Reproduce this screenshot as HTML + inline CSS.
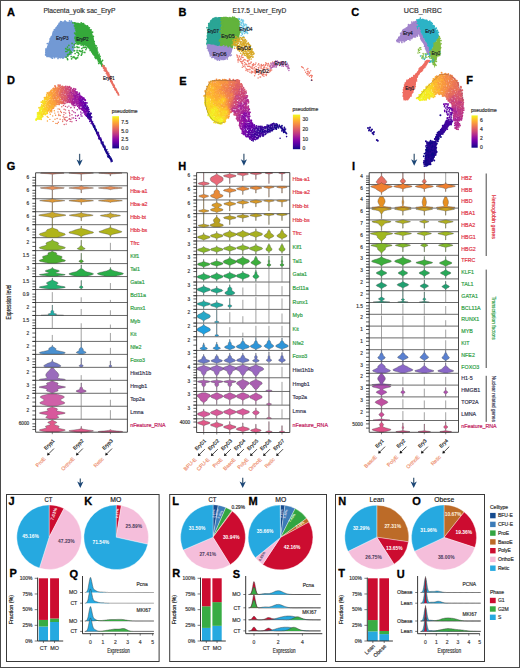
<!DOCTYPE html>
<html><head><meta charset="utf-8"><title>Figure</title>
<style>html,body{margin:0;padding:0;background:#fff;overflow:hidden}svg{display:block}text{font-family:"Liberation Sans",sans-serif}</style>
</head><body>
<svg width="520" height="668" viewBox="0 0 520 668" font-family="Liberation Sans, sans-serif">
<rect width="520" height="668" fill="#fff"/>
<rect x="0.5" y="0.5" width="519" height="667" fill="none" stroke="#4a4a4a" stroke-width="1"/><text x="7" y="16" font-size="11" fill="#000" font-weight="bold" stroke="#000" stroke-width="0.3">A</text><text x="178.6" y="16.2" font-size="11" fill="#000" font-weight="bold" stroke="#000" stroke-width="0.3">B</text><text x="351.3" y="16.4" font-size="11" fill="#000" font-weight="bold" stroke="#000" stroke-width="0.3">C</text><text x="6.9" y="84" font-size="11" fill="#000" font-weight="bold" stroke="#000" stroke-width="0.3">D</text><text x="179.2" y="84.6" font-size="11" fill="#000" font-weight="bold" stroke="#000" stroke-width="0.3">E</text><text x="466.2" y="83.5" font-size="11" fill="#000" font-weight="bold" stroke="#000" stroke-width="0.3">F</text><text x="6.8" y="169.7" font-size="11" fill="#000" font-weight="bold" stroke="#000" stroke-width="0.3">G</text><text x="178.2" y="169.6" font-size="11" fill="#000" font-weight="bold" stroke="#000" stroke-width="0.3">H</text><text x="352" y="169.6" font-size="11" fill="#000" font-weight="bold" stroke="#000" stroke-width="0.3">I</text><text x="8.6" y="504.8" font-size="11" fill="#000" font-weight="bold" stroke="#000" stroke-width="0.3">J</text><text x="84.2" y="504.8" font-size="11" fill="#000" font-weight="bold" stroke="#000" stroke-width="0.3">K</text><text x="172.3" y="504.8" font-size="11" fill="#000" font-weight="bold" stroke="#000" stroke-width="0.3">L</text><text x="248.6" y="504.8" font-size="11" fill="#000" font-weight="bold" stroke="#000" stroke-width="0.3">M</text><text x="338.3" y="504.8" font-size="11" fill="#000" font-weight="bold" stroke="#000" stroke-width="0.3">N</text><text x="412.2" y="505.1" font-size="11" fill="#000" font-weight="bold" stroke="#000" stroke-width="0.3">O</text><text x="9.4" y="577.3" font-size="11" fill="#000" font-weight="bold" stroke="#000" stroke-width="0.3">P</text><text x="69.5" y="577.5" font-size="11" fill="#000" font-weight="bold" stroke="#000" stroke-width="0.3">Q</text><text x="172.2" y="577.3" font-size="11" fill="#000" font-weight="bold" stroke="#000" stroke-width="0.3">R</text><text x="232.8" y="577.5" font-size="11" fill="#000" font-weight="bold" stroke="#000" stroke-width="0.3">S</text><text x="338.2" y="577.3" font-size="11" fill="#000" font-weight="bold" stroke="#000" stroke-width="0.3">T</text><text x="396.8" y="577.5" font-size="11" fill="#000" font-weight="bold" stroke="#000" stroke-width="0.3">U</text><text x="43.4" y="12.6" font-size="6.6" fill="#333" stroke="#333" stroke-width="0.18" textLength="72" lengthAdjust="spacingAndGlyphs">Placenta_yolk sac_EryP</text><text x="232.6" y="12.6" font-size="6.6" fill="#333" stroke="#333" stroke-width="0.18" textLength="53.6" lengthAdjust="spacingAndGlyphs">E17.5_Liver_EryD</text><text x="403.8" y="12.6" font-size="6.6" fill="#333" stroke="#333" stroke-width="0.18" textLength="38" lengthAdjust="spacingAndGlyphs">UCB_nRBC</text><path d="M45.4 55.4 C44.73 54.15 45.57 51.9 46 50 C46.43 48.1 47.25 46 48 44 C48.75 42 49.58 40.08 50.5 38 C51.42 35.92 52.5 33.42 53.5 31.5 C54.5 29.58 55.5 27.92 56.5 26.5 C57.5 25.08 58.25 23.78 59.5 23 C60.75 22.22 62.42 22 64 21.8 C65.58 21.6 67.42 21.68 69 21.8 C70.58 21.92 72.5 21.8 73.5 22.5 C74.5 23.2 74.67 24.42 75 26 C75.33 27.58 75.42 29.67 75.5 32 C75.58 34.33 75.75 37.33 75.5 40 C75.25 42.67 74.75 45.83 74 48 C73.25 50.17 71.92 51.67 71 53 C70.08 54.33 69.33 55.25 68.5 56 C67.67 56.75 67.42 57.17 66 57.5 C64.58 57.83 61.83 58 60 58 C58.17 58 56.67 57.58 55 57.5 C53.33 57.42 51.6 57.85 50 57.5 C48.4 57.15 46.07 56.65 45.4 55.4Z" fill="#7299d4"/><path d="M65 20.8h0M69.5 20.9h0M60.6 21.6h0M61.4 21.8h0M63.1 22.1h0M64.8 21.6h0M65.8 21.6h0M71.3 21.2h0M71.9 22.1h0M59.2 23.3h0M60.2 22.9h0M62.1 23.2h0M63 22.8h0M65.1 23h0M66.4 23.1h0M68.4 23.8h0M68.7 22.9h0M70.7 24h0M72.8 23.1h0M73.5 23.5h0M59.3 25.2h0M60.2 25h0M71.3 24.1h0M72.6 24.2h0M73.4 25.3h0M58 25.8h0M58.5 26.5h0M73.7 26.8h0M56.3 27.6h0M56.9 27.8h0M74.5 28.2h0M54.4 29.5h0M56.2 29.6h0M57 29.3h0M74.2 29.4h0M53.5 31.4h0M54.8 31.3h0M56.1 31.1h0M74.1 30.9h0M75.9 30.4h0M53 32.9h0M54.8 32.9h0M55.4 32.3h0M74.6 32.2h0M53.1 33.7h0M54.6 34h0M74.2 33.7h0M75.7 33.9h0M76.5 34.3h0M52.7 34.9h0M74.2 35.6h0M75.1 34.8h0M76.8 35.3h0M51.3 36.8h0M52.7 36.4h0M73.7 36.3h0M75.3 37.3h0M50.1 38.9h0M51.1 37.7h0M74.6 37.7h0M75.4 38.2h0M50.4 39.5h0M51.3 39.5h0M73.7 39.6h0M75.7 39.8h0M50.6 41.7h0M74.4 40.7h0M75.2 41.8h0M47.3 43.5h0M49.9 42.8h0M74.5 42.3h0M48.7 44.3h0M49.7 44.2h0M73 44.2h0M74.2 44.8h0M48.8 46.3h0M73 45.5h0M74 45.7h0M48.1 46.9h0M73.6 47.5h0M45.8 49h0M46.3 49.1h0M47.9 48.6h0M72.4 48.4h0M73.5 48.7h0M45.9 50.6h0M46.3 50h0M70.8 50.9h0M72.3 50.4h0M73.3 50.3h0M45.8 52.2h0M46.6 52.2h0M69.7 52.4h0M70.3 52.3h0M72.2 52.3h0M47.4 52.8h0M70 53.9h0M70.5 53.4h0M45.6 54.8h0M47.5 54.4h0M47.7 55.4h0M66.7 54.6h0M67.4 54.5h0M69.2 54.5h0M70.9 54.3h0M47.1 56.4h0M48.5 55.7h0M49.6 56.1h0M51.1 56.5h0M53.6 56.1h0M54.9 55.9h0M56.2 56.1h0M57.4 55.7h0M59.3 55.9h0M60.4 56h0M62.3 56.4h0M63.6 56.6h0M64.6 55.7h0M66.8 56.1h0M51.3 57.5h0M52.4 58.2h0M54.5 57.7h0M58 58.4h0M59.1 57.2h0M60.3 57.7h0M62.5 57.9h0M63.4 57.8h0" stroke="#7299d4" stroke-width="1.7" stroke-linecap="round" fill="none"/><path d="M72.1 43.4h0M75.5 43.5h0M77.8 43.4h0M80.3 43.6h0M68.9 45.3h0M74.3 44.7h0M82.8 44.7h0M67.5 47.1h0M72.7 47.1h0M74.9 47.3h0M77 46.5h0M77.3 47.5h0M78.9 47.4h0M83.2 47.4h0M84.5 47.4h0M85.6 47.1h0M65.7 48.7h0M69.3 49h0M81.8 48.5h0M86.5 48.1h0M67.1 49.4h0M68.1 50.2h0M70 50.4h0M74.6 50.5h0M77.1 50.3h0M79.3 50.7h0M82.5 50.6h0M85.9 49.6h0M65.8 51.5h0M66.9 51.5h0M69.9 52.3h0M71.1 51.9h0M74.1 51h0M77 52.2h0M80.3 51.2h0M81.3 51.7h0M82.9 52.3h0M84.8 52.4h0M70.5 53h0M71.5 52.6h0M75.1 53.5h0M78.2 52.8h0M79 54h0M81.9 53.9h0M67.5 54.6h0M68.4 54.4h0M69.4 54.2h0M78.2 55.6h0M81.3 55.2h0M66.1 57.2h0M67.9 56h0M71.2 56.6h0M73.2 56.8h0M74.3 57h0M67.4 58.7h0M71.6 58.8h0M73 57.5h0M75.1 58.1h0M76.5 58.2h0M77.6 57.7h0M67.7 59.6h0M75.9 59h0" stroke="#35a93a" stroke-width="1.7" stroke-linecap="round" fill="none"/><path d="M73.5 22.5 C74 22 76.25 22.75 78 23 C79.75 23.25 82.33 23.42 84 24 C85.67 24.58 86.75 25.17 88 26.5 C89.25 27.83 90.58 30.08 91.5 32 C92.42 33.92 92.92 36 93.5 38 C94.08 40 94.45 42.08 95 44 C95.55 45.92 96.2 47.75 96.8 49.5 C97.4 51.25 97.98 53 98.6 54.5 C99.22 56 99.93 57.17 100.5 58.5 C101.07 59.83 101.45 61.25 102 62.5 C102.55 63.75 103.8 65.33 103.8 66 C103.8 66.67 102.87 67.27 102 66.5 C101.13 65.73 99.68 62.82 98.6 61.4 C97.52 59.98 96.47 59.15 95.5 58 C94.53 56.85 93.72 55.83 92.8 54.5 C91.88 53.17 90.97 51.35 90 50 C89.03 48.65 88.33 47.32 87 46.4 C85.67 45.48 83.67 44.9 82 44.5 C80.33 44.1 78.08 44.75 77 44 C75.92 43.25 75.75 42 75.5 40 C75.25 38 75.58 34.33 75.5 32 C75.42 29.67 75.33 27.58 75 26 C74.67 24.42 73 23 73.5 22.5Z" fill="#35a93a"/><path d="M72.9 22.8h0M74.7 22.9h0M81.2 22.8h0M75.4 24.3h0M76.2 23.9h0M78 23.3h0M78.9 23.9h0M80.5 24.3h0M82.2 23.5h0M83.6 23.6h0M74.4 25.8h0M76.6 25.4h0M79.4 25h0M80.5 24.9h0M83 25.7h0M84.6 25.8h0M84.9 25.7h0M87.4 25.8h0M75.2 26.9h0M76.5 26.5h0M87.4 27.1h0M88 26.9h0M75.3 28.6h0M77 29h0M87.1 28.5h0M88.1 29.1h0M89.4 27.8h0M76.2 30.2h0M88.5 30.5h0M90.4 30.2h0M91.1 29.9h0M76.3 32h0M88.4 31.1h0M90.6 31.3h0M91.5 32h0M92.6 32.1h0M74.6 33.1h0M76.3 33.4h0M77.4 32.5h0M89.8 33.5h0M91.6 33.1h0M75.5 34.2h0M76.5 34.6h0M77.5 34.5h0M91.7 35h0M76.7 36.2h0M90.5 36h0M91.2 35.6h0M93.4 36.3h0M75 37.2h0M76.5 37.1h0M91.2 37.3h0M92.7 37.8h0M75 38.6h0M75.9 39.2h0M77.5 39.2h0M91.5 38.5h0M93 39h0M75.6 40.6h0M76.9 40.3h0M92.5 39.9h0M76.4 41.9h0M77.8 42.6h0M93 41.9h0M94.2 41.6h0M77 43.8h0M78.2 44.1h0M79 43.6h0M81.2 43.4h0M83.1 44.1h0M83.9 43.7h0M85.9 43.8h0M93.7 43.9h0M94.4 44.1h0M81.2 45.1h0M82.7 44.5h0M83.7 45.4h0M85.8 45h0M86.7 45h0M93.4 45.3h0M94.1 45.1h0M95.6 45.5h0M87.4 46.2h0M87.9 47h0M89.6 46.4h0M93.9 46.3h0M96.4 46h0M89 47.8h0M90.5 47.5h0M91.2 48.1h0M96.1 48.4h0M97.1 47.8h0M90.3 49.2h0M91.6 49.3h0M95.1 50.1h0M96.4 49.1h0M97 49h0M90.2 50.5h0M91.9 51.3h0M96 51.5h0M97 50.4h0M92 51.9h0M92.8 52.4h0M96.2 52h0M97.8 52.2h0M92.7 53.6h0M94.7 54.2h0M95.6 54.5h0M96.8 54.6h0M99.1 54.2h0M94.4 55.1h0M95.8 55.2h0M97 55.6h0M99 55.3h0M99.8 56.1h0M95.1 57.4h0M95.8 56.4h0M98 56.7h0M99.3 57.5h0M100.1 56.6h0M95.9 58.4h0M97.7 58h0M99.2 57.9h0M100.1 58.9h0M98.1 60.1h0M99.2 59.4h0M100.2 60.1h0M102.6 60.3h0M98.5 61.7h0M101.1 61.9h0M101.7 61.5h0M98.7 63.5h0M99.9 62.6h0M101.8 64.8h0M102.1 66.3h0M104 65.8h0" stroke="#35a93a" stroke-width="1.7" stroke-linecap="round" fill="none"/><path d="M102.3 65 C102.58 64.8 103.25 64.63 104.2 65.8 C105.15 66.97 106.78 69.8 108 72 C109.22 74.2 110.33 76.58 111.5 79 C112.67 81.42 113.7 83.97 115 86.5 C116.3 89.03 118.75 92.73 119.3 94.2 C119.85 95.67 119.18 96.33 118.3 95.3 C117.42 94.27 115.38 90.47 114 88 C112.62 85.53 111.25 82.92 110 80.5 C108.75 78.08 107.75 75.75 106.5 73.5 C105.25 71.25 103.2 68.42 102.5 67 C101.8 65.58 102.02 65.2 102.3 65Z" fill="#ea6f62"/><path d="M102.7 65.1h0M102.9 66.2h0M103.5 66.3h0M103.7 67.8h0M104.7 67.2h0M105.9 67.8h0M103.4 68.5h0M105.1 68.5h0M106.2 68.7h0M104.4 70h0M106.1 70h0M104.1 70.5h0M105 71.2h0M105.8 71h0M106.7 70.6h0M106.3 71.6h0M106.7 71.7h0M107.8 72.1h0M106.1 73.3h0M107.3 73.5h0M108.3 73h0M108.8 73h0M107 74.4h0M108 74.4h0M108.8 73.9h0M107.2 75.2h0M108.1 74.9h0M109.2 74.7h0M108 76.4h0M109 76.3h0M110.6 76.2h0M107.9 77h0M109.4 77.2h0M110.6 77.4h0M109.4 78.8h0M110.4 78.9h0M111.3 78.4h0M110.4 79.1h0M111.1 80.1h0M110.4 80.9h0M111.3 80.8h0M110.5 81.6h0M111.2 81.7h0M112.1 81.5h0M111.4 82.5h0M112.3 82.6h0M111.9 83.7h0M112.3 84h0M113.5 84.3h0M112.8 85.2h0M113.9 84.6h0M114.5 85.6h0M113.3 86.1h0M113.4 87.3h0M114.5 87.2h0M114.6 88.3h0M116 88.8h0M114.8 89.7h0M115.4 90h0M116.2 90.8h0M116.6 90.2h0M116.5 92h0M117.1 92.7h0M118 92.9h0M118.3 94.1h0M118.2 95h0" stroke="#ea6f62" stroke-width="1.3" stroke-linecap="round" fill="none"/><text x="56" y="39.6" font-size="4.9" fill="#1a1a2a" stroke="#1a1a2a" stroke-width="0.18" textLength="12.5" lengthAdjust="spacingAndGlyphs">EryP3</text><text x="76.2" y="41.2" font-size="4.9" fill="#1a1a2a" stroke="#1a1a2a" stroke-width="0.18" textLength="12.4" lengthAdjust="spacingAndGlyphs">EryP2</text><text x="103" y="80.2" font-size="4.9" fill="#1a1a2a" stroke="#1a1a2a" stroke-width="0.18" textLength="11.6" lengthAdjust="spacingAndGlyphs">EryP1</text><path d="M83.2 109.3h0M84.8 114.3h0" stroke="#7303a7" stroke-width="1.44" stroke-linecap="round" fill="none"/><path d="M81.7 109.3h0M82.5 110.2h0M82 113h0" stroke="#860aa5" stroke-width="1.44" stroke-linecap="round" fill="none"/><path d="M79.3 108.7h0M80.7 112h0M80.9 114.3h0M81.1 115.9h0" stroke="#8f0da4" stroke-width="1.44" stroke-linecap="round" fill="none"/><path d="M73.8 102.9h0M77.6 106.4h0M79.4 106.3h0M82.1 116.1h0M79.3 118.2h0" stroke="#98149f" stroke-width="1.44" stroke-linecap="round" fill="none"/><path d="M77.3 109.8h0M78.4 115.3h0M75.7 118.4h0" stroke="#a01c9a" stroke-width="1.44" stroke-linecap="round" fill="none"/><path d="M75.1 104.9h0M75.6 115.7h0" stroke="#a82395" stroke-width="1.44" stroke-linecap="round" fill="none"/><path d="M71.6 103.5h0M73.3 105.8h0M73.7 111.9h0M75.2 112.7h0M77.5 116h0M73.6 117.9h0M76.3 120.5h0" stroke="#b12a90" stroke-width="1.44" stroke-linecap="round" fill="none"/><path d="M72.1 104.7h0M74.4 107.7h0" stroke="#b8318a" stroke-width="1.44" stroke-linecap="round" fill="none"/><path d="M68.9 106.1h0M71 107.4h0M70.8 107.8h0" stroke="#be3884" stroke-width="1.44" stroke-linecap="round" fill="none"/><path d="M67.4 107.1h0M72.2 110.8h0M72 114.8h0M72.1 118h0" stroke="#c5407e" stroke-width="1.44" stroke-linecap="round" fill="none"/><path d="M65.8 103h0M69.7 113.7h0M69.8 115.7h0M70.8 119.5h0M70.2 121.4h0M71.9 121.8h0" stroke="#cc4778" stroke-width="1.44" stroke-linecap="round" fill="none"/><path d="M65.5 106.4h0M68.9 110.5h0M69.3 112.2h0M69.5 118.7h0M67.2 120.5h0M66.6 121.1h0" stroke="#d14e72" stroke-width="1.44" stroke-linecap="round" fill="none"/><path d="M63.7 103.6h0M63.5 105.5h0M65.5 109.9h0M65.7 113.1h0M65.2 117.5h0M66.9 117.3h0M69.1 119.2h0M66.2 124.1h0" stroke="#d6566d" stroke-width="1.44" stroke-linecap="round" fill="none"/><path d="M64.1 109.3h0M64 112.5h0M64.2 124.5h0" stroke="#dc5d68" stroke-width="1.44" stroke-linecap="round" fill="none"/><path d="M63.9 114.7h0M63.2 116.7h0M64.5 119.3h0M65.3 120h0" stroke="#e16462" stroke-width="1.44" stroke-linecap="round" fill="none"/><path d="M61.8 106.8h0M62.7 119.9h0M62.7 121.6h0" stroke="#e56c5c" stroke-width="1.44" stroke-linecap="round" fill="none"/><path d="M60.6 111.2h0M58 111.9h0M61.4 112.5h0M58.9 115.5h0M64.1 118h0M58.3 122.2h0" stroke="#ea7456" stroke-width="1.44" stroke-linecap="round" fill="none"/><path d="M58.1 108.9h0M59.6 109.2h0M60.2 115.5h0M57.1 118.5h0M60.1 119.3h0" stroke="#ee7c51" stroke-width="1.44" stroke-linecap="round" fill="none"/><path d="M58.8 114.2h0" stroke="#f2844b" stroke-width="1.44" stroke-linecap="round" fill="none"/><path d="M55.9 106h0M55.6 115.3h0M53.1 121.4h0M55.9 123.4h0M57.4 123.6h0" stroke="#f48c46" stroke-width="1.44" stroke-linecap="round" fill="none"/><path d="M52.4 108.7h0M51.7 111.9h0M54.8 113.1h0M52.7 115.9h0M49.9 119.4h0M55 119.3h0" stroke="#f79540" stroke-width="1.44" stroke-linecap="round" fill="none"/><path d="M51.6 109.9h0M54.3 110.8h0" stroke="#fa9e3b" stroke-width="1.44" stroke-linecap="round" fill="none"/><path d="M49.8 112.6h0M50.3 114.2h0M47.4 121h0" stroke="#fca636" stroke-width="1.44" stroke-linecap="round" fill="none"/><path d="M47.2 116.5h0M48.1 117.4h0" stroke="#fcb032" stroke-width="1.44" stroke-linecap="round" fill="none"/><path d="M90.5 113.5h0M89.5 114.5h0M90.1 115.2h0M89.9 117.2h0" stroke="#270692" stroke-width="1.9" stroke-linecap="round" fill="none"/><path d="M90.2 114.4h0M87.9 115.2h0M89.2 116h0M88.1 117h0M91.5 117h0" stroke="#340598" stroke-width="1.9" stroke-linecap="round" fill="none"/><path d="M84.3 105.5h0M86.5 108.3h0M88.3 112h0M89.2 111.6h0M88.8 113.5h0M91 113.5h0M88.7 116.4h0M88.9 117.9h0M90.4 117.8h0" stroke="#41049d" stroke-width="1.9" stroke-linecap="round" fill="none"/><path d="M85.7 104.7h0M85.5 106.1h0M87.2 106.1h0M85.2 106.8h0M88.1 107.7h0M87.5 108.7h0M87.7 113.9h0" stroke="#4b03a0" stroke-width="1.9" stroke-linecap="round" fill="none"/><path d="M85.4 102.8h0M83.6 106.8h0M84.5 107.7h0M86.9 107.6h0M85.7 108.9h0M86.6 109.3h0M87.9 110.1h0M88.7 109.5h0M86.9 111.5h0M87.2 113.3h0M87.5 113.3h0" stroke="#5602a2" stroke-width="1.9" stroke-linecap="round" fill="none"/><path d="M82.4 99.3h0M81.8 100.1h0M80.8 101.5h0M86.9 102.9h0M84.2 104.1h0M85 103.7h0M82.1 104.9h0M84.7 104.7h0M83.1 108h0M86.4 110.9h0M87.6 110.7h0" stroke="#6001a5" stroke-width="1.9" stroke-linecap="round" fill="none"/><path d="M83.2 98.1h0M82.6 99h0M81.9 100.9h0M83.4 101.6h0M81.7 102.6h0M83.2 102.9h0M84.8 102.9h0M83.3 105.9h0M82.4 107h0M82 108.5h0M84.3 108.4h0M85.7 109.5h0M86.2 114.5h0M86.2 115.2h0" stroke="#6a00a8" stroke-width="1.9" stroke-linecap="round" fill="none"/><path d="M80.8 98.7h0M80.9 100.3h0M82.9 99.8h0M84.7 99.8h0M79.7 100.7h0M83.1 103.1h0M82.8 104.3h0M81.9 105.7h0M83.6 110.6h0M84.5 110.3h0M85.4 111.1h0M84 111.9h0M85.7 111.5h0M85.8 113h0" stroke="#7303a7" stroke-width="1.9" stroke-linecap="round" fill="none"/><path d="M80.4 96.3h0M83.9 98.3h0M79.4 99.9h0M85.3 100.3h0M79.6 102.4h0M80.6 102.4h0M81.6 103.9h0M79.3 105h0M80.7 105.8h0M82.6 109.4h0M84.3 110.1h0M84.5 112.9h0M85.7 115.1h0" stroke="#7c06a6" stroke-width="1.9" stroke-linecap="round" fill="none"/><path d="M77.6 94.8h0M75.6 96.1h0M81.4 96.6h0M80.8 97.3h0M82.1 97.3h0M79.7 98.7h0M79.1 103.5h0M80.5 103.6h0M80.4 104.5h0" stroke="#860aa5" stroke-width="1.9" stroke-linecap="round" fill="none"/><path d="M79.3 93.3h0M78.6 94.8h0M79.6 94.9h0M74.8 96h0M79.7 96.8h0M79.3 98h0M75.6 98.3h0M78.8 98.4h0M77.5 99.5h0M78.4 99.7h0M74.9 100.9h0M78.8 101.9h0M79.5 105.7h0M81.6 109.4h0" stroke="#8f0da4" stroke-width="1.9" stroke-linecap="round" fill="none"/><path d="M76.8 92.3h0M77.4 94.1h0M74.7 95.6h0M76.1 95.2h0M77.1 96.2h0M78.2 96.9h0M74.6 97.1h0M75.9 97.7h0M74.9 98.5h0M76.1 99.7h0M76.2 101.2h0M78 101h0M74.6 102.3h0M76.9 102.8h0M77.1 103.7h0M78.2 103.3h0M76.9 104.9h0M79 107.6h0M80.2 108.4h0" stroke="#98149f" stroke-width="1.9" stroke-linecap="round" fill="none"/><path d="M75.2 91.7h0M77 92.1h0M76.4 92.9h0M74 94.2h0M76.2 93.7h0M73.8 95.2h0M73.3 96.1h0M77.1 97.4h0M78 97.1h0M73.1 98.7h0M77.2 99.3h0M74 99.6h0M75.2 99.9h0M77.1 101.6h0M72.3 102h0M73.9 102h0M76.1 102.6h0M73.5 103.4h0M74.6 103.1h0M76.3 103.1h0M78.3 105.3h0M74.9 105.5h0M78.3 105.5h0" stroke="#a01c9a" stroke-width="1.9" stroke-linecap="round" fill="none"/><path d="M75.5 89.2h0M72.5 90.1h0M74.7 90.7h0M70.3 91.9h0M71.1 92.4h0M72.5 93.3h0M75.1 92.5h0M75.1 93.9h0M72.6 96.1h0M72.7 99.1h0M72.7 100.3h0M72.3 101.7h0M73 101.6h0M72 103.5h0M73.2 104.6h0" stroke="#a82395" stroke-width="1.9" stroke-linecap="round" fill="none"/><path d="M70.6 91.4h0M70 92.6h0M73.5 93h0M71.8 94.4h0M71.2 95.4h0M70 97.8h0M71.3 98.9h0M70.2 100.3h0M71.5 101.5h0M71.4 102.8h0" stroke="#b12a90" stroke-width="1.9" stroke-linecap="round" fill="none"/><path d="M71.2 88.1h0M70 89.5h0M72.8 89.6h0M73.9 88.7h0M73.2 90.7h0M72.5 91.2h0M73.5 91.6h0M71 93.7h0M72.1 95.4h0M68.8 96.8h0M68.6 97.2h0M71.8 97.5h0M73.4 97.1h0M69.1 99.2h0M70 98.7h0M68.7 100.3h0M71 100.3h0M69.8 102.2h0" stroke="#b8318a" stroke-width="1.9" stroke-linecap="round" fill="none"/><path d="M70.8 88.9h0M70.7 90.7h0M69 93.2h0M67.5 95.5h0M68.6 95.7h0M69.9 94.9h0M69.9 96.3h0M71.5 96.3h0M71.2 97.8h0M70.1 101.7h0M69.1 102.1h0" stroke="#be3884" stroke-width="1.9" stroke-linecap="round" fill="none"/><path d="M69.5 86.8h0M68.2 87.8h0M69.9 87.5h0M69.5 90.5h0M67.1 91.9h0M67.4 93.5h0M68.9 94h0M69.6 93.8h0M67.1 97.4h0M67.3 99.1h0M68 99.5h0M68.4 101.6h0M67.2 102.3h0" stroke="#c5407e" stroke-width="1.9" stroke-linecap="round" fill="none"/><path d="M65.8 86.5h0M65.5 88.2h0M66.6 88.3h0M67.4 88.2h0M68.8 89.3h0M65.4 89.9h0M69 90.8h0M66 91.6h0M68.2 91.9h0M64.1 92.4h0M64.6 93.6h0M66.8 94.7h0M67.7 96.8h0M64.9 100h0M66.7 100.8h0M68 101.2h0" stroke="#cc4778" stroke-width="1.9" stroke-linecap="round" fill="none"/><path d="M67.7 86.6h0M65.5 89.5h0M66.4 89h0M67.3 89.4h0M66.4 90.7h0M67.1 89.9h0M65.2 92.1h0M66.6 93.2h0M67.6 92.4h0M66.2 94h0M64.8 95.6h0M65.8 96.2h0M64.2 98.7h0M66.5 98.6h0M63.7 100.3h0" stroke="#d14e72" stroke-width="1.9" stroke-linecap="round" fill="none"/><path d="M64.7 87.1h0M63.2 89.5h0M63.6 88.8h0M64.4 90.6h0M62.5 92.6h0M61.9 94.3h0M62 96.3h0M66.5 97.3h0M62.3 99.5h0M65.8 99.7h0M65.6 101.1h0M63.4 102.3h0M64.6 103.5h0" stroke="#d6566d" stroke-width="1.9" stroke-linecap="round" fill="none"/><path d="M62.5 86.5h0M64 87.3h0M60.6 87.7h0M61.9 88.3h0M63 88.3h0M61 90.4h0M62.7 90.5h0M61.1 91.2h0M64.3 91.6h0M61.6 92.3h0M65 92.8h0M62.8 94.3h0M63.7 94.1h0M63 94.9h0M63.7 95.3h0M64 95.9h0M65 96.6h0M61.4 97.4h0M63.5 97.5h0M65.1 97.2h0M61.9 98.3h0M62.4 98.8h0M65.3 98.5h0M63.7 101.5h0" stroke="#dc5d68" stroke-width="1.9" stroke-linecap="round" fill="none"/><path d="M60 85.2h0M60.2 87.1h0M63.8 88.4h0M60.7 90.2h0M59 91.9h0M62.5 91.3h0M59.8 94.2h0M60 95.5h0M61.1 95h0M60 96.4h0M62.5 96.9h0M62.7 97.4h0M61 99.6h0M63.2 101.5h0M61.4 102.7h0M62.8 102.3h0M62.2 103.2h0" stroke="#e16462" stroke-width="1.9" stroke-linecap="round" fill="none"/><path d="M58.2 85.1h0M61.9 86.8h0M61.5 89.7h0M58.3 90.5h0M60.5 91.7h0M59.3 93.3h0M60.6 93h0M59.5 93.8h0M59.2 95h0" stroke="#e56c5c" stroke-width="1.9" stroke-linecap="round" fill="none"/><path d="M59.1 86.4h0M57.8 88.1h0M59.1 88.5h0M60.2 89.5h0M57.9 94.7h0M60.2 97.1h0M60.4 101.7h0M61.1 101.2h0M60.3 102.9h0M61.7 103.2h0" stroke="#ea7456" stroke-width="1.9" stroke-linecap="round" fill="none"/><path d="M55 86h0M55.5 87h0M55.8 88.2h0M58.1 89.2h0M58.8 89.3h0M57 90.4h0M58.8 90.7h0M57.4 91.6h0M56.5 92.7h0M57.1 94h0M57.2 96.7h0M58.8 96.5h0M57.2 98h0M56.5 100.5h0M60.5 99.6h0M59 101.3h0M59.5 102.6h0M59 103.1h0M57 104.3h0M59.2 104.4h0" stroke="#ee7c51" stroke-width="1.9" stroke-linecap="round" fill="none"/><path d="M58.4 86.6h0M54.3 88.9h0M56.3 89.1h0M55.3 92.1h0M56.9 91.3h0M55.8 92.7h0M57.4 92.7h0M57.9 93.9h0M54.1 95.4h0M56.6 95.2h0M58.2 96.1h0M54.8 97.3h0M58.7 97.5h0M55 98.3h0M59.4 98.8h0M59.9 99.2h0M55.7 100.1h0M59 100.4h0M54.2 101.1h0M56.8 101.2h0M56.8 102.2h0M58.3 102.2h0M56 103.6h0" stroke="#f2844b" stroke-width="1.9" stroke-linecap="round" fill="none"/><path d="M57.1 88.1h0M53.2 88.8h0M55 89.2h0M54.2 90.3h0M54.7 93.9h0M53.6 95.4h0M54.1 96.3h0M55 95.9h0M55.7 97.8h0M52.9 98.5h0M54.3 98.4h0M56.3 99h0M58.3 100.5h0M57.4 101.3h0M58.3 104.1h0" stroke="#f48c46" stroke-width="1.9" stroke-linecap="round" fill="none"/><path d="M53.8 88.4h0M55.2 90.5h0M51.4 92.1h0M53.4 91.5h0M54.5 93.1h0M50.9 94.3h0M53.6 94.4h0M55.4 94.1h0M51.6 95h0M55.1 95.7h0M52.7 96.3h0M52.2 98.1h0M52.9 97.8h0M57.6 97.7h0M57.5 98.7h0M53.8 100.1h0M53 101.4h0M55.2 101.3h0M55.7 102.1h0M56.6 103.7h0M54.2 104.7h0M54.7 105.6h0M53.4 108.1h0" stroke="#f79540" stroke-width="1.9" stroke-linecap="round" fill="none"/><path d="M53 90.3h0M50.7 91.3h0M54.3 91.6h0M49.1 92.5h0M51.4 93.3h0M53 92.8h0M52.2 94h0M51.6 96.8h0M51 98.8h0M53.4 99.9h0M50.8 100.8h0M52.2 102.3h0M53.1 102.4h0M54.8 102.2h0M54.7 103.2h0M53.4 104.7h0M55.1 104.6h0M52.8 107.6h0M50.2 111h0M51.4 110.8h0" stroke="#fa9e3b" stroke-width="1.9" stroke-linecap="round" fill="none"/><path d="M51.6 90.3h0M50.3 92.7h0M49.4 94.1h0M51 95.9h0M51.6 98.5h0M49.5 100.5h0M50.4 100.4h0M51.9 99.9h0M49.6 101.2h0M52.3 101.4h0M50.8 102.3h0M49.4 103.1h0M50.4 103.5h0M52 103.6h0M53.5 103.2h0M51.2 104.3h0M52.2 104.7h0M48.3 105.7h0M53.9 106.8h0M51.2 110h0" stroke="#fca636" stroke-width="1.9" stroke-linecap="round" fill="none"/><path d="M47.3 93h0M48.4 94h0M48.5 95.5h0M49.4 95.4h0M51.1 95.3h0M45.8 98h0M50.8 97.7h0M49.4 98.6h0M47.8 99.7h0M48.7 101.6h0M48.1 102.2h0M49.4 102h0M47.2 104.3h0M49.7 105.3h0M49.3 105.7h0M50.3 106h0M51.7 105.8h0M52.9 106h0M49.2 107.3h0M50.7 107h0M52.1 107.2h0M51.5 108h0" stroke="#fcb032" stroke-width="1.9" stroke-linecap="round" fill="none"/><path d="M46.8 94.9h0M49.1 96.4h0M44.5 97.8h0M46.8 97.4h0M48.1 97.3h0M46.4 99.2h0M47.5 99.8h0M47.3 102.7h0M47.1 103.4h0M48.6 103.3h0M48.6 104.7h0M46.1 105.7h0M46.9 107h0M47.8 107.5h0M48.8 108.9h0M49 108.7h0M50.6 107.9h0M47.5 110.1h0M48.5 109.1h0M49.7 109.2h0M48.6 110.7h0" stroke="#fcba2e" stroke-width="1.9" stroke-linecap="round" fill="none"/><path d="M46.6 96.4h0M48.6 96.9h0M49 97.1h0M46.7 98.9h0M48.3 98.9h0M45.8 101.4h0M46.8 101.3h0M43.6 105.3h0M46.4 105.1h0M44 106.2h0M46.8 105.5h0M46.3 107.1h0M47.1 108.1h0M44.7 109.4h0M46.2 109.7h0M47 110.9h0M47.2 112h0" stroke="#fcc429" stroke-width="1.9" stroke-linecap="round" fill="none"/><path d="M44.9 99h0M45.4 99.5h0M42.8 101h0M43.1 102.9h0M45.6 102.9h0M43.3 103.6h0M45.5 103.2h0M44.8 104.3h0M44.5 106.4h0M45 107.7h0M45.2 108.4h0M46 108.8h0M44 109.1h0M43 110.3h0M41.9 112.1h0M43.5 113.2h0M47.3 113.2h0M43.2 114.2h0M45.6 114.1h0" stroke="#fcce25" stroke-width="1.9" stroke-linecap="round" fill="none"/><path d="M44.6 99.7h0M44.3 101.3h0M41.3 102.1h0M42.5 102.4h0M44.8 102.2h0M44.3 103.7h0M41.8 104.9h0M42.5 105.9h0M39.1 107.7h0M41.1 107.3h0M42.6 107.5h0M43 106.7h0M43.3 108.7h0M42.1 109.3h0M39.9 110.7h0M42.8 111.2h0M44.5 111h0M45.8 110.4h0M44.5 112.3h0M45.8 111.6h0M41.9 113.6h0M44.5 113.6h0M41.3 114.1h0M42.3 114.9h0M45.2 114.6h0M41.5 115.5h0M42.6 116.6h0M41.1 119.3h0" stroke="#f9d924" stroke-width="1.9" stroke-linecap="round" fill="none"/><path d="M43.3 101.7h0M41.5 106.5h0M41.1 108h0M40.2 109.9h0M38.9 112.5h0M39.7 112.1h0M43.9 112.2h0M38.4 113h0M39.4 113h0M41.2 113h0M46.2 113.3h0M38.8 114.3h0M40.2 114.1h0M42.4 116.1h0M39.5 116.9h0M41.3 117.3h0M37.5 118.9h0M39.5 118.9h0" stroke="#f6e423" stroke-width="1.9" stroke-linecap="round" fill="none"/><path d="M40.2 108.9h0M42.1 108.5h0M40.8 109.9h0M40.7 110.8h0M41.1 112h0M37.6 113h0M37.6 114.9h0M40.4 115.9h0M37.4 118.2h0M39.8 118.2h0M40.9 117.8h0M36.2 119.2h0M38.9 118.8h0" stroke="#f3ee22" stroke-width="1.9" stroke-linecap="round" fill="none"/><path d="M39 115.2h0M37.6 116.8h0M38.7 116.3h0M38.6 117.9h0M36.1 120.1h0" stroke="#f0f921" stroke-width="1.9" stroke-linecap="round" fill="none"/><path d="M88.5 113 C89.33 113.42 90.42 116.75 91.5 119 C92.58 121.25 93.75 123.92 95 126.5 C96.25 129.08 97.67 131.83 99 134.5 C100.33 137.17 101.67 139.83 103 142.5 C104.33 145.17 105.8 148.17 107 150.5 C108.2 152.83 109.27 154.78 110.2 156.5 C111.13 158.22 112.4 159.92 112.6 160.8 C112.8 161.68 112.07 162.35 111.4 161.8 C110.73 161.25 109.62 159.25 108.6 157.5 C107.58 155.75 106.52 153.67 105.3 151.3 C104.08 148.93 102.63 145.97 101.3 143.3 C99.97 140.63 98.63 137.97 97.3 135.3 C95.97 132.63 94.6 129.85 93.3 127.3 C92 124.75 90.63 121.8 89.5 120 C88.37 118.2 86.67 117.67 86.5 116.5 C86.33 115.33 87.67 112.58 88.5 113Z" fill="#1d078e"/><path d="M94.9 126.4h0M95.1 128h0M95.6 130.5h0M96.4 130.7h0M102.9 144.4h0M102.4 144.7h0M103.7 144.9h0M104.8 149h0M104.8 149.7h0M106.9 149.5h0M105.8 151.9h0M107 152.9h0M107.3 152.9h0M107.3 155.1h0M108.7 155.4h0M108.1 156.6h0M109.3 155.8h0M110.1 156.7h0M108.8 157.5h0M110.3 158.8h0M111.3 158.2h0M110.6 159.1h0M111.8 159.8h0M112.3 161.1h0" stroke="#0d0887" stroke-width="1.4" stroke-linecap="round" fill="none"/><path d="M90 116.8h0M93.4 126.6h0M93.8 127.1h0M94.1 127.4h0M95 129.2h0M95.9 129.2h0M96 129.5h0M98.1 132.2h0M101.3 142.4h0M102.6 142.1h0M103.3 142.1h0M102.3 144.3h0M104.8 145.9h0M104.4 147.3h0M105.4 147h0M105.1 148.7h0M105.6 149.7h0M105.4 150.7h0M106.5 150.6h0M106.3 151.7h0M108 152h0M107.9 154.1h0M107.6 156.8h0M109.6 157.8h0M111.3 160.4h0M111.1 161.8h0" stroke="#1a078c" stroke-width="1.4" stroke-linecap="round" fill="none"/><path d="M89.7 114.7h0M88.9 115.6h0M93.6 123.9h0M93.2 125h0M94.6 125.5h0M96.3 129.6h0M96.6 132h0M96.8 133.4h0M101 140.5h0M102.4 143.5h0M103.2 143.1h0M103 146h0M103.4 147h0M106.5 153.6h0M108.9 153.7h0" stroke="#270692" stroke-width="1.4" stroke-linecap="round" fill="none"/><path d="M88.5 117.6h0M90.3 117.7h0M92.1 123.6h0M97.9 132.7h0M98.6 132.9h0M98.6 138.7h0M100 139h0M99.9 139.3h0M101.3 143.2h0" stroke="#340598" stroke-width="1.4" stroke-linecap="round" fill="none"/><path d="M88 114.3h0M88.4 115.4h0M89.2 116.7h0M90.8 118.3h0M89.4 119.6h0M91.2 120.1h0M90.9 120.9h0M92.7 121.7h0M92.4 124.2h0M97.1 134.1h0M97.4 134.6h0M98.4 133.8h0M97.9 135.3h0M99.2 136.1h0M99.9 137.8h0M101 138.2h0M101.4 139.8h0" stroke="#41049d" stroke-width="1.4" stroke-linecap="round" fill="none"/><path d="M87.8 116.2h0M87.9 118.1h0M89.7 121.5h0M99.3 135.1h0M98.2 135.9h0M98.7 137.7h0" stroke="#4b03a0" stroke-width="1.4" stroke-linecap="round" fill="none"/><path d="M88.6 118.8h0M89.8 118.9h0M91.6 122.4h0M91.1 123.5h0" stroke="#5602a2" stroke-width="1.4" stroke-linecap="round" fill="none"/><path d="M86.5 116.4h0M90.2 120.3h0" stroke="#6001a5" stroke-width="1.4" stroke-linecap="round" fill="none"/><defs><linearGradient id="gD" x1="0" y1="0" x2="0" y2="1"><stop offset="0" stop-color="#f0f921"/><stop offset="0.1" stop-color="#fcce25"/><stop offset="0.2" stop-color="#fca636"/><stop offset="0.3" stop-color="#f2844b"/><stop offset="0.4" stop-color="#e16462"/><stop offset="0.5" stop-color="#cc4778"/><stop offset="0.6" stop-color="#b12a90"/><stop offset="0.7" stop-color="#8f0da4"/><stop offset="0.8" stop-color="#6a00a8"/><stop offset="0.9" stop-color="#41049d"/><stop offset="1" stop-color="#0d0887"/></linearGradient></defs><rect x="112.3" y="116.2" width="6.7" height="32.2" fill="url(#gD)"/><text x="111.8" y="113" font-size="5" fill="#333" stroke="#333" stroke-width="0.18">pseudotime</text><text x="121.3" y="124.2" font-size="5" fill="#333" stroke="#333" stroke-width="0.18">7.5</text><text x="121.3" y="132.8" font-size="5" fill="#333" stroke="#333" stroke-width="0.18">5.0</text><text x="121.3" y="141" font-size="5" fill="#333" stroke="#333" stroke-width="0.18">2.5</text><text x="121.3" y="149.7" font-size="5" fill="#333" stroke="#333" stroke-width="0.18">0.0</text><path d="M207.5 46 C205.28 44.67 207.18 40.67 207.2 38 C207.22 35.33 207.33 32.33 207.6 30 C207.87 27.67 208.23 25.67 208.8 24 C209.37 22.33 210.05 21 211 20 C211.95 19 212.67 18.42 214.5 18 C216.33 17.58 220.83 16.33 222 17.5 C223.17 18.67 221.67 22.42 221.5 25 C221.33 27.58 221.12 30.5 221 33 C220.88 35.5 220.88 37.83 220.8 40 C220.72 42.17 222.72 45 220.5 46 C218.28 47 209.72 47.33 207.5 46Z" fill="#2aa595"/><path d="M214.5 18.1h0M216 17.6h0M220.9 18h0M213.1 18.6h0M214.5 19.5h0M216.9 19.3h0M217.7 18.7h0M219.8 19h0M221 18.4h0M221.8 19.5h0M211.1 20.6h0M213.4 21h0M214.8 20.2h0M220.1 20.4h0M221.7 21h0M212.1 22.4h0M220.5 21.7h0M208.7 23.6h0M210.6 24.1h0M211.5 23.3h0M220.6 23.5h0M222.1 23.4h0M208.7 25.2h0M210.8 24.4h0M219.4 24.7h0M221.3 24.8h0M209.3 26.8h0M210.1 26h0M219.7 26h0M220.9 26.1h0M207 27.7h0M209.3 27.4h0M221.2 27.8h0M207.6 30h0M209.3 30h0M209.5 29.6h0M219.6 29.3h0M220.4 29.3h0M208.9 31.2h0M209.7 30.5h0M219 31h0M220.9 30.6h0M207.7 32.5h0M209.3 33.1h0M219.2 33h0M220.3 33.2h0M207.6 33.8h0M208.2 33.4h0M219.1 34.2h0M221.1 34.3h0M207.3 35.9h0M209 35.8h0M219.2 34.9h0M220.5 35.9h0M207.6 37.4h0M209.3 36.6h0M219.2 37.3h0M220.3 37.3h0M207.7 38.7h0M208.1 38.8h0M219.2 38.1h0M206.8 39.4h0M208.2 40.2h0M219.3 39.5h0M220.3 40.1h0M209.1 41.6h0M219.6 40.9h0M220.4 40.9h0M207 43.5h0M209 43.2h0M218.8 43.5h0M220.5 43.2h0M207.5 44.5h0M208.5 45h0M210.7 44h0M211.9 44.9h0M213.4 45.1h0M215.2 44.2h0M216.9 44.3h0M217.5 45.1h0M218.8 44.4h0M220.9 44.2h0M208.9 45.9h0M210.4 45.7h0M211.2 45.8h0M212.7 45.3h0M214.1 45.9h0M216.6 45.4h0M217.9 45.5h0M219.2 45.7h0M220.6 46.3h0M214.5 47.1h0" stroke="#2aa595" stroke-width="1.7" stroke-linecap="round" fill="none"/><path d="M222 17.5 C223.42 16.23 227.33 17.23 230 17.4 C232.67 17.57 236.42 17.4 238 18.5 C239.58 19.6 239.13 21.92 239.5 24 C239.87 26.08 240.28 28.83 240.2 31 C240.12 33.17 239.62 35.17 239 37 C238.38 38.83 237.5 40.5 236.5 42 C235.5 43.5 233.92 45 233 46 C232.08 47 233.08 47.83 231 48 C228.92 48.17 222.2 48.33 220.5 47 C218.8 45.67 220.72 42.33 220.8 40 C220.88 37.67 220.88 35.5 221 33 C221.12 30.5 221.33 27.58 221.5 25 C221.67 22.42 220.58 18.77 222 17.5Z" fill="#62b33c"/><path d="M221.9 17.9h0M223.5 17.5h0M225.7 17.7h0M226.5 17.7h0M229.9 17.5h0M232.7 17.2h0M234.3 17.3h0M234.9 18h0M221 18.3h0M222 18.7h0M223.8 19.2h0M225 18.6h0M226.1 18.6h0M227.4 19.1h0M229 19.4h0M231.2 18.3h0M232.5 19h0M233.4 18.9h0M234.9 19.3h0M236.3 19.1h0M239.2 19.4h0M221 20.5h0M222.5 20.4h0M223.1 20.1h0M233.6 19.9h0M234.9 20.2h0M236.6 20.4h0M222 22.5h0M236.8 21.4h0M238.4 21.7h0M239.6 21.9h0M221.1 23.4h0M221.5 23h0M223 22.8h0M237.2 23.2h0M238.2 22.7h0M239.4 22.9h0M222.6 24.7h0M223.4 25h0M237.4 24.7h0M239.1 25h0M239.6 24.8h0M222.2 26.1h0M222.8 26.3h0M239 25.8h0M239.5 25.8h0M220.9 27.8h0M221.8 28h0M223 28.4h0M238.2 28.1h0M239.4 28.3h0M222.3 29.2h0M222.9 29.4h0M238.9 28.9h0M239.8 28.9h0M220.9 30.7h0M221.5 30.6h0M223.1 31.2h0M238.4 31.3h0M239.3 31.2h0M219.9 31.9h0M222.1 32h0M238.4 32.1h0M240.4 31.9h0M220.9 34.5h0M221.4 34.2h0M238.5 34.1h0M222.6 35.7h0M237.9 34.8h0M222.5 37.6h0M238.7 37.1h0M220.9 38.3h0M221.6 37.8h0M236.8 37.9h0M239 38.6h0M219.6 40.2h0M222.3 40.5h0M235.7 39.9h0M238 39.9h0M219.4 40.9h0M220.8 41.2h0M221.9 41.3h0M234.2 41.8h0M234.9 41.2h0M237.2 41.4h0M220.8 43.4h0M222 43.1h0M233.6 43.5h0M235.8 42.5h0M220.9 44.1h0M221.3 43.9h0M231.6 44.8h0M232 44.9h0M235.9 44.4h0M220.1 45.8h0M221.8 45.6h0M223.4 45.3h0M224.5 45.4h0M227 45.6h0M228.7 46.4h0M229 46.4h0M231.7 45.8h0M232.5 46.1h0M235.1 45.7h0M227.1 47.1h0M228.3 47.7h0M229 46.9h0M231.1 47.5h0M232.3 47.6h0M231 48.3h0" stroke="#62b33c" stroke-width="1.7" stroke-linecap="round" fill="none"/><path d="M207.5 45 C208.42 44 211.83 45.25 214 45.5 C216.17 45.75 217.67 46.08 220.5 46.5 C223.33 46.92 229.08 47.25 231 48 C232.92 48.75 232.17 49.83 232 51 C231.83 52.17 230.92 53.75 230 55 C229.08 56.25 228 57.7 226.5 58.5 C225 59.3 222.75 59.72 221 59.8 C219.25 59.88 217.67 59.63 216 59 C214.33 58.37 212.25 57.25 211 56 C209.75 54.75 209.08 53.33 208.5 51.5 C207.92 49.67 206.58 46 207.5 45Z" fill="#9c8bd0"/><path d="M207.9 44.7h0M209.5 44.9h0M211 45.4h0M212.5 45.3h0M213.8 45.4h0M207.6 46.6h0M208.7 47h0M209.9 47h0M212.5 46.5h0M213.9 46.7h0M215.1 46.2h0M216.3 46.3h0M217.7 47.1h0M219.3 46.3h0M220.9 46.9h0M222.5 46.6h0M223.7 45.9h0M225.2 47h0M226.5 46.4h0M229.7 47h0M207.4 48.2h0M208.4 48.6h0M213.1 47.4h0M215.1 47.5h0M216.8 48h0M218.3 48.1h0M219.9 48.4h0M221.1 48.1h0M222.3 47.5h0M223.4 48.5h0M225.1 47.9h0M226.8 48.2h0M228.5 48.5h0M229.9 47.8h0M231.8 48.6h0M209 49.1h0M226.9 48.9h0M229 49.4h0M229.8 48.9h0M230.9 49.4h0M208.5 50.4h0M210.5 50.5h0M229.5 51.6h0M209.9 52.9h0M230.2 52.9h0M210.2 54.1h0M212.4 54.3h0M228.9 54.3h0M229.5 54.1h0M210.3 55.8h0M212.5 56.1h0M212.9 56h0M227.2 55.7h0M229.1 55.4h0M230.3 55.6h0M231.3 55h0M211.9 57.5h0M213 57.2h0M214.7 57.6h0M217.1 57.3h0M218.6 57.7h0M219 57.3h0M224.1 57.5h0M224.9 56.8h0M226.8 57.4h0M228 56.4h0M215.1 58.7h0M216.5 58.8h0M218.6 59h0M219.4 58.1h0M221.5 58.7h0M222.1 57.9h0M224.5 58.6h0M225 59.2h0M227.3 58.9h0M217.4 59.9h0M219.5 60.2h0M222 59.5h0M223.6 59.4h0" stroke="#9c8bd0" stroke-width="1.7" stroke-linecap="round" fill="none"/><path d="M238.8 18.4h0M239.2 19.6h0M239.6 19.1h0M241.6 19.6h0M243 19.9h0M241 20.3h0M242.4 20.7h0M243.6 21h0M240 22.3h0M241.6 22.5h0M242.5 21.7h0M241.7 23.4h0M243.3 23.1h0M243.8 23.7h0M240.4 24.3h0M241.1 24.1h0M243.2 25.1h0M244.1 24.7h0M245.6 24.2h0M246.6 25h0M239.7 26.1h0M241.6 25.5h0M242.9 26.2h0M244.6 25.6h0M245 25.8h0M241.9 27.5h0M243.3 27.3h0M243.7 27h0M246.8 26.8h0M248.2 27.1h0M240.5 28.5h0M241.8 28.1h0M243.1 28.8h0M243.7 27.9h0M245.9 28.1h0M246.7 28.3h0M247.6 28.2h0M242.8 30.2h0M243.8 30.1h0M245.5 29.7h0M246.6 29.4h0M247.6 29.6h0M249.9 30.2h0M241.1 31.6h0M242.9 30.7h0M243.9 31.1h0M245.7 31.3h0M246.9 31.3h0M243 32h0M244.3 31.8h0M245.7 32.5h0M246.9 32.6h0M241.4 33.1h0M242.6 33.3h0M244.6 33.6h0M247.3 33.5h0M247.7 33.2h0M241.2 35.5h0M242.4 34.5h0M243.3 36.4h0M243.6 36.7h0" stroke="#6cc8e6" stroke-width="1.5" stroke-linecap="round" fill="none"/><path d="M235.6 36.9h0M236 36.7h0M240.3 37.5h0M243 37.5h0M244.1 37.6h0M237.3 38h0M238.9 38.2h0M240.6 37.8h0M241.7 38.3h0M242.1 38h0M244.1 38h0M234.5 39.5h0M235.4 39.2h0M236.9 39.4h0M237.2 39.2h0M238.4 39.8h0M239.7 39.5h0M241.4 39.1h0M242.7 39.6h0M244.2 40h0M245.4 39.5h0M232.9 40.2h0M234.5 41.1h0M234.9 41.2h0M236.9 40.7h0M238 40.7h0M238.4 40.5h0M239.9 41.1h0M242.6 40.3h0M243.7 40.8h0M245.1 40.5h0M246.6 41h0M233.3 42h0M234.6 42.4h0M235.4 41.9h0M236.6 41.9h0M237.6 41.6h0M238.7 41.6h0M240.6 41.8h0M241.7 41.9h0M243 42h0M244.6 41.7h0M245.9 41.7h0M233.8 43.5h0M235 42.7h0M237 42.8h0M237.6 43.6h0M238.6 43.3h0M240.3 42.6h0M240.9 43.6h0M242.9 43.3h0M243.8 43.1h0M245.3 42.6h0M245.9 42.9h0M247.5 43.6h0M248.2 42.7h0M233.4 44h0M234.1 44.5h0M234.9 44.4h0M236.6 44.6h0M237.5 44.1h0M240 44.6h0M241.8 44.8h0M242.1 44.3h0M243.7 44.4h0M244.6 44.1h0M246 44h0M248.7 43.9h0M249.6 44.7h0M232.1 45h0M234.3 45.4h0M235.8 45.3h0M236.6 45.1h0M237.5 45.6h0M238.4 45.8h0M239.8 45.8h0M242.5 45.2h0M244 45.7h0M244.8 45.6h0M246 45.8h0M246.8 45h0M248.6 45h0M250.1 45.9h0M250.6 45.9h0M236.8 47h0M237.3 46.4h0M238.8 46.7h0M240.4 47.1h0M241.4 46.2h0M242 46.6h0M244.2 46.2h0M245.4 46.2h0M245.6 46.7h0M246.8 46.5h0M249 47.2h0M250 46.9h0M234.6 48.2h0M236.8 48.1h0M238.2 47.7h0M239.4 47.7h0M240.5 48.1h0M241.4 47.8h0M242.1 47.7h0M244.1 47.9h0M244.5 48h0M247.7 48.3h0M248.1 47.9h0M249.7 47.8h0M239.4 49.2h0M239.8 49.5h0M241 49.3h0M242.3 49h0M243.5 49.2h0M245.3 49.5h0M245.6 49.5h0M247.5 49h0M248.9 48.9h0M250.1 49.6h0M251.1 48.9h0M252 48.9h0M238 50.1h0M239.4 50h0M240.1 50.3h0M241.7 50h0M242.3 50.1h0M243.3 50.3h0M245.2 50.6h0M247.3 50.2h0M248.8 50.4h0M249.3 50.2h0M251.1 50.1h0M252.2 50h0M239.4 51.3h0M241.6 51.2h0M242.1 51h0M243.3 51.1h0M244.8 51.5h0M246.1 51.6h0M247.6 51h0M248.7 51.1h0M250 51.9h0M250.5 51.6h0M251.7 51.5h0M253 51.7h0M240.6 53.2h0M243 52.7h0M243.5 52.5h0M246 52.8h0M247.3 53h0M248.9 53.2h0M250 52.8h0M251.2 52.4h0M252.4 52.3h0M253.7 53h0M242.2 54.2h0M243.7 53.5h0M244.8 53.5h0M246.4 53.9h0M247 54.3h0M248.2 53.7h0M249.8 53.6h0M251.4 53.8h0M251.7 53.6h0M253.1 54.4h0M254.1 53.7h0M244.2 55h0M245.2 55.5h0M246.4 55h0M247.3 55.3h0M248.2 54.8h0M249.2 55.5h0M250.7 54.7h0M252.1 54.9h0M246.9 56.6h0M248 56.6h0M249.5 56.7h0M250.7 56.6h0M251.6 56.2h0M247.5 58h0M248.7 57.9h0M249.5 57.1h0M250.4 57.3h0M252.4 57.1h0M253.2 57h0M249.2 58.9h0M251.1 59.1h0" stroke="#d8a826" stroke-width="1.6" stroke-linecap="round" fill="none"/><path d="M236.8 55.1h0M242 55.4h0M237.4 55.8h0M239.2 55.9h0M239.5 56.6h0M241.6 56h0M237.3 57h0M238.4 57.9h0M239.9 57h0M241.9 57.4h0M243.1 57.4h0M238.3 59.2h0M240.5 58.7h0M241 59.2h0M244.7 59.5h0M237.7 60h0M238.7 60.1h0M239.7 59.9h0M243.2 60.9h0M243.6 59.9h0M245.3 60h0M247.2 60.5h0M248.2 61h0M249.2 60h0M238.1 62h0M240.5 61.5h0M241.5 61.9h0M242.3 61.3h0M244.7 62.4h0M247.5 61.6h0M251.1 62.1h0M272.6 61.9h0M241.9 63.2h0M242.6 63.2h0M245.8 63.7h0M248.6 63.3h0M250.1 63.5h0M251.2 62.6h0M253.5 63.7h0M255.9 63.1h0M258.7 63.7h0M265.8 62.7h0M266.5 63.7h0M268.4 63.4h0M270.9 62.9h0M242.7 65.1h0M244.7 65h0M246.1 64.5h0M246.8 64.5h0M248.8 64.1h0M252.4 64.7h0M253.8 64.9h0M255.2 64.6h0M258 65h0M259.9 65.2h0M261.4 64.6h0M263.7 64.8h0M265.7 64.5h0M267.8 64h0M269 65h0M271.8 65h0M273.8 64.9h0M243.7 66.5h0M247.6 66.3h0M248.7 66.3h0M249.7 66.2h0M252.2 66.3h0M253.5 65.5h0M256 66.5h0M261.6 65.6h0M262.7 65.4h0M264.2 66.2h0M265.5 65.5h0M267.5 65.8h0M269.5 66.2h0M270.2 66.3h0M272.7 66.1h0M242.3 67.2h0M245.2 66.9h0M250.4 67.1h0M251.4 67.9h0M252.1 67.2h0M254.3 67.4h0M258.4 67.4h0M260 66.9h0M261.3 67.1h0M263.9 67.4h0M264.7 67.4h0M266.7 68h0M269.4 66.8h0M271.1 67.6h0M272.5 66.8h0M246.1 68.7h0M247.2 69.4h0M248.2 69.4h0M249.8 69.3h0M252.5 68.8h0M254 68.9h0M256 68.8h0M256.5 69.2h0M258.7 69h0M261.1 68.5h0M263 68.9h0M263.2 68.4h0M264.9 69.2h0M267.9 68.4h0M270 69h0M246 70.4h0M247.5 69.8h0M249.9 69.8h0M255.2 70.5h0M258 70.2h0M259 70.6h0M260.8 70.4h0M263 70.6h0M264.9 69.9h0M268.6 70.4h0M269.9 70.2h0M270.4 69.9h0M271.7 70h0M247.9 71.3h0M249.9 72.2h0M251.6 71.3h0M252.6 71.8h0M254.3 71.1h0M255.9 71.7h0M256.7 71.4h0M258.3 71.5h0M259 71.5h0M263.9 72.2h0M265.2 72.1h0M267.7 72.2h0M269.5 72h0M270.5 71.1h0M251.4 72.9h0M252.2 72.4h0M254.2 72.6h0M255.7 73h0M258.3 72.4h0M260.5 72.6h0M261.9 73.5h0M263.7 73.1h0M266.8 72.6h0M268.2 72.4h0M255.3 73.8h0M258.5 74.5h0M259.9 73.8h0M261.5 73.9h0M262.7 74.5h0M263.4 74.5h0M265.1 74.5h0M266.6 74.2h0M254.6 75.8h0M262.5 75.4h0M263.9 76.2h0M266.3 75.6h0M260 77.1h0M260.6 76.9h0M258.1 78.1h0" stroke="#f07d6e" stroke-width="1.5" stroke-linecap="round" fill="none"/><path d="M275.7 61h0M277.3 61h0M274 62.4h0M274.9 61.9h0M276.5 62h0M278.4 62h0M280.1 62.2h0M281.1 62.1h0M282.3 62.1h0M283.5 61.7h0M285.2 62.2h0M271.1 63.5h0M272.7 63.1h0M273.3 63.8h0M274.3 63h0M277.7 62.8h0M279 62.9h0M281.9 62.9h0M282.4 63h0M283.7 62.8h0M285.1 62.9h0M287.3 63.2h0M271.1 64.8h0M272.7 64.1h0M273.8 65h0M274.8 64.3h0M276.3 64h0M277.7 64.8h0M280 64.8h0M281.2 64h0M282 64.2h0M283.4 64.1h0M285.3 65h0M286.1 64.6h0M287.8 64.7h0M270.5 65.7h0M272.8 65.7h0M273.7 66.4h0M274.7 65.6h0M276 65.4h0M276.9 65.4h0M279.6 65.5h0M281.8 66.1h0M282.9 65.5h0M283.4 66.3h0M285.6 65.8h0M286.4 66.3h0M287.9 66.3h0M288.5 66h0M270.7 66.9h0M271.9 67.4h0M272.9 67.2h0M275 67h0M276.4 67.1h0M287 66.7h0M288.1 67.4h0M288.8 67.7h0M271 68.6h0M287.8 68.8h0M289.2 68.6h0M288.9 70.5h0" stroke="#b466b2" stroke-width="1.5" stroke-linecap="round" fill="none"/><path d="M301.6 66.7h0M302.4 67.3h0M303.4 68h0M307.9 68.5h0M304.6 70.1h0M306.9 69.5h0M307.4 71.5h0M308.2 71.1h0M310.7 70.8h0M305.6 72.2h0M308.2 72h0M309.7 72.2h0M306.7 73.7h0M307.9 73.3h0M309.4 73.2h0M307.5 74.9h0M308.5 74.9h0M310.4 75.4h0M311.3 75.2h0M312.3 75.8h0M309.5 76.2h0M311.7 76.4h0M311.5 77.5h0M311.7 79.6h0M312.1 80.2h0" stroke="#f07d6e" stroke-width="1.4" stroke-linecap="round" fill="none"/><circle cx="311.5" cy="80.3" r="0.8" fill="#4a3a6a"/><text x="207.6" y="33.1" font-size="4.9" fill="#1a1a2a" stroke="#1a1a2a" stroke-width="0.18" textLength="11" lengthAdjust="spacingAndGlyphs">EryD7</text><text x="221.3" y="37.6" font-size="4.9" fill="#1a1a2a" stroke="#1a1a2a" stroke-width="0.18" textLength="13.3" lengthAdjust="spacingAndGlyphs">EryD5</text><text x="239.3" y="30.7" font-size="4.9" fill="#1a1a2a" stroke="#1a1a2a" stroke-width="0.18" textLength="13.2" lengthAdjust="spacingAndGlyphs">EryD4</text><text x="236.9" y="49.8" font-size="4.9" fill="#1a1a2a" stroke="#1a1a2a" stroke-width="0.18" textLength="13.8" lengthAdjust="spacingAndGlyphs">EryD3</text><text x="212.7" y="55.6" font-size="4.9" fill="#1a1a2a" stroke="#1a1a2a" stroke-width="0.18" textLength="13.8" lengthAdjust="spacingAndGlyphs">EryD6</text><text x="255.5" y="73.2" font-size="4.9" fill="#1a1a2a" stroke="#1a1a2a" stroke-width="0.18" textLength="13" lengthAdjust="spacingAndGlyphs">EryD2</text><text x="274.5" y="65.2" font-size="4.9" fill="#1a1a2a" stroke="#1a1a2a" stroke-width="0.18" textLength="12.5" lengthAdjust="spacingAndGlyphs">EryD1</text><path d="M233.2 108h0" stroke="#be3884" stroke-width="1.9" stroke-linecap="round" fill="none"/><path d="M236.3 95.7h0M235.6 99.7h0" stroke="#c5407e" stroke-width="1.9" stroke-linecap="round" fill="none"/><path d="M236.4 95.2h0M237.8 94.5h0M235.1 101.7h0M232.7 107h0M232 109.7h0M232 111.3h0" stroke="#cc4778" stroke-width="1.9" stroke-linecap="round" fill="none"/><path d="M237.7 91.6h0M238.5 91.6h0M236.6 92.8h0M237 93h0M235.7 93.9h0M235.1 96.2h0M235.2 97h0M232 107h0" stroke="#d14e72" stroke-width="1.9" stroke-linecap="round" fill="none"/><path d="M241 84.1h0M239.2 84.6h0M237.3 87.5h0M238.7 87.8h0M239.6 87.2h0M233.1 88.9h0M233.8 88.1h0M236.1 88.4h0M234.4 89.2h0M235.2 89.4h0M236 89.3h0M237.1 89.3h0M238.4 89.4h0M234.6 90.9h0M234.9 91.3h0M235 92.7h0M236.5 93.5h0M234.3 98.7h0M234.8 98.1h0M233.9 99.7h0M234.2 101.8h0M232.3 102.7h0M234 103.1h0M233 104.2h0M231.4 106.3h0M231.3 108.6h0" stroke="#d6566d" stroke-width="1.9" stroke-linecap="round" fill="none"/><path d="M239.2 82.6h0M237.7 83.8h0M239.7 84.1h0M235.5 85.3h0M237.1 85.3h0M236.1 86.3h0M237.8 86.1h0M238.5 85.8h0M235.4 87.5h0M238.3 88.4h0M233.1 89.3h0M232.4 91.6h0M233.6 91.4h0M236.8 91.9h0M233.2 93.1h0M234.2 94.3h0M235.7 94.7h0M232.9 100.1h0M231.7 101.4h0M233.3 102.5h0M231.5 103.8h0M230.8 105.1h0M232.1 105.2h0M230.8 112.3h0" stroke="#dc5d68" stroke-width="1.9" stroke-linecap="round" fill="none"/><path d="M237 81.1h0M236.5 81.7h0M237.3 81.9h0M236.6 82.7h0M237 83.2h0M238.8 83.4h0M235 83.9h0M236.5 83.8h0M238.9 83.9h0M233.8 84.7h0M236.3 85.5h0M238.5 84.7h0M231.3 86.5h0M232.6 86.3h0M235.7 86.1h0M231.8 86.9h0M234.4 87.4h0M236 87.2h0M234.9 88.2h0M237.8 88.3h0M231.9 89.1h0M233.2 91h0M234.8 90.9h0M236 90.4h0M237.7 90.6h0M233.9 92.7h0M233.8 94.5h0M233.7 96.4h0M232.9 97.3h0M233.7 97h0M233.3 99.3h0M230.8 101.8h0M232.8 102h0M231.1 103.1h0M230.6 106.3h0M229.9 106.7h0M230.9 106.9h0M230 107.8h0M230.6 109.6h0" stroke="#e16462" stroke-width="1.9" stroke-linecap="round" fill="none"/><path d="M233.3 79.8h0M233 80.7h0M234.4 81.1h0M236 80.7h0M230.6 81.5h0M235.7 81.8h0M239 81.3h0M230 82.8h0M231.2 82.4h0M232.6 83h0M234.5 83.5h0M230 85h0M232 85.8h0M233.5 87h0M229.7 87.9h0M230.6 88.4h0M232.4 88.8h0M230 89.8h0M230.7 90.9h0M231.5 90.8h0M230.1 91.3h0M230.4 91.9h0M232.8 91.6h0M229.6 93.2h0M231 92.8h0M233.4 93.6h0M232.6 95.2h0M232.4 97.4h0M233 98.3h0M230.7 104.1h0M229.6 104.6h0" stroke="#e56c5c" stroke-width="1.9" stroke-linecap="round" fill="none"/><path d="M229.6 79.2h0M230.2 80.5h0M234.8 80.7h0M231.9 81.7h0M232.7 81.9h0M234.3 82.2h0M233.7 82.5h0M234.8 82.8h0M232.3 84.3h0M233.1 84.2h0M231 85.2h0M232.2 85.1h0M233.2 85.2h0M234.2 85.7h0M227.6 87.7h0M229.5 87.6h0M231.2 87.7h0M226.5 88.1h0M228.4 88.6h0M226.6 89.6h0M228.2 90.9h0M232 93h0M230.7 93.7h0M227.6 95.4h0M229 95h0M230.6 95.8h0M233.5 96.2h0M229.9 96.9h0M229.7 98.7h0M230.9 98.7h0M229.9 99.4h0M232.1 99h0M228.8 100.3h0M231 101h0M231.7 100.1h0M229.6 101.3h0M230.2 103h0M229.3 104h0" stroke="#ea7456" stroke-width="1.9" stroke-linecap="round" fill="none"/><path d="M225.8 79.9h0M228.6 81.1h0M230.4 80.8h0M231.6 81.2h0M229.9 81.8h0M232 82.6h0M229.9 83.8h0M230.4 84.3h0M227.3 84.6h0M228.7 85.2h0M224.9 86.1h0M228.4 86.2h0M229.3 85.9h0M225.3 87.7h0M224.1 88.6h0M225 88.7h0M224.4 89.2h0M227.4 89.3h0M228.2 89.9h0M230.4 89h0M224.4 90.2h0M225.5 90.6h0M226.8 90.5h0M227.7 90.2h0M230 90.3h0M225.4 91.5h0M226.2 91.4h0M227.3 91.3h0M229.1 91.9h0M227.6 92.6h0M225.5 93.6h0M227.8 94.2h0M228.5 93.6h0M229.6 93.5h0M231.5 94.7h0M226.1 95.8h0M229.5 96.2h0M231.5 95.8h0M231.1 97.6h0M227.1 98h0M229.1 98.2h0M231.6 98.4h0M230.7 99.1h0M229.2 100.5h0M228.3 101.3h0M227.9 105h0M229.3 105.7h0M228.4 107.1h0" stroke="#ee7c51" stroke-width="1.9" stroke-linecap="round" fill="none"/><path d="M225.4 81h0M227.8 80.8h0M221.9 82h0M223.5 81.5h0M227.7 81.9h0M228.2 82.2h0M228.4 83.1h0M224.1 83.8h0M225.7 84.2h0M226.1 83.8h0M227.1 84.1h0M228.5 83.8h0M222.3 84.9h0M223.3 85.4h0M226.3 84.8h0M224.6 86.6h0M227.5 86h0M223.5 87.3h0M224.6 87.4h0M226.3 87.8h0M228.2 87.3h0M227.2 88.3h0M223.3 89.2h0M222 90.3h0M222.9 90.4h0M223.8 92.9h0M225 92.5h0M226.7 92.8h0M228.2 92.6h0M231.8 94.3h0M225.6 94.7h0M226.8 95.4h0M229.8 94.6h0M231.2 95.4h0M227.4 96.2h0M228.2 95.6h0M226.8 97.5h0M227.3 96.7h0M228.8 96.8h0M227.6 101.1h0M228.3 102.7h0M227.8 103.7h0M228.7 104.2h0M228.7 105.3h0M228.7 106.3h0M228.7 108.5h0M229.6 109.8h0M229.5 110.6h0M229.8 111.8h0" stroke="#f2844b" stroke-width="1.9" stroke-linecap="round" fill="none"/><path d="M216.5 79.4h0M220.9 81h0M226.2 80.7h0M221.3 81.7h0M225.4 82.2h0M224.6 82.5h0M225.1 82.5h0M222.4 83.5h0M223.5 84.2h0M224.1 85.1h0M225.5 85.2h0M221.6 86.4h0M222.6 86.1h0M226.8 85.9h0M222.3 87.3h0M221 88.3h0M222.5 88.9h0M219.1 89h0M219.7 89.7h0M220.9 89.7h0M222.4 89.1h0M224.9 89.8h0M221.1 90.8h0M223.4 92h0M223.8 91.6h0M222 93.9h0M223.2 93.9h0M224.3 93.4h0M226 94.3h0M225.7 95.9h0M227.2 99.9h0M228.5 99.8h0M226.3 105.2h0M226.7 105.8h0M227.5 107.5h0M229.6 112.8h0" stroke="#f48c46" stroke-width="1.9" stroke-linecap="round" fill="none"/><path d="M219.8 80h0M222.8 79.8h0M224.7 79.8h0M214.6 80.6h0M217.5 80.9h0M221.6 80.9h0M223.2 81h0M224.6 80.8h0M214 81.3h0M218.5 81.6h0M220.2 81.9h0M224 81.3h0M226.5 81.5h0M212.2 82.7h0M214.5 83h0M215 83.3h0M216.4 82.9h0M219.1 82.9h0M220 83.2h0M221.3 82.6h0M221.8 83.3h0M223.2 82.8h0M226.6 82.9h0M227.3 82.8h0M214.2 83.9h0M221 83.7h0M217.3 85.5h0M220.6 84.6h0M215.8 86.6h0M218.4 86.1h0M216.6 87.6h0M217.2 87h0M216.4 88.3h0M223.3 88.6h0M217.7 89.9h0M218.9 90.7h0M219.3 91.2h0M220.4 91.3h0M217.9 93.1h0M220.2 92.8h0M220.6 92.6h0M221.6 93.3h0M223 92.8h0M220.2 93.9h0M221.2 94h0M225.4 96.8h0M226.6 98.4h0M226.5 100.6h0M227 100.6h0M225.9 101.8h0M226.9 102.5h0M227.1 103h0M226.3 104.2h0M225.3 104.7h0M228.8 110.8h0M228.9 116.2h0M228.4 117.8h0" stroke="#f79540" stroke-width="1.9" stroke-linecap="round" fill="none"/><path d="M216.5 80.7h0M218.7 80.3h0M219.6 81h0M209.1 82.1h0M213.1 81.8h0M215 81.4h0M217.8 82.2h0M211.9 84.3h0M217.9 83.8h0M218.7 84.2h0M214.8 85.1h0M214.7 86h0M217.4 85.8h0M219.9 86.5h0M220.5 86.4h0M218.5 87.3h0M219.6 87.3h0M220.7 86.9h0M218.8 88.3h0M220.3 87.9h0M215.7 89.4h0M218.1 90.6h0M220 90.8h0M215.8 92h0M216.7 91.8h0M217.3 91.7h0M218.6 92.1h0M221.8 91.8h0M214.5 92.5h0M215.7 92.5h0M218.5 92.7h0M210.9 93.9h0M217.4 94.1h0M219.2 94.1h0M215.7 95.2h0M216.9 95.4h0M219.7 95.4h0M221.6 95.2h0M223.5 94.7h0M223.9 94.7h0M217.6 96.4h0M219.1 96.2h0M219.8 95.9h0M223.4 95.7h0M224.6 95.6h0M215.5 96.8h0M218.3 96.9h0M225.1 98.4h0M226.7 99.2h0M225.5 100.3h0M224.4 102.7h0M225.4 103h0M225.4 103.6h0M223.1 104.5h0M224.6 106.3h0M227 106.5h0M227.7 109.6h0M228.6 111.3h0M228.9 112.8h0M228.9 114.6h0" stroke="#fa9e3b" stroke-width="1.9" stroke-linecap="round" fill="none"/><path d="M212.8 81h0M212.4 81.4h0M217 82.2h0M210.6 83.1h0M212.7 83.3h0M217.7 82.8h0M213.4 84.1h0M215.3 83.6h0M216.4 84.4h0M219.5 83.9h0M209 85.4h0M211.7 84.8h0M212.8 85.2h0M215.2 84.8h0M217 85.1h0M218.6 85.6h0M219.8 84.9h0M206.9 86.6h0M208.8 85.8h0M213.3 86h0M216.5 85.8h0M209.6 87h0M208.1 88.2h0M210.8 88.9h0M215.8 88.8h0M217.4 88.2h0M206.6 89.1h0M209.1 89.4h0M214.3 89.4h0M216.3 89.3h0M205.2 90.9h0M209.2 90.8h0M214.7 90.7h0M215.3 91h0M216.2 91h0M205.4 91.7h0M208.1 91.9h0M209.5 92.7h0M212.8 92.9h0M216.6 93.2h0M206.2 93.8h0M209.7 94.3h0M214.3 93.5h0M216.9 94.3h0M207 94.7h0M208.1 95.2h0M209 95h0M209.9 94.5h0M212.5 95.3h0M214.4 95h0M219.1 94.7h0M220.7 94.8h0M214 95.9h0M222.3 96.5h0M214.3 97.2h0M216.9 96.8h0M220.1 96.7h0M221.2 97.2h0M223.4 96.9h0M224.3 96.9h0M215.6 98h0M216.9 98.8h0M218.9 98.5h0M219.4 98.2h0M217.5 99.8h0M220.5 104.3h0M224.3 104.1h0M220.8 105.4h0M222 105.3h0M220.2 106h0M222.1 106h0M222.7 105.9h0M225.8 105.6h0M221.6 106.8h0M223.6 106.7h0M223.9 107.4h0M225.6 106.8h0M224.4 107.7h0M227.2 108.1h0M228.2 109.4h0M229 113.9h0M227.1 115.9h0" stroke="#fca636" stroke-width="1.9" stroke-linecap="round" fill="none"/><path d="M210.8 81.4h0M210.1 83.4h0M209.2 84.2h0M209.8 84.1h0M210.6 83.8h0M211.2 84.8h0M211.5 85.9h0M212.3 86.5h0M208.2 87.4h0M208.7 87.3h0M211.5 87.2h0M213.5 86.8h0M214.2 87.3h0M215.1 87.6h0M209.8 88.4h0M213.7 88.9h0M214.6 88.3h0M207.2 89.7h0M210.3 89h0M211.8 89.3h0M213 89.9h0M210.8 90.3h0M211.7 90.2h0M213.3 90.9h0M209 91.6h0M209.7 91.9h0M211.7 91.3h0M213.9 91.7h0M207.8 92.5h0M208.5 92.8h0M211.1 93.2h0M212.6 92.9h0M207.5 94h0M208.6 94.4h0M213.4 93.6h0M215.1 93.9h0M205.3 95.2h0M212.8 94.8h0M217.9 95.3h0M204.1 95.9h0M209.8 96.4h0M213.3 96.6h0M215.4 96.4h0M216.7 95.8h0M221 96h0M211.4 96.9h0M212.2 97.5h0M218 97.7h0M217.1 98.2h0M221.1 98.8h0M223.4 98h0M224.1 97.9h0M214 99.7h0M215.8 99.5h0M216.8 99.8h0M225.5 99.1h0M213.9 100.9h0M215.5 100.7h0M216.4 100.6h0M218.1 100.3h0M220.1 100.1h0M217 101.2h0M220.8 101.3h0M224.3 101.8h0M225.3 101.5h0M214.5 102.5h0M215 102.7h0M218.8 103h0M219.9 102.9h0M223.2 102.8h0M218.1 103.9h0M219 103.9h0M222.5 103.6h0M223.6 103.5h0M217.5 104.8h0M224.1 105h0M226.4 107.5h0M219.8 107.9h0M223.6 108.2h0M226.2 109.6h0M227.5 110.8h0M226.9 115h0M227.1 115.2h0M226.8 116.9h0M227.4 117.2h0" stroke="#fcb032" stroke-width="1.9" stroke-linecap="round" fill="none"/><path d="M209.5 85.4h0M208.1 86.6h0M209.9 86.2h0M209.1 88.8h0M211.8 88.6h0M211.4 89.2h0M207.2 90.6h0M209.4 90.8h0M206.1 92.1h0M211.3 91.3h0M213.4 91.7h0M206.7 92.9h0M212.3 94.1h0M210.6 95.2h0M206.4 95.9h0M210.9 96.6h0M211.9 96.3h0M207 96.9h0M209.8 96.8h0M213.7 97.4h0M222.3 97.3h0M210.7 97.9h0M211.9 98.5h0M213.3 98.7h0M214 97.9h0M222.2 98.3h0M219 99.4h0M220 99.1h0M221.3 99.7h0M212.5 100.7h0M218.5 100.7h0M221.3 100.7h0M213.3 101.6h0M217.4 101.4h0M213 102.6h0M216.9 102.4h0M212.9 104.1h0M214.5 104.2h0M214.9 103.4h0M216.5 103.5h0M220.1 103.8h0M216.9 105.3h0M218.3 105.3h0M219.9 104.8h0M215.1 106h0M216 105.5h0M220.5 106.5h0M216.4 107.2h0M218.7 106.7h0M219.5 107.3h0M225.8 108h0M226 108.3h0M225.4 109.6h0M225.2 110.6h0M220.4 111.6h0M221.1 112.4h0M226.8 113.1h0M227.6 112.1h0M223.3 115.6h0M224.6 115.9h0M225.6 116.1h0M226.3 116h0M225 118h0M226.8 117.8h0M224.9 119.7h0" stroke="#fcba2e" stroke-width="1.9" stroke-linecap="round" fill="none"/><path d="M212.1 87.7h0M207.8 95.9h0M209.1 96.6h0M205.1 97h0M207.7 97.2h0M209.2 97.4h0M209.7 98.2h0M206.7 99.4h0M208.5 99.2h0M211.4 99.9h0M211.8 99.8h0M213.7 99.5h0M224 99h0M205.3 100.4h0M208.7 100.3h0M211.3 100.7h0M213.5 100.5h0M222 100.3h0M222.7 100.2h0M224.6 100.3h0M211 101.2h0M214.3 102.1h0M215.4 101.7h0M218.9 101.5h0M219.8 101.8h0M222.1 101.3h0M222.6 101.4h0M217.5 103h0M221.1 102.8h0M222.4 102.8h0M211.3 103.3h0M211 104.8h0M213 104.7h0M214.1 104.6h0M210 106.3h0M211.7 106h0M218 106h0M219 106.3h0M206.9 106.9h0M207.7 107h0M208.7 106.7h0M211.7 106.9h0M220.8 107.6h0M212.6 107.9h0M217.8 108.6h0M218.3 108.6h0M221 108.2h0M222.4 108.3h0M218 108.9h0M221.1 109.3h0M222.3 109.1h0M223.3 109.4h0M224.6 109.2h0M220.1 110.8h0M222.8 110.7h0M224.6 110.9h0M226.6 110.7h0M219.2 111.6h0M219.5 111.6h0M222.3 111.1h0M227.7 111.4h0M224 112.6h0M221.3 113.4h0M227.4 113.9h0M225.1 114.9h0M222.9 117.2h0M223.6 117.9h0M223.8 119h0M225.9 118.8h0" stroke="#fcc429" stroke-width="1.9" stroke-linecap="round" fill="none"/><path d="M205.7 96.2h0M208.1 98.3h0M222.3 99.3h0M222.7 99.7h0M205.8 101.6h0M206.2 102.1h0M207.9 101.9h0M208.4 101.7h0M212.2 101.6h0M211.3 102.9h0M212.2 102.5h0M208.4 103.9h0M209.7 103.6h0M206.1 104.4h0M207.6 104.5h0M208.7 105.3h0M215 104.9h0M205.7 105.5h0M210.8 106.2h0M212.8 106.3h0M214.1 106h0M210.9 107.4h0M213.2 107.2h0M217.2 107.1h0M206.9 108.5h0M209.8 108.4h0M211 108.3h0M207.8 109h0M208.7 109.8h0M220.1 109.6h0M207.9 110.3h0M218.5 110.2h0M220.8 110.2h0M221.9 110.7h0M208.6 111.4h0M209.8 111.9h0M217.9 111.5h0M224.1 111h0M225.2 111.5h0M208.9 112.6h0M220.1 112.9h0M221.8 112.8h0M223.1 112.9h0M225.1 112.6h0M220.1 113.9h0M222 113.9h0M224.1 113.8h0M225 113.7h0M226.4 113.6h0M220 114.9h0M220.6 114.7h0M221.8 115.1h0M222.6 115h0M220.5 116h0M221.6 116.1h0M225.3 117.2h0M224 120.1h0M225 120.1h0M223.7 121.7h0M225.3 121.2h0M224.5 122.3h0" stroke="#fcce25" stroke-width="1.9" stroke-linecap="round" fill="none"/><path d="M205.2 98.7h0M206.4 98.4h0M208.7 98.8h0M205.4 99.2h0M207.6 99.7h0M209.5 98.9h0M206.7 100.6h0M209.5 100.4h0M209.7 102h0M205.1 103h0M206.6 102.7h0M208 102.4h0M208.8 102.3h0M209.5 102.6h0M207.7 104.2h0M212.1 104.1h0M209.7 104.5h0M212.1 105.4h0M206.4 106.2h0M207.7 105.8h0M209 106.3h0M209.4 107h0M213.8 107.2h0M215.2 106.7h0M208.1 108.1h0M208.3 108.1h0M212.9 108.2h0M215.4 107.9h0M207.1 109.2h0M209.8 109.6h0M213.5 109.3h0M218.4 109.1h0M208.9 110.9h0M209.8 109.9h0M210.8 110.2h0M215.5 110.6h0M217.6 110.7h0M210.5 111.5h0M215.8 111.4h0M216.2 111.2h0M223.3 111.6h0M226 111.9h0M210.3 112.1h0M211.9 112.9h0M212.7 112.8h0M216.7 112.2h0M217.7 112.4h0M217.4 113.4h0M218.6 114.1h0M222.9 114.2h0M212.3 115.2h0M213.6 115h0M215 115.1h0M216.5 114.9h0M217.2 114.6h0M218.9 114.9h0M223.9 115.1h0M212.4 115.7h0M214.7 115.5h0M216.1 115.6h0M217.9 115.5h0M218.3 116.2h0M220.1 116.4h0M215.7 116.7h0M216.4 116.7h0M218.7 116.5h0M220.7 116.6h0M222.1 117.1h0M223.7 117.2h0M220.7 118h0M224.3 118.5h0M217.1 119.2h0M217.8 120.3h0M216.4 121.1h0M218.9 121.4h0M219.5 121.7h0M223.4 121h0M214.1 122.4h0M218.6 122.6h0" stroke="#f9d924" stroke-width="1.9" stroke-linecap="round" fill="none"/><path d="M208 100.3h0M204.9 102.3h0M205.3 104.2h0M206.8 103.8h0M213.8 107.8h0M216.1 108h0M211.5 109h0M211.9 109.4h0M214.6 109.4h0M215.7 109.5h0M216.7 109.1h0M207.8 111.5h0M212 111.5h0M208 112.4h0M210.7 112.2h0M214.5 112.9h0M215.3 113h0M218.7 112.5h0M208.6 114.2h0M209.7 113.3h0M211 113.7h0M214.4 113.5h0M215.9 113.9h0M216.1 113.3h0M211.2 114.7h0M214.1 114.6h0M208.4 115.4h0M215.9 115.8h0M214.7 117.4h0M217.8 117h0M219.7 117h0M211 118h0M211.7 118.5h0M215.6 118.2h0M216.4 118.4h0M218.5 118.5h0M220 118.1h0M221.9 117.8h0M214.2 119.6h0M215.4 119.3h0M216.3 118.7h0M218.3 119.5h0M222 118.9h0M223.1 119h0M214.6 120.5h0M216.4 120.5h0M220.1 120.2h0M222.9 120.6h0M217.5 121.2h0M215.9 122.8h0M217.9 123h0M220.5 123.7h0M221.7 123.5h0" stroke="#f6e423" stroke-width="1.9" stroke-linecap="round" fill="none"/><path d="M212 110h0M213.5 110.6h0M213.9 110.2h0M216.7 110.6h0M212.8 111.9h0M214.1 111.2h0M212 113.9h0M213.3 113.4h0M209.9 114.3h0M210.1 116.4h0M211.2 115.6h0M213.2 116h0M210.6 117.3h0M212.1 117.3h0M213.1 117.3h0M214.2 118.4h0M217.7 117.7h0M212.3 119.4h0M212.8 119.3h0M220 119.4h0M212.9 119.9h0M215.4 119.9h0M214.9 121.1h0M222.2 121.3h0M220.7 122.8h0M221.9 122.5h0M219.2 123.4h0" stroke="#f3ee22" stroke-width="1.9" stroke-linecap="round" fill="none"/><path d="M208.4 115h0M212.8 118.1h0M220.5 118.9h0M218.6 120.1h0M221.1 120.1h0M221.8 120.7h0M220.5 121.7h0M219.8 122.3h0" stroke="#f0f921" stroke-width="1.9" stroke-linecap="round" fill="none"/><path d="M277.1 124.4h0M274.7 125.7h0M275.8 125.5h0M277.7 125.9h0M282 125.7h0M276.8 127.1h0M280.8 126.7h0M275.7 128.4h0M276.5 128h0M278.5 127.8h0M282.5 128.4h0M281.8 128.7h0M283.2 130.5h0M284.7 130.5h0M268.6 131.6h0M283.7 132.3h0M285.6 132.3h0" stroke="#0d0887" stroke-width="1.76" stroke-linecap="round" fill="none"/><path d="M268.8 125.5h0M276.9 125.5h0M268.4 126.7h0M274.4 126.9h0M279.6 126.3h0M263.9 127.6h0M265.7 127.8h0M267.1 128h0M269.9 127.7h0M270.8 128.3h0M271.7 128.3h0M274.7 127.5h0M280.6 127.6h0M284.4 127.5h0M267.3 129h0M268.6 129.4h0M271.1 129.1h0M272.5 129.1h0M273.8 129.2h0M282.7 129.6h0M284.2 129.2h0M262.4 130.2h0M267.3 130.1h0M260.5 131.2h0M262.4 131.3h0M267.4 131.4h0M283.5 131.2h0M284.7 131.9h0M286.1 133.1h0M286.5 133.6h0" stroke="#1a078c" stroke-width="1.76" stroke-linecap="round" fill="none"/><path d="M273.7 123.4h0M274.9 124.2h0M267.2 125.1h0M272.9 125.4h0M279.3 125.2h0M271 127.3h0M272.7 127h0M275.4 127.2h0M278 126.7h0M281.6 127.1h0M258.9 127.8h0M261.4 128.1h0M281.7 128.4h0M263.5 129.1h0M269.9 128.9h0M276.3 129.2h0M285.5 129.1h0M258.6 130.1h0M260.3 130.7h0M264.2 130.6h0M269.1 130.2h0M269.6 130.7h0M271.1 130.5h0M272.4 130.5h0M281.8 130.8h0M260.9 131.8h0M263.6 131.5h0M264.9 131.5h0M269.9 131.9h0M261.3 132.8h0M266 133.2h0M259.8 135.1h0M263.9 134.8h0" stroke="#270692" stroke-width="1.76" stroke-linecap="round" fill="none"/><path d="M271.2 124.4h0M272.6 124h0M273.2 123.9h0M276.2 124h0M270.1 125.4h0M271.1 125.8h0M271.8 125.2h0M260.3 126.5h0M262.4 127.3h0M265.7 126.9h0M267.2 126.5h0M270.1 126.6h0M256.3 128.4h0M260.5 127.7h0M264.8 128h0M268.1 127.9h0M273 128h0M257 128.8h0M257.5 129.3h0M260.5 129h0M261.7 129.4h0M262.5 129.4h0M265.1 128.7h0M254.1 130.4h0M257 130.6h0M261.8 129.9h0M265.1 130.7h0M265.8 130.8h0M256.9 131.3h0M257.5 132h0M259.5 131.1h0M266.7 131.7h0M256.8 132.7h0M259.8 132.6h0M262.3 132.6h0M263.8 132.8h0M264.9 132.4h0M267.8 132.5h0M254.2 134.1h0M259.3 133.9h0M263.4 134.3h0M265.5 134.3h0M253.7 134.8h0M255.3 134.7h0M260.3 136.5h0M262.6 135.9h0M263.3 135.9h0" stroke="#340598" stroke-width="1.76" stroke-linecap="round" fill="none"/><path d="M256.3 127.3h0M261.9 126.5h0M264.5 127h0M257.4 128.1h0M262.3 127.8h0M252.6 129.6h0M254.4 128.8h0M254.9 129.2h0M258.9 128.9h0M255 129.9h0M257.6 129.9h0M255.2 131.7h0M254.6 133.2h0M258.2 133h0M258.6 132.4h0M255.3 133.6h0M256.9 134.1h0M257.9 133.8h0M260.3 133.7h0M261.9 133.6h0M262.4 134h0M251.8 135.2h0M253.3 134.7h0M256.6 135h0M257.5 135.2h0M261 135.1h0M262.8 134.7h0M252.6 136.5h0M254.4 136h0M255.4 136.7h0M258.9 136.3h0M251.5 137.2h0M253.3 137.1h0M256.4 137.3h0M257.5 137.5h0M258.5 137.6h0M256.5 138.8h0M257.7 138.5h0" stroke="#41049d" stroke-width="1.76" stroke-linecap="round" fill="none"/><path d="M256.4 125.9h0M258.2 126.3h0M259.5 126.6h0M253.3 132h0M250.4 132.7h0M252 132.6h0M255.9 132.8h0M249.7 134.4h0M251.8 134.1h0M253 134.4h0M248.2 135h0M250.8 135h0M259.5 135.7h0M249.1 136.7h0M251.3 136.1h0M258.3 136h0M250.8 137.5h0" stroke="#4b03a0" stroke-width="1.76" stroke-linecap="round" fill="none"/><path d="M249.9 124.9h0M252.8 124.7h0M247.2 125.3h0M250.4 126.9h0M254.1 127h0M254.9 126.9h0M253.8 128.5h0M255.8 128.3h0M248.6 128.8h0M249.1 129.1h0M248.7 130.8h0M249.5 130.8h0M252.7 130.3h0M248.5 131.2h0M250.1 132.1h0M251.8 131.6h0M254.7 131.3h0M248.3 132.6h0M248.9 133h0M252.6 132.5h0M248.6 133.9h0M250.7 136.9h0M253.9 137.5h0M255 137.5h0M251.9 138.5h0M253.2 138.3h0M254.1 139.2h0M251.7 140.2h0M253 139.5h0M255.4 139.6h0" stroke="#5602a2" stroke-width="1.76" stroke-linecap="round" fill="none"/><path d="M249.2 123.3h0M248.4 123.9h0M251 124.8h0M254.3 124.9h0M245.3 125.3h0M252.1 125.4h0M252.8 125.6h0M244.7 126.7h0M246.1 126.6h0M248.2 126.4h0M249.5 126.7h0M251.6 126.4h0M249.8 128.3h0M252.9 127.9h0M250.3 130.2h0M251.9 130.5h0M247 131.8h0M248.9 131.7h0M245.4 134h0M250.4 134.1h0M247.5 134.8h0M249.1 134.7h0M247.3 136.5h0M249.5 137.2h0M249.7 138.6h0M250.2 139h0" stroke="#6001a5" stroke-width="1.76" stroke-linecap="round" fill="none"/><path d="M248 123.7h0M252.5 123.4h0M244.7 124.9h0M248.5 125.8h0M249.7 125.4h0M251.1 126.1h0M254.5 126h0M243.9 127h0M252.8 126.8h0M245.9 127.5h0M247.2 128.1h0M248.5 127.8h0M250.6 128.4h0M251.8 127.7h0M243.2 129.1h0M244.9 128.7h0M245.4 129.6h0M247.4 129h0M250.3 129.6h0M244.7 130.8h0M243.4 131.6h0M245.6 131.1h0M244.3 133h0M247.3 132.3h0M247.1 134.3h0M245.7 135.7h0M246.3 136.5h0M248.5 136.4h0" stroke="#6a00a8" stroke-width="1.76" stroke-linecap="round" fill="none"/><path d="M249.1 121.2h0M251.4 120.4h0M247.9 121.5h0M249.9 121.8h0M251.1 121.9h0M245.7 123.3h0M250.6 123.1h0M251.6 123.3h0M245.4 124.8h0M246.6 124.5h0M252 124.8h0M244.4 125.9h0M242.5 127h0M247 126.7h0M242.9 127.7h0M246.3 130.8h0M245.9 132.4h0M244.1 134.5h0" stroke="#7303a7" stroke-width="1.76" stroke-linecap="round" fill="none"/><path d="M244.8 113.9h0M243.3 116.5h0M245.7 116.8h0M248.4 116.9h0M246.6 120.5h0M245.4 121.5h0M251.6 122.3h0M244.5 123.2h0M247.2 123.6h0M243.5 125.5h0M244.4 127.9h0M241.3 128.8h0M243 130.8h0M245.1 131.6h0M243.2 132.4h0M243.3 134h0" stroke="#7c06a6" stroke-width="1.76" stroke-linecap="round" fill="none"/><path d="M243.7 113.6h0M245.6 113.2h0M246.8 113.4h0M243.7 114.3h0M245.1 114.9h0M248.6 114.8h0M244.6 115.8h0M245.8 115.6h0M246.6 115.7h0M242.7 117h0M243 117.5h0M244.2 117.5h0M249.3 116.8h0M243 118.8h0M245.5 118.8h0M244.1 119.7h0M248.9 119.7h0M243.4 120.6h0M244.6 120.3h0M245.3 121h0M248.6 120.7h0M250.6 120.4h0M244.4 122.5h0M246.5 121.9h0M241.9 123.5h0M243.9 123.3h0M242.2 128.1h0M242.6 130h0M242.4 131.3h0M242.1 133.2h0" stroke="#860aa5" stroke-width="1.76" stroke-linecap="round" fill="none"/><path d="M244.3 112.7h0M246.1 112.9h0M249.4 112.5h0M248.6 113.9h0M246.9 115h0M242.6 115.5h0M249.7 116.2h0M247.3 116.9h0M244.8 118.5h0M249.2 118.8h0M241.4 119.9h0M245.8 120h0M246.9 120.1h0M248.7 119.1h0M241.1 124h0M242.6 123.9h0M243.4 124.3h0M240.8 125.9h0M242.4 125.8h0M242 129.7h0" stroke="#8f0da4" stroke-width="1.76" stroke-linecap="round" fill="none"/><path d="M243.4 111.4h0M245.3 111.2h0M248 112.4h0M249.1 113.2h0M249.2 114.3h0M241.1 116.2h0M247.9 116.5h0M241.2 117.7h0M241.3 118.6h0M242.6 118.7h0M248.2 118.6h0M241.7 119.8h0M242.5 120.9h0M240.9 121.6h0M243.8 122h0M240.8 123h0M240.7 126.6h0M240.6 128.3h0" stroke="#98149f" stroke-width="1.76" stroke-linecap="round" fill="none"/><path d="M240.5 105.2h0M242.3 105.4h0M240.1 106h0M240.2 107.1h0M243.8 107.6h0M242 108.5h0M247.2 111.5h0M243.4 112.5h0M247 112h0M250.1 112.3h0M242.3 113.2h0M239.8 117.2h0M239.4 118.7h0M239.8 119.9h0M240 120.3h0M240.9 120.6h0M241.8 121.8h0M239.8 123.3h0M240 126.8h0" stroke="#a01c9a" stroke-width="1.76" stroke-linecap="round" fill="none"/><path d="M247.5 99.6h0M246.2 100.7h0M241.7 103.2h0M244.6 102.6h0M245.6 103.3h0M241.2 104h0M244.3 104h0M245.8 104.1h0M246.6 103.8h0M238.8 105.3h0M239.7 105.1h0M239 106.3h0M242.5 106.1h0M241.5 107.9h0M242 107.2h0M240.2 108.6h0M240.8 109.1h0M244.9 108.3h0M248.1 108.9h0M249.3 109.2h0M243.8 110.3h0M245 110.4h0M245.6 109.6h0M246.5 110.4h0M248.5 110.3h0M241 111.1h0M242.6 111.2h0M245 111h0M248.4 110.9h0M241 112.4h0M242.4 112.3h0M241.5 113.2h0M238.7 115h0M239.8 114.4h0M240.9 115.2h0M239.1 120.9h0M239.8 122.3h0M239.7 124.2h0" stroke="#a82395" stroke-width="1.76" stroke-linecap="round" fill="none"/><path d="M247 96.9h0M244.9 98h0M245.6 98.1h0M246.7 97.6h0M247.4 100.3h0M248.2 100.1h0M245.8 102h0M246.6 102.9h0M239 103.6h0M243.3 104.4h0M243.5 104.7h0M237.4 106h0M241.3 106.5h0M243.8 106.2h0M244.4 106.8h0M248.4 106.1h0M238.5 107.1h0M244.5 107.2h0M245.8 107.4h0M246.7 107.9h0M234.1 108.6h0M235.4 108.7h0M236.5 108.6h0M238.1 109.1h0M243.8 109h0M245.5 108.3h0M247.1 108.6h0M237.8 110h0M238.7 110.1h0M241.3 109.7h0M242.4 110.1h0M236 111.1h0M237.1 111.4h0M234.5 112.1h0M237.6 111.9h0M240.3 113.4h0M239.1 116.4h0M239.3 115.7h0M237.2 117.1h0M238.3 117.1h0M238.9 119.3h0M237.7 120.7h0M239.4 125.3h0" stroke="#b12a90" stroke-width="1.76" stroke-linecap="round" fill="none"/><path d="M245.4 97.2h0M246 98.9h0M245 100.4h0M238.1 101.9h0M242 101.5h0M245.1 101.8h0M246.9 101.5h0M248.5 101.5h0M238.8 102.3h0M240.5 102.7h0M237.9 104.3h0M240.2 103.6h0M245.4 105.2h0M246.5 104.9h0M245.6 106.5h0M247.1 106.8h0M235.1 107.9h0M248.3 107.7h0M233.8 110.5h0M240.1 109.7h0M232.6 110.8h0M234.1 111.7h0M234.7 111.1h0M238.5 111.5h0M239.5 110.7h0M234.3 112h0M235.9 112h0M239.7 112h0M235.5 113.2h0M237.3 115.9h0M237.1 118.2h0M238.8 118.3h0M237.2 119.2h0" stroke="#b8318a" stroke-width="1.76" stroke-linecap="round" fill="none"/><path d="M246.3 95.6h0M247.4 95.9h0M238.1 96.9h0M241 97.8h0M243.7 98h0M237.3 99h0M238.4 98.7h0M240.1 98.9h0M243.5 99.5h0M244.3 98.7h0M242.6 100.2h0M243.2 100.1h0M243.7 102h0M237.5 102.7h0M248.5 102.8h0M235 105.5h0M236.2 106.6h0M237.1 107.5h0M232.2 108.8h0M237 108.8h0M236.7 110.3h0M238.8 112.7h0M237.7 113.5h0M238.7 113.7h0M235.9 115h0M237 114.9h0M236.6 115.6h0M236.5 118.4h0" stroke="#be3884" stroke-width="1.76" stroke-linecap="round" fill="none"/><path d="M241.8 91.2h0M243.1 90.6h0M242.7 93.5h0M243.5 93.1h0M244.8 93h0M246.2 92.9h0M245 94.9h0M237.1 95.2h0M238.8 95.1h0M240.5 95.6h0M242.5 96h0M243.5 95.9h0M236 97h0M237.9 96.8h0M239.6 97.1h0M241.8 97h0M243.6 97.3h0M244.9 96.5h0M238.9 98.4h0M242.1 98.1h0M241.2 99.7h0M241.8 99.5h0M236 100.3h0M239.3 100.1h0M241.5 100.2h0M240.2 101.4h0M241 101.5h0M236.6 102.3h0M235.9 104.8h0M237.4 105h0M234.1 105.9h0M234.7 106.8h0M233 107.6h0M233.7 107.3h0M236.4 107.2h0M234.3 113.8h0M236.4 113.9h0" stroke="#c5407e" stroke-width="1.76" stroke-linecap="round" fill="none"/><path d="M241.7 88.5h0M239.5 89.4h0M241.4 90h0M244.1 90.8h0M242.2 92.4h0M241.1 92.8h0M238.9 94.8h0M240.8 94.5h0M242 94h0M244.4 95.6h0M241 96.7h0M236.7 98.2h0M237.4 98.3h0M239.4 98h0M235 98.8h0M235.5 100h0M239 100.5h0M236.7 101.5h0M237.3 101.8h0M234.2 102.3h0M235.5 102.5h0M236.3 104.2h0M231.4 109.5h0M234.5 114.4h0" stroke="#cc4778" stroke-width="1.76" stroke-linecap="round" fill="none"/><path d="M242.3 86.1h0M243.5 87.6h0M241.1 88.7h0M243.2 88.3h0M242.4 89.1h0M243.1 89.1h0M239 90.8h0M241.2 91.2h0M246 91.1h0M239.1 92.2h0M239.8 91.8h0M243.7 92.2h0M244.8 91.6h0M238.3 93.4h0M239.3 93.7h0M239.8 94.1h0M243.5 94.6h0M239.7 95.1h0M235.4 97.9h0M235.9 99.5h0M235.5 101.8h0M235.4 103.5h0M232.4 105.6h0M233.5 105.4h0M234.3 114.8h0" stroke="#d14e72" stroke-width="1.76" stroke-linecap="round" fill="none"/><path d="M238.3 86.2h0M240.8 86.1h0M239.6 86.9h0M241 86.7h0M238.4 88.6h0M239.5 88h0M244.6 89.3h0M239.5 91.3h0M237.2 94.1h0M234.1 99.4h0M232.3 105.9h0" stroke="#d6566d" stroke-width="1.76" stroke-linecap="round" fill="none"/><path d="M238.7 80.4h0M239.4 80.8h0M239.3 82.8h0M236.9 84.6h0M241.9 85h0M237.8 86.4h0M239.6 86.3h0M241.7 87h0M238.2 90.1h0M236.9 92.3h0M237.2 93h0M231.4 111.7h0" stroke="#dc5d68" stroke-width="1.76" stroke-linecap="round" fill="none"/><path d="M236.4 80.1h0M235.7 81h0M237.6 80.7h0M238.5 82.6h0M236.9 83.5h0M241.3 83.8h0M238.3 85.1h0M239.8 85.1h0M238.8 87.6h0M237.9 88.2h0" stroke="#e16462" stroke-width="1.76" stroke-linecap="round" fill="none"/><path d="M237.5 79.8h0M238.3 80.7h0M239.3 83.3h0" stroke="#e56c5c" stroke-width="1.76" stroke-linecap="round" fill="none"/><path d="M236.5 82.6h0" stroke="#ea7456" stroke-width="1.76" stroke-linecap="round" fill="none"/><path d="M280.1 138.2h0M286.6 136.6h0M253.2 140.9h0" stroke="#270692" stroke-width="1.6" stroke-linecap="round" fill="none"/><path d="M224.2 122.1 C223.43 122.3 221.13 123.4 219.6 123.3 C218.07 123.2 216.35 122.27 215 121.5 C213.65 120.73 212.67 120.12 211.5 118.7 C210.33 117.28 208.92 115.03 208 113 C207.08 110.97 206.47 108.67 206 106.5 C205.53 104.33 205.28 102.2 205.2 100 C205.12 97.8 205.2 95.38 205.5 93.3 C205.8 91.22 206.18 89.42 207 87.5 C207.82 85.58 209.23 82.95 210.4 81.8 C211.57 80.65 212.4 80.83 214 80.6 C215.6 80.37 217.67 80.43 220 80.4 C222.33 80.37 225.33 80.37 228 80.4 C230.67 80.43 234.67 80.57 236 80.6" fill="none" stroke="#3a3a2a" stroke-width="0.4" stroke-opacity="0.8"/><defs><linearGradient id="gE" x1="0" y1="0" x2="0" y2="1"><stop offset="0" stop-color="#f0f921"/><stop offset="0.1" stop-color="#fcce25"/><stop offset="0.2" stop-color="#fca636"/><stop offset="0.3" stop-color="#f2844b"/><stop offset="0.4" stop-color="#e16462"/><stop offset="0.5" stop-color="#cc4778"/><stop offset="0.6" stop-color="#b12a90"/><stop offset="0.7" stop-color="#8f0da4"/><stop offset="0.8" stop-color="#6a00a8"/><stop offset="0.9" stop-color="#41049d"/><stop offset="1" stop-color="#0d0887"/></linearGradient></defs><rect x="292.9" y="114.6" width="7.3" height="34.6" fill="url(#gE)"/><text x="292.4" y="111.4" font-size="5" fill="#333" stroke="#333" stroke-width="0.18">pseudotime</text><text x="302.5" y="121" font-size="5" fill="#333" stroke="#333" stroke-width="0.18">30</text><text x="302.5" y="131.2" font-size="5" fill="#333" stroke="#333" stroke-width="0.18">20</text><text x="302.5" y="141.2" font-size="5" fill="#333" stroke="#333" stroke-width="0.18">10</text><text x="302.5" y="150.4" font-size="5" fill="#333" stroke="#333" stroke-width="0.18">0</text><path d="M396.2 40.5 C396.33 39.75 397.97 38.47 399 37 C400.03 35.53 401.32 33.15 402.4 31.7 C403.48 30.25 404.47 29.35 405.5 28.3 C406.53 27.25 407.63 26.23 408.6 25.4 C409.57 24.57 410.43 23.9 411.3 23.3 C412.17 22.7 412.87 22.32 413.8 21.8 C414.73 21.28 416.2 19.83 416.9 20.2 C417.6 20.57 417.65 22.43 418 24 C418.35 25.57 419 27.8 419 29.6 C419 31.4 419.03 33.42 418 34.8 C416.97 36.18 414.53 37.03 412.8 37.9 C411.07 38.77 409.33 39.45 407.6 40 C405.87 40.55 403.97 40.95 402.4 41.2 C400.83 41.45 399.23 41.62 398.2 41.5 C397.17 41.38 396.07 41.25 396.2 40.5Z" fill="#a284cc"/><path d="M411.8 22.1h0M413.6 22.1h0M415.3 22.1h0M417 21.5h0M418.3 22.2h0M412.9 23.5h0M414 23.6h0M415.1 23h0M417 23.7h0M418.3 22.7h0M408.5 24.7h0M410 25.2h0M410.9 25.1h0M413 24.7h0M417.7 24.4h0M418.1 25.2h0M408.4 26.1h0M409.1 26.7h0M416.1 25.5h0M417.8 26.3h0M418.6 26.1h0M406.2 28.1h0M407.6 28.1h0M416.6 27.8h0M403.5 29.6h0M404.7 29.1h0M406.7 29.7h0M417.7 29.2h0M419 29.4h0M402.7 30.4h0M403.6 31.2h0M404.9 31.2h0M417.1 30.6h0M419.1 30.3h0M402.3 31.6h0M403.6 32.6h0M416.8 32.5h0M400.6 33.3h0M401.5 33.1h0M414.7 34.3h0M417.1 33.9h0M401.1 34.9h0M413.5 35h0M416.4 34.9h0M417.5 35.5h0M398.8 37.4h0M400.8 37.3h0M409.7 37h0M411.4 36.6h0M412 36.8h0M414.5 36.8h0M415.6 36.8h0M417.4 36.1h0M399.2 38.3h0M400.2 37.7h0M406.6 38h0M408.8 38.5h0M410.1 38.4h0M411.8 38.6h0M412.1 37.6h0M398 39.7h0M398.8 40.2h0M400.8 40.2h0M402 40.3h0M403.8 39.5h0M404.7 40.1h0M406.3 40.1h0M408.6 39.2h0M410 40h0M396.8 40.5h0M397.3 41.6h0M398.8 41.1h0M401.8 41.8h0M404.1 41.7h0M405 40.8h0M399.1 42.3h0M401.9 42.4h0" stroke="#a284cc" stroke-width="1.7" stroke-linecap="round" fill="none"/><path d="M416.9 19.7 C417.32 18.9 419.28 19.28 420.5 19.2 C421.72 19.12 423.03 18.98 424.2 19.2 C425.37 19.42 426.47 19.98 427.5 20.5 C428.53 21.02 429.48 21.55 430.4 22.3 C431.32 23.05 432.13 23.97 433 25 C433.87 26.03 434.85 27.42 435.6 28.5 C436.35 29.58 436.98 30.45 437.5 31.5 C438.02 32.55 438.42 33.92 438.7 34.8 C438.98 35.68 439.48 35.85 439.2 36.8 C438.92 37.75 437.78 39.22 437 40.5 C436.22 41.78 435.25 43.25 434.5 44.5 C433.75 45.75 433 46.85 432.5 48 C432 49.15 432.02 50.48 431.5 51.4 C430.98 52.32 430.1 54.37 429.4 53.5 C428.7 52.63 427.95 48.12 427.3 46.2 C426.65 44.28 426.18 43.38 425.5 42 C424.82 40.62 423.95 39.4 423.2 37.9 C422.45 36.4 421.7 34.38 421 33 C420.3 31.62 419.5 31.1 419 29.6 C418.5 28.1 418.35 25.65 418 24 C417.65 22.35 416.48 20.5 416.9 19.7Z" fill="#2cb3c6"/><path d="M420.4 18.1h0M416.9 19.8h0M418.9 19.7h0M419.7 19.5h0M422.8 19.4h0M417.9 20.9h0M419.5 20.6h0M420.7 20.5h0M422.7 20.4h0M423.9 20.8h0M426.2 20.3h0M426.8 20.4h0M429.8 21h0M418.5 21.6h0M419.4 22.7h0M426.2 22.2h0M427.1 22.2h0M428.8 21.9h0M430.2 22.1h0M431.4 22.6h0M417.3 23.3h0M419 23.8h0M420.2 24.2h0M430.1 23.2h0M432.2 23.6h0M419.5 25.4h0M431.3 25.7h0M433.6 25.6h0M417.3 26.7h0M418.8 26.2h0M419.3 26.8h0M431.4 26.1h0M432.7 26.7h0M434.3 26.2h0M417.8 28.4h0M419.8 27.9h0M432.9 28h0M435.5 28.7h0M436.3 28.1h0M420.3 29.5h0M421.3 30.3h0M434.2 30.4h0M437.4 30.4h0M420 31.5h0M421.8 31h0M435.6 31.3h0M436.8 31.8h0M419.9 32.4h0M421.5 32.5h0M422.7 32.9h0M435.8 32.7h0M438.4 32.3h0M421.6 34.7h0M422.7 34.8h0M436.7 34.2h0M437.3 34h0M422.4 36.2h0M436.5 35h0M438 35.9h0M423.3 36.9h0M424.6 37.2h0M436.8 36.8h0M437.3 37.7h0M423.8 38.6h0M425.5 39.1h0M435.9 39.1h0M437.3 38h0M423.3 39.6h0M426.5 40.7h0M435.5 39.9h0M435.9 39.8h0M437.7 40.2h0M426.5 41.5h0M427.5 41.3h0M434.7 41.2h0M438.1 41.5h0M426.6 43.2h0M427.5 43h0M428.2 43.3h0M432.8 43.7h0M435.8 43.3h0M426.5 44.4h0M427.8 44.5h0M428.4 44.4h0M432.6 45.2h0M433.5 44.6h0M434.3 44.8h0M427.9 45.8h0M428.6 46.7h0M431.3 45.8h0M433.3 46.2h0M434.6 45.6h0M429.2 48.1h0M430.1 48h0M431.8 47h0M429.2 49.6h0M429.8 49.4h0M432.3 49.4h0M433.1 49h0M428.7 50.1h0M430.6 50.1h0M429.8 52.5h0M432.2 52h0M428.9 53.8h0" stroke="#2cb3c6" stroke-width="1.7" stroke-linecap="round" fill="none"/><path d="M418.5 27 C419 27.33 420.22 31.18 421 33 C421.78 34.82 422.45 36.4 423.2 37.9 C423.95 39.4 424.82 40.62 425.5 42 C426.18 43.38 426.65 44.28 427.3 46.2 C427.95 48.12 429.28 52.12 429.4 53.5 C429.52 54.88 428.65 55.33 428 54.5 C427.35 53.67 426.42 50.58 425.5 48.5 C424.58 46.42 423.5 44.08 422.5 42 C421.5 39.92 420.25 37.83 419.5 36 C418.75 34.17 418.17 32.5 418 31 C417.83 29.5 418 26.67 418.5 27Z" fill="#a284cc"/><path d="M419.2 27.8h0M418.9 29.5h0M417.9 30.2h0M419.5 30.7h0M420.1 30.5h0M419.2 32h0M418.6 33.4h0M420.1 33.6h0M419 34.3h0M420.3 34.4h0M420 35.9h0M422 35.3h0M420.7 37.1h0M421.9 37.1h0M422.4 36.6h0M420.6 38.7h0M421.8 37.8h0M423.2 38.7h0M423.8 38.7h0M421.3 39.7h0M422.7 39.7h0M423.8 39.8h0M421.6 40.7h0M422.2 40.7h0M424 41h0M422.8 41.9h0M424.3 41.6h0M425.7 42.5h0M424.4 43.5h0M425.5 43.2h0M426.2 43.2h0M424.6 44.7h0M425.7 44.9h0M426.8 44.5h0M424.4 46.5h0M424.9 45.5h0M426.7 46.7h0M425.9 47.3h0M427 46.9h0M428.2 47.5h0M425.4 48.7h0M427 48.4h0M428.4 49.1h0M426.2 49.7h0M428.2 49.8h0M426.3 50.7h0M427.7 51.9h0M429.4 51.5h0M427 52.3h0M427.9 52.5h0M429.7 53.2h0M427.9 54h0" stroke="#a284cc" stroke-width="1.5" stroke-linecap="round" fill="none"/><path d="M439.2 36.8 C439.67 36.53 439.53 37.5 439.8 38.9 C440.07 40.3 440.68 43.52 440.8 45.2 C440.92 46.88 440.67 47.97 440.5 49 C440.33 50.03 440.27 50.13 439.8 51.4 C439.33 52.67 438.4 55.05 437.7 56.6 C437 58.15 436.12 58.8 435.6 60.7 C435.08 62.6 434.93 67.45 434.6 68 C434.27 68.55 433.95 65.22 433.6 64 C433.25 62.78 433.03 62.03 432.5 60.7 C431.97 59.37 430.92 57.2 430.4 56 C429.88 54.8 429.22 54.27 429.4 53.5 C429.58 52.73 430.98 52.32 431.5 51.4 C432.02 50.48 432 49.15 432.5 48 C433 46.85 433.75 45.75 434.5 44.5 C435.25 43.25 436.22 41.78 437 40.5 C437.78 39.22 438.73 37.07 439.2 36.8Z" fill="#80ba3e"/><path d="M439.3 36.7h0M438.4 38.8h0M440 38.4h0M437.2 39.9h0M438.1 39.7h0M439.4 40.4h0M437.2 40.6h0M438.1 41.3h0M439.5 40.8h0M441 40.6h0M434.1 43.2h0M435.8 42.3h0M436.3 42.9h0M438.9 43.4h0M439.4 42.7h0M434.2 44.8h0M435.2 44.2h0M437.3 44h0M439.9 44.5h0M441 43.7h0M434.4 45.6h0M435.4 45.1h0M438.6 46.1h0M439.7 46h0M434 47.7h0M438.9 47.3h0M439.3 46.6h0M440.7 47.6h0M433 49.5h0M433.9 48.3h0M440.3 48.8h0M432.2 49.7h0M433.7 50.5h0M438.8 50.6h0M440.1 50.9h0M430 52h0M430.6 51.2h0M433 51.9h0M437.4 51.8h0M439 51.9h0M439.4 52.4h0M429.9 53.1h0M430.3 53.2h0M438.6 53.2h0M440.3 53.4h0M430.8 54.7h0M431.8 54.5h0M436.7 55.2h0M438.6 54.4h0M439.7 55.2h0M429.7 56.9h0M431.4 55.9h0M432.3 55.8h0M435.4 56.9h0M436.4 55.7h0M438.7 55.7h0M432 57.6h0M436 57.2h0M436.3 57.7h0M432.6 59.2h0M434 59.7h0M436.1 59.2h0M432.2 61h0M433.5 60.3h0M435.7 61h0M436.4 61.3h0M432.7 62.7h0M433.5 62.5h0M433.3 64.3h0M435.4 64.3h0M436 65.3h0" stroke="#80ba3e" stroke-width="1.7" stroke-linecap="round" fill="none"/><path d="M429.6 53.4h0M425.6 54.8h0M426.1 55.1h0M427.5 54h0M429.9 54.3h0M420.5 56.1h0M425.9 55.5h0M429.6 55.6h0M423 57.4h0M425.4 57.9h0M429.9 57.9h0M432.2 57.9h0M422.9 58.7h0M424.4 59.4h0M433 59.3h0M427.6 61h0M429.9 61.1h0M430.9 60.9h0M432.3 60.7h0M433.5 60.5h0M429.6 62.2h0M430.9 62.1h0M432.7 61.8h0" stroke="#2cb3c6" stroke-width="1.5" stroke-linecap="round" fill="none"/><path d="M426.7 54.1h0M423.1 56.4h0M425.6 56.8h0M428.6 56.6h0M431.1 56.4h0M421.7 58.1h0M422.3 57.1h0M424.1 58.3h0M426.8 57.3h0M431 58.6h0M432.3 57.9h0M432.5 60.8h0" stroke="#80ba3e" stroke-width="1.5" stroke-linecap="round" fill="none"/><path d="M419.6 47.9h0M420.7 47.7h0M418.4 49.3h0M420.9 49.5h0M418.4 50.9h0M419.3 50.2h0M418 53h0M419.6 52.4h0M423.1 53.5h0M425.2 53.7h0M422 55.8h0M423.5 55.1h0" stroke="#80ba3e" stroke-width="1.5" stroke-linecap="round" fill="none"/><path d="M427 59.8 C427.92 59.47 429.67 60.05 429.5 61 C429.33 61.95 427.17 64 426 65.5 C424.83 67 423.58 68.58 422.5 70 C421.42 71.42 420.33 72.83 419.5 74 C418.67 75.17 418 76 417.5 77 C417 78 416.78 78.83 416.5 80 C416.22 81.17 416.08 82.67 415.8 84 C415.52 85.33 415.23 86.67 414.8 88 C414.37 89.33 413.83 90.67 413.2 92 C412.57 93.33 411.87 94.75 411 96 C410.13 97.25 409 98.75 408 99.5 C407 100.25 405.8 100.83 405 100.5 C404.2 100.17 403.53 98.83 403.2 97.5 C402.87 96.17 402.93 94.17 403 92.5 C403.07 90.83 403.27 89.08 403.6 87.5 C403.93 85.92 404.35 84.25 405 83 C405.65 81.75 406.5 80.87 407.5 80 C408.5 79.13 409.87 78.6 411 77.8 C412.13 77 413.23 76.25 414.3 75.2 C415.37 74.15 416.37 72.78 417.4 71.5 C418.43 70.22 419.4 68.92 420.5 67.5 C421.6 66.08 422.92 64.28 424 63 C425.08 61.72 426.08 60.13 427 59.8Z" fill="#ef6c61"/><path d="M426.3 60.9h0M427.4 60.8h0M429.2 60.5h0M425.3 61.5h0M426.9 61.7h0M427.5 61.6h0M429.3 61.2h0M425.2 63.3h0M426 63.3h0M427.3 62.6h0M424.4 64.4h0M424.8 64.5h0M426.7 64.3h0M423.3 65.4h0M423.6 65.6h0M424.9 65.5h0M426 65.2h0M421.2 66.7h0M422.6 66.2h0M424.4 66.1h0M425.7 65.9h0M420.1 67.7h0M421.9 68.1h0M423 67.3h0M423.7 68h0M424.9 67.4h0M419.2 68.6h0M420.7 68.4h0M421.1 68.4h0M422.9 69h0M418.9 69.9h0M420.9 70.1h0M422 70h0M422.5 70.3h0M418.4 71.7h0M419.4 70.7h0M420.4 71.7h0M421.7 71.5h0M417.9 72.1h0M419.2 72.4h0M420.1 72.1h0M415.9 74.1h0M416.5 73.8h0M417.6 74h0M419.1 73.1h0M415.2 75.2h0M417.2 75.1h0M418.4 74.3h0M418.8 74.3h0M413.7 75.6h0M414.7 76.2h0M415.8 76.1h0M416.3 75.9h0M417.6 76h0M411.7 77.4h0M413.6 77.3h0M414.1 77.4h0M415.7 76.8h0M417.2 77.2h0M409.7 78.6h0M410.3 78.4h0M411.7 78.6h0M413.3 78.4h0M415.9 78.4h0M408.2 80.1h0M409.4 79.9h0M411.2 79.8h0M412.5 79.3h0M415.8 80h0M416.5 79.4h0M406.8 80.3h0M408.8 80.7h0M409.9 80.8h0M410.5 80.3h0M414.9 80.8h0M415.3 81.1h0M416.7 80.9h0M406.8 81.7h0M414.7 82h0M405.1 83h0M405.7 83.7h0M407.1 83.6h0M414.9 82.8h0M415.1 82.9h0M404.4 84.9h0M405.5 84.8h0M413.9 84.4h0M415.3 84.8h0M405 85.1h0M406.1 85.2h0M414.7 85.2h0M404.4 87.3h0M414.4 87h0M415.4 86.8h0M403.8 87.8h0M404.8 87.7h0M412.9 87.9h0M403.4 89.4h0M405 89.6h0M413.5 88.7h0M414.7 88.8h0M403.4 90.2h0M404.6 90.7h0M411.6 90h0M412.8 90.5h0M404.1 91.8h0M404.9 91.5h0M411.7 92.1h0M402.9 92.6h0M403.6 93.2h0M404.8 92.3h0M411.3 93.3h0M411.6 93.2h0M412.9 92.3h0M403.5 93.7h0M405.1 94h0M410.7 93.6h0M403.2 95.2h0M404.7 95.6h0M409.1 95.5h0M410.8 95.3h0M403.2 96.5h0M404.4 96.5h0M408.8 96.8h0M409.7 96.4h0M411.2 95.9h0M404.8 97.4h0M405.8 97.7h0M407.3 97.8h0M407.9 97.6h0M409.2 97.7h0M403.9 98.8h0M404.3 99.3h0M405.6 98.7h0M406.9 98.4h0M408.1 98.6h0M404 99.7h0M405.5 99.5h0M407.5 99.8h0M408 99.6h0" stroke="#ef6c61" stroke-width="1.5" stroke-linecap="round" fill="none"/><text x="402.9" y="34.5" font-size="4.9" fill="#1a1a2a" stroke="#1a1a2a" stroke-width="0.18" textLength="9.9" lengthAdjust="spacingAndGlyphs">Ery4</text><text x="425.2" y="33" font-size="4.9" fill="#1a1a2a" stroke="#1a1a2a" stroke-width="0.18" textLength="9.4" lengthAdjust="spacingAndGlyphs">Ery3</text><text x="431.5" y="54.8" font-size="4.9" fill="#1a1a2a" stroke="#1a1a2a" stroke-width="0.18" textLength="8.8" lengthAdjust="spacingAndGlyphs">Ery2</text><text x="405.3" y="90.2" font-size="4.9" fill="#1a1a2a" stroke="#1a1a2a" stroke-width="0.18" textLength="9" lengthAdjust="spacingAndGlyphs">Ery1</text><path d="M455.1 118.8h0M457.5 119h0M456.1 119.4h0M457.6 120.8h0M456.8 124.7h0M454.8 125.4h0" stroke="#a01c9a" stroke-width="1.9" stroke-linecap="round" fill="none"/><path d="M454.2 108.3h0M453.3 109.4h0M452.9 110.5h0M455.3 110.1h0M455.9 110.6h0M454.1 111.2h0M455.2 112h0M455.9 111.8h0M457 111.9h0M456.9 112.5h0M457.5 117.2h0M458.1 117.4h0M459.6 117.8h0M453.7 119h0M455.6 119.1h0M461.7 118.2h0M455.3 120.2h0M457 119.9h0M454 120.4h0M454.9 120.6h0M458.7 120.4h0M459.5 120.5h0M457.5 123.6h0M455.9 124.5h0M458.9 123.9h0M457.5 125.4h0M456.3 127h0" stroke="#a82395" stroke-width="1.9" stroke-linecap="round" fill="none"/><path d="M453 108.6h0M455.9 108.1h0M455.1 109.5h0M455.6 109.7h0M458.4 109.8h0M454.2 110.7h0M455.2 113.2h0M456.1 112.8h0M459.6 113h0M462.8 112.7h0M454 113.6h0M457.1 114.2h0M458.4 113.7h0M454.6 114.6h0M460.6 114.9h0M456.2 116.3h0M456.9 116h0M454.8 117.1h0M458.3 118.9h0M459.9 118.6h0M460.4 119.1h0M458.4 119.5h0M459.2 119.8h0M461.2 119.6h0M456.2 120.5h0M455.6 122.5h0M457.6 121.7h0M457.9 122.5h0M454.9 123.2h0M456.3 122.9h0M458.2 122.8h0M459.4 123.9h0M456 125.1h0M458.5 125.2h0M456.9 126.7h0M458.8 126.9h0M455.2 127.9h0M457 127.3h0" stroke="#b12a90" stroke-width="1.9" stroke-linecap="round" fill="none"/><path d="M455.6 107.3h0M459.2 107.5h0M451.8 108.2h0M454.7 108.5h0M457.5 108.3h0M457.9 108.3h0M452.4 109h0M461.1 109.1h0M457.7 110.8h0M459.8 110h0M452.4 112.1h0M454.2 113h0M460.7 113h0M454.7 114.1h0M456 114.3h0M461.9 113.8h0M453.6 115.5h0M455.6 115.1h0M458.9 115.3h0M454 116.5h0M455.1 116h0M458.9 116h0M459.4 116.5h0M461.1 116.2h0M462.1 116.2h0M453.6 117.2h0M456.1 117.1h0M461.4 119.7h0M460 125.5h0M455.6 128.1h0M456.6 129h0M458.1 129.3h0" stroke="#b8318a" stroke-width="1.9" stroke-linecap="round" fill="none"/><path d="M453.7 99.6h0M454 102h0M459.3 102.7h0M460.2 102h0M461.7 102.4h0M456.4 103.6h0M457.7 103.7h0M459.9 103.9h0M460.6 104.6h0M452.3 106h0M453.4 105.6h0M455.9 105.8h0M461.6 106.3h0M462.9 105.9h0M452.4 107.1h0M453.4 107.1h0M455.1 107h0M457.6 106.9h0M462.7 107.5h0M457.2 109.4h0M459.6 109.6h0M462.2 109.4h0M458.8 110.2h0M460.2 110.7h0M461.5 110.9h0M463.1 110.3h0M463.8 110.1h0M458.4 111.5h0M459.8 111.6h0M460.2 111.3h0M452.2 113h0M458.7 113.2h0M461.8 113.3h0M459.6 114.1h0M461.1 113.8h0M457.6 115.2h0M459.7 114.6h0M462.3 115.5h0M461.2 117.2h0M461.5 117.5h0" stroke="#be3884" stroke-width="1.9" stroke-linecap="round" fill="none"/><path d="M453.5 97.2h0M455 98.2h0M459.1 100h0M451.7 101h0M452.5 101.2h0M453.4 101h0M456.3 101.5h0M458.4 101.2h0M459.6 101.2h0M460.4 101.4h0M462.1 100.9h0M450.1 102.4h0M451.6 102.6h0M458.1 102.6h0M458.9 103.6h0M462.1 104.1h0M463 103.9h0M453.9 104.9h0M455.1 105h0M456.1 105h0M458.2 104.5h0M460.1 104.8h0M462.9 104.5h0M454.4 105.9h0M457.4 106.2h0M458.3 106.2h0M457.9 107h0M462.1 106.7h0M459.2 107.9h0M460.5 108.3h0M462.1 108.7h0M463.7 108.1h0M462.2 111.5h0" stroke="#c5407e" stroke-width="1.9" stroke-linecap="round" fill="none"/><path d="M452.3 97.5h0M453.5 97.4h0M450.1 98.6h0M451 99.1h0M455.1 99.3h0M458.7 99.2h0M450.8 99.8h0M451.4 100.1h0M453 100.3h0M455.2 99.7h0M460.5 100.3h0M455.5 101h0M456.8 101.1h0M454.6 102.6h0M455.7 102.6h0M457.2 102.3h0M463.3 102.5h0M451.7 103.8h0M452.3 103.8h0M454.5 103.3h0M460.5 103.6h0M452.7 105h0M457.7 104.4h0M462.2 104.3h0M459.5 106h0M460.6 105.4h0M460.4 107.6h0" stroke="#cc4778" stroke-width="1.9" stroke-linecap="round" fill="none"/><path d="M456.8 95.9h0M453 96.7h0M456.6 96.3h0M458.2 96.2h0M461 96.4h0M457.5 98h0M459.5 98.1h0M461 98.4h0M462.4 97.9h0M453.1 99.1h0M453.3 98.6h0M457 99.1h0M459.2 98.7h0M462.1 99.2h0M456.6 100.2h0M456.9 100.3h0M458.8 100.1h0M461.6 100.6h0M448.3 100.8h0M449.2 101h0M450.1 100.9h0M462.7 101h0M453.1 102.9h0M454 103.8h0" stroke="#d14e72" stroke-width="1.9" stroke-linecap="round" fill="none"/><path d="M458.6 91.4h0M459.4 90.8h0M460.2 91.3h0M461.8 90.5h0M458.7 92.3h0M459.2 92h0M462.1 93.2h0M455.5 94.4h0M456 94.5h0M457.7 94.1h0M459.4 94.1h0M461 94.8h0M461.8 94.5h0M452.3 96h0M453.6 95.5h0M455.1 95.3h0M458.3 95.1h0M460.7 95.3h0M451.5 96.7h0M455.1 96.4h0M457 97.1h0M456.4 98.2h0M458.8 97.6h0M448.8 99.2h0M456.4 99.3h0M461.1 99.5h0M449.5 99.7h0M463.2 99.9h0" stroke="#d6566d" stroke-width="1.9" stroke-linecap="round" fill="none"/><path d="M459.8 89.9h0M460.5 90.1h0M462.3 90.3h0M456.8 90.7h0M456.6 92.2h0M457.5 93.4h0M458.3 93.5h0M459.5 93.2h0M460.5 93.5h0M458.7 94.5h0M456.1 95.8h0M459.2 95.2h0M461.9 95.8h0M449 96.5h0M459.7 97.1h0M461.5 96.4h0M447.9 98.2h0M450.4 97.5h0M451.1 97.5h0" stroke="#dc5d68" stroke-width="1.9" stroke-linecap="round" fill="none"/><path d="M458.2 83h0M458.3 85h0M455.4 86.7h0M460.9 86.6h0M458.5 87.6h0M453.9 88.3h0M459.4 89.1h0M453.4 89.9h0M456.6 89.6h0M458.8 90h0M451.5 91.4h0M453.1 91.1h0M454 91.3h0M455.4 90.5h0M452.6 92.1h0M454.2 92.1h0M455 92.6h0M457 91.8h0M460.6 91.9h0M449.7 93.7h0M451.8 93.6h0M452.5 93.7h0M454.6 92.9h0M455.8 93.5h0M453.4 94.1h0M448.7 95.6h0M450.2 95.4h0M451.1 95.4h0M450.6 96.7h0M447.3 98.2h0M449.2 97.5h0M446.9 99.1h0" stroke="#e16462" stroke-width="1.9" stroke-linecap="round" fill="none"/><path d="M454.6 78.6h0M456.5 80.6h0M451.9 81.6h0M452.3 82.4h0M454.8 82.7h0M455.7 83.3h0M455 84.4h0M455 85.5h0M457.3 84.8h0M454 86.5h0M456.2 86.6h0M456.9 86h0M458.1 86.1h0M451 87.4h0M457.1 87.9h0M461 87.8h0M450.5 88.3h0M455.3 88.3h0M456.1 88.6h0M457.2 88.8h0M451.2 89.5h0M453 89.9h0M457.6 89.5h0M448.7 90.5h0M456.4 90.7h0M447.9 93.4h0M450.8 93.4h0M453.8 93h0M446.1 94h0M446.8 94.1h0M448.5 94.3h0M448.9 94.8h0M450.1 94.8h0M451.9 94.7h0M452.4 94.3h0M447.9 95.9h0M446.3 96.9h0M448.5 96.2h0M447.9 98.8h0" stroke="#e56c5c" stroke-width="1.9" stroke-linecap="round" fill="none"/><path d="M451.8 77.5h0M453.3 77.7h0M450.4 78.8h0M453.2 77.9h0M450.7 79.1h0M452.2 79.6h0M454.9 79.9h0M453.2 80.9h0M453.9 80.9h0M453.5 82.1h0M455.8 81.9h0M456.9 82.3h0M450.2 83.1h0M454.2 83.2h0M457.2 82.5h0M451.9 84.3h0M452.7 84h0M454.2 83.8h0M455.6 84.3h0M457.2 83.8h0M453.9 85.2h0M456.4 85.7h0M452.4 85.9h0M450 87.8h0M453.3 87.1h0M454.5 88h0M456.3 87.7h0M449.2 88.8h0M451.6 88.6h0M452.7 89h0M458 89h0M448.5 89.5h0M449.3 90h0M449.9 89.4h0M455 90.1h0M450.4 90.5h0M447.7 91.6h0M449 91.6h0M450.2 92.3h0M451.5 91.7h0M447.4 93.6h0M446.9 95.8h0M447.2 97h0" stroke="#ea7456" stroke-width="1.9" stroke-linecap="round" fill="none"/><path d="M450.3 75.1h0M451.9 75.7h0M450.2 77.5h0M452.3 77h0M451.2 78.1h0M449.4 81h0M451.1 81.1h0M455.3 80.4h0M456.8 80.6h0M447.3 82h0M449.6 82.2h0M450.2 81.3h0M452.6 82h0M454.8 81.6h0M447 84.1h0M450.5 83.7h0M448.8 85.3h0M451.4 85.6h0M452.9 85.2h0M447.4 86.8h0M449.5 86.5h0M450.6 85.9h0M447.9 87.8h0M453 87.7h0M445.3 89.8h0M447 89.8h0M446.2 91.4h0M447.9 90.6h0M447.4 91.7h0M446 93.3h0M444.2 95.3h0M445.2 96h0" stroke="#ee7c51" stroke-width="1.9" stroke-linecap="round" fill="none"/><path d="M446.9 74.6h0M445.6 76.4h0M449.6 76.4h0M445 76.8h0M445.7 77h0M447.7 76.7h0M449.4 77.4h0M444.4 78.5h0M447.7 78.5h0M444.4 79.4h0M446.7 79.1h0M449.1 79.5h0M451.9 79.2h0M454.2 79.9h0M447.1 80.8h0M450 80.7h0M445.6 81.7h0M447.7 81.6h0M444.5 83.2h0M445.9 83h0M447.7 83.1h0M448.7 82.9h0M451.7 82.7h0M443.8 84.4h0M448.2 84.5h0M448.7 83.9h0M447.1 84.8h0M450.7 85.1h0M451.2 86.5h0M446.8 87.4h0M449.4 87.6h0M443.1 88.3h0M446.9 88.4h0M448.1 88.9h0M442 89.7h0M447.1 91.3h0M442 92.6h0M443.9 92.6h0M445.4 91.8h0M445.1 93.2h0M442.6 94.8h0M444.8 94.9h0M442.6 95.9h0" stroke="#f2844b" stroke-width="1.9" stroke-linecap="round" fill="none"/><path d="M445.6 73.7h0M448.3 74h0M443 74.4h0M446 75.4h0M447.8 75.3h0M447.2 75.5h0M448.1 75.7h0M450.7 76.2h0M442.8 76.7h0M446.4 76.8h0M446 78.1h0M446.9 78.6h0M449 78.2h0M445.8 79.1h0M444.3 80.5h0M445.5 80.6h0M447.5 80.3h0M442.2 81.8h0M447.4 83.2h0M447.7 85.4h0M443.3 86.6h0M445.1 86.2h0M445.4 86.9h0M448.2 86.1h0M444.8 87.7h0M445.5 88h0M445 89h0M443.4 89.9h0M443.6 93.7h0M443.2 95.9h0" stroke="#f48c46" stroke-width="1.9" stroke-linecap="round" fill="none"/><path d="M441.6 72.8h0M445 73.9h0M442.7 75.3h0M436.7 76.2h0M443.1 76.3h0M444.6 76.1h0M438.9 76.7h0M439.8 77.6h0M443.7 77.4h0M440.7 78.3h0M442 78.3h0M443.9 78.3h0M443.4 79h0M447.7 79.1h0M441.2 81.4h0M443.7 82h0M442.3 82.9h0M443.7 83.1h0M442.2 84.4h0M444.8 83.9h0M445.9 84.2h0M443.1 84.7h0M444.5 84.8h0M445.5 85.4h0M439.7 86.6h0M439 87.9h0M443.3 87.2h0M441.4 88.2h0M442.2 89h0M446.3 88.7h0M441.3 89.3h0M444.4 90h0M441 90.5h0M442.8 90.5h0M443.5 91h0M444.3 90.9h0M444.1 92.1h0M441.2 93.6h0M442.6 92.8h0M443.2 94.7h0" stroke="#f79540" stroke-width="1.9" stroke-linecap="round" fill="none"/><path d="M439.8 74.9h0M441.3 74.7h0M444.6 74.6h0M440.5 76h0M441.1 76.5h0M441 77h0M438.9 78.4h0M436.5 79.2h0M439.9 79.9h0M439.7 80.7h0M443.1 80.2h0M437.4 81.6h0M440 81.3h0M444.6 82.2h0M438.4 82.8h0M440.2 83.3h0M438.7 84.3h0M440.8 84h0M438.2 84.9h0M439.8 84.8h0M441.5 85.3h0M442.4 85.3h0M441.3 86.4h0M442.2 86.7h0M438 87.7h0M441.3 87.7h0M442 87.6h0M440 88.9h0M440.3 90.3h0M440.1 92.3h0M441.1 92.2h0M440.4 93.3h0M439.3 94.2h0M441.2 93.9h0" stroke="#fa9e3b" stroke-width="1.9" stroke-linecap="round" fill="none"/><path d="M438.6 76.5h0M441.8 76.1h0M435.6 76.9h0M437.6 76.8h0M436.6 78.1h0M437.2 78.3h0M439.7 78.1h0M434.2 79.1h0M435.1 79.5h0M438 79.9h0M438.6 79.5h0M440.9 79h0M442.7 79.7h0M436.2 80.5h0M441.4 80.4h0M442.5 80.3h0M436.3 82.8h0M437.2 82.5h0M441.5 82.6h0M437.5 84.1h0M440.1 84.4h0M438.8 85h0M436.9 86.1h0M439.8 87.4h0M437.9 88.9h0M438.1 89.6h0M437 90.5h0M439.6 90.7h0M435.5 92.5h0M436.8 92.1h0M437.9 92.5h0M438.2 93.6h0M439.2 92.9h0" stroke="#fca636" stroke-width="1.9" stroke-linecap="round" fill="none"/><path d="M435.6 77.8h0M433.4 79h0M434.1 80.4h0M437.6 80.9h0M438.8 80.5h0M435.6 81.6h0M439.3 81.5h0M433.4 82.7h0M434.2 83.3h0M435.2 82.7h0M433.2 83.8h0M434.8 84.2h0M434.4 86.1h0M435.7 85.9h0M437.6 86.9h0M438.4 86h0M435 87.3h0M436.1 87h0M436.4 88.5h0M439.2 89.1h0M434.2 89.3h0M436.4 89.6h0M434.1 90.8h0M438.5 91h0M433.7 91.9h0M438.9 91.6h0M434.3 92.8h0M436.6 92.8h0M435.8 94.3h0" stroke="#fcb032" stroke-width="1.9" stroke-linecap="round" fill="none"/><path d="M432.7 81h0M435.3 80.9h0M433.5 82.1h0M434.1 81.6h0M436.7 81.4h0M436.5 84.3h0M431.6 85h0M433.8 84.9h0M435.6 84.9h0M436.8 85.1h0M433.1 87.8h0M433.8 88.8h0M435.8 88.2h0M435.6 89.4h0M439.1 89.6h0M435.2 91.3h0M438.1 91h0M433.5 91.8h0M435.8 92.7h0M434.7 96.4h0" stroke="#fcba2e" stroke-width="1.9" stroke-linecap="round" fill="none"/><path d="M432.3 83.1h0M435.7 83.6h0M430.4 86.8h0M431.9 85.9h0M428.9 87.6h0M434.1 87.7h0M429.4 89.1h0M430.7 88.3h0M432.4 89.8h0M433 89.6h0M433.2 91.2h0M434.2 94.6h0" stroke="#fcc429" stroke-width="1.9" stroke-linecap="round" fill="none"/><path d="M429.3 84.5h0M431.1 83.6h0M431.6 83.8h0M429.2 85.2h0M431 85.6h0M432.9 84.8h0M432.6 86.3h0M426.1 87.1h0M431 87.2h0M431.6 87h0M426.4 88.2h0M431.7 88.2h0M432.6 88.3h0M428.8 89.6h0M430.5 89.6h0M432.4 91.2h0M432.8 94.1h0M433.3 97.2h0" stroke="#fcce25" stroke-width="1.9" stroke-linecap="round" fill="none"/><path d="M427.1 86.4h0M428.8 86h0M429.9 86.7h0M427.4 87.7h0M429.7 87.8h0M427 89.7h0M426.2 90.5h0M429.8 90.5h0M430.6 90.8h0M422.1 91.7h0M426.5 91.8h0M430.9 92.5h0M426.7 93.2h0M431.8 93.6h0M433.5 93.4h0M425.7 94.8h0M426.7 95.4h0M432.1 95.1h0M434.1 95.4h0M431.8 96.5h0M427 97.8h0M426 99h0M429.4 98.8h0M424.2 99.8h0" stroke="#f9d924" stroke-width="1.9" stroke-linecap="round" fill="none"/><path d="M427.4 88.9h0M429 88.8h0M426.6 90.1h0M429.9 90h0M425.4 91h0M428.2 91h0M423 92h0M423.8 91.7h0M424.7 92.6h0M429.6 91.9h0M431.5 92.4h0M428.6 93.4h0M420.4 94.8h0M424.2 94.5h0M426.9 94.5h0M428.4 94.1h0M429.4 94.7h0M431.3 94.7h0M421.6 95.4h0M424.1 95.1h0M424.6 95.6h0M429.4 95.8h0M430.9 95.4h0M432.8 95.9h0M419.4 96.6h0M421.1 96.2h0M425.7 97.2h0M429 96.9h0M430 96.4h0M430.8 96.6h0M420.1 97.5h0M423.1 98.1h0M425.3 97.4h0M428.4 97.9h0M429.4 98h0M424.2 99.3h0M419.7 100h0M426.1 99.8h0" stroke="#f6e423" stroke-width="1.9" stroke-linecap="round" fill="none"/><path d="M423.9 89.9h0M425.5 90h0M423.6 91.3h0M427.1 91.3h0M427.6 92.2h0M428.5 91.9h0M421.9 93.7h0M424.3 93.5h0M424.7 93.2h0M427.1 93.2h0M430 93.5h0M430.9 93.4h0M421.7 94.1h0M424.6 94.1h0M432 94.8h0M420.5 95.3h0M427.9 95.6h0M428.6 96h0M420 96.7h0M423 96.7h0M424.3 96.7h0M425.1 97h0M426.9 96.5h0M416.7 98.3h0M417.9 97.6h0M419.4 97.4h0M423.7 97.5h0M426.2 97.9h0M418.6 98.9h0M422 99.3h0M423.1 99.3h0M425.5 99.4h0" stroke="#f3ee22" stroke-width="1.9" stroke-linecap="round" fill="none"/><path d="M423 93.5h0M419.2 94.9h0M422.8 94.1h0M422.5 95.5h0M422 97.6h0M419.2 99h0M420.1 99h0M420.1 100.3h0M422 100h0M422.3 99.8h0" stroke="#f0f921" stroke-width="1.9" stroke-linecap="round" fill="none"/><path d="M451.2 117.1h0M451.9 120.1h0M450.4 121.6h0M451.2 121.7h0" stroke="#4b03a0" stroke-width="1.7" stroke-linecap="round" fill="none"/><path d="M448 107.7h0M450.6 108.3h0M451.9 109.2h0M446.8 111.2h0M446.7 112.3h0M451.9 112.7h0M447.2 114h0M451.6 114.2h0M451.4 115h0M447.3 118.2h0M451.2 119h0" stroke="#5602a2" stroke-width="1.7" stroke-linecap="round" fill="none"/><path d="M444.6 105.6h0M444.5 106.6h0M447.1 106.7h0M449.8 107.5h0M445.8 108h0M444.7 110.4h0M449.1 111.1h0M452 110.5h0M444.8 111.5h0M448.9 111.5h0M448.2 114h0M450.2 114.2h0M447.8 115.1h0M447.5 117.8h0M449.2 117.3h0M449.6 117.3h0M448.7 119.3h0M450.3 119.1h0" stroke="#6001a5" stroke-width="1.7" stroke-linecap="round" fill="none"/><path d="M443.8 104.2h0M446.2 103.9h0M447.1 109.3h0M448.7 108h0M449.6 109.7h0M450.2 112.7h0M449.9 115.9h0" stroke="#6a00a8" stroke-width="1.7" stroke-linecap="round" fill="none"/><path d="M448 103.9h0M447.6 105h0M448.1 104.9h0" stroke="#7303a7" stroke-width="1.7" stroke-linecap="round" fill="none"/><path d="M445.1 103.9h0" stroke="#7c06a6" stroke-width="1.7" stroke-linecap="round" fill="none"/><path d="M447.2 121 C448.37 120.58 451.2 121.25 451.5 122 C451.8 122.75 449.9 124.38 449 125.5 C448.1 126.62 447.02 127.65 446.1 128.7 C445.18 129.75 444.37 130.77 443.5 131.8 C442.63 132.83 441.68 133.95 440.9 134.9 C440.12 135.85 439.48 136.63 438.8 137.5 C438.12 138.37 437.48 139.83 436.8 140.1 C436.12 140.37 434.8 139.7 434.7 139.1 C434.6 138.5 435.68 137.37 436.2 136.5 C436.72 135.63 437.17 134.85 437.8 133.9 C438.43 132.95 439.3 131.83 440 130.8 C440.7 129.77 441.25 128.75 442 127.7 C442.75 126.65 443.63 125.62 444.5 124.5 C445.37 123.38 446.03 121.42 447.2 121Z" fill="#2c0694"/><path d="M438.9 132.4h0M438.1 134.6h0M437.9 135.2h0M436.9 136.3h0M440.9 137h0M437.1 138.3h0M438.7 137.8h0M436.4 138.9h0M438.8 138.7h0M438.2 139.6h0" stroke="#0d0887" stroke-width="1.9" stroke-linecap="round" fill="none"/><path d="M439.3 131.5h0M437.6 132.7h0M438.7 132h0M441.7 133.3h0M440 135.7h0M435.9 137h0M435.7 138.2h0M437 139.7h0M437.9 141.3h0" stroke="#1a078c" stroke-width="1.9" stroke-linecap="round" fill="none"/><path d="M443.3 125.9h0M443.7 126.5h0M442.7 129.4h0M441.7 129.7h0M442.3 130.1h0M440.5 131.4h0M443 132.3h0M438.2 133.5h0M439.6 133h0M442.9 133.7h0M436.6 134.7h0M439.3 134.2h0M440.5 134.1h0M437.5 135.3h0M439.7 135.4h0M438.7 136.5h0M434.8 139h0M436.8 138.4h0M437.4 141.1h0" stroke="#270692" stroke-width="1.9" stroke-linecap="round" fill="none"/><path d="M448 120.3h0M446.2 121.1h0M450.5 121.3h0M447.7 122h0M446.4 123.1h0M444.5 124.6h0M445 125.7h0M444.7 126.6h0M444 127.8h0M446.9 127.6h0M440.8 129.7h0M445.3 130.2h0M441.4 131.2h0M442.9 130.8h0M444.3 131.6h0M441 132.3h0M441.7 131.9h0M443.8 132.2h0M440.1 133h0M441.9 134.1h0M435.2 139.5h0" stroke="#340598" stroke-width="1.9" stroke-linecap="round" fill="none"/><path d="M446.8 120.5h0M452.2 121.4h0M445.6 122.2h0M447.4 122.7h0M449.1 122.1h0M450.4 122.8h0M445.3 123.5h0M446.9 123.1h0M447.8 123.9h0M451.3 123.1h0M445.6 124.9h0M447.1 124.9h0M448.1 124.5h0M449.3 124.7h0M450.1 124.2h0M451.1 124.6h0M442.7 125.7h0M447.3 125.4h0M448.1 125.8h0M443.1 126.8h0M446.3 126.7h0M447.4 126.5h0M447.8 126.5h0M443 127.6h0M444.9 127.4h0M446.2 127.9h0M441.9 128.5h0M444.2 129h0M444.4 129.3h0M446 129.1h0M444 130h0" stroke="#41049d" stroke-width="1.9" stroke-linecap="round" fill="none"/><path d="M447.2 121.3h0M448.5 121.5h0M449.3 121.2h0M451.4 121.5h0M451.4 122.6h0M449.2 123.2h0M446.4 125.7h0M447.3 129.1h0" stroke="#4b03a0" stroke-width="1.9" stroke-linecap="round" fill="none"/><path d="M428.5 142.2 C429.27 141.53 430.8 141.47 432 141.3 C433.2 141.13 434.97 140.58 435.7 141.2 C436.43 141.82 436.32 143.62 436.4 145 C436.48 146.38 436.33 148.17 436.2 149.5 C436.07 150.83 435.85 151.8 435.6 153 C435.35 154.2 435.08 155.62 434.7 156.7 C434.32 157.78 433.82 158.63 433.3 159.5 C432.78 160.37 432.23 161.12 431.6 161.9 C430.97 162.68 430.2 163.5 429.5 164.2 C428.8 164.9 428.18 165.97 427.4 166.1 C426.62 166.23 425.27 165.85 424.8 165 C424.33 164.15 424.6 162.2 424.6 161 C424.6 159.8 424.68 158.97 424.8 157.8 C424.92 156.63 425.12 155.22 425.3 154 C425.48 152.78 425.68 151.5 425.9 150.5 C426.12 149.5 426.35 148.87 426.6 148 C426.85 147.13 427.08 146.27 427.4 145.3 C427.72 144.33 427.73 142.87 428.5 142.2Z" fill="#1d078e"/><path d="M430.6 140.7h0M429.1 142.5h0M432.3 141.5h0M429.8 143h0M431 143.1h0M431.8 143.7h0M436.9 143.5h0M427.9 145.1h0M430.6 144.4h0M432.2 146.1h0M432.9 146.5h0M426.5 147.7h0M428.1 147.7h0M431.8 147h0M434.1 147h0M427.4 149h0M429.2 149h0M425.9 149.9h0M426.3 150h0M430.9 149.4h0M432.6 150.1h0M432.8 150.1h0M427.7 150.7h0M430.3 151.3h0M434.1 151.1h0M436.3 151.6h0M425.9 152.9h0M428.3 152.2h0M430.7 152.9h0M432.1 152.9h0M424.5 153.6h0M431.6 153.9h0M433.3 153.5h0M434.7 154h0M425.9 155.6h0M428.2 154.8h0M432.2 155.5h0M433.8 154.9h0M423.8 156.2h0M428.2 156.4h0M432.9 156.9h0M425.6 158.3h0M429 157.2h0M432.9 158.1h0M430.6 158.9h0M431.5 158.9h0M426.1 160.3h0M427.1 160.4h0M430.7 159.8h0M432.8 160h0M424.7 161.1h0M425.2 161.9h0M427 161h0M432 161.1h0M426.1 164.5h0M427.3 164h0M427.9 164.2h0M429.6 164.3h0M426 165.9h0" stroke="#0d0887" stroke-width="1.9" stroke-linecap="round" fill="none"/><path d="M436 141h0M435 142.1h0M435.7 141.9h0M427.7 143.9h0M435 142.9h0M436.1 143.7h0M429.5 144.7h0M434.4 144.3h0M435.4 145.5h0M430.6 147.4h0M434.2 148.6h0M435.7 149h0M427.9 149.4h0M434.1 149.7h0M426.4 151.6h0M429.1 151.4h0M429.4 152h0M433.7 152.6h0M434.8 152.9h0M436.3 152.3h0M436.7 152h0M428.2 153.4h0M427.3 155.5h0M429.2 154.9h0M430.6 154.9h0M435.6 154.9h0M426.1 157h0M429.3 156.5h0M430.4 156.9h0M432.5 156.4h0M434 156.9h0M427.3 157.9h0M431.7 157.8h0M426.8 158.9h0M428.1 159h0M427.9 160.8h0M432.1 160.1h0M434.3 160.5h0M427.5 162.1h0M429.7 162h0M423.8 162.8h0M425.3 162.9h0M427.1 162.3h0M428.2 163.1h0M430.1 163.4h0M430.6 164.3h0M424.4 166.1h0M427.2 165.4h0" stroke="#1a078c" stroke-width="1.9" stroke-linecap="round" fill="none"/><path d="M427 142.2h0M427.8 142.4h0M430.4 141.6h0M433.4 141.7h0M426.9 143.1h0M433.9 144h0M426.8 145.2h0M431.7 144.6h0M433.7 144.6h0M436.3 144.5h0M426 146h0M428.6 145.5h0M428.9 146.5h0M431 146h0M434.1 145.8h0M429.3 147.7h0M433.6 147.7h0M436.3 147.8h0M427.9 148.4h0M430.5 148.2h0M432.5 149h0M433.4 148.5h0M429.8 149.9h0M436 150.4h0M431.8 151.7h0M433.5 151.4h0M427.1 152.9h0M426.7 153.4h0M429.5 153.4h0M430.4 153.3h0M435.7 153.7h0M435.1 154.7h0M427 156.6h0M427.5 158.2h0M430.4 157.5h0M425.6 159.1h0M429.2 159.1h0M432.8 159.1h0M424 160.9h0M429.7 160.1h0M430.3 161.7h0M429.7 162.4h0M424.3 164.3h0" stroke="#270692" stroke-width="1.9" stroke-linecap="round" fill="none"/><path d="M368 128h0M369.5 129.5h0M371 131h0M372.5 133h0M374 132h0M370 127.5h0M376.8 140h0M377.8 140.8h0M425.9 141.2h0M369 130.5h0M372 129.5h0M373.5 134.2h0M440.4 115.2h0" stroke="#1d078e" stroke-width="2" stroke-linecap="round" fill="none"/><path d="M417.7 98 C418.08 97.58 419.22 96.37 420 95.5 C420.78 94.63 421.57 93.77 422.4 92.8 C423.23 91.83 424.13 90.73 425 89.7 C425.87 88.67 426.73 87.55 427.6 86.6 C428.47 85.65 429.33 84.87 430.2 84 C431.07 83.13 432.03 82.18 432.8 81.4 C433.57 80.62 434.12 79.98 434.8 79.3 C435.48 78.62 436.03 78.07 436.9 77.3 C437.77 76.53 438.78 75.18 440 74.7 C441.22 74.22 442.82 74.4 444.2 74.4 C445.58 74.4 446.92 74.22 448.3 74.7 C449.68 75.18 451.1 76.18 452.5 77.3 C453.9 78.42 455.48 79.67 456.7 81.4 C457.92 83.13 458.85 85.45 459.8 87.7 C460.75 89.95 461.88 92.65 462.4 94.9 C462.92 97.15 462.82 100.15 462.9 101.2" fill="none" stroke="#4a2a3a" stroke-width="0.35" stroke-opacity="0.7"/><defs><linearGradient id="gF" x1="0" y1="0" x2="0" y2="1"><stop offset="0" stop-color="#f0f921"/><stop offset="0.1" stop-color="#fcce25"/><stop offset="0.2" stop-color="#fca636"/><stop offset="0.3" stop-color="#f2844b"/><stop offset="0.4" stop-color="#e16462"/><stop offset="0.5" stop-color="#cc4778"/><stop offset="0.6" stop-color="#b12a90"/><stop offset="0.7" stop-color="#8f0da4"/><stop offset="0.8" stop-color="#6a00a8"/><stop offset="0.9" stop-color="#41049d"/><stop offset="1" stop-color="#0d0887"/></linearGradient></defs><rect x="471.5" y="115.4" width="6.2" height="32.3" fill="url(#gF)"/><text x="471" y="112.2" font-size="5" fill="#333" stroke="#333" stroke-width="0.18">pseudotime</text><text x="480" y="121.8" font-size="5" fill="#333" stroke="#333" stroke-width="0.18">6</text><text x="480" y="131" font-size="5" fill="#333" stroke="#333" stroke-width="0.18">4</text><text x="480" y="140.3" font-size="5" fill="#333" stroke="#333" stroke-width="0.18">2</text><text x="480" y="148.8" font-size="5" fill="#333" stroke="#333" stroke-width="0.18">0</text><line x1="79.6" y1="153.8" x2="79.6" y2="161.4" stroke="#46627c" stroke-width="1.3"/><path d="M76.5 159.4 L79.6 161.3 L82.7 159.4 L79.6 166Z" fill="#1b4676"/><line x1="243.9" y1="153.8" x2="243.9" y2="161.2" stroke="#46627c" stroke-width="1.3"/><path d="M240.8 159.2 L243.9 161.1 L247 159.2 L243.9 165.8Z" fill="#1b4676"/><line x1="414.2" y1="153.8" x2="414.2" y2="161.2" stroke="#46627c" stroke-width="1.3"/><path d="M411.1 159.2 L414.2 161.1 L417.3 159.2 L414.2 165.8Z" fill="#1b4676"/><line x1="80.3" y1="478.5" x2="80.3" y2="483.4" stroke="#46627c" stroke-width="1.3"/><path d="M77.2 481.4 L80.3 483.3 L83.4 481.4 L80.3 488Z" fill="#1b4676"/><line x1="242.7" y1="477.8" x2="242.7" y2="483.4" stroke="#46627c" stroke-width="1.3"/><path d="M239.6 481.4 L242.7 483.3 L245.8 481.4 L242.7 488Z" fill="#1b4676"/><line x1="413.7" y1="477.8" x2="413.7" y2="483.4" stroke="#46627c" stroke-width="1.3"/><path d="M410.6 481.4 L413.7 483.3 L416.8 481.4 L413.7 488Z" fill="#1b4676"/><path d="M32.4 185.77H127.4M32.4 198.74H127.4M32.4 211.71H127.4M32.4 224.68H127.4M32.4 237.65H127.4M32.4 250.62H127.4M32.4 263.59H127.4M32.4 276.56H127.4M32.4 289.53H127.4M32.4 302.5H127.4M32.4 315.47H127.4M32.4 328.44H127.4M32.4 341.41H127.4M32.4 354.38H127.4M32.4 367.35H127.4M32.4 380.32H127.4M32.4 393.29H127.4M32.4 406.26H127.4M32.4 419.23H127.4" stroke="#505050" stroke-width="0.85" fill="none"/><path d="M110.4 242.84V249.97M110.4 258.4V263.2M110.4 283.05V289.14M52.3 292.12V302.5M81.2 297.31V302.5M110.4 299.91V302.5M81.2 308.99V315.47M110.4 310.28V315.47M52.3 316.12V328.44M81.2 323.25V328.44M110.4 324.55V328.44M52.3 334.93V341.41M81.2 328.44V341.41M110.4 332.98V341.41M110.4 347.89V354.38M81.2 375.13V380.32M110.4 377.73V380.32M110.4 388.1V393.29M81.2 393.29V406.26M110.4 399.77V406.26M81.2 406.26V419.23M110.4 410.15V419.23" stroke="#7a7a7a" stroke-width="0.7" fill="none"/><path d="M63.3 172.8 64.1 173.3 56.8 173.7 52.9 174.2 52.5 174.6 52.5 175.1 52.5 175.6 52.5 176 52.5 176.5 52.5 176.9 52.5 177.4 52.5 177.8 52.5 178.3 52.5 178.8 52.5 179.2 52.5 179.7 52.5 180.1 52.5 180.6 52.5 181.1 52.5 181.5 52.5 182 52.5 182.4 52.5 182.9 52.5 183.4 52.5 183.8 52.5 184.3 52.5 184.7 52.1 184.7 52.1 184.3 52.1 183.8 52.1 183.4 52.1 182.9 52.1 182.4 52.1 182 52.1 181.5 52.1 181.1 52.1 180.6 52.1 180.1 52.1 179.7 52.1 179.2 52.1 178.8 52.1 178.3 52.1 177.8 52.1 177.4 52.1 176.9 52.1 176.5 52.1 176 52.1 175.6 52.1 175.1 52.1 174.6 51.7 174.2 47.8 173.7 40.5 173.3 41.3 172.8ZM91.7 172.8 93.5 173.1 90.5 173.4 85.8 173.7 82.7 174 81.5 174.3 81.4 174.6 81.4 174.9 81.4 175.2 81.4 175.5 81.4 175.8 81.4 176.1 81.4 176.4 81.4 176.7 81.4 177 81.4 177.3 81.4 177.6 81.4 177.9 81.4 178.2 81.4 178.5 81.4 178.8 81.4 179.1 81.4 179.4 81.4 179.7 81.4 180 81.4 180.3 81.4 180.6 81 180.6 81 180.3 81 180 81 179.7 81 179.4 81 179.1 81 178.8 81 178.5 81 178.2 81 177.9 81 177.6 81 177.3 81 177 81 176.7 81 176.4 81 176.1 81 175.8 81 175.5 81 175.2 81 174.9 81 174.6 80.9 174.3 79.7 174 76.6 173.7 71.9 173.4 68.9 173.1 70.7 172.8ZM120.3 172.8 121.6 172.9 122.1 173 121.7 173.2 120.6 173.3 118.9 173.4 117 173.5 115.1 173.7 113.5 173.8 112.3 173.9 111.5 174 111 174.2 110.7 174.3 110.6 174.4 110.6 174.5 110.6 174.7 110.6 174.8 110.6 174.9 110.6 175 110.6 175.2 110.6 175.3 110.6 175.4 110.6 175.5 110.6 175.7 110.6 175.8 110.6 175.9 110.6 176 110.2 176 110.2 175.9 110.2 175.8 110.2 175.7 110.2 175.5 110.2 175.4 110.2 175.3 110.2 175.2 110.2 175 110.2 174.9 110.2 174.8 110.2 174.7 110.2 174.5 110.2 174.4 110.1 174.3 109.8 174.2 109.3 174 108.5 173.9 107.3 173.8 105.7 173.7 103.8 173.5 101.9 173.4 100.2 173.3 99.1 173.2 98.7 173 99.2 172.9 100.5 172.8Z" fill="#e8806a" stroke="#444" stroke-width="0.38" stroke-linejoin="round"/><path d="M52.5 185.8 52.7 186.3 54.5 186.8 59.2 187.3 64.3 187.8 63.7 188.3 58.3 188.8 54.1 189.3 52.6 189.8 52.5 190.3 52.5 190.8 52.5 191.3 52.5 191.8 52.5 192.3 52.5 192.8 52.5 193.3 52.5 193.8 52.5 194.3 52.5 194.7 52.5 195.2 52.5 195.7 52.5 196.2 52.5 196.7 52.5 197.2 52.5 197.7 52.5 198.2 52.5 198.7 52.1 198.7 52.1 198.2 52.1 197.7 52.1 197.2 52.1 196.7 52.1 196.2 52.1 195.7 52.1 195.2 52.1 194.7 52.1 194.3 52.1 193.8 52.1 193.3 52.1 192.8 52.1 192.3 52.1 191.8 52.1 191.3 52.1 190.8 52.1 190.3 52 189.8 50.5 189.3 46.3 188.8 40.9 188.3 40.3 187.8 45.4 187.3 50.1 186.8 51.9 186.3 52.1 185.8ZM81.4 185.8 81.4 186 81.7 186.3 82.5 186.6 84.1 186.9 86.6 187.1 89.7 187.4 92.4 187.7 93.5 188 92.6 188.2 89.9 188.5 86.8 188.8 84.2 189.1 82.6 189.3 81.7 189.6 81.4 189.9 81.4 190.2 81.4 190.4 81.4 190.7 81.4 191 81.4 191.3 81.4 191.5 81.4 191.8 81.4 192.1 81.4 192.4 81.4 192.6 81.4 192.9 81 192.9 81 192.6 81 192.4 81 192.1 81 191.8 81 191.5 81 191.3 81 191 81 190.7 81 190.4 81 190.2 81 189.9 80.7 189.6 79.8 189.3 78.2 189.1 75.6 188.8 72.5 188.5 69.8 188.2 68.9 188 70 187.7 72.7 187.4 75.8 187.1 78.3 186.9 79.9 186.6 80.7 186.3 81 186 81 185.8ZM111.1 186.4 111.4 186.5 112 186.7 112.7 186.8 113.6 186.9 114.7 187 115.9 187.2 117.3 187.3 118.7 187.4 120 187.5 121.1 187.7 121.9 187.8 122.3 187.9 122.3 188 121.9 188.2 121 188.3 119.9 188.4 118.6 188.5 117.2 188.7 115.8 188.8 114.6 188.9 113.5 189 112.6 189.2 111.9 189.3 111.4 189.4 111.1 189.5 110.8 189.7 110 189.7 109.7 189.5 109.4 189.4 108.9 189.3 108.2 189.2 107.3 189 106.2 188.9 105 188.8 103.6 188.7 102.2 188.5 100.9 188.4 99.8 188.3 98.9 188.2 98.5 188 98.5 187.9 98.9 187.8 99.7 187.7 100.8 187.5 102.1 187.4 103.5 187.3 104.9 187.2 106.1 187 107.2 186.9 108.1 186.8 108.8 186.7 109.4 186.5 109.7 186.4Z" fill="#e8905a" stroke="#444" stroke-width="0.38" stroke-linejoin="round"/><path d="M52.5 198.7 53.3 199.2 56.6 199.7 62.2 200.2 64.9 200.7 61.1 201.2 55.7 201.7 53 202.2 52.5 202.7 52.5 203.2 52.5 203.7 52.5 204.2 52.5 204.7 52.5 205.2 52.5 205.7 52.5 206.2 52.5 206.7 52.5 207.2 52.5 207.7 52.5 208.2 52.5 208.7 52.5 209.2 52.5 209.7 52.5 210.2 52.5 210.7 52.5 211.2 52.5 211.7 52.1 211.7 52.1 211.2 52.1 210.7 52.1 210.2 52.1 209.7 52.1 209.2 52.1 208.7 52.1 208.2 52.1 207.7 52.1 207.2 52.1 206.7 52.1 206.2 52.1 205.7 52.1 205.2 52.1 204.7 52.1 204.2 52.1 203.7 52.1 203.2 52.1 202.7 51.6 202.2 48.9 201.7 43.5 201.2 39.7 200.7 42.4 200.2 48 199.7 51.3 199.2 52.1 198.7ZM81.4 198.7 81.6 199 82.1 199.2 83 199.4 84.5 199.6 86.7 199.9 89.3 200.1 91.7 200.3 93.2 200.5 93.5 200.8 92.3 201 90.1 201.2 87.5 201.4 85.2 201.7 83.4 201.9 82.3 202.1 81.7 202.3 81.4 202.6 81.4 202.8 81.4 203 81.4 203.2 81.4 203.5 81.4 203.7 81.4 203.9 81.4 204.1 81.4 204.4 81.4 204.6 81 204.6 81 204.4 81 204.1 81 203.9 81 203.7 81 203.5 81 203.2 81 203 81 202.8 81 202.6 80.7 202.3 80.1 202.1 79 201.9 77.2 201.7 74.9 201.4 72.3 201.2 70.1 201 68.9 200.8 69.2 200.5 70.7 200.3 73.1 200.1 75.7 199.9 77.9 199.6 79.4 199.4 80.3 199.2 80.8 199 81 198.7ZM112 199.4 112.7 199.5 113.5 199.6 114.5 199.7 115.6 199.8 116.8 200 118.1 200.1 119.3 200.2 120.5 200.3 121.4 200.4 122 200.5 122.3 200.7 122.3 200.8 121.8 200.9 121.1 201 120.1 201.1 118.9 201.2 117.6 201.3 116.3 201.5 115.1 201.6 114.1 201.7 113.1 201.8 112.4 201.9 111.8 202 111.4 202.1 111 202.3 110.8 202.4 110 202.4 109.8 202.3 109.4 202.1 109 202 108.4 201.9 107.7 201.8 106.7 201.7 105.7 201.6 104.5 201.5 103.2 201.3 101.9 201.2 100.7 201.1 99.7 201 99 200.9 98.5 200.8 98.5 200.7 98.8 200.5 99.4 200.4 100.3 200.3 101.5 200.2 102.7 200.1 104 200 105.2 199.8 106.3 199.7 107.3 199.6 108.1 199.5 108.8 199.4Z" fill="#e09a38" stroke="#444" stroke-width="0.38" stroke-linejoin="round"/><path d="M52.8 211.7 53.2 212.2 54 212.7 55.5 213.2 58.1 213.7 61.6 214.2 64.8 214.7 65.9 215.2 64.3 215.7 60.8 216.2 57 216.7 54.4 217.2 53.1 217.7 52.5 218.2 52.5 218.7 52.5 219.2 52.5 219.7 52.5 220.2 52.5 220.7 52.5 221.2 52.5 221.7 52.5 222.2 52.5 222.7 52.5 223.2 52.5 223.7 52.5 224.2 52.5 224.7 52.1 224.7 52.1 224.2 52.1 223.7 52.1 223.2 52.1 222.7 52.1 222.2 52.1 221.7 52.1 221.2 52.1 220.7 52.1 220.2 52.1 219.7 52.1 219.2 52.1 218.7 52.1 218.2 51.5 217.7 50.2 217.2 47.6 216.7 43.8 216.2 40.3 215.7 38.7 215.2 39.8 214.7 43 214.2 46.5 213.7 49.1 213.2 50.6 212.7 51.4 212.2 51.8 211.7ZM81.4 211.7 81.4 212.1 81.4 212.4 81.5 212.8 82 213.1 83 213.5 84.8 213.8 87.3 214.2 90 214.5 92.3 214.9 93.2 215.2 92.4 215.6 90.2 215.9 87.4 216.2 84.9 216.6 83.1 216.9 82.1 217.3 81.5 217.6 81.4 218 81.4 218.3 81.4 218.7 81.4 219 81.4 219.4 81.4 219.7 81.4 220.1 81.4 220.4 81.4 220.8 81 220.8 81 220.4 81 220.1 81 219.7 81 219.4 81 219 81 218.7 81 218.3 81 218 80.9 217.6 80.3 217.3 79.3 216.9 77.5 216.6 75 216.2 72.2 215.9 70 215.6 69.2 215.2 70.1 214.9 72.4 214.5 75.1 214.2 77.6 213.8 79.4 213.5 80.4 213.1 80.9 212.8 81 212.4 81 212.1 81 211.7ZM110.6 212.4 110.6 212.6 110.6 212.9 110.6 213.1 110.9 213.4 111.3 213.6 112 213.9 113 214.1 114.3 214.4 115.9 214.6 117.6 214.9 119.1 215.1 120.2 215.4 120.5 215.6 120.2 215.9 119.1 216.1 117.6 216.3 115.9 216.6 114.3 216.8 113 217.1 112 217.3 111.3 217.6 110.9 217.8 110.6 218.1 110.6 218.3 110.6 218.6 110.6 218.8 110.2 218.8 110.2 218.6 110.2 218.3 110.2 218.1 109.9 217.8 109.5 217.6 108.8 217.3 107.8 217.1 106.5 216.8 104.9 216.6 103.2 216.3 101.7 216.1 100.6 215.9 100.3 215.6 100.6 215.4 101.7 215.1 103.2 214.9 104.9 214.6 106.5 214.4 107.8 214.1 108.8 213.9 109.5 213.6 109.9 213.4 110.2 213.1 110.2 212.9 110.2 212.6 110.2 212.4Z" fill="#c8a82a" stroke="#444" stroke-width="0.38" stroke-linejoin="round"/><path d="M52.5 224.9 52.5 225.4 52.5 225.9 52.5 226.4 52.5 226.9 52.5 227.4 52.8 227.8 53.5 228.3 54.8 228.8 56.4 229.3 57.6 229.8 58.1 230.3 58 230.7 58.2 231.2 59 231.7 60.3 232.2 61.9 232.7 63.4 233.2 64.6 233.6 65.2 234.1 65.2 234.6 64.7 235.1 63.6 235.6 62.1 236.1 60.4 236.6 58.7 237 57.1 237.5 47.5 237.5 45.9 237 44.2 236.6 42.5 236.1 41 235.6 39.9 235.1 39.4 234.6 39.4 234.1 40 233.6 41.2 233.2 42.7 232.7 44.3 232.2 45.6 231.7 46.4 231.2 46.6 230.7 46.5 230.3 47 229.8 48.2 229.3 49.8 228.8 51.1 228.3 51.8 227.8 52.1 227.4 52.1 226.9 52.1 226.4 52.1 225.9 52.1 225.4 52.1 224.9ZM81.4 226 81.4 226.4 81.4 226.9 81.4 227.3 81.4 227.8 81.8 228.2 82.6 228.7 84.1 229.1 85.8 229.6 87.4 230 88.6 230.5 89.8 230.9 91.2 231.4 92.6 231.8 93.5 232.3 93.4 232.7 92.4 233.2 90.6 233.6 88.5 234.1 86.4 234.5 84.6 235 83.3 235.4 82.3 235.9 81.8 236.3 81.5 236.8 81.4 237.2 81.4 237.7 81 237.7 81 237.2 80.9 236.8 80.6 236.3 80.1 235.9 79.1 235.4 77.8 235 76 234.5 73.9 234.1 71.8 233.6 70 233.2 69 232.7 68.9 232.3 69.8 231.8 71.2 231.4 72.6 230.9 73.8 230.5 75 230 76.6 229.6 78.3 229.1 79.8 228.7 80.6 228.2 81 227.8 81 227.3 81 226.9 81 226.4 81 226ZM110.6 225.3 110.6 225.8 110.6 226.2 110.6 226.7 110.6 227.1 110.9 227.6 111.7 228 113.2 228.5 114.9 228.9 116.2 229.4 117.1 229.8 118.1 230.3 119.4 230.7 120.9 231.2 121.8 231.6 121.7 232.1 120.5 232.5 118.7 233 116.5 233.4 114.5 233.9 112.9 234.3 111.8 234.8 111.1 235.2 110.7 235.7 110.6 236.1 110.6 236.6 110.6 237 110.2 237 110.2 236.6 110.2 236.1 110.1 235.7 109.7 235.2 109 234.8 107.9 234.3 106.3 233.9 104.3 233.4 102.1 233 100.3 232.5 99.1 232.1 99 231.6 99.9 231.2 101.4 230.7 102.7 230.3 103.7 229.8 104.6 229.4 105.9 228.9 107.6 228.5 109.1 228 109.9 227.6 110.2 227.1 110.2 226.7 110.2 226.2 110.2 225.8 110.2 225.3Z" fill="#b0b41a" stroke="#444" stroke-width="0.38" stroke-linejoin="round"/><path d="M52.5 239.2 52.5 239.6 52.7 240 53 240.5 53.7 240.9 54.6 241.3 55.7 241.7 56.9 242.1 57.9 242.6 58.5 243 58.7 243.4 58.5 243.8 58.2 244.2 58.1 244.7 58.5 245.1 59.3 245.5 60.6 245.9 62.1 246.3 63.5 246.7 64.7 247.2 65.3 247.6 65.2 248 64.5 248.4 63.2 248.8 61.6 249.3 59.8 249.7 58 250.1 46.6 250.1 44.8 249.7 43 249.3 41.4 248.8 40.1 248.4 39.4 248 39.3 247.6 39.9 247.2 41.1 246.7 42.5 246.3 44 245.9 45.3 245.5 46.1 245.1 46.5 244.7 46.4 244.2 46.1 243.8 45.9 243.4 46.1 243 46.7 242.6 47.7 242.1 48.9 241.7 50 241.3 50.9 240.9 51.6 240.5 51.9 240 52.1 239.6 52.1 239.2ZM81.4 240.2 81.4 240.6 81.4 241 81.4 241.4 81.4 241.8 81.4 242.2 81.4 242.5 81.4 242.9 81.4 243.3 81.4 243.7 81.4 244.1 81.4 244.5 81.4 244.9 81.4 245.2 81.7 245.6 82.1 246 82.4 246.4 82.7 246.8 82.9 247.2 83.3 247.5 84.1 247.9 84.9 248.3 85.2 248.7 84.6 249.1 83.5 249.5 82.5 249.8 81.7 250.2 80.7 250.2 79.9 249.8 78.9 249.5 77.8 249.1 77.2 248.7 77.5 248.3 78.3 247.9 79.1 247.5 79.5 247.2 79.7 246.8 80 246.4 80.3 246 80.7 245.6 81 245.2 81 244.9 81 244.5 81 244.1 81 243.7 81 243.3 81 242.9 81 242.5 81 242.2 81 241.8 81 241.4 81 241 81 240.6 81 240.2Z" fill="#8ab828" stroke="#444" stroke-width="0.38" stroke-linejoin="round"/><path d="M52.7 251.3 53.3 251.7 54.4 252.2 55.7 252.6 56.6 253.1 56.7 253.6 56.5 254 56.5 254.5 57.3 254.9 58.7 255.4 60.3 255.9 61.5 256.3 62.2 256.8 62.1 257.2 61.6 257.7 61.2 258.2 61.3 258.6 62 259.1 63.3 259.5 64.6 260 65.4 260.4 65.3 260.9 64.3 261.4 62.5 261.8 60.2 262.3 58 262.7 56 263.2 48.6 263.2 46.6 262.7 44.4 262.3 42.1 261.8 40.3 261.4 39.3 260.9 39.2 260.4 40 260 41.3 259.5 42.6 259.1 43.3 258.6 43.4 258.2 43 257.7 42.5 257.2 42.4 256.8 43.1 256.3 44.3 255.9 45.9 255.4 47.3 254.9 48.1 254.5 48.1 254 47.9 253.6 48 253.1 48.9 252.6 50.2 252.2 51.3 251.7 51.9 251.3ZM81.4 253.2 81.4 253.6 81.4 254 81.4 254.4 81.4 254.8 81.4 255.1 81.4 255.5 81.4 255.9 81.4 256.3 81.4 256.7 81.4 257.1 81.4 257.4 81.4 257.8 81.4 258.2 81.4 258.6 81.4 259 81.4 259.4 81.6 259.7 82 260.1 82.7 260.5 83.3 260.9 83.5 261.3 83.2 261.7 82.6 262 81.9 262.4 81.5 262.8 81.4 263.2 81 263.2 80.9 262.8 80.5 262.4 79.8 262 79.2 261.7 78.9 261.3 79.1 260.9 79.7 260.5 80.4 260.1 80.8 259.7 81 259.4 81 259 81 258.6 81 258.2 81 257.8 81 257.4 81 257.1 81 256.7 81 256.3 81 255.9 81 255.5 81 255.1 81 254.8 81 254.4 81 254 81 253.6 81 253.2Z" fill="#4aae2e" stroke="#444" stroke-width="0.38" stroke-linejoin="round"/><path d="M52.5 267.5 52.5 267.8 52.7 268.2 53 268.5 53.6 268.8 54.5 269.2 55.5 269.5 56.8 269.9 58 270.2 58.9 270.5 59.4 270.9 59.3 271.2 58.7 271.6 57.7 271.9 56.6 272.2 55.9 272.6 55.8 272.9 56.7 273.2 58.7 273.6 61.3 273.9 63.7 274.3 65.2 274.6 65 274.9 63.2 275.3 60.4 275.6 57.6 276 55.3 276.3 49.3 276.3 47 276 44.2 275.6 41.4 275.3 39.6 274.9 39.4 274.6 40.9 274.3 43.3 273.9 45.9 273.6 47.9 273.2 48.8 272.9 48.7 272.6 48 272.2 46.9 271.9 45.9 271.6 45.3 271.2 45.2 270.9 45.7 270.5 46.6 270.2 47.8 269.9 49.1 269.5 50.1 269.2 51 268.8 51.6 268.5 51.9 268.2 52.1 267.8 52.1 267.5ZM81.4 264.9 81.4 265.3 81.4 265.8 81.4 266.2 81.4 266.6 81.4 267.1 81.4 267.5 81.4 268 81.6 268.4 82.1 268.8 82.8 269.3 83.5 269.7 84.1 270.2 84.5 270.6 85 271 85.9 271.5 87.3 271.9 89.1 272.3 90.9 272.8 92.4 273.2 93.4 273.7 93.5 274.1 92.8 274.5 91.5 275 89.7 275.4 87.8 275.9 85.9 276.3 76.5 276.3 74.6 275.9 72.7 275.4 70.9 275 69.6 274.5 68.9 274.1 69 273.7 70 273.2 71.5 272.8 73.3 272.3 75.1 271.9 76.5 271.5 77.4 271 77.9 270.6 78.3 270.2 78.9 269.7 79.6 269.3 80.3 268.8 80.8 268.4 81 268 81 267.5 81 267.1 81 266.6 81 266.2 81 265.8 81 265.3 81 264.9ZM110.6 267.5 110.6 267.8 110.6 268.2 110.6 268.5 110.8 268.8 111 269.2 111.3 269.5 111.8 269.9 112.4 270.2 113.2 270.5 114.2 270.9 115.5 271.2 116.8 271.6 118.3 271.9 119.7 272.2 121.1 272.6 122.2 272.9 123 273.2 123.4 273.6 123.3 273.9 122.8 274.3 121.9 274.6 120.7 274.9 119.3 275.3 117.9 275.6 116.4 276 115.1 276.3 105.7 276.3 104.4 276 102.9 275.6 101.5 275.3 100.1 274.9 98.9 274.6 98 274.3 97.5 273.9 97.4 273.6 97.8 273.2 98.6 272.9 99.7 272.6 101.1 272.2 102.5 271.9 104 271.6 105.3 271.2 106.6 270.9 107.6 270.5 108.4 270.2 109 269.9 109.5 269.5 109.8 269.2 110 268.8 110.2 268.5 110.2 268.2 110.2 267.8 110.2 267.5Z" fill="#29ae48" stroke="#444" stroke-width="0.38" stroke-linejoin="round"/><path d="M52.5 278.1 52.5 278.5 52.5 279 52.5 279.4 52.7 279.8 53.1 280.2 53.7 280.7 54.6 281.1 55.6 281.5 56.6 281.9 57.5 282.4 58.1 282.8 58.2 283.2 57.8 283.6 57.2 284.1 56.7 284.5 56.7 284.9 57.5 285.3 59.3 285.7 61.7 286.2 64 286.6 65.3 287 65.1 287.4 63.3 287.9 60.7 288.3 57.9 288.7 55.5 289.1 49.1 289.1 46.7 288.7 43.9 288.3 41.3 287.9 39.5 287.4 39.3 287 40.6 286.6 42.9 286.2 45.3 285.7 47.1 285.3 47.9 284.9 47.9 284.5 47.4 284.1 46.8 283.6 46.4 283.2 46.5 282.8 47.1 282.4 48 281.9 49 281.5 50 281.1 50.9 280.7 51.5 280.2 51.9 279.8 52.1 279.4 52.1 279 52.1 278.5 52.1 278.1ZM81.4 280.5 81.4 280.8 81.4 281.1 81.4 281.5 81.4 281.8 81.4 282.1 81.4 282.5 81.4 282.8 81.4 283.1 81.4 283.5 81.4 283.8 81.4 284.1 81.4 284.5 81.4 284.8 81.4 285.1 81.4 285.5 81.6 285.8 82 286.1 82.5 286.5 82.9 286.8 83.1 287.1 83 287.5 82.6 287.8 82.1 288.1 81.7 288.5 81.4 288.8 81.4 289.1 81 289.1 81 288.8 80.7 288.5 80.3 288.1 79.8 287.8 79.4 287.5 79.3 287.1 79.5 286.8 79.9 286.5 80.4 286.1 80.8 285.8 81 285.5 81 285.1 81 284.8 81 284.5 81 284.1 81 283.8 81 283.5 81 283.1 81 282.8 81 282.5 81 282.1 81 281.8 81 281.5 81 281.1 81 280.8 81 280.5Z" fill="#22b070" stroke="#444" stroke-width="0.38" stroke-linejoin="round"/><path d="M52.5 305.1 52.5 305.5 52.5 305.9 52.5 306.3 52.5 306.7 52.5 307.1 52.5 307.5 52.5 307.9 52.5 308.2 52.5 308.6 52.5 309 52.5 309.4 52.5 309.8 52.8 310.2 53.1 310.6 53.4 311 53.7 311.4 53.9 311.8 53.8 312.2 53.6 312.6 53.7 313 54.5 313.4 55.9 313.8 56.7 314.2 55.8 314.6 55.4 314.9 63.6 315.3 41 315.3 49.2 314.9 48.8 314.6 47.9 314.2 48.7 313.8 50.1 313.4 50.9 313 51 312.6 50.8 312.2 50.7 311.8 50.9 311.4 51.2 311 51.5 310.6 51.8 310.2 52.1 309.8 52.1 309.4 52.1 309 52.1 308.6 52.1 308.2 52.1 307.9 52.1 307.5 52.1 307.1 52.1 306.7 52.1 306.3 52.1 305.9 52.1 305.5 52.1 305.1Z" fill="#20aea8" stroke="#444" stroke-width="0.38" stroke-linejoin="round"/><path d="M52.5 345.3 52.5 345.6 52.5 346 52.6 346.3 52.9 346.7 53.4 347 54 347.3 54.6 347.7 55.3 348 55.7 348.4 55.9 348.7 55.9 349 55.8 349.4 55.8 349.7 56.1 350.1 56.8 350.4 57.9 350.7 59.3 351.1 61 351.4 62.6 351.7 63.9 352.1 64.9 352.4 65.3 352.8 65.1 353.1 64.3 353.4 63.1 353.8 61.5 354.1 43.1 354.1 41.5 353.8 40.3 353.4 39.5 353.1 39.3 352.8 39.7 352.4 40.7 352.1 42 351.7 43.6 351.4 45.3 351.1 46.7 350.7 47.8 350.4 48.5 350.1 48.8 349.7 48.8 349.4 48.7 349 48.7 348.7 48.9 348.4 49.3 348 50 347.7 50.6 347.3 51.2 347 51.7 346.7 52 346.3 52.1 346 52.1 345.6 52.1 345.3ZM81.4 341.4 81.4 341.9 81.4 342.4 81.4 342.9 81.4 343.4 81.4 343.9 81.4 344.3 81.4 344.8 81.4 345.3 81.4 345.8 81.4 346.3 81.4 346.8 81.6 347.3 82 347.8 82.5 348.3 83 348.7 83.3 349.2 83.2 349.7 83.2 350.2 83.5 350.7 84.3 351.2 85.3 351.7 86 352.2 86.1 352.7 85.3 353.1 84.1 353.6 82.9 354.1 79.5 354.1 78.3 353.6 77.1 353.1 76.3 352.7 76.4 352.2 77.1 351.7 78.1 351.2 78.9 350.7 79.2 350.2 79.2 349.7 79.1 349.2 79.4 348.7 79.9 348.3 80.4 347.8 80.8 347.3 81 346.8 81 346.3 81 345.8 81 345.3 81 344.8 81 344.3 81 343.9 81 343.4 81 342.9 81 342.4 81 341.9 81 341.4Z" fill="#4a90d0" stroke="#444" stroke-width="0.38" stroke-linejoin="round"/><path d="M52.5 359.6 52.5 359.9 52.5 360.1 52.5 360.4 52.5 360.7 52.5 361 52.7 361.3 53 361.6 53.4 361.9 53.9 362.2 54.5 362.5 55.2 362.8 56 363 56.7 363.3 57.4 363.6 57.9 363.9 58.5 364.2 59 364.5 59.5 364.8 60 365.1 60.4 365.4 60.7 365.6 60.9 365.9 60.8 366.2 60.4 366.5 59.8 366.8 59.1 367.1 45.5 367.1 44.8 366.8 44.2 366.5 43.8 366.2 43.7 365.9 43.9 365.6 44.2 365.4 44.6 365.1 45.1 364.8 45.6 364.5 46.1 364.2 46.7 363.9 47.2 363.6 47.9 363.3 48.6 363 49.4 362.8 50.1 362.5 50.7 362.2 51.2 361.9 51.6 361.6 51.9 361.3 52.1 361 52.1 360.7 52.1 360.4 52.1 360.1 52.1 359.9 52.1 359.6ZM81.4 358.3 81.4 358.6 81.4 358.9 81.4 359.3 81.4 359.6 81.4 360 81.4 360.3 81.4 360.6 81.4 361 81.4 361.3 81.4 361.7 81.4 362 81.4 362.3 81.4 362.7 81.4 363 81.4 363.4 81.4 363.7 81.4 364 81.6 364.4 82 364.7 82.5 365.1 83 365.4 83.3 365.7 83.2 366.1 82.7 366.4 82.2 366.8 81.7 367.1 80.7 367.1 80.2 366.8 79.7 366.4 79.2 366.1 79.1 365.7 79.4 365.4 79.9 365.1 80.4 364.7 80.8 364.4 81 364 81 363.7 81 363.4 81 363 81 362.7 81 362.3 81 362 81 361.7 81 361.3 81 361 81 360.6 81 360.3 81 360 81 359.6 81 359.3 81 358.9 81 358.6 81 358.3ZM110.6 360.9 110.6 361.1 110.6 361.3 110.6 361.6 110.6 361.8 110.6 362.1 110.6 362.3 110.6 362.5 110.6 362.8 110.6 363 110.6 363.3 110.6 363.5 110.6 363.7 110.6 364 110.6 364.2 110.6 364.5 110.6 364.7 110.8 364.9 111 365.2 111.4 365.4 111.7 365.7 111.9 365.9 111.9 366.1 111.8 366.4 111.5 366.6 111.1 366.9 110.8 367.1 110 367.1 109.7 366.9 109.3 366.6 109 366.4 108.9 366.1 108.9 365.9 109.1 365.7 109.4 365.4 109.8 365.2 110 364.9 110.2 364.7 110.2 364.5 110.2 364.2 110.2 364 110.2 363.7 110.2 363.5 110.2 363.3 110.2 363 110.2 362.8 110.2 362.5 110.2 362.3 110.2 362.1 110.2 361.8 110.2 361.6 110.2 361.3 110.2 361.1 110.2 360.9Z" fill="#7278c4" stroke="#444" stroke-width="0.38" stroke-linejoin="round"/><path d="M53.4 367.9 53.7 368.3 54 368.8 54.4 369.3 54.8 369.7 55.2 370.2 55.7 370.7 56.2 371.2 56.6 371.6 57.1 372.1 57.5 372.6 57.9 373 58.2 373.5 58.5 374 58.7 374.4 58.8 374.9 58.8 375.4 58.7 375.8 58.5 376.3 58.2 376.8 57.9 377.2 57.7 377.7 58.2 378.2 60.4 378.7 64.1 379.1 65.4 379.6 62.3 380.1 42.3 380.1 39.2 379.6 40.5 379.1 44.2 378.7 46.4 378.2 46.9 377.7 46.7 377.2 46.4 376.8 46.1 376.3 45.9 375.8 45.8 375.4 45.8 374.9 45.9 374.4 46.1 374 46.4 373.5 46.7 373 47.1 372.6 47.5 372.1 48 371.6 48.4 371.2 48.9 370.7 49.4 370.2 49.8 369.7 50.2 369.3 50.6 368.8 50.9 368.3 51.2 367.9Z" fill="#9a6cbc" stroke="#444" stroke-width="0.38" stroke-linejoin="round"/><path d="M53.1 381 53.8 381.4 54.9 381.9 56.1 382.4 57.3 382.8 58 383.3 58.2 383.8 57.8 384.2 57.3 384.7 57.4 385.1 58.8 385.6 61.4 386.1 64.2 386.5 65.6 387 64.9 387.5 62.4 387.9 59.7 388.4 58 388.9 57.6 389.3 57.9 389.8 58.2 390.2 58 390.7 57.3 391.2 56.1 391.6 54.9 392.1 53.8 392.6 53.1 393 51.5 393 50.8 392.6 49.7 392.1 48.5 391.6 47.3 391.2 46.6 390.7 46.4 390.2 46.7 389.8 47 389.3 46.6 388.9 44.9 388.4 42.2 387.9 39.7 387.5 39 387 40.4 386.5 43.2 386.1 45.8 385.6 47.2 385.1 47.3 384.7 46.8 384.2 46.4 383.8 46.6 383.3 47.3 382.8 48.5 382.4 49.7 381.9 50.8 381.4 51.5 381ZM81.4 382.9 81.4 383.3 81.4 383.7 81.4 384.1 81.4 384.5 81.4 384.9 81.4 385.2 81.4 385.6 81.4 386 81.4 386.4 81.5 386.8 81.9 387.2 82.3 387.6 82.5 388 82.6 388.4 82.5 388.8 82.6 389.1 83.1 389.5 84 389.9 85.1 390.3 86.1 390.7 86.4 391.1 86 391.5 85.1 391.9 84 392.3 82.9 392.6 82.1 393 80.3 393 79.5 392.6 78.4 392.3 77.3 391.9 76.4 391.5 76 391.1 76.3 390.7 77.3 390.3 78.4 389.9 79.3 389.5 79.8 389.1 79.9 388.8 79.8 388.4 79.9 388 80.1 387.6 80.5 387.2 80.9 386.8 81 386.4 81 386 81 385.6 81 385.2 81 384.9 81 384.5 81 384.1 81 383.7 81 383.3 81 382.9Z" fill="#ad5fb0" stroke="#444" stroke-width="0.38" stroke-linejoin="round"/><path d="M56.6 393.9 58 394.4 59.6 394.9 61.2 395.3 62.6 395.8 63.7 396.3 64.3 396.7 64.4 397.2 64 397.6 63.2 398.1 62.3 398.6 61.4 399 60.8 399.5 60.6 400 60.8 400.4 61.5 400.9 62.5 401.4 63.5 401.8 64.3 402.3 64.8 402.8 64.7 403.2 64.1 403.7 63 404.1 61.5 404.6 59.9 405.1 58.2 405.5 56.7 406 47.9 406 46.4 405.5 44.7 405.1 43.1 404.6 41.6 404.1 40.5 403.7 39.9 403.2 39.8 402.8 40.3 402.3 41.1 401.8 42.1 401.4 43.1 400.9 43.8 400.4 44 400 43.8 399.5 43.2 399 42.3 398.6 41.4 398.1 40.6 397.6 40.2 397.2 40.3 396.7 40.9 396.3 42 395.8 43.4 395.3 45 394.9 46.6 394.4 48 393.9Z" fill="#d060a8" stroke="#444" stroke-width="0.38" stroke-linejoin="round"/><path d="M52.8 406.9 53.6 407.4 54.7 407.8 56.1 408.3 57.3 408.8 57.7 409.2 57.2 409.7 56.6 410.2 56.5 410.6 57.5 411.1 59.6 411.5 62.1 412 64.3 412.5 65.3 412.9 64.8 413.4 62.9 413.9 60.5 414.3 58.3 414.8 57.1 415.3 56.9 415.7 57.5 416.2 58.3 416.7 58.8 417.1 58.7 417.6 57.8 418 56.5 418.5 55.1 419 49.5 419 48.1 418.5 46.8 418 45.9 417.6 45.8 417.1 46.3 416.7 47.1 416.2 47.7 415.7 47.5 415.3 46.3 414.8 44.1 414.3 41.7 413.9 39.8 413.4 39.3 412.9 40.3 412.5 42.5 412 45 411.5 47.1 411.1 48.1 410.6 48 410.2 47.4 409.7 46.9 409.2 47.3 408.8 48.5 408.3 49.9 407.8 51 407.4 51.8 406.9Z" fill="#d8589c" stroke="#444" stroke-width="0.38" stroke-linejoin="round"/><path d="M52.5 419.9 52.9 420.3 53.6 420.8 54.6 421.3 55.8 421.7 56.7 422.2 56.8 422.7 56.1 423.1 55 423.6 54.3 424.1 54.3 424.5 55.2 425 56.8 425.4 58.4 425.9 59.2 426.4 59.1 426.8 58.5 427.3 58.2 427.8 59 428.2 60.7 428.7 62.8 429.2 64.6 429.6 65.3 430.1 64.7 430.5 63 431 60.6 431.5 58.1 431.9 46.5 431.9 44 431.5 41.6 431 39.9 430.5 39.3 430.1 40 429.6 41.8 429.2 43.9 428.7 45.6 428.2 46.4 427.8 46.1 427.3 45.5 426.8 45.4 426.4 46.2 425.9 47.8 425.4 49.4 425 50.3 424.5 50.3 424.1 49.6 423.6 48.5 423.1 47.8 422.7 47.9 422.2 48.8 421.7 50 421.3 51 420.8 51.7 420.3 52.1 419.9ZM81.4 426.4 81.4 426.6 81.4 426.8 81.4 427 81.4 427.3 81.4 427.5 81.4 427.7 81.4 427.9 81.4 428.2 81.5 428.4 81.7 428.6 82.1 428.8 82.8 429.1 83.7 429.3 85 429.5 86.6 429.7 88.4 430 90.2 430.2 91.8 430.4 93 430.6 93.5 430.9 93.3 431.1 92.4 431.3 91 431.5 89.2 431.8 87.3 432 85.7 432.2 76.7 432.2 75.1 432 73.2 431.8 71.4 431.5 70 431.3 69.1 431.1 68.9 430.9 69.4 430.6 70.6 430.4 72.2 430.2 74 430 75.8 429.7 77.4 429.5 78.7 429.3 79.6 429.1 80.3 428.8 80.7 428.6 80.9 428.4 81 428.2 81 427.9 81 427.7 81 427.5 81 427.3 81 427 81 426.8 81 426.6 81 426.4ZM110.6 429.6 110.6 429.7 110.6 429.8 110.7 429.9 110.8 430 111 430.1 111.3 430.2 111.7 430.3 112.2 430.4 112.8 430.5 113.5 430.6 114.4 430.7 115.3 430.8 116.4 430.9 117.5 431 118.7 431.1 119.8 431.2 120.8 431.3 121.7 431.4 122.3 431.5 122.7 431.6 122.7 431.7 122.5 431.8 122.1 431.9 121.3 432 120.4 432.1 119.4 432.2 101.4 432.2 100.4 432.1 99.5 432 98.7 431.9 98.3 431.8 98.1 431.7 98.1 431.6 98.5 431.5 99.1 431.4 100 431.3 101 431.2 102.1 431.1 103.3 431 104.4 430.9 105.5 430.8 106.4 430.7 107.3 430.6 108 430.5 108.6 430.4 109.1 430.3 109.5 430.2 109.8 430.1 110 430 110.1 429.9 110.2 429.8 110.2 429.7 110.2 429.6Z" fill="#e0588a" stroke="#444" stroke-width="0.38" stroke-linejoin="round"/><path d="M35.6 172.8H127.4V432.2H35.6Z" fill="none" stroke="#333" stroke-width="0.9"/><text x="29.2" y="179" font-size="4.7" fill="#3a3a3a" text-anchor="end" stroke="#3a3a3a" stroke-width="0.18">6</text><text x="29.2" y="191.97" font-size="4.7" fill="#3a3a3a" text-anchor="end" stroke="#3a3a3a" stroke-width="0.18">6</text><text x="29.2" y="204.94" font-size="4.7" fill="#3a3a3a" text-anchor="end" stroke="#3a3a3a" stroke-width="0.18">6</text><text x="29.2" y="217.91" font-size="4.7" fill="#3a3a3a" text-anchor="end" stroke="#3a3a3a" stroke-width="0.18">6</text><text x="29.2" y="230.88" font-size="4.7" fill="#3a3a3a" text-anchor="end" stroke="#3a3a3a" stroke-width="0.18">6</text><text x="29.2" y="243.85" font-size="4.7" fill="#3a3a3a" text-anchor="end" stroke="#3a3a3a" stroke-width="0.18">2</text><text x="29.2" y="256.82" font-size="4.7" fill="#3a3a3a" text-anchor="end" stroke="#3a3a3a" stroke-width="0.18">1.5</text><text x="29.2" y="269.79" font-size="4.7" fill="#3a3a3a" text-anchor="end" stroke="#3a3a3a" stroke-width="0.18">3</text><text x="29.2" y="282.76" font-size="4.7" fill="#3a3a3a" text-anchor="end" stroke="#3a3a3a" stroke-width="0.18">1.5</text><text x="29.2" y="295.73" font-size="4.7" fill="#3a3a3a" text-anchor="end" stroke="#3a3a3a" stroke-width="0.18">0.9</text><text x="29.2" y="308.7" font-size="4.7" fill="#3a3a3a" text-anchor="end" stroke="#3a3a3a" stroke-width="0.18">2</text><text x="29.2" y="321.67" font-size="4.7" fill="#3a3a3a" text-anchor="end" stroke="#3a3a3a" stroke-width="0.18">1.5</text><text x="29.2" y="334.64" font-size="4.7" fill="#3a3a3a" text-anchor="end" stroke="#3a3a3a" stroke-width="0.18">2</text><text x="29.2" y="347.61" font-size="4.7" fill="#3a3a3a" text-anchor="end" stroke="#3a3a3a" stroke-width="0.18">2</text><text x="29.2" y="360.58" font-size="4.7" fill="#3a3a3a" text-anchor="end" stroke="#3a3a3a" stroke-width="0.18">3</text><text x="29.2" y="373.55" font-size="4.7" fill="#3a3a3a" text-anchor="end" stroke="#3a3a3a" stroke-width="0.18">2</text><text x="29.2" y="386.52" font-size="4.7" fill="#3a3a3a" text-anchor="end" stroke="#3a3a3a" stroke-width="0.18">3</text><text x="29.2" y="399.49" font-size="4.7" fill="#3a3a3a" text-anchor="end" stroke="#3a3a3a" stroke-width="0.18">2</text><text x="29.2" y="412.46" font-size="4.7" fill="#3a3a3a" text-anchor="end" stroke="#3a3a3a" stroke-width="0.18">2</text><text x="29.2" y="425.43" font-size="4.7" fill="#3a3a3a" text-anchor="end" stroke="#3a3a3a" stroke-width="0.18">6000</text><path d="M32.4 185.77H35.6M32.4 182.98H35.6M32.4 180.19H35.6M32.4 177.4H35.6M32.4 198.74H35.6M32.4 195.95H35.6M32.4 193.16H35.6M32.4 190.37H35.6M32.4 211.71H35.6M32.4 208.92H35.6M32.4 206.13H35.6M32.4 203.34H35.6M32.4 224.68H35.6M32.4 221.89H35.6M32.4 219.1H35.6M32.4 216.31H35.6M32.4 237.65H35.6M32.4 234.86H35.6M32.4 232.07H35.6M32.4 229.28H35.6M32.4 250.62H35.6M32.4 246.44H35.6M32.4 242.25H35.6M32.4 263.59H35.6M32.4 260.8H35.6M32.4 258.01H35.6M32.4 255.22H35.6M32.4 276.56H35.6M32.4 273.77H35.6M32.4 270.98H35.6M32.4 268.19H35.6M32.4 289.53H35.6M32.4 286.74H35.6M32.4 283.95H35.6M32.4 281.16H35.6M32.4 302.5H35.6M32.4 299.71H35.6M32.4 296.92H35.6M32.4 294.13H35.6M32.4 315.47H35.6M32.4 311.29H35.6M32.4 307.1H35.6M32.4 328.44H35.6M32.4 325.65H35.6M32.4 322.86H35.6M32.4 320.07H35.6M32.4 341.41H35.6M32.4 337.23H35.6M32.4 333.04H35.6M32.4 354.38H35.6M32.4 350.19H35.6M32.4 346.01H35.6M32.4 367.35H35.6M32.4 364.56H35.6M32.4 361.77H35.6M32.4 358.98H35.6M32.4 380.32H35.6M32.4 376.14H35.6M32.4 371.95H35.6M32.4 393.29H35.6M32.4 390.5H35.6M32.4 387.71H35.6M32.4 384.92H35.6M32.4 406.26H35.6M32.4 402.07H35.6M32.4 397.89H35.6M32.4 419.23H35.6M32.4 415.05H35.6M32.4 410.86H35.6M32.4 429.41H35.6M32.4 426.62H35.6M32.4 423.83H35.6" stroke="#222" stroke-width="0.75" fill="none"/><path d="M52.3 432.2V434.2M81.2 432.2V434.2M110.4 432.2V434.2" stroke="#333" stroke-width="0.6" fill="none"/><text x="130.2" y="180.39" font-size="5.3" fill="#e0303e" stroke="#e0303e" stroke-width="0.18">Hbb-y</text><text x="130.2" y="193.35" font-size="5.3" fill="#e0303e" stroke="#e0303e" stroke-width="0.18">Hba-a1</text><text x="130.2" y="206.33" font-size="5.3" fill="#e0303e" stroke="#e0303e" stroke-width="0.18">Hba-a2</text><text x="130.2" y="219.29" font-size="5.3" fill="#e0303e" stroke="#e0303e" stroke-width="0.18">Hbb-bt</text><text x="130.2" y="232.27" font-size="5.3" fill="#e0303e" stroke="#e0303e" stroke-width="0.18">Hbb-bs</text><text x="130.2" y="245.23" font-size="5.3" fill="#e0303e" stroke="#e0303e" stroke-width="0.18">Tfrc</text><text x="130.2" y="258.21" font-size="5.3" fill="#2e9e44" stroke="#2e9e44" stroke-width="0.18">Klf1</text><text x="130.2" y="271.18" font-size="5.3" fill="#2e9e44" stroke="#2e9e44" stroke-width="0.18">Tal1</text><text x="130.2" y="284.15" font-size="5.3" fill="#2e9e44" stroke="#2e9e44" stroke-width="0.18">Gata1</text><text x="130.2" y="297.12" font-size="5.3" fill="#2e9e44" stroke="#2e9e44" stroke-width="0.18">Bcl11a</text><text x="130.2" y="310.09" font-size="5.3" fill="#2e9e44" stroke="#2e9e44" stroke-width="0.18">Runx1</text><text x="130.2" y="323.06" font-size="5.3" fill="#2e9e44" stroke="#2e9e44" stroke-width="0.18">Myb</text><text x="130.2" y="336.03" font-size="5.3" fill="#2e9e44" stroke="#2e9e44" stroke-width="0.18">Kit</text><text x="130.2" y="349" font-size="5.3" fill="#2e9e44" stroke="#2e9e44" stroke-width="0.18">Nfe2</text><text x="130.2" y="361.97" font-size="5.3" fill="#2e9e44" stroke="#2e9e44" stroke-width="0.18">Foxo3</text><text x="130.2" y="374.94" font-size="5.3" fill="#34344e" stroke="#34344e" stroke-width="0.18">Hist1h1b</text><text x="130.2" y="387.91" font-size="5.3" fill="#34344e" stroke="#34344e" stroke-width="0.18">Hmgb1</text><text x="130.2" y="400.88" font-size="5.3" fill="#34344e" stroke="#34344e" stroke-width="0.18">Top2a</text><text x="130.2" y="413.85" font-size="5.3" fill="#34344e" stroke="#34344e" stroke-width="0.18">Lmna</text><text x="130.2" y="426.82" font-size="5.3" fill="#c2185b" stroke="#c2185b" stroke-width="0.18">nFeature_RNA</text><path d="M193.4 186.28H289.8M193.4 199.96H289.8M193.4 213.64H289.8M193.4 227.32H289.8M193.4 240.99H289.8M193.4 254.67H289.8M193.4 268.35H289.8M193.4 282.03H289.8M193.4 295.71H289.8M193.4 309.39H289.8M193.4 323.07H289.8M193.4 336.75H289.8M193.4 350.43H289.8M193.4 364.11H289.8M193.4 377.78H289.8M193.4 391.46H289.8M193.4 405.14H289.8M193.4 418.82H289.8" stroke="#505050" stroke-width="0.85" fill="none"/><path d="M268.95 268.35V282.03M282 268.35V282.03M242.85 287.5V295.71M255.9 283.4V295.71M268.95 282.03V295.71M282 286.14V295.71M242.85 299.81V309.39M255.9 297.08V309.39M268.95 295.71V309.39M282 298.45V309.39M229.8 312.13V323.07M242.85 316.23V323.07M255.9 309.39V323.07M268.95 309.39V323.07M282 313.49V323.07M229.8 327.17V336.75M242.85 332.64V336.75M255.9 325.8V336.75M268.95 325.8V336.75M282 325.8V336.75M268.95 364.11V377.78M282 366.84V377.78M282 381.89V391.46M282 391.46V405.14M282 409.25V418.82" stroke="#7a7a7a" stroke-width="0.7" fill="none"/><path d="M203.9 172.6 203.9 173.1 203.9 173.7 203.9 174.2 203.9 174.7 203.9 175.2 203.9 175.8 203.9 176.3 203.9 176.8 203.9 177.3 203.9 177.9 203.9 178.4 203.9 178.9 203.9 179.4 203.9 180 203.9 180.5 203.9 181 203.9 181.5 205 182.1 207.1 182.6 209 183.1 209.3 183.6 208.4 184.2 206.2 184.7 204.4 185.2 203.9 185.8 203.9 186.3 203.5 186.3 203.5 185.8 203 185.2 201.2 184.7 199 184.2 198.1 183.6 198.4 183.1 200.3 182.6 202.4 182.1 203.5 181.5 203.5 181 203.5 180.5 203.5 180 203.5 179.4 203.5 178.9 203.5 178.4 203.5 177.9 203.5 177.3 203.5 176.8 203.5 176.3 203.5 175.8 203.5 175.2 203.5 174.7 203.5 174.2 203.5 173.7 203.5 173.1 203.5 172.6ZM216.9 172.6 216.9 173.1 216.9 173.7 217.2 174.2 217.8 174.7 218.6 175.2 219.6 175.8 220.6 176.3 221.6 176.8 222.4 177.3 222.9 177.9 223.1 178.4 223.1 178.9 223.1 179.4 223 180 222.9 180.5 222.5 181 222 181.5 221.2 182.1 220.3 182.6 219.4 183.1 218.6 183.6 217.9 184.2 217.4 184.7 217.1 185.2 216.9 185.8 216.9 186.3 216.6 186.3 216.6 185.8 216.4 185.2 216.1 184.7 215.6 184.2 214.9 183.6 214.1 183.1 213.2 182.6 212.3 182.1 211.5 181.5 211 181 210.6 180.5 210.5 180 210.4 179.4 210.4 178.9 210.4 178.4 210.6 177.9 211.1 177.3 211.9 176.8 212.9 176.3 213.9 175.8 214.9 175.2 215.7 174.7 216.3 174.2 216.6 173.7 216.6 173.1 216.6 172.6ZM230 172.6 230 173 230 173.4 230.4 173.9 231.5 174.3 233.2 174.7 234.9 175.1 235.9 175.5 236.1 176 235.6 176.4 234.3 176.8 232.5 177.2 231 177.7 230.2 178.1 230 178.5 230 178.9 230 179.3 230 179.8 230 180.2 230 180.6 230 181 230 181.4 230 181.9 230 182.3 230 182.7 230 183.1 230 183.5 229.6 183.5 229.6 183.1 229.6 182.7 229.6 182.3 229.6 181.9 229.6 181.4 229.6 181 229.6 180.6 229.6 180.2 229.6 179.8 229.6 179.3 229.6 178.9 229.6 178.5 229.4 178.1 228.6 177.7 227.1 177.2 225.3 176.8 224 176.4 223.5 176 223.7 175.5 224.7 175.1 226.4 174.7 228.1 174.3 229.2 173.9 229.6 173.4 229.6 173 229.6 172.6ZM244.5 172.6 245.8 172.9 247.2 173.2 248.1 173.5 248.4 173.9 248.4 174.2 247.9 174.5 246.8 174.8 245.4 175.1 244.1 175.4 243.4 175.8 243 176.1 243 176.4 243 176.7 243 177 243 177.3 243 177.7 243 178 243 178.3 243 178.6 243 178.9 243 179.2 243 179.5 243 179.9 243 180.2 243 180.5 243 180.8 242.7 180.8 242.7 180.5 242.7 180.2 242.7 179.9 242.7 179.5 242.7 179.2 242.7 178.9 242.7 178.6 242.7 178.3 242.7 178 242.7 177.7 242.7 177.3 242.7 177 242.7 176.7 242.7 176.4 242.7 176.1 242.3 175.8 241.6 175.4 240.3 175.1 238.9 174.8 237.8 174.5 237.3 174.2 237.3 173.9 237.6 173.5 238.5 173.2 239.9 172.9 241.2 172.6ZM258.4 172.6 260.1 172.9 261.2 173.1 261.5 173.4 261.3 173.7 260.4 173.9 258.8 174.2 257.3 174.4 256.4 174.7 256.1 175 256.1 175.2 256.1 175.5 256.1 175.8 256.1 176 256.1 176.3 256.1 176.5 256.1 176.8 256.1 177.1 256.1 177.3 256.1 177.6 256.1 177.9 256.1 178.1 256.1 178.4 256.1 178.7 256.1 178.9 256.1 179.2 256.1 179.4 255.7 179.4 255.7 179.2 255.7 178.9 255.7 178.7 255.7 178.4 255.7 178.1 255.7 177.9 255.7 177.6 255.7 177.3 255.7 177.1 255.7 176.8 255.7 176.5 255.7 176.3 255.7 176 255.7 175.8 255.7 175.5 255.7 175.2 255.7 175 255.4 174.7 254.5 174.4 253 174.2 251.4 173.9 250.5 173.7 250.3 173.4 250.6 173.1 251.7 172.9 253.4 172.6ZM272.1 172.6 272.9 173 272 173.4 269.8 173.9 269.1 174.3 269.1 174.7 269.1 175.1 269.1 175.5 269.1 176 269.1 176.4 269.1 176.8 269.1 177.2 269.1 177.7 269.1 178.1 269.1 178.5 269.1 178.9 269.1 179.3 269.1 179.8 269.1 180.2 269.1 180.6 269.1 181 269.1 181.4 269.1 181.9 269.1 182.3 269.1 182.7 269.1 183.1 269.1 183.5 268.8 183.5 268.8 183.1 268.8 182.7 268.8 182.3 268.8 181.9 268.8 181.4 268.8 181 268.8 180.6 268.8 180.2 268.8 179.8 268.8 179.3 268.8 178.9 268.8 178.5 268.8 178.1 268.8 177.7 268.8 177.2 268.8 176.8 268.8 176.4 268.8 176 268.8 175.5 268.8 175.1 268.8 174.7 268.8 174.3 268.1 173.9 265.9 173.4 265 173 265.8 172.6ZM284.6 172.6 285.3 172.9 285.1 173.2 284 173.5 282.7 173.9 282.2 174.2 282.2 174.5 282.2 174.8 282.2 175.1 282.2 175.4 282.2 175.8 282.2 176.1 282.2 176.4 282.2 176.7 282.2 177 282.2 177.3 282.2 177.7 282.2 178 282.2 178.3 282.2 178.6 282.2 178.9 282.2 179.2 282.2 179.5 282.2 179.9 282.2 180.2 282.2 180.5 282.2 180.8 281.8 180.8 281.8 180.5 281.8 180.2 281.8 179.9 281.8 179.5 281.8 179.2 281.8 178.9 281.8 178.6 281.8 178.3 281.8 178 281.8 177.7 281.8 177.3 281.8 177 281.8 176.7 281.8 176.4 281.8 176.1 281.8 175.8 281.8 175.4 281.8 175.1 281.8 174.8 281.8 174.5 281.8 174.2 281.3 173.9 280 173.5 278.9 173.2 278.7 172.9 279.4 172.6Z" fill="#e86878" stroke="#444" stroke-width="0.38" stroke-linejoin="round"/><path d="M203.9 186.3 203.9 186.8 203.9 187.3 203.9 187.9 203.9 188.4 203.9 188.9 203.9 189.4 203.9 190 203.9 190.5 203.9 191 203.9 191.5 203.9 192.1 203.9 192.6 203.9 193.1 203.9 193.6 203.9 194.2 205 194.7 206.9 195.2 208.4 195.7 208.6 196.3 207.7 196.8 205.8 197.3 204.3 197.9 203.9 198.4 203.9 198.9 203.9 199.4 203.9 200 203.5 200 203.5 199.4 203.5 198.9 203.5 198.4 203.1 197.9 201.6 197.3 199.7 196.8 198.8 196.3 199 195.7 200.5 195.2 202.4 194.7 203.5 194.2 203.5 193.6 203.5 193.1 203.5 192.6 203.5 192.1 203.5 191.5 203.5 191 203.5 190.5 203.5 190 203.5 189.4 203.5 188.9 203.5 188.4 203.5 187.9 203.5 187.3 203.5 186.8 203.5 186.3ZM216.9 187.6 216.9 188.1 216.9 188.5 216.9 189 217.2 189.4 217.6 189.9 218.3 190.3 218.9 190.8 219.3 191.2 219.4 191.7 219.5 192.1 219.4 192.6 219.4 193 219.6 193.5 220.2 193.9 221.2 194.4 222.1 194.8 222.8 195.2 223 195.7 223 196.1 222.6 196.6 221.8 197 220.6 197.5 219.3 197.9 218.2 198.4 217.4 198.8 217 199.3 216.5 199.3 216.1 198.8 215.3 198.4 214.2 197.9 212.9 197.5 211.7 197 210.9 196.6 210.5 196.1 210.5 195.7 210.7 195.2 211.4 194.8 212.3 194.4 213.3 193.9 213.9 193.5 214.1 193 214.1 192.6 214 192.1 214.1 191.7 214.2 191.2 214.6 190.8 215.2 190.3 215.9 189.9 216.3 189.4 216.6 189 216.6 188.5 216.6 188.1 216.6 187.6ZM230 186.3 230 186.7 230 187.1 230 187.5 230 188 230.5 188.4 231.6 188.8 233.3 189.2 235 189.6 235.9 190.1 236.1 190.5 235.6 190.9 234.2 191.3 232.4 191.8 230.9 192.2 230.1 192.6 230 193 230 193.4 230 193.9 230 194.3 230 194.7 230 195.1 230 195.5 230 196 230 196.4 230 196.8 230 197.2 229.6 197.2 229.6 196.8 229.6 196.4 229.6 196 229.6 195.5 229.6 195.1 229.6 194.7 229.6 194.3 229.6 193.9 229.6 193.4 229.6 193 229.5 192.6 228.7 192.2 227.2 191.8 225.4 191.3 224 190.9 223.5 190.5 223.7 190.1 224.6 189.6 226.3 189.2 228 188.8 229.1 188.4 229.6 188 229.6 187.5 229.6 187.1 229.6 186.7 229.6 186.3ZM243 186.3 243.3 186.6 243.9 186.9 244.9 187.2 246.2 187.5 247.5 187.9 248.5 188.2 249 188.5 249.1 188.8 248.9 189.1 248.2 189.4 247 189.8 245.6 190.1 244.4 190.4 243.6 190.7 243.1 191 243 191.3 243 191.6 243 192 243 192.3 243 192.6 243 192.9 243 193.2 243 193.5 243 193.9 243 194.2 243 194.5 242.7 194.5 242.7 194.2 242.7 193.9 242.7 193.5 242.7 193.2 242.7 192.9 242.7 192.6 242.7 192.3 242.7 192 242.7 191.6 242.7 191.3 242.6 191 242.1 190.7 241.3 190.4 240.1 190.1 238.7 189.8 237.5 189.4 236.8 189.1 236.6 188.8 236.7 188.5 237.2 188.2 238.2 187.9 239.5 187.5 240.8 187.2 241.8 186.9 242.4 186.6 242.7 186.3ZM256.8 186.3 257.6 186.5 258.8 186.8 260 187.1 261 187.3 261.6 187.6 261.8 187.9 261.8 188.1 261.4 188.4 260.5 188.6 259.4 188.9 258.1 189.2 257.1 189.4 256.5 189.7 256.1 190 256.1 190.2 256.1 190.5 256.1 190.8 256.1 191 256.1 191.3 256.1 191.5 256.1 191.8 256.1 192.1 256.1 192.3 256.1 192.6 256.1 192.9 256.1 193.1 255.7 193.1 255.7 192.9 255.7 192.6 255.7 192.3 255.7 192.1 255.7 191.8 255.7 191.5 255.7 191.3 255.7 191 255.7 190.8 255.7 190.5 255.7 190.2 255.7 190 255.3 189.7 254.7 189.4 253.7 189.2 252.4 188.9 251.3 188.6 250.4 188.4 250 188.1 250 187.9 250.2 187.6 250.8 187.3 251.8 187.1 253 186.8 254.2 186.5 255 186.3ZM271.3 186.3 273.6 186.7 274.2 187.1 273.4 187.5 271.1 188 269.4 188.4 269.1 188.8 269.1 189.2 269.1 189.6 269.1 190.1 269.1 190.5 269.1 190.9 269.1 191.3 269.1 191.8 269.1 192.2 269.1 192.6 269.1 193 269.1 193.4 269.1 193.9 269.1 194.3 269.1 194.7 269.1 195.1 269.1 195.5 269.1 196 269.1 196.4 269.1 196.8 269.1 197.2 268.8 197.2 268.8 196.8 268.8 196.4 268.8 196 268.8 195.5 268.8 195.1 268.8 194.7 268.8 194.3 268.8 193.9 268.8 193.4 268.8 193 268.8 192.6 268.8 192.2 268.8 191.8 268.8 191.3 268.8 190.9 268.8 190.5 268.8 190.1 268.8 189.6 268.8 189.2 268.8 188.8 268.5 188.4 266.8 188 264.5 187.5 263.7 187.1 264.3 186.7 266.6 186.3ZM284.4 186.3 285.9 186.5 287 186.8 287.3 187.1 287.1 187.3 286.2 187.6 284.8 187.9 283.4 188.1 282.5 188.4 282.2 188.6 282.2 188.9 282.2 189.2 282.2 189.4 282.2 189.7 282.2 190 282.2 190.2 282.2 190.5 282.2 190.8 282.2 191 282.2 191.3 282.2 191.5 282.2 191.8 282.2 192.1 282.2 192.3 282.2 192.6 282.2 192.9 282.2 193.1 281.8 193.1 281.8 192.9 281.8 192.6 281.8 192.3 281.8 192.1 281.8 191.8 281.8 191.5 281.8 191.3 281.8 191 281.8 190.8 281.8 190.5 281.8 190.2 281.8 190 281.8 189.7 281.8 189.4 281.8 189.2 281.8 188.9 281.8 188.6 281.5 188.4 280.6 188.1 279.2 187.9 277.8 187.6 276.9 187.3 276.7 187.1 277 186.8 278.1 186.5 279.6 186.3Z" fill="#e88a38" stroke="#444" stroke-width="0.38" stroke-linejoin="round"/><path d="M203.9 200 203.9 200.5 203.9 201 203.9 201.5 203.9 202.1 203.9 202.6 203.9 203.1 203.9 203.6 203.9 204.2 203.9 204.7 203.9 205.2 203.9 205.7 203.9 206.3 203.9 206.8 203.9 207.3 203.9 207.8 203.9 208.4 203.9 208.9 204.3 209.4 206.3 210 208.5 210.5 209 211 207.8 211.5 205.3 212.1 204 212.6 203.9 213.1 203.9 213.6 203.5 213.6 203.5 213.1 203.4 212.6 202.1 212.1 199.6 211.5 198.4 211 198.9 210.5 201.1 210 203.1 209.4 203.5 208.9 203.5 208.4 203.5 207.8 203.5 207.3 203.5 206.8 203.5 206.3 203.5 205.7 203.5 205.2 203.5 204.7 203.5 204.2 203.5 203.6 203.5 203.1 203.5 202.6 203.5 202.1 203.5 201.5 203.5 201 203.5 200.5 203.5 200ZM216.9 200.6 216.9 201.1 216.9 201.6 216.9 202 217.1 202.5 217.7 202.9 218.7 203.4 219.9 203.8 221 204.3 221.6 204.8 221.7 205.2 221.5 205.7 220.8 206.1 219.7 206.6 218.7 207 218.5 207.5 219.2 208 220.6 208.4 222 208.9 222.8 209.3 223 209.8 222.8 210.3 222 210.7 220.6 211.2 219 211.6 217.8 212.1 217.1 212.5 216.4 212.5 215.7 212.1 214.5 211.6 212.9 211.2 211.5 210.7 210.7 210.3 210.5 209.8 210.7 209.3 211.5 208.9 212.9 208.4 214.3 208 215 207.5 214.8 207 213.8 206.6 212.7 206.1 212 205.7 211.8 205.2 211.9 204.8 212.5 204.3 213.6 203.8 214.8 203.4 215.8 202.9 216.4 202.5 216.6 202 216.6 201.6 216.6 201.1 216.6 200.6ZM230 200 230 200.4 230 200.8 230 201.2 230.2 201.6 231 202.1 232.5 202.5 234.2 202.9 235.4 203.3 235.7 203.7 235.5 204.2 234.5 204.6 232.9 205 231.3 205.4 230.3 205.9 230 206.3 230 206.7 230 207.1 230 207.5 230 208 230 208.4 230 208.8 230 209.2 230 209.6 230 210.1 230 210.5 230 210.9 229.6 210.9 229.6 210.5 229.6 210.1 229.6 209.6 229.6 209.2 229.6 208.8 229.6 208.4 229.6 208 229.6 207.5 229.6 207.1 229.6 206.7 229.6 206.3 229.3 205.9 228.3 205.4 226.7 205 225.1 204.6 224.1 204.2 223.9 203.7 224.2 203.3 225.4 202.9 227.1 202.5 228.6 202.1 229.4 201.6 229.6 201.2 229.6 200.8 229.6 200.4 229.6 200ZM243 200 243 200.3 243.3 200.6 244.1 200.9 245.3 201.2 246.8 201.5 248 201.9 248.7 202.2 248.8 202.5 248.5 202.8 247.6 203.1 246.2 203.4 244.8 203.7 243.7 204.1 243.1 204.4 243 204.7 243 205 243 205.3 243 205.6 243 206 243 206.3 243 206.6 243 206.9 243 207.2 243 207.5 243 207.8 243 208.2 242.7 208.2 242.7 207.8 242.7 207.5 242.7 207.2 242.7 206.9 242.7 206.6 242.7 206.3 242.7 206 242.7 205.6 242.7 205.3 242.7 205 242.7 204.7 242.6 204.4 242 204.1 240.9 203.7 239.5 203.4 238.1 203.1 237.2 202.8 236.9 202.5 237 202.2 237.7 201.9 238.9 201.5 240.4 201.2 241.6 200.9 242.4 200.6 242.7 200.3 242.7 200ZM256.8 200 257.6 200.2 258.8 200.5 260 200.7 261 201 261.6 201.3 261.8 201.5 261.8 201.8 261.4 202.1 260.5 202.3 259.4 202.6 258.1 202.9 257.1 203.1 256.5 203.4 256.1 203.6 256.1 203.9 256.1 204.2 256.1 204.4 256.1 204.7 256.1 205 256.1 205.2 256.1 205.5 256.1 205.7 256.1 206 256.1 206.3 256.1 206.5 256.1 206.8 255.7 206.8 255.7 206.5 255.7 206.3 255.7 206 255.7 205.7 255.7 205.5 255.7 205.2 255.7 205 255.7 204.7 255.7 204.4 255.7 204.2 255.7 203.9 255.7 203.6 255.3 203.4 254.7 203.1 253.7 202.9 252.4 202.6 251.3 202.3 250.4 202.1 250 201.8 250 201.5 250.2 201.3 250.8 201 251.8 200.7 253 200.5 254.2 200.2 255 200ZM271.3 200 273.6 200.4 274.2 200.8 273.4 201.2 271.1 201.6 269.4 202.1 269.1 202.5 269.1 202.9 269.1 203.3 269.1 203.7 269.1 204.2 269.1 204.6 269.1 205 269.1 205.4 269.1 205.9 269.1 206.3 269.1 206.7 269.1 207.1 269.1 207.5 269.1 208 269.1 208.4 269.1 208.8 269.1 209.2 269.1 209.6 269.1 210.1 269.1 210.5 269.1 210.9 268.8 210.9 268.8 210.5 268.8 210.1 268.8 209.6 268.8 209.2 268.8 208.8 268.8 208.4 268.8 208 268.8 207.5 268.8 207.1 268.8 206.7 268.8 206.3 268.8 205.9 268.8 205.4 268.8 205 268.8 204.6 268.8 204.2 268.8 203.7 268.8 203.3 268.8 202.9 268.8 202.5 268.5 202.1 266.8 201.6 264.5 201.2 263.7 200.8 264.3 200.4 266.6 200ZM284.4 200 285.9 200.2 287 200.5 287.3 200.7 287.1 201 286.2 201.3 284.8 201.5 283.4 201.8 282.5 202.1 282.2 202.3 282.2 202.6 282.2 202.9 282.2 203.1 282.2 203.4 282.2 203.6 282.2 203.9 282.2 204.2 282.2 204.4 282.2 204.7 282.2 205 282.2 205.2 282.2 205.5 282.2 205.7 282.2 206 282.2 206.3 282.2 206.5 282.2 206.8 281.8 206.8 281.8 206.5 281.8 206.3 281.8 206 281.8 205.7 281.8 205.5 281.8 205.2 281.8 205 281.8 204.7 281.8 204.4 281.8 204.2 281.8 203.9 281.8 203.6 281.8 203.4 281.8 203.1 281.8 202.9 281.8 202.6 281.8 202.3 281.5 202.1 280.6 201.8 279.2 201.5 277.8 201.3 276.9 201 276.7 200.7 277 200.5 278.1 200.2 279.6 200Z" fill="#d99a28" stroke="#444" stroke-width="0.38" stroke-linejoin="round"/><path d="M203.9 213.6 203.9 214.2 203.9 214.7 203.9 215.2 203.9 215.7 203.9 216.3 203.9 216.8 203.9 217.3 203.9 217.8 203.9 218.4 203.9 218.9 203.9 219.4 203.9 220 203.9 220.5 203.9 221 203.9 221.5 203.9 222.1 203.9 222.6 203.9 223.1 203.9 223.6 204.3 224.2 206.2 224.7 208.7 225.2 209.3 225.7 208.2 226.3 205.6 226.8 204 227.3 203.4 227.3 201.8 226.8 199.2 226.3 198.1 225.7 198.7 225.2 201.2 224.7 203.1 224.2 203.5 223.6 203.5 223.1 203.5 222.6 203.5 222.1 203.5 221.5 203.5 221 203.5 220.5 203.5 220 203.5 219.4 203.5 218.9 203.5 218.4 203.5 217.8 203.5 217.3 203.5 216.8 203.5 216.3 203.5 215.7 203.5 215.2 203.5 214.7 203.5 214.2 203.5 213.6ZM216.9 215 216.9 215.5 216.9 215.9 216.9 216.4 217.2 216.8 217.5 217.3 217.9 217.8 218.5 218.2 219 218.7 219.5 219.1 219.8 219.6 220 220 220.1 220.5 220 221 219.8 221.4 219.5 221.9 219.2 222.3 219.2 222.8 219.7 223.2 220.7 223.7 222.1 224.2 223 224.6 223.4 225.1 223.3 225.5 222.7 226 221.4 226.4 219.7 226.9 213.8 226.9 212.1 226.4 210.8 226 210.2 225.5 210.1 225.1 210.5 224.6 211.4 224.2 212.8 223.7 213.8 223.2 214.3 222.8 214.3 222.3 214 221.9 213.7 221.4 213.5 221 213.4 220.5 213.5 220 213.7 219.6 214 219.1 214.5 218.7 215 218.2 215.6 217.8 216 217.3 216.3 216.8 216.6 216.4 216.6 215.9 216.6 215.5 216.6 215ZM230 213.6 230 214.1 230 214.5 230 214.9 230 215.3 230.5 215.7 231.6 216.2 233.3 216.6 235 217 235.9 217.4 236.1 217.8 235.6 218.3 234.2 218.7 232.4 219.1 230.9 219.5 230.1 220 230 220.4 230 220.8 230 221.2 230 221.6 230 222.1 230 222.5 230 222.9 230 223.3 230 223.7 230 224.2 230 224.6 229.6 224.6 229.6 224.2 229.6 223.7 229.6 223.3 229.6 222.9 229.6 222.5 229.6 222.1 229.6 221.6 229.6 221.2 229.6 220.8 229.6 220.4 229.5 220 228.7 219.5 227.2 219.1 225.4 218.7 224 218.3 223.5 217.8 223.7 217.4 224.6 217 226.3 216.6 228 216.2 229.1 215.7 229.6 215.3 229.6 214.9 229.6 214.5 229.6 214.1 229.6 213.6ZM243 213.6 243 214 243 214.3 243.4 214.6 244.2 214.9 245.5 215.2 247 215.5 248.2 215.8 248.7 216.2 248.8 216.5 248.4 216.8 247.4 217.1 246 217.4 244.6 217.7 243.6 218.1 243.1 218.4 243 218.7 243 219 243 219.3 243 219.6 243 220 243 220.3 243 220.6 243 220.9 243 221.2 243 221.5 243 221.8 242.7 221.8 242.7 221.5 242.7 221.2 242.7 220.9 242.7 220.6 242.7 220.3 242.7 220 242.7 219.6 242.7 219.3 242.7 219 242.7 218.7 242.6 218.4 242.1 218.1 241.1 217.7 239.7 217.4 238.3 217.1 237.3 216.8 236.9 216.5 237 216.2 237.5 215.8 238.7 215.5 240.2 215.2 241.5 214.9 242.3 214.6 242.7 214.3 242.7 214 242.7 213.6ZM256.8 213.6 257.6 213.9 258.8 214.2 260 214.4 261 214.7 261.6 215 261.8 215.2 261.8 215.5 261.4 215.7 260.5 216 259.4 216.3 258.1 216.5 257.1 216.8 256.5 217.1 256.1 217.3 256.1 217.6 256.1 217.8 256.1 218.1 256.1 218.4 256.1 218.6 256.1 218.9 256.1 219.2 256.1 219.4 256.1 219.7 256.1 220 256.1 220.2 256.1 220.5 255.7 220.5 255.7 220.2 255.7 220 255.7 219.7 255.7 219.4 255.7 219.2 255.7 218.9 255.7 218.6 255.7 218.4 255.7 218.1 255.7 217.8 255.7 217.6 255.7 217.3 255.3 217.1 254.7 216.8 253.7 216.5 252.4 216.3 251.3 216 250.4 215.7 250 215.5 250 215.2 250.2 215 250.8 214.7 251.8 214.4 253 214.2 254.2 213.9 255 213.6ZM271.3 213.6 273.6 214.1 274.2 214.5 273.4 214.9 271.1 215.3 269.4 215.7 269.1 216.2 269.1 216.6 269.1 217 269.1 217.4 269.1 217.8 269.1 218.3 269.1 218.7 269.1 219.1 269.1 219.5 269.1 220 269.1 220.4 269.1 220.8 269.1 221.2 269.1 221.6 269.1 222.1 269.1 222.5 269.1 222.9 269.1 223.3 269.1 223.7 269.1 224.2 269.1 224.6 268.8 224.6 268.8 224.2 268.8 223.7 268.8 223.3 268.8 222.9 268.8 222.5 268.8 222.1 268.8 221.6 268.8 221.2 268.8 220.8 268.8 220.4 268.8 220 268.8 219.5 268.8 219.1 268.8 218.7 268.8 218.3 268.8 217.8 268.8 217.4 268.8 217 268.8 216.6 268.8 216.2 268.5 215.7 266.8 215.3 264.5 214.9 263.7 214.5 264.3 214.1 266.6 213.6ZM284.4 213.6 285.9 213.9 287 214.2 287.3 214.4 287.1 214.7 286.2 215 284.8 215.2 283.4 215.5 282.5 215.7 282.2 216 282.2 216.3 282.2 216.5 282.2 216.8 282.2 217.1 282.2 217.3 282.2 217.6 282.2 217.8 282.2 218.1 282.2 218.4 282.2 218.6 282.2 218.9 282.2 219.2 282.2 219.4 282.2 219.7 282.2 220 282.2 220.2 282.2 220.5 281.8 220.5 281.8 220.2 281.8 220 281.8 219.7 281.8 219.4 281.8 219.2 281.8 218.9 281.8 218.6 281.8 218.4 281.8 218.1 281.8 217.8 281.8 217.6 281.8 217.3 281.8 217.1 281.8 216.8 281.8 216.5 281.8 216.3 281.8 216 281.5 215.7 280.6 215.5 279.2 215.2 277.8 215 276.9 214.7 276.7 214.4 277 214.2 278.1 213.9 279.6 213.6Z" fill="#b8a020" stroke="#444" stroke-width="0.38" stroke-linejoin="round"/><path d="M203.9 232.8 203.9 233.1 203.9 233.4 203.9 233.7 203.9 233.9 203.9 234.2 204.2 234.5 204.6 234.8 205.3 235.1 206.1 235.4 207.1 235.7 208.1 236 208.9 236.3 209.6 236.5 209.9 236.8 210 237.1 209.9 237.4 209.7 237.7 209.1 238 208.3 238.3 207.4 238.6 206.4 238.9 205.5 239.2 204.7 239.4 204.3 239.7 204 240 203.9 240.3 203.5 240.3 203.4 240 203.1 239.7 202.7 239.4 201.9 239.2 201 238.9 200 238.6 199.1 238.3 198.3 238 197.7 237.7 197.5 237.4 197.4 237.1 197.5 236.8 197.8 236.5 198.5 236.3 199.3 236 200.3 235.7 201.3 235.4 202.1 235.1 202.8 234.8 203.2 234.5 203.5 234.2 203.5 233.9 203.5 233.7 203.5 233.4 203.5 233.1 203.5 232.8ZM216.9 231.4 216.9 231.8 216.9 232.1 216.9 232.4 216.9 232.8 217.2 233.1 217.7 233.5 218.5 233.8 219.6 234.2 220.8 234.5 221.9 234.8 222.6 235.2 223 235.5 223 235.9 222.9 236.2 222.4 236.5 221.5 236.9 220.3 237.2 219.1 237.6 218.2 237.9 217.5 238.3 217.1 238.6 216.9 238.9 216.9 239.3 216.9 239.6 216.9 240 216.9 240.3 216.6 240.3 216.6 240 216.6 239.6 216.6 239.3 216.6 238.9 216.4 238.6 216 238.3 215.3 237.9 214.4 237.6 213.2 237.2 212 236.9 211.1 236.5 210.6 236.2 210.5 235.9 210.5 235.5 210.9 235.2 211.6 234.8 212.7 234.5 213.9 234.2 215 233.8 215.8 233.5 216.3 233.1 216.6 232.8 216.6 232.4 216.6 232.1 216.6 231.8 216.6 231.4ZM230 230.1 230 230.4 230 230.8 230.3 231.2 230.8 231.6 231.6 232 232.7 232.4 233.9 232.8 235 233.2 235.8 233.6 236.3 234 236.4 234.4 236.3 234.8 235.9 235.2 235.2 235.6 234.1 236 232.9 236.4 231.8 236.8 230.9 237.2 230.3 237.5 230 237.9 230 238.3 230 238.7 230 239.1 230 239.5 230 239.9 230 240.3 229.6 240.3 229.6 239.9 229.6 239.5 229.6 239.1 229.6 238.7 229.6 238.3 229.6 237.9 229.3 237.5 228.7 237.2 227.8 236.8 226.7 236.4 225.5 236 224.4 235.6 223.7 235.2 223.3 234.8 223.2 234.4 223.3 234 223.8 233.6 224.6 233.2 225.7 232.8 226.9 232.4 228 232 228.8 231.6 229.3 231.2 229.6 230.8 229.6 230.4 229.6 230.1ZM243 230.1 243 230.4 243.2 230.8 243.7 231.2 244.4 231.6 245.4 232 246.6 232.4 247.7 232.8 248.7 233.2 249.2 233.6 249.4 234 249.4 234.4 249.2 234.8 248.5 235.2 247.5 235.6 246.3 236 245.2 236.4 244.2 236.8 243.5 237.2 243.2 237.5 243 237.9 243 238.3 243 238.7 243 239.1 243 239.5 243 239.9 243 240.3 242.7 240.3 242.7 239.9 242.7 239.5 242.7 239.1 242.7 238.7 242.7 238.3 242.7 237.9 242.5 237.5 242.2 237.2 241.5 236.8 240.5 236.4 239.4 236 238.2 235.6 237.2 235.2 236.5 234.8 236.3 234.4 236.3 234 236.5 233.6 237 233.2 238 232.8 239.1 232.4 240.3 232 241.3 231.6 242 231.2 242.5 230.8 242.7 230.4 242.7 230.1ZM256.1 228.7 256.1 229.1 256.1 229.6 256.1 230 256.1 230.5 256.3 230.9 256.9 231.4 257.9 231.8 259.1 232.3 260.5 232.7 261.6 233.2 262.3 233.6 262.5 234.1 262.4 234.5 262 234.9 261.1 235.4 259.8 235.8 258.4 236.3 257.3 236.7 256.6 237.2 256.2 237.6 256.1 238.1 256.1 238.5 256.1 239 256.1 239.4 256.1 239.9 256.1 240.3 255.7 240.3 255.7 239.9 255.7 239.4 255.7 239 255.7 238.5 255.7 238.1 255.6 237.6 255.2 237.2 254.5 236.7 253.4 236.3 252 235.8 250.7 235.4 249.8 234.9 249.4 234.5 249.3 234.1 249.5 233.6 250.2 233.2 251.3 232.7 252.7 232.3 253.9 231.8 254.9 231.4 255.5 230.9 255.7 230.5 255.7 230 255.7 229.6 255.7 229.1 255.7 228.7ZM269.1 229.4 269.1 229.8 269.3 230.2 269.6 230.6 269.9 230.9 270.1 231.3 270.3 231.7 270.4 232.1 270.5 232.5 270.7 232.9 271 233.3 271.5 233.7 272.1 234.1 272.7 234.5 273.3 234.9 273.6 235.3 273.7 235.7 273.7 236.1 273.5 236.5 273 236.9 272.2 237.3 271.4 237.7 270.5 238 269.9 238.4 269.4 238.8 269.1 239.2 269.1 239.6 268.8 239.6 268.8 239.2 268.5 238.8 268 238.4 267.4 238 266.5 237.7 265.7 237.3 264.9 236.9 264.4 236.5 264.2 236.1 264.2 235.7 264.3 235.3 264.6 234.9 265.2 234.5 265.8 234.1 266.4 233.7 266.9 233.3 267.2 232.9 267.4 232.5 267.5 232.1 267.6 231.7 267.8 231.3 268 230.9 268.3 230.6 268.6 230.2 268.8 229.8 268.8 229.4ZM282.2 229.4 282.2 229.8 282.4 230.2 282.7 230.6 283 230.9 283.2 231.3 283.3 231.7 283.4 232.1 283.6 232.5 283.8 232.9 284.1 233.3 284.6 233.7 285.2 234.1 285.9 234.5 286.5 234.9 286.8 235.3 287 235.7 286.9 236.1 286.7 236.5 286.2 236.9 285.4 237.3 284.5 237.7 283.6 238 283 238.4 282.5 238.8 282.2 239.2 282.2 239.6 281.8 239.6 281.8 239.2 281.5 238.8 281 238.4 280.4 238 279.5 237.7 278.6 237.3 277.8 236.9 277.3 236.5 277.1 236.1 277 235.7 277.2 235.3 277.5 234.9 278.1 234.5 278.8 234.1 279.4 233.7 279.9 233.3 280.2 232.9 280.4 232.5 280.6 232.1 280.7 231.7 280.8 231.3 281 230.9 281.3 230.6 281.6 230.2 281.8 229.8 281.8 229.4Z" fill="#a8b020" stroke="#444" stroke-width="0.38" stroke-linejoin="round"/><path d="M203.9 246.5 203.9 246.8 204 247 204.3 247.3 204.8 247.6 205.5 247.9 206.4 248.2 207.4 248.5 208.4 248.8 209.2 249.1 209.7 249.4 209.9 249.6 210 249.9 209.9 250.2 209.5 250.5 208.9 250.8 208 251.1 207 251.4 206.1 251.7 205.2 252 204.6 252.3 204.2 252.5 203.9 252.8 203.9 253.1 203.9 253.4 203.9 253.7 203.9 254 203.5 254 203.5 253.7 203.5 253.4 203.5 253.1 203.5 252.8 203.2 252.5 202.8 252.3 202.2 252 201.3 251.7 200.4 251.4 199.4 251.1 198.5 250.8 197.9 250.5 197.5 250.2 197.4 249.9 197.5 249.6 197.7 249.4 198.2 249.1 199 248.8 200 248.5 201 248.2 201.9 247.9 202.6 247.6 203.1 247.3 203.4 247 203.5 246.8 203.5 246.5ZM216.9 245.8 216.9 246.1 216.9 246.4 217.1 246.7 217.5 247 218.2 247.4 219.1 247.7 220.1 248 221.2 248.3 222.1 248.6 222.7 248.9 223 249.3 223 249.6 222.9 249.9 222.4 250.2 221.6 250.5 220.6 250.8 219.5 251.1 218.5 251.5 217.7 251.8 217.2 252.1 217 252.4 216.9 252.7 216.9 253 216.9 253.4 216.9 253.7 216.9 254 216.6 254 216.6 253.7 216.6 253.4 216.6 253 216.6 252.7 216.5 252.4 216.3 252.1 215.8 251.8 215 251.5 214 251.1 212.9 250.8 211.9 250.5 211.1 250.2 210.6 249.9 210.5 249.6 210.5 249.3 210.8 248.9 211.4 248.6 212.3 248.3 213.4 248 214.4 247.7 215.3 247.4 216 247 216.4 246.7 216.6 246.4 216.6 246.1 216.6 245.8ZM230 244.4 230 244.8 230 245.2 230 245.5 230.3 245.9 230.9 246.3 231.8 246.6 233.1 247 234.3 247.4 235.3 247.7 235.9 248.1 236.1 248.5 236 248.8 235.5 249.2 234.6 249.6 233.4 249.9 232.2 250.3 231.1 250.7 230.4 251 230 251.4 230 251.8 230 252.1 230 252.5 230 252.9 230 253.3 230 253.6 230 254 229.6 254 229.6 253.6 229.6 253.3 229.6 252.9 229.6 252.5 229.6 252.1 229.6 251.8 229.6 251.4 229.2 251 228.5 250.7 227.4 250.3 226.2 249.9 225 249.6 224.1 249.2 223.6 248.8 223.5 248.5 223.7 248.1 224.3 247.7 225.3 247.4 226.5 247 227.8 246.6 228.7 246.3 229.3 245.9 229.6 245.5 229.6 245.2 229.6 244.8 229.6 244.4ZM243 243.7 243 244.1 243 244.5 243.1 244.9 243.5 245.3 244.2 245.7 245.4 246.1 246.7 246.5 248 246.9 248.8 247.3 249.1 247.7 249.1 248.1 248.7 248.5 247.8 248.9 246.5 249.3 245.1 249.6 244 250 243.4 250.4 243 250.8 243 251.2 243 251.6 243 252 243 252.4 243 252.8 243 253.2 243 253.6 243 254 242.7 254 242.7 253.6 242.7 253.2 242.7 252.8 242.7 252.4 242.7 252 242.7 251.6 242.7 251.2 242.7 250.8 242.3 250.4 241.7 250 240.6 249.6 239.2 249.3 237.9 248.9 237 248.5 236.6 248.1 236.6 247.7 236.9 247.3 237.7 246.9 239 246.5 240.3 246.1 241.5 245.7 242.2 245.3 242.6 244.9 242.7 244.5 242.7 244.1 242.7 243.7ZM256.1 243.7 256.1 244.1 256.1 244.5 256.1 244.9 256.4 245.3 256.9 245.7 257.7 246.1 258.7 246.5 259.9 246.9 261.1 247.3 261.9 247.7 262.4 248.1 262.5 248.5 262.4 248.9 262.1 249.3 261.3 249.6 260.3 250 259 250.4 257.9 250.8 257 251.2 256.5 251.6 256.1 252 256.1 252.4 256.1 252.8 256.1 253.2 256.1 253.6 256.1 254 255.7 254 255.7 253.6 255.7 253.2 255.7 252.8 255.7 252.4 255.7 252 255.3 251.6 254.8 251.2 253.9 250.8 252.8 250.4 251.5 250 250.5 249.6 249.7 249.3 249.4 248.9 249.3 248.5 249.4 248.1 249.9 247.7 250.7 247.3 251.9 246.9 253.1 246.5 254.1 246.1 254.9 245.7 255.4 245.3 255.7 244.9 255.7 244.5 255.7 244.1 255.7 243.7ZM269.1 243.7 269.1 244.1 269.3 244.5 269.6 244.8 269.8 245.2 270.1 245.6 270.2 245.9 270.3 246.3 270.4 246.7 270.6 247 270.8 247.4 271.1 247.8 271.4 248.1 271.7 248.5 271.9 248.9 272 249.3 271.9 249.6 271.8 250 271.5 250.4 270.9 250.7 270.3 251.1 269.8 251.5 269.4 251.8 269.1 252.2 269.1 252.6 269.1 252.9 269.1 253.3 268.8 253.3 268.8 252.9 268.8 252.6 268.8 252.2 268.5 251.8 268.1 251.5 267.6 251.1 267 250.7 266.4 250.4 266.1 250 266 249.6 265.9 249.3 266 248.9 266.2 248.5 266.5 248.1 266.8 247.8 267.1 247.4 267.3 247 267.5 246.7 267.6 246.3 267.7 245.9 267.8 245.6 268.1 245.2 268.3 244.8 268.6 244.5 268.8 244.1 268.8 243.7ZM282.2 243.7 282.2 244.1 282.4 244.5 282.6 244.8 282.9 245.2 283.1 245.6 283.3 245.9 283.4 246.3 283.5 246.7 283.6 247 283.8 247.4 284.1 247.8 284.4 248.1 284.8 248.5 285 248.9 285 249.3 285 249.6 284.8 250 284.5 250.4 284 250.7 283.4 251.1 282.8 251.5 282.4 251.8 282.2 252.2 282.2 252.6 282.2 252.9 282.2 253.3 281.8 253.3 281.8 252.9 281.8 252.6 281.8 252.2 281.6 251.8 281.2 251.5 280.6 251.1 280 250.7 279.5 250.4 279.2 250 279 249.6 279 249.3 279 248.9 279.2 248.5 279.6 248.1 279.9 247.8 280.2 247.4 280.4 247 280.5 246.7 280.6 246.3 280.7 245.9 280.9 245.6 281.1 245.2 281.4 244.8 281.6 244.5 281.8 244.1 281.8 243.7Z" fill="#88b828" stroke="#444" stroke-width="0.38" stroke-linejoin="round"/><path d="M203.9 259.5 203.9 259.8 203.9 260.1 203.9 260.5 203.9 260.8 203.9 261.1 204 261.5 204.4 261.8 205.1 262.1 206 262.4 207.1 262.8 208.3 263.1 209.2 263.4 209.7 263.8 210 264.1 209.9 264.4 209.7 264.8 209.1 265.1 208.1 265.4 207 265.8 205.9 266.1 205 266.4 204.3 266.8 204 267.1 203.9 267.4 203.9 267.7 203.9 268.1 203.5 268.1 203.5 267.7 203.5 267.4 203.4 267.1 203.1 266.8 202.4 266.4 201.5 266.1 200.4 265.8 199.3 265.4 198.3 265.1 197.7 264.8 197.5 264.4 197.4 264.1 197.7 263.8 198.2 263.4 199.1 263.1 200.3 262.8 201.4 262.4 202.3 262.1 203 261.8 203.4 261.5 203.5 261.1 203.5 260.8 203.5 260.5 203.5 260.1 203.5 259.8 203.5 259.5ZM216.9 258.8 216.9 259.1 216.9 259.5 216.9 259.9 216.9 260.2 216.9 260.6 217.2 260.9 217.8 261.3 218.7 261.6 219.9 262 221.1 262.4 222.1 262.7 222.8 263.1 223 263.4 223 263.8 222.7 264.1 221.9 264.5 220.8 264.9 219.6 265.2 218.4 265.6 217.6 265.9 217.1 266.3 216.9 266.6 216.9 267 216.9 267.4 216.9 267.7 216.9 268.1 216.6 268.1 216.6 267.7 216.6 267.4 216.6 267 216.6 266.6 216.4 266.3 215.9 265.9 215.1 265.6 213.9 265.2 212.7 264.9 211.6 264.5 210.8 264.1 210.5 263.8 210.5 263.4 210.7 263.1 211.4 262.7 212.4 262.4 213.6 262 214.8 261.6 215.7 261.3 216.3 260.9 216.6 260.6 216.6 260.2 216.6 259.9 216.6 259.5 216.6 259.1 216.6 258.8ZM230 256.7 230 257.1 230 257.6 230.2 258 230.6 258.4 231.3 258.8 232.2 259.3 233.3 259.7 234.4 260.1 235.3 260.5 236 260.9 236.3 261.4 236.4 261.8 236.3 262.2 236 262.6 235.4 263 234.4 263.5 233.3 263.9 232.3 264.3 231.3 264.7 230.7 265.1 230.2 265.6 230 266 230 266.4 230 266.8 230 267.2 230 267.7 229.6 267.7 229.6 267.2 229.6 266.8 229.6 266.4 229.6 266 229.4 265.6 228.9 265.1 228.3 264.7 227.3 264.3 226.3 263.9 225.2 263.5 224.2 263 223.6 262.6 223.3 262.2 223.2 261.8 223.3 261.4 223.6 260.9 224.3 260.5 225.2 260.1 226.3 259.7 227.4 259.3 228.3 258.8 229 258.4 229.4 258 229.6 257.6 229.6 257.1 229.6 256.7ZM243 256 243 256.5 243.1 256.9 243.4 257.4 244 257.8 244.7 258.3 245.7 258.7 246.8 259.2 247.9 259.6 248.7 260.1 249.2 260.5 249.4 261 249.4 261.4 249.3 261.9 248.8 262.3 248.1 262.7 247.1 263.2 246 263.6 245 264.1 244.1 264.5 243.5 265 243.2 265.4 243 265.9 243 266.3 243 266.8 243 267.2 243 267.7 242.7 267.7 242.7 267.2 242.7 266.8 242.7 266.3 242.7 265.9 242.5 265.4 242.2 265 241.6 264.5 240.7 264.1 239.7 263.6 238.6 263.2 237.6 262.7 236.9 262.3 236.4 261.9 236.3 261.4 236.3 261 236.5 260.5 237 260.1 237.8 259.6 238.9 259.2 240 258.7 241 258.3 241.7 257.8 242.3 257.4 242.6 256.9 242.7 256.5 242.7 256ZM256.1 256 256.1 256.5 256.4 256.9 256.7 257.4 257 257.8 257.2 258.3 257.3 258.7 257.4 259.2 257.6 259.6 257.9 260.1 258.4 260.5 259.2 261 259.9 261.4 260.5 261.9 260.8 262.3 260.8 262.7 260.7 263.2 260.1 263.6 259.3 264.1 258.2 264.5 257.3 265 256.6 265.4 256.2 265.9 256.1 266.3 256.1 266.8 256.1 267.2 256.1 267.7 255.7 267.7 255.7 267.2 255.7 266.8 255.7 266.3 255.6 265.9 255.2 265.4 254.5 265 253.6 264.5 252.5 264.1 251.7 263.6 251.1 263.2 251 262.7 251 262.3 251.3 261.9 251.9 261.4 252.6 261 253.4 260.5 253.9 260.1 254.2 259.6 254.4 259.2 254.5 258.7 254.6 258.3 254.8 257.8 255.1 257.4 255.4 256.9 255.7 256.5 255.7 256ZM269.1 256 269.1 256.5 269.1 256.9 269.1 257.4 269.1 257.8 269.1 258.3 269.1 258.7 269.1 259.2 269.2 259.6 269.4 260.1 269.6 260.5 269.7 261 269.7 261.4 269.7 261.9 269.6 262.3 269.5 262.7 269.4 263.2 269.5 263.6 270.2 264.1 270.8 264.5 270.9 265 270.7 265.4 269.9 265.9 269.3 266.3 269.1 266.8 269.1 267.2 269.1 267.7 268.8 267.7 268.8 267.2 268.8 266.8 268.6 266.3 268 265.9 267.2 265.4 267 265 267.1 264.5 267.7 264.1 268.4 263.6 268.5 263.2 268.4 262.7 268.3 262.3 268.2 261.9 268.2 261.4 268.2 261 268.3 260.5 268.5 260.1 268.7 259.6 268.8 259.2 268.8 258.7 268.8 258.3 268.8 257.8 268.8 257.4 268.8 256.9 268.8 256.5 268.8 256ZM282.2 256 282.2 256.5 282.2 256.9 282.2 257.4 282.2 257.8 282.2 258.3 282.2 258.7 282.2 259.2 282.3 259.6 282.4 260.1 282.6 260.5 282.8 261 282.8 261.4 282.8 261.9 282.7 262.3 282.5 262.7 282.4 263.2 282.6 263.6 283.2 264.1 283.8 264.5 284 265 283.7 265.4 283 265.9 282.3 266.3 282.2 266.8 282.2 267.2 282.2 267.7 281.8 267.7 281.8 267.2 281.8 266.8 281.7 266.3 281 265.9 280.3 265.4 280 265 280.2 264.5 280.8 264.1 281.4 263.6 281.6 263.2 281.5 262.7 281.3 262.3 281.2 261.9 281.2 261.4 281.2 261 281.4 260.5 281.6 260.1 281.7 259.6 281.8 259.2 281.8 258.7 281.8 258.3 281.8 257.8 281.8 257.4 281.8 256.9 281.8 256.5 281.8 256Z" fill="#3cae3c" stroke="#444" stroke-width="0.38" stroke-linejoin="round"/><path d="M203.9 272.5 203.9 272.8 203.9 273.1 204 273.5 204.4 273.8 204.9 274.2 205.7 274.5 206.7 274.9 207.7 275.2 208.7 275.5 209.5 275.9 210 276.2 210.3 276.6 210.3 276.9 210.2 277.2 209.8 277.6 209.2 277.9 208.3 278.3 207.3 278.6 206.3 279 205.4 279.3 204.7 279.6 204.2 280 203.9 280.3 203.9 280.7 203.9 281 203.9 281.3 203.5 281.3 203.5 281 203.5 280.7 203.5 280.3 203.2 280 202.7 279.6 202 279.3 201.1 279 200.1 278.6 199.1 278.3 198.2 277.9 197.6 277.6 197.2 277.2 197.1 276.9 197.1 276.6 197.4 276.2 197.9 275.9 198.7 275.5 199.7 275.2 200.7 274.9 201.7 274.5 202.5 274.2 203 273.8 203.4 273.5 203.5 273.1 203.5 272.8 203.5 272.5ZM216.9 272.5 216.9 272.8 217 273.1 217.3 273.5 217.8 273.8 218.5 274.2 219.4 274.5 220.4 274.9 221.3 275.2 222.1 275.5 222.7 275.9 223 276.2 223 276.6 223 276.9 222.7 277.2 222.1 277.6 221.3 277.9 220.4 278.3 219.4 278.6 218.5 279 217.8 279.3 217.3 279.6 217 280 216.9 280.3 216.9 280.7 216.9 281 216.9 281.3 216.6 281.3 216.6 281 216.6 280.7 216.6 280.3 216.5 280 216.2 279.6 215.7 279.3 215 279 214.1 278.6 213.1 278.3 212.2 277.9 211.4 277.6 210.8 277.2 210.5 276.9 210.5 276.6 210.5 276.2 210.8 275.9 211.4 275.5 212.2 275.2 213.1 274.9 214.1 274.5 215 274.2 215.7 273.8 216.2 273.5 216.5 273.1 216.6 272.8 216.6 272.5ZM230 271.8 230 272.1 230.1 272.5 230.5 272.9 231 273.2 231.9 273.6 232.9 274 233.9 274.4 234.9 274.7 235.6 275.1 236 275.5 236.1 275.8 236 276.2 235.7 276.6 235.1 276.9 234.2 277.3 233.2 277.7 232.1 278 231.2 278.4 230.6 278.8 230.2 279.1 230 279.5 230 279.9 230 280.2 230 280.6 230 281 230 281.3 229.6 281.3 229.6 281 229.6 280.6 229.6 280.2 229.6 279.9 229.6 279.5 229.4 279.1 229 278.8 228.4 278.4 227.5 278 226.4 277.7 225.4 277.3 224.5 276.9 223.9 276.6 223.6 276.2 223.5 275.8 223.6 275.5 224 275.1 224.7 274.7 225.7 274.4 226.7 274 227.7 273.6 228.6 273.2 229.1 272.9 229.5 272.5 229.6 272.1 229.6 271.8ZM243 271.1 243 271.5 243 271.9 243.2 272.3 243.6 272.7 244.2 273.1 245.1 273.5 246.2 273.9 247.3 274.2 248.2 274.6 249 275 249.3 275.4 249.4 275.8 249.4 276.2 249.1 276.6 248.5 277 247.5 277.4 246.5 277.8 245.4 278.2 244.4 278.6 243.7 279 243.3 279.4 243 279.8 243 280.2 243 280.6 243 281 243 281.3 242.7 281.3 242.7 281 242.7 280.6 242.7 280.2 242.7 279.8 242.4 279.4 242 279 241.3 278.6 240.3 278.2 239.2 277.8 238.2 277.4 237.2 277 236.6 276.6 236.3 276.2 236.3 275.8 236.4 275.4 236.7 275 237.5 274.6 238.4 274.2 239.5 273.9 240.6 273.5 241.5 273.1 242.1 272.7 242.5 272.3 242.7 271.9 242.7 271.5 242.7 271.1ZM256.1 269.7 256.1 270.2 256.1 270.6 256.1 271.1 256.4 271.5 256.6 272 256.8 272.4 256.9 272.9 256.9 273.3 257 273.7 257.1 274.2 257.4 274.6 257.8 275.1 258.4 275.5 258.7 276 258.9 276.4 258.8 276.9 258.5 277.3 258 277.8 257.2 278.2 256.6 278.7 256.2 279.1 256.1 279.6 256.1 280 256.1 280.5 256.1 280.9 256.1 281.3 255.7 281.3 255.7 280.9 255.7 280.5 255.7 280 255.7 279.6 255.6 279.1 255.2 278.7 254.6 278.2 253.8 277.8 253.3 277.3 253 276.9 252.9 276.4 253.1 276 253.4 275.5 254 275.1 254.4 274.6 254.7 274.2 254.8 273.7 254.9 273.3 254.9 272.9 255 272.4 255.2 272 255.4 271.5 255.7 271.1 255.7 270.6 255.7 270.2 255.7 269.7Z" fill="#28ae5a" stroke="#444" stroke-width="0.38" stroke-linejoin="round"/><path d="M203.9 284.8 203.9 285.2 203.9 285.6 203.9 286 204.2 286.3 204.7 286.7 205.5 287.1 206.5 287.5 207.7 287.9 208.9 288.3 209.7 288.7 210.2 289.1 210.3 289.5 210.2 289.9 209.9 290.3 209.1 290.7 208.1 291.1 206.8 291.5 205.7 291.9 204.8 292.3 204.3 292.7 203.9 293.1 203.9 293.4 203.9 293.8 203.9 294.2 203.9 294.6 203.9 295 203.5 295 203.5 294.6 203.5 294.2 203.5 293.8 203.5 293.4 203.5 293.1 203.1 292.7 202.6 292.3 201.7 291.9 200.6 291.5 199.3 291.1 198.3 290.7 197.5 290.3 197.2 289.9 197.1 289.5 197.2 289.1 197.7 288.7 198.5 288.3 199.7 287.9 200.9 287.5 201.9 287.1 202.7 286.7 203.2 286.3 203.5 286 203.5 285.6 203.5 285.2 203.5 284.8ZM216.9 286.1 216.9 286.5 216.9 286.8 216.9 287.2 216.9 287.5 217.2 287.8 217.7 288.2 218.4 288.5 219.4 288.9 220.6 289.2 221.6 289.6 222.3 289.9 222.6 290.2 222.7 290.6 222.5 290.9 222.1 291.3 221.2 291.6 220.1 291.9 219 292.3 218.1 292.6 217.4 293 217 293.3 216.9 293.7 216.9 294 216.9 294.3 216.9 294.7 216.9 295 216.6 295 216.6 294.7 216.6 294.3 216.6 294 216.6 293.7 216.5 293.3 216.1 293 215.4 292.6 214.5 292.3 213.4 291.9 212.3 291.6 211.4 291.3 211 290.9 210.8 290.6 210.9 290.2 211.2 289.9 211.9 289.6 212.9 289.2 214.1 288.9 215.1 288.5 215.8 288.2 216.3 287.8 216.6 287.5 216.6 287.2 216.6 286.8 216.6 286.5 216.6 286.1ZM230 284.8 230 285.2 230 285.6 230 286 230 286.3 230.2 286.7 230.6 287.1 231 287.5 231.4 287.9 231.7 288.3 231.8 288.7 231.8 289.1 231.8 289.5 231.8 289.9 231.8 290.3 232.1 290.7 232.6 291.1 233.3 291.5 234 291.9 234.5 292.3 234.7 292.7 234.7 293.1 234.6 293.4 234.3 293.8 233.6 294.2 232.8 294.6 231.9 295 227.7 295 226.8 294.6 226 294.2 225.3 293.8 225 293.4 224.9 293.1 224.9 292.7 225.1 292.3 225.6 291.9 226.3 291.5 227 291.1 227.5 290.7 227.8 290.3 227.8 289.9 227.8 289.5 227.8 289.1 227.8 288.7 227.9 288.3 228.2 287.9 228.6 287.5 229 287.1 229.4 286.7 229.6 286.3 229.6 286 229.6 285.6 229.6 285.2 229.6 284.8Z" fill="#20a888" stroke="#444" stroke-width="0.38" stroke-linejoin="round"/><path d="M203.9 299.8 203.9 300.2 203.9 300.5 203.9 300.8 204.1 301.2 204.6 301.5 205.4 301.9 206.5 302.2 207.7 302.6 208.9 302.9 209.7 303.2 210.2 303.6 210.3 303.9 210.2 304.3 209.7 304.6 208.9 304.9 207.7 305.3 206.5 305.6 205.4 306 204.6 306.3 204.1 306.7 203.9 307 203.9 307.3 203.9 307.7 203.9 308 203.9 308.4 203.9 308.7 203.5 308.7 203.5 308.4 203.5 308 203.5 307.7 203.5 307.3 203.5 307 203.3 306.7 202.8 306.3 202 306 200.9 305.6 199.7 305.3 198.5 304.9 197.7 304.6 197.2 304.3 197.1 303.9 197.2 303.6 197.7 303.2 198.5 302.9 199.7 302.6 200.9 302.2 202 301.9 202.8 301.5 203.3 301.2 203.5 300.8 203.5 300.5 203.5 300.2 203.5 299.8ZM216.9 300.5 216.9 300.8 216.9 301.1 216.9 301.4 216.9 301.8 217 302.1 217.2 302.4 217.7 302.7 218.5 303 219.5 303.3 220.6 303.7 221.6 304 222.4 304.3 222.9 304.6 223 304.9 223 305.2 222.7 305.5 222.1 305.9 221.2 306.2 220.1 306.5 219.1 306.8 218.2 307.1 217.5 307.4 217.1 307.8 216.9 308.1 216.9 308.4 216.9 308.7 216.6 308.7 216.6 308.4 216.6 308.1 216.4 307.8 216 307.4 215.3 307.1 214.4 306.8 213.4 306.5 212.3 306.2 211.4 305.9 210.8 305.5 210.5 305.2 210.5 304.9 210.6 304.6 211.1 304.3 211.9 304 212.9 303.7 214 303.3 215 303 215.8 302.7 216.3 302.4 216.5 302.1 216.6 301.8 216.6 301.4 216.6 301.1 216.6 300.8 216.6 300.5ZM230 298.4 230 298.8 230 299.2 230 299.6 230 300 230 300.4 230 300.8 230 301.2 230 301.6 230 302 230 302.4 230 302.8 230 303.2 230 303.6 230 304 230 304.4 230.3 304.8 231 305.2 231.6 305.5 231.8 305.9 231.7 306.3 231.1 306.7 230.4 307.1 230 307.5 230 307.9 230 308.3 230 308.7 229.6 308.7 229.6 308.3 229.6 307.9 229.6 307.5 229.2 307.1 228.5 306.7 227.9 306.3 227.8 305.9 228 305.5 228.6 305.2 229.3 304.8 229.6 304.4 229.6 304 229.6 303.6 229.6 303.2 229.6 302.8 229.6 302.4 229.6 302 229.6 301.6 229.6 301.2 229.6 300.8 229.6 300.4 229.6 300 229.6 299.6 229.6 299.2 229.6 298.8 229.6 298.4Z" fill="#20a8a0" stroke="#444" stroke-width="0.38" stroke-linejoin="round"/><path d="M203.9 310.8 203.9 311.2 204.1 311.7 204.5 312.1 205.1 312.5 205.8 313 206.7 313.4 207.7 313.9 208.6 314.3 209.4 314.8 209.9 315.2 210.2 315.7 210.3 316.1 210.3 316.6 210.1 317 209.7 317.5 209 317.9 208.1 318.4 207.2 318.8 206.2 319.3 205.4 319.7 204.7 320.1 204.3 320.6 204 321 203.9 321.5 203.9 321.9 203.9 322.4 203.5 322.4 203.5 321.9 203.5 321.5 203.4 321 203.1 320.6 202.7 320.1 202 319.7 201.2 319.3 200.2 318.8 199.3 318.4 198.4 317.9 197.7 317.5 197.3 317 197.1 316.6 197.1 316.1 197.2 315.7 197.5 315.2 198 314.8 198.8 314.3 199.7 313.9 200.7 313.4 201.6 313 202.3 312.5 202.9 312.1 203.3 311.7 203.5 311.2 203.5 310.8ZM216.9 310.1 216.9 310.6 216.9 311 216.9 311.5 216.9 312 216.9 312.5 216.9 313 216.9 313.5 216.9 313.9 216.9 314.4 216.9 314.9 216.9 315.4 216.9 315.9 216.9 316.4 216.9 316.8 216.9 317.3 216.9 317.8 216.9 318.3 216.9 318.8 216.9 319.3 216.9 319.8 216.9 320.2 216.9 320.7 217.5 321.2 218.8 321.7 219 322.2 217.7 322.7 215.8 322.7 214.5 322.2 214.7 321.7 216 321.2 216.6 320.7 216.6 320.2 216.6 319.8 216.6 319.3 216.6 318.8 216.6 318.3 216.6 317.8 216.6 317.3 216.6 316.8 216.6 316.4 216.6 315.9 216.6 315.4 216.6 314.9 216.6 314.4 216.6 313.9 216.6 313.5 216.6 313 216.6 312.5 216.6 312 216.6 311.5 216.6 311 216.6 310.6 216.6 310.1Z" fill="#28a8c8" stroke="#444" stroke-width="0.38" stroke-linejoin="round"/><path d="M203.9 323.8 203.9 324.2 203.9 324.7 204.2 325.2 204.7 325.6 205.3 326.1 206.2 326.6 207.2 327.1 208.2 327.5 209.1 328 209.8 328.5 210.2 329 210.3 329.4 210.3 329.9 210.1 330.4 209.7 330.9 209 331.3 208 331.8 207 332.3 206 332.7 205.2 333.2 204.6 333.7 204.2 334.2 203.9 334.6 203.9 335.1 203.9 335.6 203.9 336.1 203.5 336.1 203.5 335.6 203.5 335.1 203.5 334.6 203.2 334.2 202.8 333.7 202.2 333.2 201.4 332.7 200.4 332.3 199.4 331.8 198.4 331.3 197.7 330.9 197.3 330.4 197.1 329.9 197.1 329.4 197.2 329 197.6 328.5 198.3 328 199.2 327.5 200.2 327.1 201.2 326.6 202.1 326.1 202.7 325.6 203.2 325.2 203.5 324.7 203.5 324.2 203.5 323.8ZM216.9 323.8 216.9 324.2 216.9 324.7 216.9 325.2 216.9 325.7 216.9 326.2 216.9 326.7 216.9 327.1 216.9 327.6 216.9 328.1 216.9 328.6 216.9 329.1 216.9 329.6 216.9 330 216.9 330.5 216.9 331 216.9 331.5 216.9 332 216.9 332.5 216.9 332.9 216.9 333.4 216.9 333.9 217 334.4 218.1 334.9 218.7 335.4 218.1 335.9 217 336.3 216.5 336.3 215.4 335.9 214.8 335.4 215.4 334.9 216.5 334.4 216.6 333.9 216.6 333.4 216.6 332.9 216.6 332.5 216.6 332 216.6 331.5 216.6 331 216.6 330.5 216.6 330 216.6 329.6 216.6 329.1 216.6 328.6 216.6 328.1 216.6 327.6 216.6 327.1 216.6 326.7 216.6 326.2 216.6 325.7 216.6 325.2 216.6 324.7 216.6 324.2 216.6 323.8Z" fill="#20a0e0" stroke="#444" stroke-width="0.38" stroke-linejoin="round"/><path d="M203.9 342.9 203.9 343.2 203.9 343.5 203.9 343.7 203.9 344 204 344.3 204.2 344.5 204.4 344.8 204.5 345.1 204.6 345.4 204.7 345.6 204.7 345.9 204.7 346.2 204.7 346.5 204.7 346.7 205 347 205.4 347.3 206.1 347.6 206.7 347.8 207.2 348.1 207.3 348.4 207.3 348.6 207.1 348.9 206.6 349.2 205.9 349.5 205.1 349.7 204.5 350 202.9 350 202.3 349.7 201.5 349.5 200.8 349.2 200.3 348.9 200.1 348.6 200.1 348.4 200.2 348.1 200.7 347.8 201.3 347.6 202 347.3 202.4 347 202.7 346.7 202.7 346.5 202.7 346.2 202.7 345.9 202.7 345.6 202.8 345.4 202.9 345.1 203 344.8 203.2 344.5 203.4 344.3 203.5 344 203.5 343.7 203.5 343.5 203.5 343.2 203.5 342.9ZM216.9 342.2 216.9 342.5 216.9 342.8 216.9 343.1 216.9 343.4 217 343.7 217.2 344 217.4 344.3 217.6 344.6 217.8 344.9 217.9 345.2 217.9 345.5 217.9 345.8 217.9 346.1 217.9 346.4 218.1 346.7 218.6 347 219.3 347.3 219.9 347.6 220.3 347.9 220.4 348.2 220.3 348.5 219.9 348.8 219.2 349.1 218.3 349.4 217.6 349.7 217.1 350 216.4 350 215.9 349.7 215.2 349.4 214.3 349.1 213.6 348.8 213.2 348.5 213.1 348.2 213.2 347.9 213.6 347.6 214.2 347.3 214.9 347 215.4 346.7 215.6 346.4 215.6 346.1 215.6 345.8 215.6 345.5 215.6 345.2 215.7 344.9 215.9 344.6 216.1 344.3 216.3 344 216.5 343.7 216.6 343.4 216.6 343.1 216.6 342.8 216.6 342.5 216.6 342.2ZM230 339.5 230 339.9 230 340.3 230 340.7 230 341.1 230.2 341.5 230.4 341.9 230.8 342.3 231 342.7 231.2 343.1 231.3 343.5 231.3 343.9 231.4 344.3 231.5 344.7 232 345.2 232.8 345.6 233.7 346 234.6 346.4 235 346.8 235.1 347.2 234.9 347.6 234.3 348 233.3 348.4 232.2 348.8 231.1 349.2 230.4 349.6 230 350 229.6 350 229.2 349.6 228.5 349.2 227.4 348.8 226.3 348.4 225.3 348 224.7 347.6 224.5 347.2 224.6 346.8 225 346.4 225.9 346 226.8 345.6 227.6 345.2 228.1 344.7 228.2 344.3 228.3 343.9 228.3 343.5 228.4 343.1 228.6 342.7 228.8 342.3 229.2 341.9 229.4 341.5 229.6 341.1 229.6 340.7 229.6 340.3 229.6 339.9 229.6 339.5ZM243 338.1 243 338.6 243 339 243 339.5 243 339.9 243 340.4 243.3 340.9 243.7 341.3 244.1 341.8 244.4 342.2 244.6 342.7 244.8 343.2 245.1 343.6 245.5 344.1 246.3 344.5 247.3 345 248.4 345.4 249.1 345.9 249.4 346.4 249.4 346.8 249.1 347.3 248.3 347.7 247 348.2 245.6 348.6 244.4 349.1 243.6 349.6 243.1 350 242.6 350 242.1 349.6 241.3 349.1 240.1 348.6 238.7 348.2 237.4 347.7 236.6 347.3 236.3 346.8 236.3 346.4 236.6 345.9 237.3 345.4 238.4 345 239.4 344.5 240.2 344.1 240.6 343.6 240.9 343.2 241.1 342.7 241.3 342.2 241.6 341.8 242 341.3 242.4 340.9 242.7 340.4 242.7 339.9 242.7 339.5 242.7 339 242.7 338.6 242.7 338.1ZM256.1 337.4 256.1 337.9 256.1 338.4 256.1 338.9 256.1 339.4 256.1 339.9 256.2 340.3 256.5 340.8 256.9 341.3 257.2 341.8 257.4 342.3 257.5 342.8 257.7 343.2 258 343.7 258.7 344.2 259.6 344.7 260.6 345.2 261.3 345.7 261.5 346.1 261.5 346.6 261.1 347.1 260.2 347.6 259 348.1 257.8 348.6 256.8 349 256.3 349.5 256.1 350 255.7 350 255.5 349.5 255 349 254 348.6 252.8 348.1 251.6 347.6 250.7 347.1 250.3 346.6 250.3 346.1 250.5 345.7 251.2 345.2 252.2 344.7 253.1 344.2 253.8 343.7 254.1 343.2 254.3 342.8 254.4 342.3 254.6 341.8 254.9 341.3 255.3 340.8 255.6 340.3 255.7 339.9 255.7 339.4 255.7 338.9 255.7 338.4 255.7 337.9 255.7 337.4ZM269.1 337.4 269.1 337.9 269.1 338.4 269.1 338.9 269.1 339.4 269.2 339.9 269.5 340.3 269.9 340.8 270.3 341.3 270.6 341.8 270.7 342.3 270.8 342.8 270.9 343.2 271.3 343.7 271.9 344.2 272.6 344.7 273.3 345.2 273.6 345.7 273.7 346.1 273.5 346.6 273 347.1 272 347.6 271 348.1 270.1 348.6 269.4 349 269.1 349.5 269.1 350 268.8 350 268.8 349.5 268.5 349 267.8 348.6 266.9 348.1 265.9 347.6 264.9 347.1 264.4 346.6 264.2 346.1 264.3 345.7 264.6 345.2 265.3 344.7 266 344.2 266.6 343.7 267 343.2 267.1 342.8 267.2 342.3 267.3 341.8 267.6 341.3 268 340.8 268.4 340.3 268.7 339.9 268.8 339.4 268.8 338.9 268.8 338.4 268.8 337.9 268.8 337.4ZM282.2 338.1 282.2 338.6 282.2 339 282.2 339.5 282.2 339.9 282.4 340.4 282.8 340.9 283.2 341.3 283.5 341.8 283.7 342.2 284 342.7 284.3 343.2 284.8 343.6 285.6 344.1 286.6 344.5 287.5 345 288.1 345.4 288.3 345.9 288.2 346.4 287.8 346.8 286.9 347.3 285.7 347.7 284.4 348.2 283.3 348.6 282.6 349.1 282.2 349.6 282.2 350 281.8 350 281.8 349.6 281.4 349.1 280.7 348.6 279.6 348.2 278.3 347.7 277.1 347.3 276.2 346.8 275.8 346.4 275.7 345.9 275.9 345.4 276.5 345 277.4 344.5 278.4 344.1 279.2 343.6 279.7 343.2 280 342.7 280.3 342.2 280.5 341.8 280.8 341.3 281.2 340.9 281.6 340.4 281.8 339.9 281.8 339.5 281.8 339 281.8 338.6 281.8 338.1Z" fill="#2e95d8" stroke="#444" stroke-width="0.38" stroke-linejoin="round"/><path d="M203.9 354.5 203.9 354.9 203.9 355.2 203.9 355.6 204.1 355.9 204.4 356.2 204.7 356.6 205 356.9 205.2 357.3 205.3 357.6 205.4 357.9 205.4 358.3 205.6 358.6 205.8 359 206.4 359.3 207.2 359.7 208.2 360 209.1 360.3 209.6 360.7 209.7 361 209.6 361.4 209.1 361.7 208.2 362.1 207.1 362.4 205.8 362.7 204.8 363.1 204.2 363.4 203.2 363.4 202.6 363.1 201.6 362.7 200.3 362.4 199.2 362.1 198.3 361.7 197.8 361.4 197.7 361 197.8 360.7 198.3 360.3 199.2 360 200.2 359.7 201 359.3 201.6 359 201.8 358.6 202 358.3 202 357.9 202.1 357.6 202.2 357.3 202.4 356.9 202.7 356.6 203 356.2 203.3 355.9 203.5 355.6 203.5 355.2 203.5 354.9 203.5 354.5ZM216.9 354.5 216.9 354.9 217 355.2 217.2 355.6 217.5 355.9 217.8 356.2 218.1 356.6 218.3 356.9 218.4 357.3 218.4 357.6 218.4 357.9 218.5 358.3 218.7 358.6 219.1 359 219.8 359.3 220.8 359.7 221.6 360 222.2 360.3 222.4 360.7 222.3 361 222 361.4 221.2 361.7 220.2 362.1 219 362.4 218 362.7 217.3 363.1 217 363.4 216.5 363.4 216.2 363.1 215.5 362.7 214.5 362.4 213.3 362.1 212.3 361.7 211.5 361.4 211.2 361 211.1 360.7 211.3 360.3 211.9 360 212.7 359.7 213.7 359.3 214.4 359 214.8 358.6 215 358.3 215.1 357.9 215.1 357.6 215.1 357.3 215.2 356.9 215.4 356.6 215.7 356.2 216 355.9 216.3 355.6 216.5 355.2 216.6 354.9 216.6 354.5ZM230 353.2 230 353.6 230 354 230 354.3 230 354.7 230.2 355.1 230.5 355.5 230.8 355.9 231.2 356.3 231.4 356.7 231.5 357.1 231.6 357.5 231.7 357.9 232.1 358.3 232.7 358.7 233.5 359.1 234.4 359.5 235.1 359.9 235.4 360.3 235.4 360.7 235.2 361.1 234.5 361.4 233.4 361.8 232.2 362.2 231.1 362.6 230.4 363 230 363.4 229.6 363.4 229.2 363 228.5 362.6 227.4 362.2 226.2 361.8 225.1 361.4 224.4 361.1 224.2 360.7 224.2 360.3 224.5 359.9 225.2 359.5 226.1 359.1 226.9 358.7 227.5 358.3 227.9 357.9 228 357.5 228.1 357.1 228.2 356.7 228.4 356.3 228.8 355.9 229.1 355.5 229.4 355.1 229.6 354.7 229.6 354.3 229.6 354 229.6 353.6 229.6 353.2ZM243 353.2 243 353.6 243 354 243 354.3 243.1 354.7 243.4 355.1 243.8 355.5 244.1 355.9 244.4 356.3 244.5 356.7 244.6 357.1 244.8 357.5 245.1 357.9 245.7 358.3 246.6 358.7 247.6 359.1 248.5 359.5 249 359.9 249.1 360.3 249 360.7 248.4 361.1 247.3 361.4 246 361.8 244.7 362.2 243.7 362.6 243.2 363 243 363.4 242.7 363.4 242.5 363 242 362.6 241 362.2 239.7 361.8 238.4 361.4 237.3 361.1 236.7 360.7 236.6 360.3 236.7 359.9 237.2 359.5 238.1 359.1 239.1 358.7 240 358.3 240.6 357.9 240.9 357.5 241.1 357.1 241.2 356.7 241.3 356.3 241.6 355.9 241.9 355.5 242.3 355.1 242.6 354.7 242.7 354.3 242.7 354 242.7 353.6 242.7 353.2ZM256.1 353.2 256.1 353.6 256.1 354 256.1 354.3 256.1 354.7 256.2 355.1 256.4 355.5 256.7 355.9 257 356.3 257.2 356.7 257.2 357.1 257.2 357.5 257.1 357.9 257 358.3 256.8 358.7 256.9 359.1 257.5 359.5 258.4 359.9 259 360.3 259.2 360.7 259.1 361.1 258.4 361.4 257.4 361.8 256.5 362.2 256.1 362.6 256.1 363 256.1 363.4 255.7 363.4 255.7 363 255.7 362.6 255.3 362.2 254.4 361.8 253.4 361.4 252.7 361.1 252.6 360.7 252.8 360.3 253.4 359.9 254.3 359.5 254.9 359.1 255 358.7 254.8 358.3 254.7 357.9 254.6 357.5 254.6 357.1 254.6 356.7 254.8 356.3 255.1 355.9 255.4 355.5 255.6 355.1 255.7 354.7 255.7 354.3 255.7 354 255.7 353.6 255.7 353.2ZM269.1 351.8 269.1 352.2 269.1 352.7 269.1 353.1 269.1 353.6 269.1 354 269.1 354.5 269.1 354.9 269.3 355.4 269.5 355.8 269.7 356.3 269.9 356.7 269.9 357.2 269.9 357.6 269.9 358.1 269.9 358.5 270.2 358.9 270.9 359.4 271.5 359.8 271.6 360.3 271.4 360.7 270.7 361.2 269.7 361.6 269.2 362.1 269.1 362.5 269.1 363 269.1 363.4 268.8 363.4 268.8 363 268.8 362.5 268.7 362.1 268.2 361.6 267.2 361.2 266.5 360.7 266.3 360.3 266.4 359.8 267 359.4 267.7 358.9 268 358.5 268 358.1 268 357.6 268 357.2 268 356.7 268.2 356.3 268.4 355.8 268.6 355.4 268.8 354.9 268.8 354.5 268.8 354 268.8 353.6 268.8 353.1 268.8 352.7 268.8 352.2 268.8 351.8ZM282.2 352.5 282.2 352.9 282.2 353.3 282.2 353.7 282.2 354.2 282.2 354.6 282.2 355 282.5 355.4 282.8 355.8 283.1 356.3 283.2 356.7 283.3 357.1 283.3 357.5 283.3 357.9 283.4 358.4 283.8 358.8 284.5 359.2 285.1 359.6 285.3 360.1 285.3 360.5 284.9 360.9 284.1 361.3 283.2 361.7 282.5 362.2 282.2 362.6 282.2 363 282.2 363.4 281.8 363.4 281.8 363 281.8 362.6 281.5 362.2 280.8 361.7 279.9 361.3 279.1 360.9 278.7 360.5 278.7 360.1 278.9 359.6 279.5 359.2 280.2 358.8 280.6 358.4 280.7 357.9 280.7 357.5 280.7 357.1 280.8 356.7 280.9 356.3 281.2 355.8 281.5 355.4 281.8 355 281.8 354.6 281.8 354.2 281.8 353.7 281.8 353.3 281.8 352.9 281.8 352.5Z" fill="#6a78c8" stroke="#444" stroke-width="0.38" stroke-linejoin="round"/><path d="M203.9 364.8 204.2 365.3 204.8 365.8 206 366.3 207.4 366.7 208.9 367.2 209.9 367.7 210.4 368.2 210.6 368.7 210.5 369.2 209.9 369.7 208.9 370.2 207.8 370.7 207 371.1 206.4 371.6 206.2 372.1 206 372.6 205.9 373.1 205.7 373.6 205.3 374.1 204.9 374.6 204.5 375.1 204.2 375.6 203.9 376 203.9 376.5 203.9 377 203.9 377.5 203.5 377.5 203.5 377 203.5 376.5 203.5 376 203.2 375.6 202.9 375.1 202.5 374.6 202.1 374.1 201.7 373.6 201.5 373.1 201.4 372.6 201.2 372.1 201 371.6 200.4 371.1 199.6 370.7 198.5 370.2 197.5 369.7 196.9 369.2 196.8 368.7 197 368.2 197.5 367.7 198.5 367.2 200 366.7 201.4 366.3 202.6 365.8 203.2 365.3 203.5 364.8ZM216.9 364.8 217.2 365.3 217.9 365.8 219 366.3 220.5 366.7 221.9 367.2 222.9 367.7 223.5 368.2 223.6 368.7 223.5 369.2 222.9 369.7 221.9 370.2 220.9 370.7 220 371.1 219.5 371.6 219.2 372.1 219.1 372.6 219 373.1 218.7 373.6 218.4 374.1 218 374.6 217.6 375.1 217.2 375.6 217 376 216.9 376.5 216.9 377 216.9 377.5 216.6 377.5 216.6 377 216.6 376.5 216.5 376 216.3 375.6 215.9 375.1 215.5 374.6 215.1 374.1 214.8 373.6 214.5 373.1 214.4 372.6 214.3 372.1 214 371.6 213.5 371.1 212.6 370.7 211.6 370.2 210.6 369.7 210 369.2 209.9 368.7 210 368.2 210.6 367.7 211.6 367.2 213 366.7 214.5 366.3 215.6 365.8 216.3 365.3 216.6 364.8ZM230.1 364.8 230.6 365.3 231.5 365.8 232.9 366.3 234.3 366.7 235.6 367.2 236.3 367.7 236.6 368.2 236.7 368.7 236.3 369.2 235.4 369.7 234.4 370.2 233.4 370.7 232.7 371.1 232.4 371.6 232.2 372.1 232.1 372.6 231.9 373.1 231.6 373.6 231.2 374.1 230.8 374.6 230.4 375.1 230.1 375.6 230 376 230 376.5 230 377 230 377.5 229.6 377.5 229.6 377 229.6 376.5 229.6 376 229.5 375.6 229.2 375.1 228.8 374.6 228.4 374.1 228 373.6 227.7 373.1 227.5 372.6 227.4 372.1 227.2 371.6 226.9 371.1 226.2 370.7 225.2 370.2 224.2 369.7 223.3 369.2 222.9 368.7 223 368.2 223.3 367.7 224 367.2 225.3 366.7 226.7 366.3 228.1 365.8 229 365.3 229.5 364.8ZM243.2 364.5 243.6 365 244.5 365.5 245.8 366 247.3 366.5 248.7 367 249.6 367.5 250 368 250.2 368.5 250.2 369 249.6 369.5 248.7 370 247.7 370.5 246.8 371 246.1 371.5 245.7 372 245.5 372.5 245.3 373 245 373.5 244.6 374 244.2 374.5 243.8 375 243.4 375.5 243.1 376 243 376.5 243 377 243 377.5 242.7 377.5 242.7 377 242.7 376.5 242.6 376 242.3 375.5 241.9 375 241.5 374.5 241.1 374 240.7 373.5 240.4 373 240.2 372.5 240 372 239.6 371.5 238.9 371 238 370.5 237 370 236.1 369.5 235.5 369 235.5 368.5 235.7 368 236.1 367.5 237 367 238.4 366.5 239.9 366 241.2 365.5 242.1 365 242.5 364.5ZM256.2 364.5 256.7 365 257.5 365.5 258.6 366 260 366.5 261.4 367 262.4 367.5 263.1 368 263.5 368.5 263.7 369 263.6 369.5 263.1 370 262.1 370.5 261.1 371 260.2 371.5 259.6 372 259.1 372.5 258.9 373 258.7 373.5 258.3 374 257.9 374.5 257.5 375 257 375.5 256.6 376 256.3 376.5 256.1 377 256.1 377.5 255.7 377.5 255.7 377 255.5 376.5 255.2 376 254.8 375.5 254.3 375 253.9 374.5 253.5 374 253.1 373.5 252.9 373 252.7 372.5 252.2 372 251.6 371.5 250.7 371 249.7 370.5 248.7 370 248.2 369.5 248.1 369 248.3 368.5 248.7 368 249.4 367.5 250.4 367 251.8 366.5 253.2 366 254.3 365.5 255.1 365 255.6 364.5Z" fill="#9a68c0" stroke="#444" stroke-width="0.38" stroke-linejoin="round"/><path d="M203.9 378.5 203.9 378.9 203.9 379.4 204 379.9 205.2 380.4 207.7 380.8 209.7 381.3 210 381.8 208.8 382.3 206.5 382.7 205.3 383.2 205.4 383.7 205.6 384.2 205.7 384.6 205.6 385.1 205.3 385.6 204.8 386 204.3 386.5 204 387 203.9 387.5 203.9 387.9 203.9 388.4 203.9 388.9 203.9 389.4 203.9 389.8 203.9 390.3 203.9 390.8 203.5 390.8 203.5 390.3 203.5 389.8 203.5 389.4 203.5 388.9 203.5 388.4 203.5 387.9 203.5 387.5 203.4 387 203.1 386.5 202.6 386 202.1 385.6 201.8 385.1 201.7 384.6 201.8 384.2 202 383.7 202.1 383.2 200.9 382.7 198.6 382.3 197.4 381.8 197.7 381.3 199.7 380.8 202.2 380.4 203.4 379.9 203.5 379.4 203.5 378.9 203.5 378.5ZM216.9 378.5 216.9 378.9 216.9 379.4 217 379.9 218.2 380.4 220.8 380.8 222.8 381.3 223 381.8 221.8 382.3 219.5 382.7 218.4 383.2 218.4 383.7 218.7 384.2 218.7 384.6 218.7 385.1 218.4 385.6 217.9 386 217.4 386.5 217 387 216.9 387.5 216.9 387.9 216.9 388.4 216.9 388.9 216.9 389.4 216.9 389.8 216.9 390.3 216.9 390.8 216.6 390.8 216.6 390.3 216.6 389.8 216.6 389.4 216.6 388.9 216.6 388.4 216.6 387.9 216.6 387.5 216.5 387 216.1 386.5 215.6 386 215.1 385.6 214.8 385.1 214.8 384.6 214.8 384.2 215.1 383.7 215.1 383.2 214 382.7 211.7 382.3 210.5 381.8 210.7 381.3 212.7 380.8 215.3 380.4 216.5 379.9 216.6 379.4 216.6 378.9 216.6 378.5ZM230 378.5 230 378.9 230 379.4 230.1 379.9 231.3 380.4 233.8 380.8 235.8 381.3 236.1 381.8 234.9 382.3 232.6 382.7 231.4 383.2 231.5 383.7 231.7 384.2 231.8 384.6 231.7 385.1 231.4 385.6 230.9 386 230.4 386.5 230.1 387 230 387.5 230 387.9 230 388.4 230 388.9 230 389.4 230 389.8 230 390.3 230 390.8 229.6 390.8 229.6 390.3 229.6 389.8 229.6 389.4 229.6 388.9 229.6 388.4 229.6 387.9 229.6 387.5 229.5 387 229.2 386.5 228.7 386 228.2 385.6 227.9 385.1 227.8 384.6 227.9 384.2 228.1 383.7 228.2 383.2 227 382.7 224.7 382.3 223.5 381.8 223.8 381.3 225.8 380.8 228.3 380.4 229.5 379.9 229.6 379.4 229.6 378.9 229.6 378.5ZM243 378.5 243.1 378.9 243.4 379.4 244 379.9 244.8 380.4 245.8 380.8 246.9 381.3 247.9 381.8 248.6 382.3 249 382.7 249.1 383.2 249.1 383.7 248.8 384.2 248.2 384.6 247.5 385.1 246.9 385.6 246.5 386 246.1 386.5 245.8 387 245.5 387.5 245.2 387.9 244.7 388.4 244.1 388.9 243.5 389.4 243.1 389.8 243 390.3 243 390.8 242.7 390.8 242.7 390.3 242.6 389.8 242.2 389.4 241.6 388.9 241 388.4 240.5 387.9 240.2 387.5 239.9 387 239.6 386.5 239.2 386 238.8 385.6 238.2 385.1 237.5 384.6 236.9 384.2 236.6 383.7 236.6 383.2 236.7 382.7 237.1 382.3 237.8 381.8 238.8 381.3 239.9 380.8 240.9 380.4 241.7 379.9 242.3 379.4 242.6 378.9 242.7 378.5ZM256.1 378.5 256.2 378.9 256.5 379.4 257 379.9 257.8 380.4 258.8 380.8 259.9 381.3 260.9 381.8 261.7 382.3 262.1 382.7 262.2 383.2 262.1 383.7 261.8 384.2 261.3 384.6 260.6 385.1 260 385.6 259.5 386 259.2 386.5 258.8 387 258.5 387.5 258.2 387.9 257.7 388.4 257.1 388.9 256.5 389.4 256.2 389.8 256.1 390.3 256.1 390.8 255.7 390.8 255.7 390.3 255.6 389.8 255.3 389.4 254.7 388.9 254.1 388.4 253.6 387.9 253.3 387.5 253 387 252.6 386.5 252.3 386 251.8 385.6 251.2 385.1 250.5 384.6 250 384.2 249.7 383.7 249.6 383.2 249.7 382.7 250.1 382.3 250.9 381.8 251.9 381.3 253 380.8 254 380.4 254.8 379.9 255.3 379.4 255.6 378.9 255.7 378.5ZM269.1 377.8 269.1 378.3 269.1 378.8 269.1 379.4 269.1 379.9 269.1 380.4 269.1 380.9 269.1 381.5 269.1 382 269.1 382.5 269.1 383 269.1 383.6 269.1 384.1 269.1 384.6 269.1 385.1 269.1 385.7 269.1 386.2 269.1 386.7 269.1 387.3 269.1 387.8 269.1 388.3 269.1 388.8 269.1 389.4 269.5 389.9 271.7 390.4 272.2 390.9 270.3 391.5 267.6 391.5 265.7 390.9 266.2 390.4 268.4 389.9 268.8 389.4 268.8 388.8 268.8 388.3 268.8 387.8 268.8 387.3 268.8 386.7 268.8 386.2 268.8 385.7 268.8 385.1 268.8 384.6 268.8 384.1 268.8 383.6 268.8 383 268.8 382.5 268.8 382 268.8 381.5 268.8 380.9 268.8 380.4 268.8 379.9 268.8 379.4 268.8 378.8 268.8 378.3 268.8 377.8Z" fill="#a860b0" stroke="#444" stroke-width="0.38" stroke-linejoin="round"/><path d="M205.6 392.8 206.7 393.3 207.9 393.7 209 394.2 209.8 394.6 210.2 395.1 210.3 395.5 210.3 396 210.1 396.4 209.7 396.9 209.1 397.3 208.6 397.8 208.1 398.2 207.8 398.6 207.5 399.1 207.3 399.5 207.1 400 206.8 400.4 206.3 400.9 205.7 401.3 205 401.8 204.4 402.2 204 402.7 203.9 403.1 203.9 403.6 203.9 404 203.9 404.5 203.5 404.5 203.5 404 203.5 403.6 203.5 403.1 203.4 402.7 203 402.2 202.4 401.8 201.7 401.3 201.1 400.9 200.6 400.4 200.3 400 200.1 399.5 199.9 399.1 199.6 398.6 199.3 398.2 198.8 397.8 198.3 397.3 197.7 396.9 197.3 396.4 197.1 396 197.1 395.5 197.2 395.1 197.6 394.6 198.4 394.2 199.5 393.7 200.7 393.3 201.8 392.8ZM217.5 392.8 218.1 393.3 219.1 393.7 220.1 394.2 221.2 394.6 222.1 395.1 222.7 395.5 223 396 223 396.4 222.8 396.9 222.4 397.3 221.5 397.8 220.5 398.2 219.4 398.6 218.4 399.1 217.7 399.5 217.2 400 216.9 400.4 216.9 400.9 216.9 401.3 216.9 401.8 216.9 402.2 216.9 402.7 216.9 403.1 216.9 403.6 216.9 404 216.9 404.5 216.6 404.5 216.6 404 216.6 403.6 216.6 403.1 216.6 402.7 216.6 402.2 216.6 401.8 216.6 401.3 216.6 400.9 216.6 400.4 216.3 400 215.8 399.5 215.1 399.1 214.1 398.6 213 398.2 212 397.8 211.1 397.3 210.7 396.9 210.5 396.4 210.5 396 210.8 395.5 211.4 395.1 212.3 394.6 213.4 394.2 214.4 393.7 215.4 393.3 216 392.8ZM230.5 392.8 231.2 393.3 232.1 393.7 233.2 394.2 234.3 394.6 235.2 395.1 235.8 395.5 236 396 236.1 396.4 235.9 396.9 235.4 397.3 234.6 397.8 233.5 398.2 232.4 398.6 231.4 399.1 230.7 399.5 230.2 400 230 400.4 230 400.9 230 401.3 230 401.8 230 402.2 230 402.7 230 403.1 230 403.6 230 404 230 404.5 229.6 404.5 229.6 404 229.6 403.6 229.6 403.1 229.6 402.7 229.6 402.2 229.6 401.8 229.6 401.3 229.6 400.9 229.6 400.4 229.4 400 228.9 399.5 228.2 399.1 227.2 398.6 226.1 398.2 225 397.8 224.2 397.3 223.7 396.9 223.5 396.4 223.6 396 223.8 395.5 224.4 395.1 225.3 394.6 226.4 394.2 227.5 393.7 228.4 393.3 229.1 392.8ZM243.9 392.8 244.7 393.3 245.7 393.7 246.8 394.2 247.8 394.6 248.7 395.1 249.2 395.5 249.4 396 249.4 396.4 249.3 396.9 248.9 397.3 248.1 397.8 247.1 398.2 246 398.6 245 399.1 244.1 399.5 243.6 400 243.2 400.4 243 400.9 243 401.3 243 401.8 243 402.2 243 402.7 243 403.1 243 403.6 243 404 243 404.5 242.7 404.5 242.7 404 242.7 403.6 242.7 403.1 242.7 402.7 242.7 402.2 242.7 401.8 242.7 401.3 242.7 400.9 242.5 400.4 242.1 400 241.6 399.5 240.7 399.1 239.7 398.6 238.6 398.2 237.6 397.8 236.8 397.3 236.4 396.9 236.3 396.4 236.3 396 236.5 395.5 237 395.1 237.9 394.6 238.9 394.2 240 393.7 241 393.3 241.8 392.8ZM256.3 392.8 256.7 393.3 257.3 393.7 258.1 394.2 259.1 394.6 260.1 395.1 261 395.5 261.7 396 262.1 396.4 262.2 396.9 262.1 397.3 261.9 397.8 261.3 398.2 260.5 398.6 259.5 399.1 258.4 399.5 257.5 400 256.8 400.4 256.4 400.9 256.1 401.3 256.1 401.8 256.1 402.2 256.1 402.7 256.1 403.1 256.1 403.6 256.1 404 256.1 404.5 255.7 404.5 255.7 404 255.7 403.6 255.7 403.1 255.7 402.7 255.7 402.2 255.7 401.8 255.7 401.3 255.4 400.9 255 400.4 254.3 400 253.4 399.5 252.3 399.1 251.3 398.6 250.5 398.2 249.9 397.8 249.7 397.3 249.6 396.9 249.7 396.4 250.1 396 250.8 395.5 251.7 395.1 252.7 394.6 253.7 394.2 254.5 393.7 255.1 393.3 255.5 392.8ZM269.1 391.5 269.1 392 269.1 392.5 269.1 393 269.1 393.6 269.1 394.1 269.1 394.6 269.1 395.1 269.1 395.7 269.1 396.2 269.1 396.7 269.1 397.3 269.1 397.8 269.1 398.3 269.1 398.8 269.1 399.4 269.1 399.9 269.1 400.4 269.1 400.9 269.1 401.5 269.1 402 269.1 402.5 269.1 403 270.3 403.6 271.6 404.1 271 404.6 269.3 405.1 268.6 405.1 266.9 404.6 266.3 404.1 267.6 403.6 268.8 403 268.8 402.5 268.8 402 268.8 401.5 268.8 400.9 268.8 400.4 268.8 399.9 268.8 399.4 268.8 398.8 268.8 398.3 268.8 397.8 268.8 397.3 268.8 396.7 268.8 396.2 268.8 395.7 268.8 395.1 268.8 394.6 268.8 394.1 268.8 393.6 268.8 393 268.8 392.5 268.8 392 268.8 391.5Z" fill="#c058a8" stroke="#444" stroke-width="0.38" stroke-linejoin="round"/><path d="M203.9 409.2 203.9 409.6 203.9 410 203.9 410.3 204 410.7 204.3 411 204.9 411.4 205.6 411.7 206.6 412.1 207.6 412.4 208.5 412.8 209.3 413.1 209.8 413.5 210 413.8 210 414.2 209.8 414.5 209.4 414.9 208.7 415.2 207.7 415.6 206.7 415.9 205.8 416.3 205 416.6 204.4 417 204 417.4 203.9 417.7 203.9 418.1 203.9 418.4 203.5 418.4 203.5 418.1 203.5 417.7 203.4 417.4 203 417 202.4 416.6 201.6 416.3 200.7 415.9 199.7 415.6 198.7 415.2 198 414.9 197.6 414.5 197.4 414.2 197.4 413.8 197.6 413.5 198.1 413.1 198.9 412.8 199.8 412.4 200.8 412.1 201.8 411.7 202.5 411.4 203.1 411 203.4 410.7 203.5 410.3 203.5 410 203.5 409.6 203.5 409.2ZM217 409.2 217.3 409.6 217.8 410 218.6 410.3 219.5 410.7 220.5 411 221.5 411.4 222.3 411.7 222.8 412.1 223 412.4 223 412.8 222.9 413.1 222.5 413.5 221.8 413.8 220.9 414.2 219.9 414.5 218.9 414.9 218.1 415.2 217.5 415.6 217.1 415.9 216.9 416.3 216.9 416.6 216.9 417 216.9 417.4 216.9 417.7 216.9 418.1 216.9 418.4 216.6 418.4 216.6 418.1 216.6 417.7 216.6 417.4 216.6 417 216.6 416.6 216.6 416.3 216.4 415.9 216 415.6 215.4 415.2 214.6 414.9 213.6 414.5 212.6 414.2 211.7 413.8 211 413.5 210.6 413.1 210.5 412.8 210.5 412.4 210.7 412.1 211.2 411.7 212 411.4 213 411 214 410.7 214.9 410.3 215.7 410 216.2 409.6 216.5 409.2ZM230.1 408.6 230.4 408.9 231 409.3 231.8 409.7 232.8 410.1 233.9 410.5 234.9 410.8 235.6 411.2 236 411.6 236.1 412 236 412.3 235.6 412.7 235 413.1 234 413.5 232.9 413.9 231.9 414.2 231 414.6 230.4 415 230.1 415.4 230 415.8 230 416.1 230 416.5 230 416.9 230 417.3 230 417.7 230 418 230 418.4 229.6 418.4 229.6 418 229.6 417.7 229.6 417.3 229.6 416.9 229.6 416.5 229.6 416.1 229.6 415.8 229.5 415.4 229.2 415 228.6 414.6 227.7 414.2 226.7 413.9 225.6 413.5 224.6 413.1 224 412.7 223.6 412.3 223.5 412 223.6 411.6 224 411.2 224.7 410.8 225.7 410.5 226.8 410.1 227.8 409.7 228.6 409.3 229.2 408.9 229.5 408.6ZM243.1 408.6 243.5 408.9 244.1 409.3 245 409.7 246 410.1 247.2 410.5 248.2 410.8 249 411.2 249.4 411.6 249.4 412 249.4 412.3 249 412.7 248.3 413.1 247.3 413.5 246.1 413.9 245 414.2 244.1 414.6 243.5 415 243.2 415.4 243 415.8 243 416.1 243 416.5 243 416.9 243 417.3 243 417.7 243 418 243 418.4 242.7 418.4 242.7 418 242.7 417.7 242.7 417.3 242.7 416.9 242.7 416.5 242.7 416.1 242.7 415.8 242.5 415.4 242.2 415 241.6 414.6 240.7 414.2 239.6 413.9 238.4 413.5 237.4 413.1 236.7 412.7 236.3 412.3 236.3 412 236.3 411.6 236.7 411.2 237.5 410.8 238.5 410.5 239.7 410.1 240.7 409.7 241.6 409.3 242.2 408.9 242.6 408.6ZM256.1 407.9 256.1 408.3 256.1 408.7 256.1 409.1 256.1 409.5 256.1 409.9 256.4 410.3 256.9 410.7 257.6 411.1 258.3 411.5 258.9 411.9 259.2 412.3 259.2 412.7 259.1 413.1 258.7 413.5 258 414 257.3 414.4 256.7 414.8 256.2 415.2 256.1 415.6 256.1 416 256.1 416.4 256.1 416.8 256.1 417.2 256.1 417.6 256.1 418 256.1 418.4 255.7 418.4 255.7 418 255.7 417.6 255.7 417.2 255.7 416.8 255.7 416.4 255.7 416 255.7 415.6 255.6 415.2 255.1 414.8 254.5 414.4 253.8 414 253.1 413.5 252.7 413.1 252.6 412.7 252.6 412.3 252.9 411.9 253.5 411.5 254.2 411.1 254.9 410.7 255.4 410.3 255.7 409.9 255.7 409.5 255.7 409.1 255.7 408.7 255.7 408.3 255.7 407.9ZM269.1 405.1 269.1 405.7 269.1 406.2 269.1 406.7 269.1 407.2 269.1 407.8 269.1 408.3 269.1 408.8 269.1 409.4 269.1 409.9 269.1 410.4 269.1 410.9 269.1 411.5 269.1 412 269.1 412.5 269.1 413 269.1 413.6 269.1 414.1 269.1 414.6 269.1 415.1 269.1 415.7 269.1 416.2 269.1 416.7 269.1 417.2 270.8 417.8 271.5 418.3 269.4 418.8 268.5 418.8 266.4 418.3 267.1 417.8 268.8 417.2 268.8 416.7 268.8 416.2 268.8 415.7 268.8 415.1 268.8 414.6 268.8 414.1 268.8 413.6 268.8 413 268.8 412.5 268.8 412 268.8 411.5 268.8 410.9 268.8 410.4 268.8 409.9 268.8 409.4 268.8 408.8 268.8 408.3 268.8 407.8 268.8 407.2 268.8 406.7 268.8 406.2 268.8 405.7 268.8 405.1Z" fill="#d85898" stroke="#444" stroke-width="0.38" stroke-linejoin="round"/><path d="M203.9 419.5 203.9 420 204.4 420.5 205.4 420.9 207 421.4 208.5 421.9 209.6 422.3 210 422.8 209.9 423.3 209.1 423.8 207.7 424.2 206.1 424.7 204.8 425.2 204.1 425.7 203.9 426.1 203.9 426.6 203.9 427.1 203.9 427.6 203.9 428 203.9 428.5 203.9 429 203.9 429.4 203.9 429.9 203.9 430.4 203.9 430.9 203.9 431.3 203.9 431.8 203.5 431.8 203.5 431.3 203.5 430.9 203.5 430.4 203.5 429.9 203.5 429.4 203.5 429 203.5 428.5 203.5 428 203.5 427.6 203.5 427.1 203.5 426.6 203.5 426.1 203.3 425.7 202.6 425.2 201.3 424.7 199.7 424.2 198.3 423.8 197.5 423.3 197.4 422.8 197.8 422.3 198.9 421.9 200.4 421.4 202 420.9 203 420.5 203.5 420 203.5 419.5ZM216.9 420.2 216.9 420.6 216.9 421.1 216.9 421.6 217 422 217.4 422.5 218.4 422.9 219.8 423.4 221.4 423.9 222.5 424.3 223 424.8 223 425.2 222.4 425.7 221.2 426.1 219.7 426.6 218.3 427.1 217.4 427.5 216.9 428 216.9 428.4 216.9 428.9 216.9 429.3 216.9 429.8 216.9 430.3 216.9 430.7 216.9 431.2 216.9 431.6 216.9 432.1 216.6 432.1 216.6 431.6 216.6 431.2 216.6 430.7 216.6 430.3 216.6 429.8 216.6 429.3 216.6 428.9 216.6 428.4 216.6 428 216.1 427.5 215.2 427.1 213.8 426.6 212.3 426.1 211.1 425.7 210.5 425.2 210.5 424.8 211 424.3 212.1 423.9 213.7 423.4 215.1 422.9 216.1 422.5 216.5 422 216.6 421.6 216.6 421.1 216.6 420.6 216.6 420.2ZM230 421.6 230 422 230 422.4 230 422.8 230 423.2 230 423.6 230 424 230.3 424.4 231 424.8 232.2 425.3 233.6 425.7 234.9 426.1 235.8 426.5 236.1 426.9 236 427.3 235.5 427.7 234.5 428.1 233.1 428.5 231.8 428.9 230.8 429.4 230.2 429.8 230 430.2 230 430.6 230 431 230 431.4 230 431.8 230 432.2 229.6 432.2 229.6 431.8 229.6 431.4 229.6 431 229.6 430.6 229.6 430.2 229.4 429.8 228.8 429.4 227.8 428.9 226.5 428.5 225.1 428.1 224.1 427.7 223.6 427.3 223.5 426.9 223.8 426.5 224.7 426.1 226 425.7 227.4 425.3 228.6 424.8 229.3 424.4 229.6 424 229.6 423.6 229.6 423.2 229.6 422.8 229.6 422.4 229.6 422 229.6 421.6ZM243 422.9 243 423.3 243 423.7 243 424 243 424.4 243 424.7 243 425.1 243 425.5 243 425.8 243.1 426.2 243.5 426.6 244.2 426.9 245.3 427.3 246.6 427.6 247.9 428 248.8 428.4 249.3 428.7 249.4 429.1 249.3 429.5 248.8 429.8 247.8 430.2 246.5 430.5 245.2 430.9 244.1 431.3 243.5 431.6 243.1 432 243 432.4 242.7 432.4 242.6 432 242.2 431.6 241.6 431.3 240.5 430.9 239.2 430.5 237.9 430.2 236.9 429.8 236.4 429.5 236.3 429.1 236.4 428.7 236.9 428.4 237.8 428 239.1 427.6 240.4 427.3 241.5 426.9 242.2 426.6 242.6 426.2 242.7 425.8 242.7 425.5 242.7 425.1 242.7 424.7 242.7 424.4 242.7 424 242.7 423.7 242.7 423.3 242.7 422.9ZM256.1 424.3 256.1 424.6 256.1 424.9 256.1 425.2 256.1 425.5 256.1 425.8 256.1 426.2 256.1 426.5 256.1 426.8 256.1 427.1 256.1 427.4 256.1 427.7 256.1 428 256.3 428.3 256.8 428.6 257.7 428.9 258.8 429.3 259.9 429.6 260.7 429.9 261.1 430.2 261.2 430.5 261 430.8 260.5 431.1 259.5 431.4 258.4 431.7 257.3 432.1 256.6 432.4 255.2 432.4 254.5 432.1 253.4 431.7 252.3 431.4 251.3 431.1 250.8 430.8 250.6 430.5 250.7 430.2 251.1 429.9 251.9 429.6 253 429.3 254.1 428.9 255 428.6 255.5 428.3 255.7 428 255.7 427.7 255.7 427.4 255.7 427.1 255.7 426.8 255.7 426.5 255.7 426.2 255.7 425.8 255.7 425.5 255.7 425.2 255.7 424.9 255.7 424.6 255.7 424.3ZM269.1 421.6 269.1 422 269.1 422.4 269.1 422.8 269.1 423.2 269.1 423.7 269.1 424.1 269.1 424.5 269.1 424.9 269.1 425.3 269.1 425.8 269.1 426.2 269.1 426.6 269.1 427 269.1 427.4 269.1 427.9 269.1 428.3 269.1 428.7 269.1 429.1 269.1 429.6 269.1 430 269.1 430.4 269.3 430.8 270.8 431.2 272.2 431.7 272 432.1 270.3 432.5 267.6 432.5 265.9 432.1 265.7 431.7 267.1 431.2 268.6 430.8 268.8 430.4 268.8 430 268.8 429.6 268.8 429.1 268.8 428.7 268.8 428.3 268.8 427.9 268.8 427.4 268.8 427 268.8 426.6 268.8 426.2 268.8 425.8 268.8 425.3 268.8 424.9 268.8 424.5 268.8 424.1 268.8 423.7 268.8 423.2 268.8 422.8 268.8 422.4 268.8 422 268.8 421.6ZM282.2 425.7 282.2 425.9 282.2 426.2 282.2 426.4 282.2 426.7 282.2 427 282.2 427.2 282.2 427.5 282.2 427.8 282.2 428 282.2 428.3 282.2 428.6 282.2 428.8 282.2 429.1 282.2 429.3 282.2 429.6 282.2 429.9 282.2 430.1 282.2 430.4 282.2 430.7 282.5 430.9 283.3 431.2 284.2 431.4 284.6 431.7 284.6 432 284 432.2 283.1 432.5 280.9 432.5 280 432.2 279.4 432 279.4 431.7 279.8 431.4 280.7 431.2 281.5 430.9 281.8 430.7 281.8 430.4 281.8 430.1 281.8 429.9 281.8 429.6 281.8 429.3 281.8 429.1 281.8 428.8 281.8 428.6 281.8 428.3 281.8 428 281.8 427.8 281.8 427.5 281.8 427.2 281.8 427 281.8 426.7 281.8 426.4 281.8 426.2 281.8 425.9 281.8 425.7Z" fill="#e05888" stroke="#444" stroke-width="0.38" stroke-linejoin="round"/><path d="M196.6 172.6H289.8V432.5H196.6Z" fill="none" stroke="#333" stroke-width="0.9"/><text x="190.2" y="177.4" font-size="4.7" fill="#3a3a3a" text-anchor="end" stroke="#3a3a3a" stroke-width="0.18">6</text><text x="190.2" y="191.08" font-size="4.7" fill="#3a3a3a" text-anchor="end" stroke="#3a3a3a" stroke-width="0.18">6</text><text x="190.2" y="204.76" font-size="4.7" fill="#3a3a3a" text-anchor="end" stroke="#3a3a3a" stroke-width="0.18">6</text><text x="190.2" y="218.44" font-size="4.7" fill="#3a3a3a" text-anchor="end" stroke="#3a3a3a" stroke-width="0.18">6</text><text x="190.2" y="232.12" font-size="4.7" fill="#3a3a3a" text-anchor="end" stroke="#3a3a3a" stroke-width="0.18">3</text><text x="190.2" y="245.79" font-size="4.7" fill="#3a3a3a" text-anchor="end" stroke="#3a3a3a" stroke-width="0.18">3</text><text x="190.2" y="259.47" font-size="4.7" fill="#3a3a3a" text-anchor="end" stroke="#3a3a3a" stroke-width="0.18">3</text><text x="190.2" y="273.15" font-size="4.7" fill="#3a3a3a" text-anchor="end" stroke="#3a3a3a" stroke-width="0.18">2</text><text x="190.2" y="286.83" font-size="4.7" fill="#3a3a3a" text-anchor="end" stroke="#3a3a3a" stroke-width="0.18">3</text><text x="190.2" y="300.51" font-size="4.7" fill="#3a3a3a" text-anchor="end" stroke="#3a3a3a" stroke-width="0.18">3</text><text x="190.2" y="314.19" font-size="4.7" fill="#3a3a3a" text-anchor="end" stroke="#3a3a3a" stroke-width="0.18">2</text><text x="190.2" y="327.87" font-size="4.7" fill="#3a3a3a" text-anchor="end" stroke="#3a3a3a" stroke-width="0.18">2</text><text x="190.2" y="341.55" font-size="4.7" fill="#3a3a3a" text-anchor="end" stroke="#3a3a3a" stroke-width="0.18">2</text><text x="190.2" y="355.23" font-size="4.7" fill="#3a3a3a" text-anchor="end" stroke="#3a3a3a" stroke-width="0.18">3</text><text x="190.2" y="368.91" font-size="4.7" fill="#3a3a3a" text-anchor="end" stroke="#3a3a3a" stroke-width="0.18">4</text><text x="190.2" y="382.58" font-size="4.7" fill="#3a3a3a" text-anchor="end" stroke="#3a3a3a" stroke-width="0.18">3</text><text x="190.2" y="396.26" font-size="4.7" fill="#3a3a3a" text-anchor="end" stroke="#3a3a3a" stroke-width="0.18">3</text><text x="190.2" y="409.94" font-size="4.7" fill="#3a3a3a" text-anchor="end" stroke="#3a3a3a" stroke-width="0.18">3</text><text x="190.2" y="423.62" font-size="4.7" fill="#3a3a3a" text-anchor="end" stroke="#3a3a3a" stroke-width="0.18">4000</text><path d="M193.4 186.28H196.6M193.4 182.79H196.6M193.4 179.29H196.6M193.4 175.8H196.6M193.4 199.96H196.6M193.4 196.46H196.6M193.4 192.97H196.6M193.4 189.48H196.6M193.4 213.64H196.6M193.4 210.14H196.6M193.4 206.65H196.6M193.4 203.16H196.6M193.4 227.32H196.6M193.4 223.82H196.6M193.4 220.33H196.6M193.4 216.84H196.6M193.4 240.99H196.6M193.4 237.5H196.6M193.4 234.01H196.6M193.4 230.52H196.6M193.4 254.67H196.6M193.4 251.18H196.6M193.4 247.69H196.6M193.4 244.19H196.6M193.4 268.35H196.6M193.4 264.86H196.6M193.4 261.37H196.6M193.4 257.87H196.6M193.4 282.03H196.6M193.4 276.79H196.6M193.4 271.55H196.6M193.4 295.71H196.6M193.4 292.22H196.6M193.4 288.72H196.6M193.4 285.23H196.6M193.4 309.39H196.6M193.4 305.9H196.6M193.4 302.4H196.6M193.4 298.91H196.6M193.4 323.07H196.6M193.4 317.83H196.6M193.4 312.59H196.6M193.4 336.75H196.6M193.4 331.51H196.6M193.4 326.27H196.6M193.4 350.43H196.6M193.4 345.19H196.6M193.4 339.95H196.6M193.4 364.11H196.6M193.4 360.61H196.6M193.4 357.12H196.6M193.4 353.63H196.6M193.4 377.78H196.6M193.4 375.16H196.6M193.4 372.54H196.6M193.4 369.92H196.6M193.4 367.31H196.6M193.4 391.46H196.6M193.4 387.97H196.6M193.4 384.48H196.6M193.4 380.98H196.6M193.4 405.14H196.6M193.4 401.65H196.6M193.4 398.16H196.6M193.4 394.66H196.6M193.4 418.82H196.6M193.4 415.33H196.6M193.4 411.84H196.6M193.4 408.34H196.6M193.4 427.26H196.6M193.4 422.02H196.6" stroke="#222" stroke-width="0.75" fill="none"/><path d="M203.7 432.5V434.5M216.75 432.5V434.5M229.8 432.5V434.5M242.85 432.5V434.5M255.9 432.5V434.5M268.95 432.5V434.5M282 432.5V434.5" stroke="#333" stroke-width="0.6" fill="none"/><text x="292.6" y="180.54" font-size="5.3" fill="#e0303e" stroke="#e0303e" stroke-width="0.18">Hba-a1</text><text x="292.6" y="194.22" font-size="5.3" fill="#e0303e" stroke="#e0303e" stroke-width="0.18">Hba-a2</text><text x="292.6" y="207.9" font-size="5.3" fill="#e0303e" stroke="#e0303e" stroke-width="0.18">Hbb-bt</text><text x="292.6" y="221.58" font-size="5.3" fill="#e0303e" stroke="#e0303e" stroke-width="0.18">Hbb-bs</text><text x="292.6" y="235.26" font-size="5.3" fill="#e0303e" stroke="#e0303e" stroke-width="0.18">Tfrc</text><text x="292.6" y="248.93" font-size="5.3" fill="#2e9e44" stroke="#2e9e44" stroke-width="0.18">Klf1</text><text x="292.6" y="262.61" font-size="5.3" fill="#2e9e44" stroke="#2e9e44" stroke-width="0.18">Tal1</text><text x="292.6" y="276.29" font-size="5.3" fill="#2e9e44" stroke="#2e9e44" stroke-width="0.18">Gata1</text><text x="292.6" y="289.97" font-size="5.3" fill="#2e9e44" stroke="#2e9e44" stroke-width="0.18">Bcl11a</text><text x="292.6" y="303.65" font-size="5.3" fill="#2e9e44" stroke="#2e9e44" stroke-width="0.18">Runx1</text><text x="292.6" y="317.33" font-size="5.3" fill="#2e9e44" stroke="#2e9e44" stroke-width="0.18">Myb</text><text x="292.6" y="331.01" font-size="5.3" fill="#2e9e44" stroke="#2e9e44" stroke-width="0.18">Kit</text><text x="292.6" y="344.69" font-size="5.3" fill="#2e9e44" stroke="#2e9e44" stroke-width="0.18">Nfe2</text><text x="292.6" y="358.37" font-size="5.3" fill="#2e9e44" stroke="#2e9e44" stroke-width="0.18">Foxo3</text><text x="292.6" y="372.04" font-size="5.3" fill="#34344e" stroke="#34344e" stroke-width="0.18">Hist1h1b</text><text x="292.6" y="385.72" font-size="5.3" fill="#34344e" stroke="#34344e" stroke-width="0.18">Hmgb1</text><text x="292.6" y="399.4" font-size="5.3" fill="#34344e" stroke="#34344e" stroke-width="0.18">Top2a</text><text x="292.6" y="413.08" font-size="5.3" fill="#34344e" stroke="#34344e" stroke-width="0.18">Lmna</text><text x="292.6" y="426.76" font-size="5.3" fill="#c2185b" stroke="#c2185b" stroke-width="0.18">nFeature_RNA</text><path d="M366 184.5H458.5M366 196.3H458.5M366 208.1H458.5M366 219.9H458.5M366 231.7H458.5M366 243.5H458.5M366 255.3H458.5M366 267.1H458.5M366 278.9H458.5M366 290.7H458.5M366 302.5H458.5M366 314.3H458.5M366 326.1H458.5M366 337.9H458.5M366 349.7H458.5M366 361.5H458.5M366 373.3H458.5M366 385.1H458.5M366 396.9H458.5M366 408.7H458.5M366 420.5H458.5" stroke="#505050" stroke-width="0.85" fill="none"/><path d="M445.7 172.7V184.5M445.7 290.7V302.5M381.5 303.68V314.3M402.9 303.68V314.3M424.3 303.68V314.3M445.7 306.04V314.3M381.5 315.48V326.1M402.9 315.48V326.1M424.3 315.48V326.1M445.7 320.2V326.1M381.5 326.1V337.9M402.9 326.1V337.9M424.3 326.1V337.9M445.7 329.64V337.9M381.5 337.9V349.7M402.9 337.9V349.7M424.3 337.9V349.7M445.7 340.26V349.7M402.9 376.84V385.1M424.3 376.84V385.1M445.7 376.84V385.1M424.3 388.64V396.9M402.9 399.26V408.7M424.3 400.44V408.7M445.7 400.44V408.7M402.9 411.06V420.5M424.3 412.24V420.5M445.7 412.24V420.5" stroke="#7a7a7a" stroke-width="0.7" fill="none"/><path d="M381.7 172.7 381.7 173.2 381.7 173.6 381.7 174.1 381.7 174.5 381.7 175 381.7 175.4 381.9 175.9 382.2 176.3 382.6 176.8 383.1 177.2 383.6 177.7 384 178.1 384.4 178.6 384.7 179.1 385.1 179.5 385.5 180 385.9 180.4 386.3 180.9 386.6 181.3 386.7 181.8 386.7 182.2 386.5 182.7 386.1 183.1 385.6 183.6 385 184 384.4 184.5 378.6 184.5 378 184 377.4 183.6 376.9 183.1 376.5 182.7 376.3 182.2 376.3 181.8 376.4 181.3 376.7 180.9 377.1 180.4 377.5 180 377.9 179.5 378.3 179.1 378.6 178.6 379 178.1 379.4 177.7 379.9 177.2 380.4 176.8 380.8 176.3 381.1 175.9 381.3 175.4 381.3 175 381.3 174.5 381.3 174.1 381.3 173.6 381.3 173.2 381.3 172.7ZM403.1 172.7 403.1 173.2 403.1 173.6 403.1 174.1 403.1 174.5 403.1 175 403.1 175.4 403.1 175.9 403.1 176.3 403.1 176.8 403.1 177.2 403.1 177.7 403.3 178.1 403.5 178.6 403.9 179.1 404.3 179.5 404.8 180 405.2 180.4 405.5 180.9 405.5 181.3 405.3 181.8 405 182.2 404.5 182.7 404.1 183.1 403.7 183.6 403.4 184 403.2 184.5 402.6 184.5 402.4 184 402.1 183.6 401.7 183.1 401.3 182.7 400.8 182.2 400.5 181.8 400.3 181.3 400.3 180.9 400.6 180.4 401 180 401.5 179.5 401.9 179.1 402.3 178.6 402.5 178.1 402.7 177.7 402.7 177.2 402.7 176.8 402.7 176.3 402.7 175.9 402.7 175.4 402.7 175 402.7 174.5 402.7 174.1 402.7 173.6 402.7 173.2 402.7 172.7ZM424.5 172.7 424.5 173.2 424.5 173.6 424.5 174.1 424.5 174.5 424.5 175 424.5 175.4 424.5 175.9 424.5 176.3 424.5 176.8 424.5 177.2 424.5 177.7 424.5 178.1 424.5 178.6 424.7 179.1 425 179.5 425.4 180 425.8 180.4 426.2 180.9 426.4 181.3 426.3 181.8 426 182.2 425.6 182.7 425.2 183.1 424.8 183.6 424.6 184 424.5 184.5 424.1 184.5 424 184 423.8 183.6 423.4 183.1 423 182.7 422.6 182.2 422.3 181.8 422.2 181.3 422.4 180.9 422.8 180.4 423.2 180 423.6 179.5 423.9 179.1 424.1 178.6 424.1 178.1 424.1 177.7 424.1 177.2 424.1 176.8 424.1 176.3 424.1 175.9 424.1 175.4 424.1 175 424.1 174.5 424.1 174.1 424.1 173.6 424.1 173.2 424.1 172.7Z" fill="#e87060" stroke="#444" stroke-width="0.38" stroke-linejoin="round"/><path d="M381.7 182.7 382 183.2 382.6 183.6 383.7 184.1 385.3 184.5 387.5 185 389.7 185.5 391.5 185.9 392.4 186.4 392.2 186.8 391.2 187.3 389.8 187.7 388.5 188.2 387.6 188.6 387 189.1 386.5 189.5 385.8 190 385 190.4 384.1 190.9 383.3 191.4 382.6 191.8 382.1 192.3 381.8 192.7 381.7 193.2 381.7 193.6 381.7 194.1 381.7 194.5 381.3 194.5 381.3 194.1 381.3 193.6 381.3 193.2 381.2 192.7 380.9 192.3 380.4 191.8 379.7 191.4 378.9 190.9 378 190.4 377.2 190 376.5 189.5 376 189.1 375.4 188.6 374.5 188.2 373.2 187.7 371.8 187.3 370.8 186.8 370.6 186.4 371.5 185.9 373.3 185.5 375.5 185 377.7 184.5 379.3 184.1 380.4 183.6 381 183.2 381.3 182.7ZM403.1 182.7 403.1 183.1 403.1 183.4 403.3 183.8 403.8 184.1 404.6 184.4 405.8 184.8 407.4 185.1 409.2 185.5 410.8 185.8 411.9 186.1 412.1 186.5 411.4 186.8 410 187.2 408.3 187.5 406.5 187.8 405.1 188.2 404.1 188.5 403.5 188.9 403.2 189.2 403.1 189.5 403.1 189.9 403.1 190.2 403.1 190.6 403.1 190.9 403.1 191.2 403.1 191.6 402.7 191.6 402.7 191.2 402.7 190.9 402.7 190.6 402.7 190.2 402.7 189.9 402.7 189.5 402.6 189.2 402.3 188.9 401.7 188.5 400.7 188.2 399.3 187.8 397.5 187.5 395.8 187.2 394.4 186.8 393.7 186.5 393.9 186.1 395 185.8 396.6 185.5 398.4 185.1 400 184.8 401.2 184.4 402 184.1 402.5 183.8 402.7 183.4 402.7 183.1 402.7 182.7ZM424.5 182.7 424.5 183.1 424.5 183.4 424.7 183.8 425.2 184.1 426 184.4 427.1 184.8 428.7 185.1 430.4 185.5 432 185.8 433.1 186.1 433.3 186.5 432.6 186.8 431.3 187.2 429.5 187.5 427.9 187.8 426.5 188.2 425.5 188.5 424.9 188.9 424.6 189.2 424.5 189.5 424.5 189.9 424.5 190.2 424.5 190.6 424.5 190.9 424.5 191.2 424.5 191.6 424.1 191.6 424.1 191.2 424.1 190.9 424.1 190.6 424.1 190.2 424.1 189.9 424.1 189.5 424 189.2 423.7 188.9 423.1 188.5 422.1 188.2 420.7 187.8 419.1 187.5 417.3 187.2 416 186.8 415.3 186.5 415.5 186.1 416.6 185.8 418.2 185.5 419.9 185.1 421.5 184.8 422.6 184.4 423.4 184.1 423.9 183.8 424.1 183.4 424.1 183.1 424.1 182.7ZM445.9 182.7 445.9 183.1 446 183.4 446.5 183.8 447.2 184.1 448.3 184.4 449.9 184.8 451.7 185.1 453.5 185.5 454.8 185.8 455.4 186.1 454.9 186.5 453.7 186.8 451.9 187.2 450 187.5 448.4 187.8 447.3 188.2 446.5 188.5 446.1 188.9 445.9 189.2 445.9 189.5 445.9 189.9 445.9 190.2 445.9 190.6 445.9 190.9 445.9 191.2 445.9 191.6 445.5 191.6 445.5 191.2 445.5 190.9 445.5 190.6 445.5 190.2 445.5 189.9 445.5 189.5 445.5 189.2 445.3 188.9 444.9 188.5 444.1 188.2 443 187.8 441.4 187.5 439.5 187.2 437.7 186.8 436.5 186.5 436 186.1 436.6 185.8 437.9 185.5 439.7 185.1 441.5 184.8 443.1 184.4 444.2 184.1 444.9 183.8 445.4 183.4 445.5 183.1 445.5 182.7Z" fill="#f08030" stroke="#444" stroke-width="0.38" stroke-linejoin="round"/><path d="M383 196.7 383.3 197.1 383.6 197.5 383.8 198 384.1 198.4 384.3 198.9 384.6 199.3 384.8 199.7 384.9 200.2 385 200.6 385.1 201.1 385.1 201.5 385 201.9 384.9 202.4 384.7 202.8 384.5 203.3 384.3 203.7 384.1 204.1 383.8 204.6 383.5 205 383.3 205.5 383.1 205.9 383.6 206.3 386.2 206.8 390.5 207.2 391.3 207.7 387.1 208.1 375.9 208.1 371.7 207.7 372.5 207.2 376.8 206.8 379.4 206.3 379.9 205.9 379.7 205.5 379.5 205 379.2 204.6 378.9 204.1 378.7 203.7 378.5 203.3 378.3 202.8 378.1 202.4 378 201.9 377.9 201.5 377.9 201.1 378 200.6 378.1 200.2 378.2 199.7 378.4 199.3 378.7 198.9 378.9 198.4 379.2 198 379.4 197.5 379.7 197.1 380 196.7ZM403.1 196.3 403.1 196.8 403.1 197.2 403.1 197.7 403.1 198.1 403.2 198.6 403.2 199 403.3 199.5 403.4 199.9 403.5 200.4 403.6 200.8 403.7 201.3 403.7 201.7 403.7 202.2 403.7 202.7 403.7 203.1 403.6 203.6 403.5 204 403.4 204.5 403.3 204.9 403.2 205.4 403.2 205.8 403.7 206.3 406 206.7 410 207.2 411.1 207.6 407.5 208.1 398.3 208.1 394.7 207.6 395.8 207.2 399.8 206.7 402.1 206.3 402.6 205.8 402.6 205.4 402.5 204.9 402.4 204.5 402.3 204 402.2 203.6 402.1 203.1 402.1 202.7 402.1 202.2 402.1 201.7 402.1 201.3 402.2 200.8 402.3 200.4 402.4 199.9 402.5 199.5 402.6 199 402.6 198.6 402.7 198.1 402.7 197.7 402.7 197.2 402.7 196.8 402.7 196.3ZM425 196.9 425.1 197.3 425.3 197.8 425.4 198.2 425.6 198.6 425.7 199 425.9 199.5 426 199.9 426.1 200.3 426.2 200.8 426.3 201.2 426.4 201.6 426.4 202.1 426.4 202.5 426.4 202.9 426.3 203.4 426.2 203.8 426.1 204.2 426 204.7 425.8 205.1 425.7 205.5 425.6 205.9 426.2 206.4 428.7 206.8 432.4 207.2 433 207.7 429.4 208.1 419.2 208.1 415.6 207.7 416.2 207.2 419.9 206.8 422.4 206.4 423 205.9 422.9 205.5 422.8 205.1 422.6 204.7 422.5 204.2 422.4 203.8 422.3 203.4 422.2 202.9 422.2 202.5 422.2 202.1 422.2 201.6 422.3 201.2 422.4 200.8 422.5 200.3 422.6 199.9 422.7 199.5 422.9 199 423 198.6 423.2 198.2 423.3 197.8 423.5 197.3 423.6 196.9ZM446.6 196.9 446.8 197.3 446.9 197.8 447.1 198.2 447.3 198.6 447.5 199 447.7 199.5 447.9 199.9 448.1 200.3 448.2 200.8 448.3 201.2 448.4 201.6 448.4 202.1 448.4 202.5 448.4 202.9 448.3 203.4 448.2 203.8 448 204.2 447.8 204.7 447.7 205.1 447.5 205.5 447.4 205.9 448 206.4 450.6 206.8 454.5 207.2 455.1 207.7 451.2 208.1 440.2 208.1 436.3 207.7 436.9 207.2 440.8 206.8 443.4 206.4 444 205.9 443.9 205.5 443.7 205.1 443.6 204.7 443.4 204.2 443.2 203.8 443.1 203.4 443 202.9 443 202.5 443 202.1 443 201.6 443.1 201.2 443.2 200.8 443.3 200.3 443.5 199.9 443.7 199.5 443.9 199 444.1 198.6 444.3 198.2 444.5 197.8 444.6 197.3 444.8 196.9Z" fill="#e89020" stroke="#444" stroke-width="0.38" stroke-linejoin="round"/><path d="M384.1 207.5 386.4 207.9 389.1 208.4 391 208.8 391.3 209.2 389.8 209.7 387.5 210.1 385.4 210.5 384 211 383.4 211.4 383.1 211.8 382.9 212.3 382.6 212.7 382.4 213.1 382.1 213.5 381.9 214 381.7 214.4 381.7 214.8 381.7 215.3 381.7 215.7 381.7 216.1 381.7 216.6 381.7 217 381.7 217.4 381.7 217.9 381.7 218.3 381.7 218.7 381.3 218.7 381.3 218.3 381.3 217.9 381.3 217.4 381.3 217 381.3 216.6 381.3 216.1 381.3 215.7 381.3 215.3 381.3 214.8 381.3 214.4 381.1 214 380.9 213.5 380.6 213.1 380.4 212.7 380.1 212.3 379.9 211.8 379.6 211.4 379 211 377.6 210.5 375.5 210.1 373.2 209.7 371.7 209.2 372 208.8 373.9 208.4 376.6 207.9 378.9 207.5ZM404.4 207.5 405.6 207.8 407.3 208.1 409.1 208.4 410.6 208.7 411.3 209 411 209.3 409.7 209.6 408 209.9 406.2 210.2 404.8 210.5 403.9 210.8 403.3 211 403.1 211.3 403.1 211.6 403.1 211.9 403.1 212.2 403.1 212.5 403.1 212.8 403.1 213.1 403.1 213.4 403.1 213.7 403.1 214 403.1 214.3 403.1 214.6 403.1 214.9 403.1 215.2 402.7 215.2 402.7 214.9 402.7 214.6 402.7 214.3 402.7 214 402.7 213.7 402.7 213.4 402.7 213.1 402.7 212.8 402.7 212.5 402.7 212.2 402.7 211.9 402.7 211.6 402.7 211.3 402.5 211 401.9 210.8 401 210.5 399.6 210.2 397.8 209.9 396.1 209.6 394.8 209.3 394.5 209 395.2 208.7 396.7 208.4 398.5 208.1 400.2 207.8 401.4 207.5ZM425.8 207.5 427 207.8 428.7 208.1 430.5 208.4 432 208.7 432.7 209 432.4 209.3 431.1 209.6 429.4 209.9 427.6 210.2 426.2 210.5 425.3 210.8 424.7 211 424.5 211.3 424.5 211.6 424.5 211.9 424.5 212.2 424.5 212.5 424.5 212.8 424.5 213.1 424.5 213.4 424.5 213.7 424.5 214 424.5 214.3 424.5 214.6 424.5 214.9 424.5 215.2 424.1 215.2 424.1 214.9 424.1 214.6 424.1 214.3 424.1 214 424.1 213.7 424.1 213.4 424.1 213.1 424.1 212.8 424.1 212.5 424.1 212.2 424.1 211.9 424.1 211.6 424.1 211.3 423.9 211 423.3 210.8 422.4 210.5 421 210.2 419.2 209.9 417.5 209.6 416.2 209.3 415.9 209 416.6 208.7 418.1 208.4 419.9 208.1 421.6 207.8 422.8 207.5ZM447.3 207.5 448.6 207.8 450.3 208.1 452.3 208.4 453.8 208.7 454.6 209 454.3 209.3 453 209.6 451.1 209.9 449.3 210.2 447.8 210.5 446.7 210.8 446.2 211 445.9 211.3 445.9 211.6 445.9 211.9 445.9 212.2 445.9 212.5 445.9 212.8 445.9 213.1 445.9 213.4 445.9 213.7 445.9 214 445.9 214.3 445.9 214.6 445.9 214.9 445.9 215.2 445.5 215.2 445.5 214.9 445.5 214.6 445.5 214.3 445.5 214 445.5 213.7 445.5 213.4 445.5 213.1 445.5 212.8 445.5 212.5 445.5 212.2 445.5 211.9 445.5 211.6 445.5 211.3 445.2 211 444.7 210.8 443.6 210.5 442.1 210.2 440.3 209.9 438.4 209.6 437.1 209.3 436.8 209 437.6 208.7 439.1 208.4 441.1 208.1 442.8 207.8 444.1 207.5Z" fill="#c8a020" stroke="#444" stroke-width="0.38" stroke-linejoin="round"/><path d="M383.1 219.9 384.8 220.3 387.2 220.7 389.6 221.1 391 221.5 390.8 221.9 389.3 222.4 387.3 222.8 385.5 223.2 384.6 223.6 384.1 224 384 224.4 383.7 224.8 383.3 225.2 382.8 225.6 382.4 226 382 226.4 381.8 226.8 381.7 227.3 381.7 227.7 381.7 228.1 381.7 228.5 381.7 228.9 381.7 229.3 381.7 229.7 381.7 230.1 381.7 230.5 381.3 230.5 381.3 230.1 381.3 229.7 381.3 229.3 381.3 228.9 381.3 228.5 381.3 228.1 381.3 227.7 381.3 227.3 381.2 226.8 381 226.4 380.6 226 380.2 225.6 379.7 225.2 379.3 224.8 379 224.4 378.9 224 378.4 223.6 377.5 223.2 375.7 222.8 373.7 222.4 372.2 221.9 372 221.5 373.4 221.1 375.8 220.7 378.2 220.3 379.9 219.9ZM403.7 219.9 404.5 220.2 405.8 220.5 407.5 220.9 409.2 221.2 410.3 221.5 410.4 221.8 409.4 222.1 407.8 222.4 406.1 222.8 404.7 223.1 403.8 223.4 403.3 223.7 403.1 224 403.1 224.3 403.1 224.7 403.1 225 403.1 225.3 403.1 225.6 403.1 225.9 403.1 226.3 403.1 226.6 403.1 226.9 403.1 227.2 403.1 227.5 403.1 227.8 403.1 228.2 402.7 228.2 402.7 227.8 402.7 227.5 402.7 227.2 402.7 226.9 402.7 226.6 402.7 226.3 402.7 225.9 402.7 225.6 402.7 225.3 402.7 225 402.7 224.7 402.7 224.3 402.7 224 402.5 223.7 402 223.4 401.1 223.1 399.7 222.8 398 222.4 396.4 222.1 395.4 221.8 395.5 221.5 396.6 221.2 398.3 220.9 400 220.5 401.3 220.2 402.1 219.9ZM424.5 219.9 424.9 220.2 425.6 220.5 426.7 220.9 428 221.2 428.9 221.5 428.9 221.8 428.1 222.1 426.9 222.4 425.7 222.8 425 223.1 424.5 223.4 424.5 223.7 424.5 224 424.5 224.3 424.5 224.7 424.5 225 424.5 225.3 424.5 225.6 424.5 225.9 424.5 226.3 424.5 226.6 424.5 226.9 424.5 227.2 424.5 227.5 424.5 227.8 424.5 228.2 424.1 228.2 424.1 227.8 424.1 227.5 424.1 227.2 424.1 226.9 424.1 226.6 424.1 226.3 424.1 225.9 424.1 225.6 424.1 225.3 424.1 225 424.1 224.7 424.1 224.3 424.1 224 424.1 223.7 424.1 223.4 423.6 223.1 422.9 222.8 421.7 222.4 420.5 222.1 419.7 221.8 419.7 221.5 420.6 221.2 421.9 220.9 423 220.5 423.7 220.2 424.1 219.9ZM446.5 219.9 447.3 220.2 448.6 220.5 450.3 220.9 452 221.2 453.1 221.5 453.2 221.8 452.2 222.1 450.6 222.4 448.9 222.8 447.5 223.1 446.6 223.4 446.1 223.7 445.9 224 445.9 224.3 445.9 224.7 445.9 225 445.9 225.3 445.9 225.6 445.9 225.9 445.9 226.3 445.9 226.6 445.9 226.9 445.9 227.2 445.9 227.5 445.9 227.8 445.9 228.2 445.5 228.2 445.5 227.8 445.5 227.5 445.5 227.2 445.5 226.9 445.5 226.6 445.5 226.3 445.5 225.9 445.5 225.6 445.5 225.3 445.5 225 445.5 224.7 445.5 224.3 445.5 224 445.3 223.7 444.8 223.4 443.9 223.1 442.5 222.8 440.8 222.4 439.2 222.1 438.2 221.8 438.3 221.5 439.4 221.2 441.1 220.9 442.8 220.5 444.1 220.2 444.9 219.9Z" fill="#b0b020" stroke="#444" stroke-width="0.38" stroke-linejoin="round"/><path d="M384.2 231.7 386.4 232.1 389 232.6 391.4 233 392.7 233.4 392.4 233.9 390.8 234.3 388.8 234.7 387.1 235.1 386.1 235.6 385.8 236 385.7 236.4 385.8 236.9 385.7 237.3 385.4 237.7 385 238.2 384.4 238.6 383.9 239 383.3 239.5 382.8 239.9 382.4 240.3 382.1 240.8 381.9 241.2 381.7 241.6 381.7 242 381.7 242.5 381.7 242.9 381.3 242.9 381.3 242.5 381.3 242 381.3 241.6 381.1 241.2 380.9 240.8 380.6 240.3 380.2 239.9 379.7 239.5 379.1 239 378.6 238.6 378 238.2 377.6 237.7 377.3 237.3 377.2 236.9 377.3 236.4 377.2 236 376.9 235.6 375.9 235.1 374.2 234.7 372.2 234.3 370.6 233.9 370.3 233.4 371.6 233 374 232.6 376.6 232.1 378.8 231.7ZM404.4 231.7 405.5 232 407.1 232.3 408.8 232.7 410.4 233 411.4 233.3 411.4 233.6 410.6 233.9 409.1 234.2 407.3 234.6 405.7 234.9 404.5 235.2 403.7 235.5 403.3 235.8 403.1 236.1 403.1 236.5 403.1 236.8 403.1 237.1 403.1 237.4 403.1 237.7 403.1 238.1 403.1 238.4 403.1 238.7 403.1 239 403.1 239.3 403.1 239.6 403.1 240 402.7 240 402.7 239.6 402.7 239.3 402.7 239 402.7 238.7 402.7 238.4 402.7 238.1 402.7 237.7 402.7 237.4 402.7 237.1 402.7 236.8 402.7 236.5 402.7 236.1 402.5 235.8 402.1 235.5 401.3 235.2 400.1 234.9 398.5 234.6 396.7 234.2 395.2 233.9 394.4 233.6 394.4 233.3 395.4 233 397 232.7 398.7 232.3 400.3 232 401.4 231.7ZM425.5 231.7 426.5 232 427.8 232.3 429.2 232.7 430.5 233 431.3 233.3 431.4 233.6 430.7 233.9 429.4 234.2 428 234.6 426.7 234.9 425.6 235.2 425 235.5 424.6 235.8 424.5 236.1 424.5 236.5 424.5 236.8 424.5 237.1 424.5 237.4 424.5 237.7 424.5 238.1 424.5 238.4 424.5 238.7 424.5 239 424.5 239.3 424.5 239.6 424.5 240 424.1 240 424.1 239.6 424.1 239.3 424.1 239 424.1 238.7 424.1 238.4 424.1 238.1 424.1 237.7 424.1 237.4 424.1 237.1 424.1 236.8 424.1 236.5 424.1 236.1 424 235.8 423.6 235.5 423 235.2 421.9 234.9 420.6 234.6 419.2 234.2 417.9 233.9 417.2 233.6 417.3 233.3 418.1 233 419.4 232.7 420.8 232.3 422.1 232 423.1 231.7ZM447.1 231.7 448.1 232 449.5 232.3 451.1 232.7 452.5 233 453.4 233.3 453.5 233.6 452.7 233.9 451.3 234.2 449.7 234.6 448.3 234.9 447.2 235.2 446.5 235.5 446 235.8 445.9 236.1 445.9 236.5 445.9 236.8 445.9 237.1 445.9 237.4 445.9 237.7 445.9 238.1 445.9 238.4 445.9 238.7 445.9 239 445.9 239.3 445.9 239.6 445.9 240 445.5 240 445.5 239.6 445.5 239.3 445.5 239 445.5 238.7 445.5 238.4 445.5 238.1 445.5 237.7 445.5 237.4 445.5 237.1 445.5 236.8 445.5 236.5 445.5 236.1 445.4 235.8 444.9 235.5 444.2 235.2 443.1 234.9 441.7 234.6 440.1 234.2 438.7 233.9 437.9 233.6 438 233.3 438.9 233 440.3 232.7 441.9 232.3 443.3 232 444.3 231.7Z" fill="#a0b820" stroke="#444" stroke-width="0.38" stroke-linejoin="round"/><path d="M384.1 243.5 386.1 243.9 388.7 244.4 390.9 244.8 392.1 245.2 391.8 245.7 390.3 246.1 388.4 246.5 386.8 246.9 385.9 247.4 385.5 247.8 385.5 248.2 385.5 248.7 385.5 249.1 385.2 249.5 384.8 250 384.3 250.4 383.8 250.8 383.2 251.3 382.7 251.7 382.4 252.1 382.1 252.6 381.8 253 381.7 253.4 381.7 253.8 381.7 254.3 381.7 254.7 381.3 254.7 381.3 254.3 381.3 253.8 381.3 253.4 381.2 253 380.9 252.6 380.6 252.1 380.3 251.7 379.8 251.3 379.2 250.8 378.7 250.4 378.2 250 377.8 249.5 377.5 249.1 377.5 248.7 377.5 248.2 377.5 247.8 377.1 247.4 376.2 246.9 374.6 246.5 372.7 246.1 371.2 245.7 370.9 245.2 372.1 244.8 374.3 244.4 376.9 243.9 378.9 243.5ZM404.2 243.5 405.2 243.8 406.6 244.1 408.1 244.5 409.5 244.8 410.3 245.1 410.4 245.4 409.6 245.7 408.3 246 406.8 246.4 405.4 246.7 404.3 247 403.6 247.3 403.2 247.6 403.1 247.9 403.1 248.3 403.1 248.6 403.1 248.9 403.1 249.2 403.1 249.5 403.1 249.9 403.1 250.2 403.1 250.5 403.1 250.8 403.1 251.1 403.1 251.4 403.1 251.8 402.7 251.8 402.7 251.4 402.7 251.1 402.7 250.8 402.7 250.5 402.7 250.2 402.7 249.9 402.7 249.5 402.7 249.2 402.7 248.9 402.7 248.6 402.7 248.3 402.7 247.9 402.6 247.6 402.2 247.3 401.5 247 400.4 246.7 399 246.4 397.5 246 396.2 245.7 395.4 245.4 395.5 245.1 396.3 244.8 397.7 244.5 399.2 244.1 400.6 243.8 401.6 243.5ZM424.7 243.5 425.1 243.8 425.7 244.1 426.6 244.5 427.4 244.8 427.9 245.1 427.9 245.4 427.5 245.7 426.7 246 425.8 246.4 425.2 246.7 424.7 247 424.5 247.3 424.5 247.6 424.5 247.9 424.5 248.3 424.5 248.6 424.5 248.9 424.5 249.2 424.5 249.5 424.5 249.9 424.5 250.2 424.5 250.5 424.5 250.8 424.5 251.1 424.5 251.4 424.5 251.8 424.1 251.8 424.1 251.4 424.1 251.1 424.1 250.8 424.1 250.5 424.1 250.2 424.1 249.9 424.1 249.5 424.1 249.2 424.1 248.9 424.1 248.6 424.1 248.3 424.1 247.9 424.1 247.6 424.1 247.3 423.9 247 423.4 246.7 422.8 246.4 421.9 246 421.1 245.7 420.7 245.4 420.7 245.1 421.2 244.8 422 244.5 422.9 244.1 423.5 243.8 423.9 243.5ZM446.9 243.5 447.9 243.8 449.2 244.1 450.6 244.5 451.9 244.8 452.7 245.1 452.8 245.4 452.1 245.7 450.8 246 449.4 246.4 448.1 246.7 447 247 446.4 247.3 446 247.6 445.9 247.9 445.9 248.3 445.9 248.6 445.9 248.9 445.9 249.2 445.9 249.5 445.9 249.9 445.9 250.2 445.9 250.5 445.9 250.8 445.9 251.1 445.9 251.4 445.9 251.8 445.5 251.8 445.5 251.4 445.5 251.1 445.5 250.8 445.5 250.5 445.5 250.2 445.5 249.9 445.5 249.5 445.5 249.2 445.5 248.9 445.5 248.6 445.5 248.3 445.5 247.9 445.4 247.6 445 247.3 444.4 247 443.3 246.7 442 246.4 440.6 246 439.3 245.7 438.6 245.4 438.7 245.1 439.5 244.8 440.8 244.5 442.2 244.1 443.5 243.8 444.5 243.5Z" fill="#80b828" stroke="#444" stroke-width="0.38" stroke-linejoin="round"/><path d="M381.7 255.9 381.7 256.3 381.9 256.7 382.2 257.1 382.7 257.5 383.3 257.9 384.2 258.3 385.3 258.7 386.6 259.2 388 259.6 389.3 260 390.5 260.4 391.2 260.8 391.5 261.2 391.2 261.6 390.5 262 389.3 262.4 388 262.8 386.6 263.2 385.3 263.7 384.2 264.1 383.3 264.5 382.7 264.9 382.2 265.3 381.9 265.7 381.7 266.1 381.7 266.5 381.3 266.5 381.3 266.1 381.1 265.7 380.8 265.3 380.3 264.9 379.7 264.5 378.8 264.1 377.7 263.7 376.4 263.2 375 262.8 373.7 262.4 372.5 262 371.8 261.6 371.5 261.2 371.8 260.8 372.5 260.4 373.7 260 375 259.6 376.4 259.2 377.7 258.7 378.8 258.3 379.7 257.9 380.3 257.5 380.8 257.1 381.1 256.7 381.3 256.3 381.3 255.9ZM403.1 255.9 403.1 256.3 403.1 256.7 403.3 257.1 403.6 257.5 404.1 257.9 404.8 258.3 405.7 258.7 406.8 259.2 408.1 259.6 409.3 260 410.3 260.4 411 260.8 411.3 261.2 411 261.6 410.3 262 409.3 262.4 408.1 262.8 406.8 263.2 405.7 263.7 404.8 264.1 404.1 264.5 403.6 264.9 403.3 265.3 403.1 265.7 403.1 266.1 403.1 266.5 402.7 266.5 402.7 266.1 402.7 265.7 402.5 265.3 402.2 264.9 401.7 264.5 401 264.1 400.1 263.7 399 263.2 397.7 262.8 396.5 262.4 395.5 262 394.8 261.6 394.5 261.2 394.8 260.8 395.5 260.4 396.5 260 397.7 259.6 399 259.2 400.1 258.7 401 258.3 401.7 257.9 402.2 257.5 402.5 257.1 402.7 256.7 402.7 256.3 402.7 255.9ZM424.5 256.5 424.5 256.9 424.5 257.3 424.5 257.6 424.5 258 424.5 258.4 424.5 258.8 424.5 259.2 424.6 259.6 425 260 425.6 260.3 426.6 260.7 428 261.1 429.6 261.5 431.2 261.9 432.3 262.3 432.7 262.7 432.2 263 430.9 263.4 429.3 263.8 427.7 264.2 426.4 264.6 425.5 265 424.9 265.4 424.6 265.7 424.5 266.1 424.5 266.5 424.1 266.5 424.1 266.1 424 265.7 423.7 265.4 423.1 265 422.2 264.6 420.9 264.2 419.3 263.8 417.7 263.4 416.4 263 415.9 262.7 416.3 262.3 417.4 261.9 419 261.5 420.6 261.1 422 260.7 423 260.3 423.6 260 424 259.6 424.1 259.2 424.1 258.8 424.1 258.4 424.1 258 424.1 257.6 424.1 257.3 424.1 256.9 424.1 256.5ZM445.9 256.5 445.9 256.9 445.9 257.3 445.9 257.6 445.9 258 445.9 258.4 445.9 258.8 445.9 259.2 446.1 259.6 446.3 260 446.8 260.3 447.5 260.7 448.4 261.1 449.4 261.5 450.4 261.9 451.3 262.3 451.8 262.7 452 263 451.7 263.4 451 263.8 450 264.2 449 264.6 448 265 447.2 265.4 446.6 265.7 446.2 266.1 446 266.5 445.4 266.5 445.2 266.1 444.8 265.7 444.2 265.4 443.4 265 442.4 264.6 441.4 264.2 440.4 263.8 439.7 263.4 439.4 263 439.6 262.7 440.1 262.3 441 261.9 442 261.5 443 261.1 443.9 260.7 444.6 260.3 445.1 260 445.3 259.6 445.5 259.2 445.5 258.8 445.5 258.4 445.5 258 445.5 257.6 445.5 257.3 445.5 256.9 445.5 256.5Z" fill="#3cae3c" stroke="#444" stroke-width="0.38" stroke-linejoin="round"/><path d="M381.7 267.7 381.7 268.1 381.7 268.5 381.7 268.9 381.7 269.3 381.9 269.7 382.2 270.1 382.7 270.5 383.4 271 384.2 271.4 385.1 271.8 385.9 272.2 386.5 272.6 386.8 273 386.5 273.4 385.9 273.8 385.1 274.2 384.2 274.6 383.4 275 382.7 275.5 382.2 275.9 381.9 276.3 381.7 276.7 381.7 277.1 381.7 277.5 381.7 277.9 381.7 278.3 381.3 278.3 381.3 277.9 381.3 277.5 381.3 277.1 381.3 276.7 381.1 276.3 380.8 275.9 380.3 275.5 379.6 275 378.8 274.6 377.9 274.2 377.1 273.8 376.5 273.4 376.2 273 376.5 272.6 377.1 272.2 377.9 271.8 378.8 271.4 379.6 271 380.3 270.5 380.8 270.1 381.1 269.7 381.3 269.3 381.3 268.9 381.3 268.5 381.3 268.1 381.3 267.7ZM403.1 267.7 403.1 268.1 403.1 268.5 403.1 268.9 403.1 269.3 403.2 269.7 403.5 270.1 404 270.5 404.6 271 405.3 271.4 406.1 271.8 406.9 272.2 407.4 272.6 407.6 273 407.4 273.4 406.9 273.8 406.1 274.2 405.3 274.6 404.6 275 404 275.5 403.5 275.9 403.2 276.3 403.1 276.7 403.1 277.1 403.1 277.5 403.1 277.9 403.1 278.3 402.7 278.3 402.7 277.9 402.7 277.5 402.7 277.1 402.7 276.7 402.6 276.3 402.3 275.9 401.8 275.5 401.2 275 400.5 274.6 399.7 274.2 398.9 273.8 398.4 273.4 398.2 273 398.4 272.6 398.9 272.2 399.7 271.8 400.5 271.4 401.2 271 401.8 270.5 402.3 270.1 402.6 269.7 402.7 269.3 402.7 268.9 402.7 268.5 402.7 268.1 402.7 267.7ZM424.5 267.7 424.5 268.1 424.5 268.5 424.5 268.9 424.5 269.3 424.7 269.7 425 270.1 425.5 270.5 426.2 271 427 271.4 427.9 271.8 428.7 272.2 429.3 272.6 429.6 273 429.3 273.4 428.7 273.8 427.9 274.2 427 274.6 426.2 275 425.5 275.5 425 275.9 424.7 276.3 424.5 276.7 424.5 277.1 424.5 277.5 424.5 277.9 424.5 278.3 424.1 278.3 424.1 277.9 424.1 277.5 424.1 277.1 424.1 276.7 423.9 276.3 423.6 275.9 423.1 275.5 422.4 275 421.6 274.6 420.7 274.2 419.9 273.8 419.3 273.4 419.1 273 419.3 272.6 419.9 272.2 420.7 271.8 421.6 271.4 422.4 271 423.1 270.5 423.6 270.1 423.9 269.7 424.1 269.3 424.1 268.9 424.1 268.5 424.1 268.1 424.1 267.7ZM445.9 267.7 445.9 268.1 445.9 268.5 445.9 268.9 445.9 269.3 446.1 269.7 446.4 270.1 446.9 270.5 447.6 271 448.4 271.4 449.3 271.8 450.1 272.2 450.7 272.6 450.9 273 450.7 273.4 450.1 273.8 449.3 274.2 448.4 274.6 447.6 275 446.9 275.5 446.4 275.9 446.1 276.3 445.9 276.7 445.9 277.1 445.9 277.5 445.9 277.9 445.9 278.3 445.5 278.3 445.5 277.9 445.5 277.5 445.5 277.1 445.5 276.7 445.3 276.3 445 275.9 444.5 275.5 443.8 275 443 274.6 442.1 274.2 441.3 273.8 440.7 273.4 440.4 273 440.7 272.6 441.3 272.2 442.1 271.8 443 271.4 443.8 271 444.5 270.5 445 270.1 445.3 269.7 445.5 269.3 445.5 268.9 445.5 268.5 445.5 268.1 445.5 267.7Z" fill="#28a858" stroke="#444" stroke-width="0.38" stroke-linejoin="round"/><path d="M381.7 279.5 381.7 279.9 381.7 280.3 381.7 280.7 381.7 281.1 381.7 281.5 381.8 281.9 382 282.3 382.4 282.8 383 283.2 383.8 283.6 384.7 284 385.6 284.4 386.3 284.8 386.7 285.2 386.7 285.6 386.2 286 385.5 286.4 384.6 286.8 383.7 287.3 383 287.7 382.4 288.1 382 288.5 381.7 288.9 381.7 289.3 381.7 289.7 381.7 290.1 381.3 290.1 381.3 289.7 381.3 289.3 381.3 288.9 381 288.5 380.6 288.1 380 287.7 379.3 287.3 378.4 286.8 377.5 286.4 376.8 286 376.3 285.6 376.3 285.2 376.7 284.8 377.4 284.4 378.3 284 379.2 283.6 380 283.2 380.6 282.8 381 282.3 381.2 281.9 381.3 281.5 381.3 281.1 381.3 280.7 381.3 280.3 381.3 279.9 381.3 279.5ZM403.1 279.5 403.1 279.9 403.1 280.3 403.1 280.7 403.1 281.1 403.3 281.5 403.7 281.9 404.2 282.3 404.9 282.8 405.9 283.2 406.9 283.6 407.8 284 408.4 284.4 408.7 284.8 408.4 285.2 407.8 285.6 406.9 286 405.9 286.4 404.9 286.8 404.2 287.3 403.7 287.7 403.3 288.1 403.1 288.5 403.1 288.9 403.1 289.3 403.1 289.7 403.1 290.1 402.7 290.1 402.7 289.7 402.7 289.3 402.7 288.9 402.7 288.5 402.5 288.1 402.1 287.7 401.6 287.3 400.9 286.8 399.9 286.4 398.9 286 398 285.6 397.4 285.2 397.1 284.8 397.4 284.4 398 284 398.9 283.6 399.9 283.2 400.9 282.8 401.6 282.3 402.1 281.9 402.5 281.5 402.7 281.1 402.7 280.7 402.7 280.3 402.7 279.9 402.7 279.5ZM424.5 280.1 424.5 280.5 424.5 280.9 424.5 281.2 424.5 281.6 424.5 282 424.5 282.4 424.5 282.8 424.5 283.2 424.8 283.6 425.2 283.9 425.9 284.3 426.7 284.7 427.5 285.1 428.1 285.5 428.5 285.9 428.4 286.3 427.9 286.6 427.1 287 426.3 287.4 425.6 287.8 425 288.2 424.7 288.6 424.5 289 424.5 289.3 424.5 289.7 424.5 290.1 424.1 290.1 424.1 289.7 424.1 289.3 424.1 289 423.9 288.6 423.6 288.2 423 287.8 422.3 287.4 421.5 287 420.7 286.6 420.2 286.3 420.1 285.9 420.5 285.5 421.1 285.1 421.9 284.7 422.7 284.3 423.4 283.9 423.8 283.6 424.1 283.2 424.1 282.8 424.1 282.4 424.1 282 424.1 281.6 424.1 281.2 424.1 280.9 424.1 280.5 424.1 280.1ZM445.9 281.3 445.9 281.6 445.9 281.9 445.9 282.3 445.9 282.6 445.9 283 445.9 283.3 445.9 283.6 446 284 446.3 284.3 446.7 284.7 447.2 285 447.8 285.3 448.5 285.7 449 286 449.3 286.4 449.4 286.7 449.1 287 448.6 287.4 448 287.7 447.3 288.1 446.8 288.4 446.4 288.7 446.1 289.1 445.9 289.4 445.9 289.8 445.9 290.1 445.5 290.1 445.5 289.8 445.5 289.4 445.3 289.1 445 288.7 444.6 288.4 444.1 288.1 443.4 287.7 442.8 287.4 442.3 287 442 286.7 442.1 286.4 442.4 286 442.9 285.7 443.6 285.3 444.2 285 444.7 284.7 445.1 284.3 445.4 284 445.5 283.6 445.5 283.3 445.5 283 445.5 282.6 445.5 282.3 445.5 281.9 445.5 281.6 445.5 281.3Z" fill="#20a070" stroke="#444" stroke-width="0.38" stroke-linejoin="round"/><path d="M381.7 290.7 381.7 291.2 381.7 291.6 381.7 292.1 381.7 292.5 381.7 293 381.7 293.4 381.7 293.9 381.7 294.3 381.7 294.8 381.7 295.2 381.7 295.7 381.7 296.1 381.7 296.6 381.9 297.1 382.5 297.5 383.3 298 384.2 298.4 384.6 298.9 384.4 299.3 383.7 299.8 382.8 300.2 382.1 300.7 381.8 301.1 384.4 301.6 389.9 302 383.8 302.5 379.2 302.5 373.1 302 378.6 301.6 381.2 301.1 380.9 300.7 380.2 300.2 379.3 299.8 378.6 299.3 378.4 298.9 378.8 298.4 379.7 298 380.5 297.5 381.1 297.1 381.3 296.6 381.3 296.1 381.3 295.7 381.3 295.2 381.3 294.8 381.3 294.3 381.3 293.9 381.3 293.4 381.3 293 381.3 292.5 381.3 292.1 381.3 291.6 381.3 291.2 381.3 290.7ZM403.1 290.7 403.1 291.2 403.1 291.6 403.1 292.1 403.1 292.5 403.1 293 403.1 293.4 403.1 293.9 403.1 294.3 403.1 294.8 403.1 295.2 403.1 295.7 403.1 296.1 403.1 296.6 403.1 297.1 403.1 297.5 403.1 298 403.3 298.4 403.9 298.9 404.4 299.3 404.4 299.8 403.9 300.2 403.3 300.7 403.1 301.1 404.7 301.6 408.1 302 404.4 302.5 401.4 302.5 397.7 302 401.1 301.6 402.7 301.1 402.5 300.7 401.9 300.2 401.4 299.8 401.4 299.3 401.9 298.9 402.5 298.4 402.7 298 402.7 297.5 402.7 297.1 402.7 296.6 402.7 296.1 402.7 295.7 402.7 295.2 402.7 294.8 402.7 294.3 402.7 293.9 402.7 293.4 402.7 293 402.7 292.5 402.7 292.1 402.7 291.6 402.7 291.2 402.7 290.7ZM424.5 291.9 424.5 292.3 424.5 292.7 424.5 293.1 424.5 293.5 424.5 293.9 424.5 294.3 424.5 294.7 424.5 295.1 424.5 295.6 424.5 296 424.5 296.4 424.5 296.8 424.5 297.2 424.5 297.6 424.7 298 425.2 298.4 425.7 298.8 425.9 299.2 425.6 299.6 425.1 300 424.6 300.5 424.5 300.9 424.5 301.3 427 301.7 429.4 302.1 425.8 302.5 422.8 302.5 419.2 302.1 421.6 301.7 424.1 301.3 424.1 300.9 424 300.5 423.5 300 423 299.6 422.7 299.2 422.9 298.8 423.4 298.4 423.9 298 424.1 297.6 424.1 297.2 424.1 296.8 424.1 296.4 424.1 296 424.1 295.6 424.1 295.1 424.1 294.7 424.1 294.3 424.1 293.9 424.1 293.5 424.1 293.1 424.1 292.7 424.1 292.3 424.1 291.9Z" fill="#20a080" stroke="#444" stroke-width="0.38" stroke-linejoin="round"/><path d="M381.7 349.7 381.7 350.1 381.7 350.6 381.7 351 381.7 351.4 381.7 351.9 381.7 352.3 382 352.7 382.2 353.1 382.5 353.6 382.8 354 383 354.4 383.2 354.9 383.3 355.3 383.5 355.7 383.9 356.2 384.4 356.6 384.9 357 385.2 357.5 385.2 357.9 384.9 358.3 384.3 358.8 383.7 359.2 383 359.6 382.5 360 382.1 360.5 381.8 360.9 381.2 360.9 380.9 360.5 380.5 360 380 359.6 379.3 359.2 378.7 358.8 378.1 358.3 377.8 357.9 377.8 357.5 378.1 357 378.6 356.6 379.1 356.2 379.5 355.7 379.7 355.3 379.8 354.9 380 354.4 380.2 354 380.5 353.6 380.8 353.1 381 352.7 381.3 352.3 381.3 351.9 381.3 351.4 381.3 351 381.3 350.6 381.3 350.1 381.3 349.7ZM403.1 349.7 403.1 350.1 403.1 350.6 403.1 351 403.1 351.4 403.1 351.9 403.2 352.3 403.5 352.7 403.8 353.1 404.3 353.6 404.7 354 405.1 354.4 405.5 354.9 405.9 355.3 406.4 355.7 407.1 356.2 407.7 356.6 408.1 357 408.2 357.5 407.8 357.9 407.1 358.3 406.2 358.8 405.2 359.2 404.4 359.6 403.8 360 403.4 360.5 403.1 360.9 402.7 360.9 402.4 360.5 402 360 401.4 359.6 400.6 359.2 399.6 358.8 398.7 358.3 398 357.9 397.6 357.5 397.7 357 398.1 356.6 398.7 356.2 399.4 355.7 399.9 355.3 400.3 354.9 400.7 354.4 401.1 354 401.5 353.6 402 353.1 402.3 352.7 402.6 352.3 402.7 351.9 402.7 351.4 402.7 351 402.7 350.6 402.7 350.1 402.7 349.7ZM424.5 350.3 424.5 350.7 424.5 351.1 424.5 351.5 424.5 351.9 424.6 352.3 424.8 352.7 425.1 353.1 425.4 353.6 425.7 354 426 354.4 426.3 354.8 426.6 355.2 427 355.6 427.5 356 427.9 356.4 428.4 356.8 428.6 357.2 428.5 357.6 428.1 358.1 427.4 358.5 426.7 358.9 426 359.3 425.4 359.7 425 360.1 424.7 360.5 424.5 360.9 424.1 360.9 423.9 360.5 423.6 360.1 423.2 359.7 422.6 359.3 421.9 358.9 421.2 358.5 420.5 358.1 420.1 357.6 420 357.2 420.2 356.8 420.7 356.4 421.1 356 421.6 355.6 422 355.2 422.3 354.8 422.6 354.4 422.9 354 423.2 353.6 423.5 353.1 423.8 352.7 424 352.3 424.1 351.9 424.1 351.5 424.1 351.1 424.1 350.7 424.1 350.3ZM445.9 350.3 445.9 350.7 445.9 351.1 445.9 351.5 445.9 351.9 446 352.3 446.2 352.7 446.4 353.1 446.7 353.6 447 354 447.2 354.4 447.3 354.8 447.5 355.2 447.7 355.6 448 356 448.4 356.4 448.9 356.8 449.2 357.2 449.4 357.6 449.3 358.1 448.9 358.5 448.4 358.9 447.7 359.3 447.1 359.7 446.6 360.1 446.2 360.5 446 360.9 445.4 360.9 445.2 360.5 444.8 360.1 444.3 359.7 443.7 359.3 443 358.9 442.5 358.5 442.1 358.1 442 357.6 442.2 357.2 442.5 356.8 443 356.4 443.4 356 443.7 355.6 443.9 355.2 444.1 354.8 444.2 354.4 444.4 354 444.7 353.6 445 353.1 445.2 352.7 445.4 352.3 445.5 351.9 445.5 351.5 445.5 351.1 445.5 350.7 445.5 350.3Z" fill="#5a80d0" stroke="#444" stroke-width="0.38" stroke-linejoin="round"/><path d="M381.7 361.5 381.7 361.9 381.7 362.4 381.7 362.8 381.9 363.3 382.2 363.7 382.6 364.1 383.1 364.6 383.8 365 384.3 365.5 384.8 365.9 385.1 366.3 385.2 366.8 385.2 367.2 385.4 367.7 385.8 368.1 386.6 368.5 387.5 369 388.6 369.4 389.6 369.9 390.2 370.3 390.4 370.7 390.1 371.2 389.3 371.6 388.1 372.1 386.8 372.5 385.5 372.9 377.5 372.9 376.2 372.5 374.9 372.1 373.7 371.6 372.9 371.2 372.6 370.7 372.8 370.3 373.4 369.9 374.4 369.4 375.5 369 376.4 368.5 377.2 368.1 377.6 367.7 377.8 367.2 377.8 366.8 377.9 366.3 378.2 365.9 378.7 365.5 379.2 365 379.9 364.6 380.4 364.1 380.8 363.7 381.1 363.3 381.3 362.8 381.3 362.4 381.3 361.9 381.3 361.5ZM403.1 361.5 403.1 361.9 403.1 362.4 403.1 362.8 403.1 363.3 403.1 363.7 403.2 364.1 403.5 364.6 404 365 404.8 365.5 405.7 365.9 406.7 366.3 407.6 366.8 408.3 367.2 409 367.7 409.8 368.1 410.7 368.5 411.7 369 412.6 369.4 413 369.9 412.7 370.3 411.9 370.7 410.6 371.2 409 371.6 407.5 372.1 406 372.5 404.9 372.9 400.9 372.9 399.8 372.5 398.3 372.1 396.8 371.6 395.2 371.2 393.9 370.7 393.1 370.3 392.8 369.9 393.2 369.4 394.1 369 395.1 368.5 396 368.1 396.8 367.7 397.5 367.2 398.2 366.8 399.1 366.3 400.1 365.9 401 365.5 401.8 365 402.3 364.6 402.6 364.1 402.7 363.7 402.7 363.3 402.7 362.8 402.7 362.4 402.7 361.9 402.7 361.5ZM424.5 362.7 424.5 363.1 424.5 363.5 424.5 363.9 424.5 364.3 424.5 364.7 424.5 365 424.6 365.4 424.8 365.8 425.2 366.2 425.7 366.6 426.2 367 426.7 367.4 427.2 367.8 427.5 368.2 427.9 368.6 428.6 369 429.6 369.4 431 369.8 432.5 370.2 433.6 370.6 433.9 371 433.2 371.4 431.7 371.8 429.9 372.2 428 372.6 426.5 372.9 422.1 372.9 420.6 372.6 418.7 372.2 416.9 371.8 415.4 371.4 414.7 371 415 370.6 416.1 370.2 417.6 369.8 419 369.4 420 369 420.7 368.6 421.1 368.2 421.4 367.8 421.9 367.4 422.4 367 422.9 366.6 423.4 366.2 423.8 365.8 424 365.4 424.1 365 424.1 364.7 424.1 364.3 424.1 363.9 424.1 363.5 424.1 363.1 424.1 362.7ZM445.9 362.7 445.9 363.1 445.9 363.5 445.9 363.9 445.9 364.3 445.9 364.7 445.9 365 446 365.4 446.2 365.8 446.6 366.2 447.1 366.6 447.6 367 448.1 367.4 448.5 367.8 448.8 368.2 449.1 368.6 449.6 369 450.3 369.4 451.4 369.8 452.6 370.2 453.4 370.6 453.7 371 453.1 371.4 451.9 371.8 450.3 372.2 448.8 372.6 447.6 372.9 443.8 372.9 442.6 372.6 441.1 372.2 439.5 371.8 438.3 371.4 437.7 371 438 370.6 438.8 370.2 440 369.8 441.1 369.4 441.8 369 442.3 368.6 442.6 368.2 442.9 367.8 443.3 367.4 443.8 367 444.3 366.6 444.8 366.2 445.2 365.8 445.4 365.4 445.5 365 445.5 364.7 445.5 364.3 445.5 363.9 445.5 363.5 445.5 363.1 445.5 362.7Z" fill="#8a68c8" stroke="#444" stroke-width="0.38" stroke-linejoin="round"/><path d="M382.2 373.3 382.5 373.8 382.7 374.2 383 374.7 383.4 375.1 383.7 375.6 384.1 376 384.4 376.5 384.7 376.9 385 377.4 385.2 377.8 385.3 378.3 385.3 378.7 385.2 379.2 385.1 379.7 384.8 380.1 384.5 380.6 384.2 381 383.9 381.5 383.5 381.9 383.2 382.4 382.9 382.8 382.7 383.3 383.3 383.7 386.9 384.2 391.2 384.6 389 385.1 374 385.1 371.8 384.6 376.1 384.2 379.7 383.7 380.3 383.3 380.1 382.8 379.8 382.4 379.5 381.9 379.1 381.5 378.8 381 378.5 380.6 378.2 380.1 377.9 379.7 377.8 379.2 377.7 378.7 377.7 378.3 377.8 377.8 378 377.4 378.3 376.9 378.6 376.5 378.9 376 379.3 375.6 379.6 375.1 380 374.7 380.3 374.2 380.5 373.8 380.8 373.3Z" fill="#9050b0" stroke="#444" stroke-width="0.38" stroke-linejoin="round"/><path d="M386.1 385.1 388.2 385.5 390.1 386 390.9 386.4 390.5 386.9 389 387.3 386.9 387.8 385 388.2 383.6 388.7 382.8 389.1 382.8 389.5 383.2 390 384 390.4 385 390.9 385.9 391.3 386.5 391.8 386.7 392.2 386.5 392.7 385.7 393.1 384.8 393.6 383.8 394 383 394.4 382.3 394.9 381.9 395.3 381.7 395.8 381.7 396.2 381.7 396.7 381.3 396.7 381.3 396.2 381.3 395.8 381.1 395.3 380.7 394.9 380 394.4 379.2 394 378.2 393.6 377.3 393.1 376.5 392.7 376.3 392.2 376.5 391.8 377.1 391.3 378 390.9 379 390.4 379.8 390 380.2 389.5 380.2 389.1 379.4 388.7 378 388.2 376.1 387.8 374 387.3 372.5 386.9 372.1 386.4 372.9 386 374.8 385.5 376.9 385.1ZM403.1 387.5 403.1 387.8 403.1 388.1 403.1 388.5 403.1 388.8 403.1 389.2 403.1 389.5 403.1 389.8 403.1 390.2 403.4 390.5 403.7 390.9 404.1 391.2 404.6 391.5 404.9 391.9 405 392.2 404.8 392.6 404.5 392.9 404 393.2 403.6 393.6 403.3 393.9 403.1 394.3 403.1 394.6 403.1 394.9 403.1 395.3 403.1 395.6 403.1 396 403.1 396.3 402.7 396.3 402.7 396 402.7 395.6 402.7 395.3 402.7 394.9 402.7 394.6 402.7 394.3 402.5 393.9 402.2 393.6 401.8 393.2 401.3 392.9 401 392.6 400.8 392.2 400.9 391.9 401.2 391.5 401.7 391.2 402.1 390.9 402.4 390.5 402.7 390.2 402.7 389.8 402.7 389.5 402.7 389.2 402.7 388.8 402.7 388.5 402.7 388.1 402.7 387.8 402.7 387.5ZM445.9 387.5 445.9 387.8 445.9 388.1 445.9 388.5 445.9 388.8 445.9 389.2 445.9 389.5 445.9 389.8 445.9 390.2 446.2 390.5 446.5 390.9 446.9 391.2 447.4 391.5 447.7 391.9 447.8 392.2 447.6 392.6 447.3 392.9 446.8 393.2 446.4 393.6 446.1 393.9 445.9 394.3 445.9 394.6 445.9 394.9 445.9 395.3 445.9 395.6 445.9 396 445.9 396.3 445.5 396.3 445.5 396 445.5 395.6 445.5 395.3 445.5 394.9 445.5 394.6 445.5 394.3 445.3 393.9 445 393.6 444.6 393.2 444.1 392.9 443.8 392.6 443.6 392.2 443.7 391.9 444 391.5 444.5 391.2 444.9 390.9 445.2 390.5 445.5 390.2 445.5 389.8 445.5 389.5 445.5 389.2 445.5 388.8 445.5 388.5 445.5 388.1 445.5 387.8 445.5 387.5Z" fill="#b050b0" stroke="#444" stroke-width="0.38" stroke-linejoin="round"/><path d="M381.7 397.5 381.8 397.9 382.1 398.3 382.4 398.7 382.9 399.1 383.5 399.5 384.3 399.9 385.1 400.3 386 400.8 386.8 401.2 387.4 401.6 387.7 402 387.8 402.4 387.5 402.8 386.9 403.2 386.1 403.6 385.2 404 384.4 404.4 383.6 404.8 382.9 405.3 382.4 405.7 382.1 406.1 381.8 406.5 381.7 406.9 381.7 407.3 381.7 407.7 381.7 408.1 381.3 408.1 381.3 407.7 381.3 407.3 381.3 406.9 381.2 406.5 380.9 406.1 380.6 405.7 380.1 405.3 379.4 404.8 378.6 404.4 377.8 404 376.9 403.6 376.1 403.2 375.5 402.8 375.2 402.4 375.3 402 375.6 401.6 376.2 401.2 377 400.8 377.9 400.3 378.7 399.9 379.5 399.5 380.1 399.1 380.6 398.7 380.9 398.3 381.2 397.9 381.3 397.5Z" fill="#c050a0" stroke="#444" stroke-width="0.38" stroke-linejoin="round"/><path d="M381.7 408.7 381.7 409.2 381.7 409.6 381.7 410.1 381.7 410.5 381.7 411 381.7 411.4 381.7 411.9 381.9 412.3 382.3 412.8 382.8 413.2 383.5 413.7 383.9 414.1 384.1 414.6 383.9 415.1 383.5 415.5 382.8 416 382.3 416.4 381.9 416.9 381.7 417.3 381.7 417.8 381.7 418.2 381.7 418.7 381.9 419.1 385.4 419.6 389.9 420 385 420.5 378 420.5 373.1 420 377.6 419.6 381.1 419.1 381.3 418.7 381.3 418.2 381.3 417.8 381.3 417.3 381.1 416.9 380.7 416.4 380.2 416 379.5 415.5 379.1 415.1 378.9 414.6 379.1 414.1 379.5 413.7 380.2 413.2 380.7 412.8 381.1 412.3 381.3 411.9 381.3 411.4 381.3 411 381.3 410.5 381.3 410.1 381.3 409.6 381.3 409.2 381.3 408.7Z" fill="#d04c98" stroke="#444" stroke-width="0.38" stroke-linejoin="round"/><path d="M381.7 420.5 381.7 421 381.7 421.4 381.7 421.9 381.8 422.3 382.1 422.8 382.5 423.2 383 423.7 383.4 424.1 383.6 424.6 383.5 425 383.2 425.5 382.9 425.9 382.8 426.4 383.1 426.9 383.9 427.3 385.3 427.8 387 428.2 388.7 428.7 390.2 429.1 390.9 429.6 390.7 430 389.6 430.5 388 430.9 386.1 431.4 384.5 431.8 383.3 432.3 379.7 432.3 378.5 431.8 376.9 431.4 375 430.9 373.4 430.5 372.3 430 372.1 429.6 372.8 429.1 374.3 428.7 376 428.2 377.7 427.8 379.1 427.3 379.9 426.9 380.2 426.4 380.1 425.9 379.8 425.5 379.5 425 379.4 424.6 379.6 424.1 380 423.7 380.5 423.2 380.9 422.8 381.2 422.3 381.3 421.9 381.3 421.4 381.3 421 381.3 420.5ZM403.1 422.9 403.1 423.2 403.1 423.6 403.1 423.9 403.1 424.3 403.1 424.7 403.1 425 403.1 425.4 403.2 425.8 403.3 426.1 403.4 426.5 403.6 426.9 403.7 427.2 403.7 427.6 403.7 427.9 403.6 428.3 403.4 428.7 403.3 429 403.2 429.4 403.1 429.8 403.1 430.1 403.2 430.5 404.3 430.8 407.1 431.2 410 431.6 409.4 431.9 406.3 432.3 399.5 432.3 396.4 431.9 395.8 431.6 398.7 431.2 401.5 430.8 402.6 430.5 402.7 430.1 402.7 429.8 402.6 429.4 402.5 429 402.4 428.7 402.2 428.3 402.1 427.9 402.1 427.6 402.1 427.2 402.2 426.9 402.4 426.5 402.5 426.1 402.6 425.8 402.7 425.4 402.7 425 402.7 424.7 402.7 424.3 402.7 423.9 402.7 423.6 402.7 423.2 402.7 422.9ZM424.5 424 424.5 424.4 424.5 424.7 424.5 425 424.5 425.3 424.5 425.6 424.5 425.9 424.5 426.3 424.5 426.6 424.5 426.9 424.5 427.2 424.5 427.5 424.5 427.9 424.5 428.2 424.5 428.5 424.5 428.8 424.5 429.1 424.5 429.4 424.5 429.8 424.5 430.1 424.5 430.4 425 430.7 426.5 431 429 431.3 430.6 431.7 429.6 432 427.2 432.3 421.4 432.3 419 432 418 431.7 419.6 431.3 422.1 431 423.6 430.7 424.1 430.4 424.1 430.1 424.1 429.8 424.1 429.4 424.1 429.1 424.1 428.8 424.1 428.5 424.1 428.2 424.1 427.9 424.1 427.5 424.1 427.2 424.1 426.9 424.1 426.6 424.1 426.3 424.1 425.9 424.1 425.6 424.1 425.3 424.1 425 424.1 424.7 424.1 424.4 424.1 424ZM445.9 421.7 445.9 422.1 445.9 422.5 445.9 422.9 445.9 423.3 445.9 423.7 445.9 424.1 445.9 424.5 445.9 424.9 446.2 425.4 446.6 425.8 447.1 426.2 447.6 426.6 447.8 427 447.6 427.4 447.1 427.8 446.6 428.2 446.2 428.6 445.9 429 445.9 429.4 445.9 429.8 445.9 430.3 446.2 430.7 448.2 431.1 451.3 431.5 451.6 431.9 448.6 432.3 442.8 432.3 439.8 431.9 440.1 431.5 443.2 431.1 445.2 430.7 445.5 430.3 445.5 429.8 445.5 429.4 445.5 429 445.2 428.6 444.8 428.2 444.3 427.8 443.8 427.4 443.6 427 443.8 426.6 444.3 426.2 444.8 425.8 445.2 425.4 445.5 424.9 445.5 424.5 445.5 424.1 445.5 423.7 445.5 423.3 445.5 422.9 445.5 422.5 445.5 422.1 445.5 421.7Z" fill="#e05088" stroke="#444" stroke-width="0.38" stroke-linejoin="round"/><path d="M369.2 172.7H458.5V432.3H369.2Z" fill="none" stroke="#333" stroke-width="0.9"/><text x="362.8" y="177.7" font-size="4.7" fill="#3a3a3a" text-anchor="end" stroke="#3a3a3a" stroke-width="0.18">4</text><text x="362.8" y="189.5" font-size="4.7" fill="#3a3a3a" text-anchor="end" stroke="#3a3a3a" stroke-width="0.18">6</text><text x="362.8" y="201.3" font-size="4.7" fill="#3a3a3a" text-anchor="end" stroke="#3a3a3a" stroke-width="0.18">4</text><text x="362.8" y="213.1" font-size="4.7" fill="#3a3a3a" text-anchor="end" stroke="#3a3a3a" stroke-width="0.18">6</text><text x="362.8" y="224.9" font-size="4.7" fill="#3a3a3a" text-anchor="end" stroke="#3a3a3a" stroke-width="0.18">7</text><text x="362.8" y="236.7" font-size="4.7" fill="#3a3a3a" text-anchor="end" stroke="#3a3a3a" stroke-width="0.18">6</text><text x="362.8" y="248.5" font-size="4.7" fill="#3a3a3a" text-anchor="end" stroke="#3a3a3a" stroke-width="0.18">6</text><text x="362.8" y="260.3" font-size="4.7" fill="#3a3a3a" text-anchor="end" stroke="#3a3a3a" stroke-width="0.18">3</text><text x="362.8" y="272.1" font-size="4.7" fill="#3a3a3a" text-anchor="end" stroke="#3a3a3a" stroke-width="0.18">3</text><text x="362.8" y="283.9" font-size="4.7" fill="#3a3a3a" text-anchor="end" stroke="#3a3a3a" stroke-width="0.18">2</text><text x="362.8" y="295.7" font-size="4.7" fill="#3a3a3a" text-anchor="end" stroke="#3a3a3a" stroke-width="0.18">2</text><text x="362.8" y="307.5" font-size="4.7" fill="#3a3a3a" text-anchor="end" stroke="#3a3a3a" stroke-width="0.18">1.5</text><text x="362.8" y="319.3" font-size="4.7" fill="#3a3a3a" text-anchor="end" stroke="#3a3a3a" stroke-width="0.18">2</text><text x="362.8" y="331.1" font-size="4.7" fill="#3a3a3a" text-anchor="end" stroke="#3a3a3a" stroke-width="0.18">1</text><text x="362.8" y="342.9" font-size="4.7" fill="#3a3a3a" text-anchor="end" stroke="#3a3a3a" stroke-width="0.18">1</text><text x="362.8" y="354.7" font-size="4.7" fill="#3a3a3a" text-anchor="end" stroke="#3a3a3a" stroke-width="0.18">2</text><text x="362.8" y="366.5" font-size="4.7" fill="#3a3a3a" text-anchor="end" stroke="#3a3a3a" stroke-width="0.18">3</text><text x="362.8" y="378.3" font-size="4.7" fill="#3a3a3a" text-anchor="end" stroke="#3a3a3a" stroke-width="0.18">2</text><text x="362.8" y="390.1" font-size="4.7" fill="#3a3a3a" text-anchor="end" stroke="#3a3a3a" stroke-width="0.18">3</text><text x="362.8" y="401.9" font-size="4.7" fill="#3a3a3a" text-anchor="end" stroke="#3a3a3a" stroke-width="0.18">3</text><text x="362.8" y="413.7" font-size="4.7" fill="#3a3a3a" text-anchor="end" stroke="#3a3a3a" stroke-width="0.18">2</text><text x="362.8" y="425.5" font-size="4.7" fill="#3a3a3a" text-anchor="end" stroke="#3a3a3a" stroke-width="0.18">5000</text><path d="M366 184.5H369.2M366 182.4H369.2M366 180.3H369.2M366 178.2H369.2M366 176.1H369.2M366 196.3H369.2M366 193.5H369.2M366 190.7H369.2M366 187.9H369.2M366 208.1H369.2M366 206H369.2M366 203.9H369.2M366 201.8H369.2M366 199.7H369.2M366 219.9H369.2M366 217.1H369.2M366 214.3H369.2M366 211.5H369.2M366 231.7H369.2M366 228.9H369.2M366 226.1H369.2M366 223.3H369.2M366 243.5H369.2M366 240.7H369.2M366 237.9H369.2M366 235.1H369.2M366 255.3H369.2M366 252.5H369.2M366 249.7H369.2M366 246.9H369.2M366 267.1H369.2M366 264.3H369.2M366 261.5H369.2M366 258.7H369.2M366 278.9H369.2M366 276.1H369.2M366 273.3H369.2M366 270.5H369.2M366 290.7H369.2M366 286.5H369.2M366 282.3H369.2M366 302.5H369.2M366 298.3H369.2M366 294.1H369.2M366 314.3H369.2M366 311.5H369.2M366 308.7H369.2M366 305.9H369.2M366 326.1H369.2M366 321.9H369.2M366 317.7H369.2M366 337.9H369.2M366 333.7H369.2M366 329.5H369.2M366 349.7H369.2M366 345.5H369.2M366 341.3H369.2M366 361.5H369.2M366 357.3H369.2M366 353.1H369.2M366 373.3H369.2M366 370.5H369.2M366 367.7H369.2M366 364.9H369.2M366 385.1H369.2M366 380.9H369.2M366 376.7H369.2M366 396.9H369.2M366 394.1H369.2M366 391.3H369.2M366 388.5H369.2M366 408.7H369.2M366 405.9H369.2M366 403.1H369.2M366 400.3H369.2M366 420.5H369.2M366 416.3H369.2M366 412.1H369.2M366 428.1H369.2M366 423.9H369.2" stroke="#222" stroke-width="0.75" fill="none"/><path d="M381.5 432.3V434.3M402.9 432.3V434.3M424.3 432.3V434.3M445.7 432.3V434.3" stroke="#333" stroke-width="0.6" fill="none"/><text x="461.3" y="179.7" font-size="5.3" fill="#e0303e" stroke="#e0303e" stroke-width="0.18">HBZ</text><text x="461.3" y="191.5" font-size="5.3" fill="#e0303e" stroke="#e0303e" stroke-width="0.18">HBB</text><text x="461.3" y="203.3" font-size="5.3" fill="#e0303e" stroke="#e0303e" stroke-width="0.18">HBD</text><text x="461.3" y="215.1" font-size="5.3" fill="#e0303e" stroke="#e0303e" stroke-width="0.18">HBA1</text><text x="461.3" y="226.9" font-size="5.3" fill="#e0303e" stroke="#e0303e" stroke-width="0.18">HBA2</text><text x="461.3" y="238.7" font-size="5.3" fill="#e0303e" stroke="#e0303e" stroke-width="0.18">HBG1</text><text x="461.3" y="250.5" font-size="5.3" fill="#e0303e" stroke="#e0303e" stroke-width="0.18">HBG2</text><text x="461.3" y="262.3" font-size="5.3" fill="#e0303e" stroke="#e0303e" stroke-width="0.18">TFRC</text><text x="461.3" y="274.1" font-size="5.3" fill="#2e9e44" stroke="#2e9e44" stroke-width="0.18">KLF1</text><text x="461.3" y="285.9" font-size="5.3" fill="#2e9e44" stroke="#2e9e44" stroke-width="0.18">TAL1</text><text x="461.3" y="297.7" font-size="5.3" fill="#2e9e44" stroke="#2e9e44" stroke-width="0.18">GATA1</text><text x="461.3" y="309.5" font-size="5.3" fill="#2e9e44" stroke="#2e9e44" stroke-width="0.18">BCL11A</text><text x="461.3" y="321.3" font-size="5.3" fill="#2e9e44" stroke="#2e9e44" stroke-width="0.18">RUNX1</text><text x="461.3" y="333.1" font-size="5.3" fill="#2e9e44" stroke="#2e9e44" stroke-width="0.18">MYB</text><text x="461.3" y="344.9" font-size="5.3" fill="#2e9e44" stroke="#2e9e44" stroke-width="0.18">KIT</text><text x="461.3" y="356.7" font-size="5.3" fill="#2e9e44" stroke="#2e9e44" stroke-width="0.18">NFE2</text><text x="461.3" y="368.5" font-size="5.3" fill="#2e9e44" stroke="#2e9e44" stroke-width="0.18">FOXO3</text><text x="461.3" y="380.3" font-size="5.3" fill="#34344e" stroke="#34344e" stroke-width="0.18">H1-5</text><text x="461.3" y="392.1" font-size="5.3" fill="#34344e" stroke="#34344e" stroke-width="0.18">HMGB1</text><text x="461.3" y="403.9" font-size="5.3" fill="#34344e" stroke="#34344e" stroke-width="0.18">TOP2A</text><text x="461.3" y="415.7" font-size="5.3" fill="#34344e" stroke="#34344e" stroke-width="0.18">LMNA</text><text x="461.3" y="427.5" font-size="5.3" fill="#c2185b" stroke="#c2185b" stroke-width="0.18">nFeature_RNA</text><text x="55" y="441.2" font-size="4.85" fill="#222" text-anchor="end" transform="rotate(-45 55 441.2)" stroke="#222" stroke-width="0.18">Eryp1</text><line x1="53.94" y1="448.56" x2="48.64" y2="453.86" stroke="#111" stroke-width="0.75"/><path d="M47.04 455.46 L47.64 452.46 L50.04 454.86Z" fill="#111"/><text x="46.04" y="459.36" font-size="5.2" fill="#ee9070" text-anchor="end" transform="rotate(-45 46.04 459.36)" stroke="#ee9070" stroke-width="0.18">ProE</text><text x="83.9" y="441.2" font-size="4.85" fill="#222" text-anchor="end" transform="rotate(-45 83.9 441.2)" stroke="#222" stroke-width="0.18">Eryp2</text><line x1="82.84" y1="448.56" x2="77.54" y2="453.86" stroke="#111" stroke-width="0.75"/><path d="M75.94 455.46 L76.54 452.46 L78.94 454.86Z" fill="#111"/><text x="74.94" y="459.36" font-size="5.2" fill="#ee9070" text-anchor="end" transform="rotate(-45 74.94 459.36)" stroke="#ee9070" stroke-width="0.18">OrthoE</text><text x="113.1" y="441.2" font-size="4.85" fill="#222" text-anchor="end" transform="rotate(-45 113.1 441.2)" stroke="#222" stroke-width="0.18">Eryp3</text><line x1="112.04" y1="448.56" x2="106.74" y2="453.86" stroke="#111" stroke-width="0.75"/><path d="M105.14 455.46 L105.74 452.46 L108.14 454.86Z" fill="#111"/><text x="104.14" y="459.36" font-size="5.2" fill="#ee9070" text-anchor="end" transform="rotate(-45 104.14 459.36)" stroke="#ee9070" stroke-width="0.18">Retic</text><text x="206.4" y="441.2" font-size="4.85" fill="#222" text-anchor="end" transform="rotate(-45 206.4 441.2)" stroke="#222" stroke-width="0.18">EryD1</text><line x1="204.77" y1="449.13" x2="199.47" y2="454.43" stroke="#111" stroke-width="0.75"/><path d="M197.87 456.03 L198.47 453.03 L200.87 455.43Z" fill="#111"/><text x="196.87" y="459.93" font-size="5.2" fill="#ee9070" text-anchor="end" transform="rotate(-45 196.87 459.93)" stroke="#ee9070" stroke-width="0.18">BFU-E</text><text x="219.45" y="441.2" font-size="4.85" fill="#222" text-anchor="end" transform="rotate(-45 219.45 441.2)" stroke="#222" stroke-width="0.18">EryD2</text><line x1="217.82" y1="449.13" x2="212.52" y2="454.43" stroke="#111" stroke-width="0.75"/><path d="M210.92 456.03 L211.52 453.03 L213.92 455.43Z" fill="#111"/><text x="209.92" y="459.93" font-size="5.2" fill="#ee9070" text-anchor="end" transform="rotate(-45 209.92 459.93)" stroke="#ee9070" stroke-width="0.18">CFU-E</text><text x="232.5" y="441.2" font-size="4.85" fill="#222" text-anchor="end" transform="rotate(-45 232.5 441.2)" stroke="#222" stroke-width="0.18">EryD3</text><line x1="230.87" y1="449.13" x2="225.57" y2="454.43" stroke="#111" stroke-width="0.75"/><path d="M223.97 456.03 L224.57 453.03 L226.97 455.43Z" fill="#111"/><text x="222.97" y="459.93" font-size="5.2" fill="#ee9070" text-anchor="end" transform="rotate(-45 222.97 459.93)" stroke="#ee9070" stroke-width="0.18">ProE</text><text x="245.55" y="441.2" font-size="4.85" fill="#222" text-anchor="end" transform="rotate(-45 245.55 441.2)" stroke="#222" stroke-width="0.18">EryD4</text><line x1="243.92" y1="449.13" x2="238.62" y2="454.43" stroke="#111" stroke-width="0.75"/><path d="M237.02 456.03 L237.62 453.03 L240.02 455.43Z" fill="#111"/><text x="236.02" y="459.93" font-size="5.2" fill="#ee9070" text-anchor="end" transform="rotate(-45 236.02 459.93)" stroke="#ee9070" stroke-width="0.18">BasoE</text><text x="258.6" y="441.2" font-size="4.85" fill="#222" text-anchor="end" transform="rotate(-45 258.6 441.2)" stroke="#222" stroke-width="0.18">EryD5</text><line x1="256.97" y1="449.13" x2="251.67" y2="454.43" stroke="#111" stroke-width="0.75"/><path d="M250.07 456.03 L250.67 453.03 L253.07 455.43Z" fill="#111"/><text x="249.07" y="459.93" font-size="5.2" fill="#ee9070" text-anchor="end" transform="rotate(-45 249.07 459.93)" stroke="#ee9070" stroke-width="0.18">PolyE</text><text x="271.65" y="441.2" font-size="4.85" fill="#222" text-anchor="end" transform="rotate(-45 271.65 441.2)" stroke="#222" stroke-width="0.18">EryD6</text><line x1="270.02" y1="449.13" x2="264.72" y2="454.43" stroke="#111" stroke-width="0.75"/><path d="M263.12 456.03 L263.72 453.03 L266.12 455.43Z" fill="#111"/><text x="262.12" y="459.93" font-size="5.2" fill="#ee9070" text-anchor="end" transform="rotate(-45 262.12 459.93)" stroke="#ee9070" stroke-width="0.18">OrthoE</text><text x="284.7" y="441.2" font-size="4.85" fill="#222" text-anchor="end" transform="rotate(-45 284.7 441.2)" stroke="#222" stroke-width="0.18">EryD7</text><line x1="283.07" y1="449.13" x2="277.77" y2="454.43" stroke="#111" stroke-width="0.75"/><path d="M276.17 456.03 L276.77 453.03 L279.17 455.43Z" fill="#111"/><text x="275.17" y="459.93" font-size="5.2" fill="#ee9070" text-anchor="end" transform="rotate(-45 275.17 459.93)" stroke="#ee9070" stroke-width="0.18">Retic</text><text x="384.2" y="441.2" font-size="4.85" fill="#222" text-anchor="end" transform="rotate(-45 384.2 441.2)" stroke="#222" stroke-width="0.18">Ery1</text><line x1="385.05" y1="446.65" x2="379.75" y2="451.95" stroke="#111" stroke-width="0.75"/><path d="M378.15 453.55 L378.75 450.55 L381.15 452.95Z" fill="#111"/><text x="377.15" y="457.45" font-size="5.2" fill="#ee9070" text-anchor="end" transform="rotate(-45 377.15 457.45)" stroke="#ee9070" stroke-width="0.18">BasoE</text><text x="405.6" y="441.2" font-size="4.85" fill="#222" text-anchor="end" transform="rotate(-45 405.6 441.2)" stroke="#222" stroke-width="0.18">Ery2</text><line x1="406.45" y1="446.65" x2="401.15" y2="451.95" stroke="#111" stroke-width="0.75"/><path d="M399.55 453.55 L400.15 450.55 L402.55 452.95Z" fill="#111"/><text x="398.55" y="457.45" font-size="5.2" fill="#ee9070" text-anchor="end" transform="rotate(-45 398.55 457.45)" stroke="#ee9070" stroke-width="0.18">PolyE</text><text x="427" y="441.2" font-size="4.85" fill="#222" text-anchor="end" transform="rotate(-45 427 441.2)" stroke="#222" stroke-width="0.18">Ery3</text><line x1="427.85" y1="446.65" x2="422.55" y2="451.95" stroke="#111" stroke-width="0.75"/><path d="M420.95 453.55 L421.55 450.55 L423.95 452.95Z" fill="#111"/><text x="419.95" y="457.45" font-size="5.2" fill="#ee9070" text-anchor="end" transform="rotate(-45 419.95 457.45)" stroke="#ee9070" stroke-width="0.18">OrthoE</text><text x="448.4" y="441.2" font-size="4.85" fill="#222" text-anchor="end" transform="rotate(-45 448.4 441.2)" stroke="#222" stroke-width="0.18">Ery4</text><line x1="449.25" y1="446.65" x2="443.95" y2="451.95" stroke="#111" stroke-width="0.75"/><path d="M442.35 453.55 L442.95 450.55 L445.35 452.95Z" fill="#111"/><text x="441.35" y="457.45" font-size="5.2" fill="#ee9070" text-anchor="end" transform="rotate(-45 441.35 457.45)" stroke="#ee9070" stroke-width="0.18">Retic</text><text x="11.5" y="302.1" font-size="6.3" fill="#222" text-anchor="middle" transform="rotate(-90 11.5 302.1)" stroke="#222" stroke-width="0.18" textLength="34.8" lengthAdjust="spacingAndGlyphs">Expression level</text><path d="M486.2 173.5V256M486.2 269.6V368M486.2 375.8V421.9" stroke="#333" stroke-width="0.9" fill="none"/><text x="492.4" y="216.9" font-size="5.4" fill="#e0303e" text-anchor="middle" transform="rotate(90 492.4 216.9)" stroke="#e0303e" stroke-width="0.18" textLength="43.8" lengthAdjust="spacingAndGlyphs">Hemoglobin genes</text><text x="492.4" y="318" font-size="5.4" fill="#2e9e44" text-anchor="middle" transform="rotate(90 492.4 318)" stroke="#2e9e44" stroke-width="0.18" textLength="43.1" lengthAdjust="spacingAndGlyphs">Transcription factors</text><text x="492.4" y="398.8" font-size="5.4" fill="#34344e" text-anchor="middle" transform="rotate(90 492.4 398.8)" stroke="#34344e" stroke-width="0.18" textLength="46.1" lengthAdjust="spacingAndGlyphs">Nuclear related genes</text><rect x="6.5" y="494.5" width="152.6" height="167" fill="none" stroke="#3a3a3a" stroke-width="1"/><rect x="169.7" y="494.5" width="156.8" height="167" fill="none" stroke="#3a3a3a" stroke-width="1"/><rect x="335.5" y="494.5" width="149" height="167" fill="none" stroke="#3a3a3a" stroke-width="1"/><path d="M49.1 537.2 L49.1 504.9 A32.3 32.3 0 0 1 63.96 508.52Z" fill="#cc0c30" stroke="#fff" stroke-width="0.35" stroke-linejoin="round"/><path d="M49.1 537.2 L63.96 508.52 A32.3 32.3 0 0 1 39.43 568.02Z" fill="#f5bedb" stroke="#fff" stroke-width="0.35" stroke-linejoin="round"/><path d="M49.1 537.2 L39.43 568.02 A32.3 32.3 0 0 1 49.1 504.9Z" fill="#26a9e0" stroke="#fff" stroke-width="0.35" stroke-linejoin="round"/><text x="30.6" y="538" font-size="4.9" fill="#fff" text-anchor="middle" font-weight="bold">45.16%</text><text x="66.4" y="543.4" font-size="4.9" fill="#4a3a5a" text-anchor="middle" font-weight="bold">47.23%</text><text x="55.2" y="514.5" font-size="4.4" fill="#fff" text-anchor="middle" font-weight="bold" transform="rotate(-72 55.2 514.5)">7.61%</text><text x="48.35" y="501.8" font-size="6.6" fill="#222" text-anchor="middle" stroke="#222" stroke-width="0.18" textLength="7.9" lengthAdjust="spacingAndGlyphs">CT</text><path d="M116.2 537.3 L116.2 505 A32.3 32.3 0 0 1 121.39 505.42Z" fill="#cc0c30" stroke="#fff" stroke-width="0.35" stroke-linejoin="round"/><path d="M116.2 537.3 L121.39 505.42 A32.3 32.3 0 0 1 147.74 544.27Z" fill="#f5bedb" stroke="#fff" stroke-width="0.35" stroke-linejoin="round"/><path d="M116.2 537.3 L147.74 544.27 A32.3 32.3 0 1 1 116.2 505Z" fill="#26a9e0" stroke="#fff" stroke-width="0.35" stroke-linejoin="round"/><text x="100.8" y="544.2" font-size="4.9" fill="#fff" text-anchor="middle" font-weight="bold">71.54%</text><text x="133.8" y="528" font-size="4.9" fill="#4a3a5a" text-anchor="middle" font-weight="bold">25.89%</text><text x="118.3" y="513.5" font-size="3.4" fill="#fff" text-anchor="middle" font-weight="bold" transform="rotate(-86 118.3 513.5)">2.57%</text><text x="115.75" y="501.8" font-size="6.6" fill="#222" text-anchor="middle" stroke="#222" stroke-width="0.18" textLength="11.0" lengthAdjust="spacingAndGlyphs">MO</text><path d="M213 537.2 L213 504.8 A32.4 32.4 0 0 1 218.27 505.23Z" fill="#164b8e" stroke="#fff" stroke-width="0.35" stroke-linejoin="round"/><path d="M213 537.2 L218.27 505.23 A32.4 32.4 0 0 1 225.87 507.46Z" fill="#3c7cb8" stroke="#fff" stroke-width="0.35" stroke-linejoin="round"/><path d="M213 537.2 L225.87 507.46 A32.4 32.4 0 0 1 231.88 510.87Z" fill="#33a541" stroke="#fff" stroke-width="0.35" stroke-linejoin="round"/><path d="M213 537.2 L231.88 510.87 A32.4 32.4 0 0 1 232.36 511.22Z" fill="#bc6b28" stroke="#fff" stroke-width="0.35" stroke-linejoin="round"/><path d="M213 537.2 L232.36 511.22 A32.4 32.4 0 0 1 230.14 564.7Z" fill="#cc0c30" stroke="#fff" stroke-width="0.35" stroke-linejoin="round"/><path d="M213 537.2 L230.14 564.7 A32.4 32.4 0 0 1 183.23 549.99Z" fill="#f5bedb" stroke="#fff" stroke-width="0.35" stroke-linejoin="round"/><path d="M213 537.2 L183.23 549.99 A32.4 32.4 0 0 1 213.08 504.8Z" fill="#26a9e0" stroke="#fff" stroke-width="0.35" stroke-linejoin="round"/><text x="197" y="530.3" font-size="4.9" fill="#fff" text-anchor="middle" font-weight="bold">31.50%</text><text x="231.2" y="538.8" font-size="4.9" fill="#fff" text-anchor="middle" font-weight="bold">30.94%</text><text x="207.7" y="555.7" font-size="4.9" fill="#4a3a5a" text-anchor="middle" font-weight="bold">27.41%</text><text x="238.2" y="509.2" font-size="4.8" fill="#333" text-anchor="middle" stroke="#333" stroke-width="0.18">0.29%</text><text x="214.6" y="513.5" font-size="3" fill="#dde" text-anchor="middle" font-weight="bold" transform="rotate(-85 214.6 513.5)">2.60%</text><text x="217.6" y="513.8" font-size="3" fill="#dde" text-anchor="middle" font-weight="bold" transform="rotate(-75 217.6 513.8)">3.90%</text><text x="221" y="515" font-size="3" fill="#dde" text-anchor="middle" font-weight="bold" transform="rotate(-62 221 515)">3.40%</text><text x="212.35" y="501.8" font-size="6.6" fill="#222" text-anchor="middle" stroke="#222" stroke-width="0.18" textLength="7.9" lengthAdjust="spacingAndGlyphs">CT</text><path d="M280.5 537.4 L280.5 505 A32.4 32.4 0 0 1 284.96 505.31Z" fill="#164b8e" stroke="#fff" stroke-width="0.35" stroke-linejoin="round"/><path d="M280.5 537.4 L284.96 505.31 A32.4 32.4 0 0 1 295.21 508.53Z" fill="#3c7cb8" stroke="#fff" stroke-width="0.35" stroke-linejoin="round"/><path d="M280.5 537.4 L295.21 508.53 A32.4 32.4 0 0 1 306.65 518.27Z" fill="#33a541" stroke="#fff" stroke-width="0.35" stroke-linejoin="round"/><path d="M280.5 537.4 L306.65 518.27 A32.4 32.4 0 0 1 309.02 522.02Z" fill="#bc6b28" stroke="#fff" stroke-width="0.35" stroke-linejoin="round"/><path d="M280.5 537.4 L309.02 522.02 A32.4 32.4 0 0 1 262.64 564.44Z" fill="#cc0c30" stroke="#fff" stroke-width="0.35" stroke-linejoin="round"/><path d="M280.5 537.4 L262.64 564.44 A32.4 32.4 0 0 1 255.35 557.83Z" fill="#f5bedb" stroke="#fff" stroke-width="0.35" stroke-linejoin="round"/><path d="M280.5 537.4 L255.35 557.83 A32.4 32.4 0 0 1 280.09 505Z" fill="#26a9e0" stroke="#fff" stroke-width="0.35" stroke-linejoin="round"/><text x="265" y="532.6" font-size="4.9" fill="#fff" text-anchor="middle" font-weight="bold">35.66%</text><text x="292" y="548.7" font-size="4.9" fill="#fff" text-anchor="middle" font-weight="bold">42.16%</text><text x="263" y="557" font-size="3.6" fill="#4a3a5a" text-anchor="middle" font-weight="bold" transform="rotate(-62 263 557)">4.85%</text><text x="300.8" y="525.4" font-size="3.4" fill="#ffd" text-anchor="middle" font-weight="bold" transform="rotate(-30 300.8 525.4)">2.18%</text><text x="282.4" y="513.5" font-size="3" fill="#dde" text-anchor="middle" font-weight="bold" transform="rotate(-86 282.4 513.5)">2.20%</text><text x="286.5" y="514" font-size="3.2" fill="#dde" text-anchor="middle" font-weight="bold" transform="rotate(-75 286.5 514)">5.30%</text><text x="293" y="518.5" font-size="3.4" fill="#efe" text-anchor="middle" font-weight="bold" transform="rotate(-55 293 518.5)">7.45%</text><text x="280.75" y="501.8" font-size="6.6" fill="#222" text-anchor="middle" stroke="#222" stroke-width="0.18" textLength="11.0" lengthAdjust="spacingAndGlyphs">MO</text><path d="M376.8 537.2 L376.8 505.2 A32 32 0 0 1 408.46 541.83Z" fill="#bc6b28" stroke="#fff" stroke-width="0.35" stroke-linejoin="round"/><path d="M376.8 537.2 L408.46 541.83 A32 32 0 0 1 394.01 564.18Z" fill="#cc0c30" stroke="#fff" stroke-width="0.35" stroke-linejoin="round"/><path d="M376.8 537.2 L394.01 564.18 A32 32 0 0 1 348.1 551.35Z" fill="#f5bedb" stroke="#fff" stroke-width="0.35" stroke-linejoin="round"/><path d="M376.8 537.2 L348.1 551.35 A32 32 0 0 1 376.8 505.2Z" fill="#26a9e0" stroke="#fff" stroke-width="0.35" stroke-linejoin="round"/><text x="361.2" y="530.3" font-size="4.9" fill="#fff" text-anchor="middle" font-weight="bold">32.29%</text><text x="392.7" y="528" font-size="4.9" fill="#fff3e0" text-anchor="middle" font-weight="bold">27.31%</text><text x="394.3" y="549.5" font-size="4.9" fill="#fff" text-anchor="middle" font-weight="bold">13.65%</text><text x="373.5" y="558.8" font-size="4.9" fill="#4a3a5a" text-anchor="middle" font-weight="bold">26.75%</text><text x="376.9" y="501.8" font-size="6.8" fill="#222" text-anchor="middle" stroke="#222" stroke-width="0.18" textLength="14.6" lengthAdjust="spacingAndGlyphs">Lean</text><path d="M444 537.4 L444 504.9 A32.5 32.5 0 0 1 464.19 511.93Z" fill="#bc6b28" stroke="#fff" stroke-width="0.35" stroke-linejoin="round"/><path d="M444 537.4 L464.19 511.93 A32.5 32.5 0 0 1 474.89 547.5Z" fill="#cc0c30" stroke="#fff" stroke-width="0.35" stroke-linejoin="round"/><path d="M444 537.4 L474.89 547.5 A32.5 32.5 0 0 1 414.57 551.18Z" fill="#f5bedb" stroke="#fff" stroke-width="0.35" stroke-linejoin="round"/><path d="M444 537.4 L414.57 551.18 A32.5 32.5 0 0 1 443.98 504.9Z" fill="#26a9e0" stroke="#fff" stroke-width="0.35" stroke-linejoin="round"/><text x="428.5" y="531.9" font-size="4.9" fill="#fff" text-anchor="middle" font-weight="bold">31.96%</text><text x="453" y="515.7" font-size="4.9" fill="#fff3e0" text-anchor="middle" font-weight="bold">10.67%</text><text x="463.8" y="534.2" font-size="4.9" fill="#fff" text-anchor="middle" font-weight="bold">19.36%</text><text x="446.2" y="558.8" font-size="4.9" fill="#4a3a5a" text-anchor="middle" font-weight="bold">38.00%</text><text x="444.2" y="501.8" font-size="6.8" fill="#222" text-anchor="middle" stroke="#222" stroke-width="0.18" textLength="20.0" lengthAdjust="spacingAndGlyphs">Obese</text><rect x="38.8" y="626.52" width="9.2" height="14.48" fill="#26a9e0"/><rect x="38.8" y="619.93" width="9.2" height="6.58" fill="#38ac44"/><rect x="38.8" y="578.3" width="9.2" height="41.63" fill="#cc0c30"/><rect x="50.1" y="622" width="8.9" height="19" fill="#26a9e0"/><rect x="50.1" y="618.49" width="8.9" height="3.51" fill="#38ac44"/><rect x="50.1" y="578.3" width="8.9" height="40.19" fill="#cc0c30"/><path d="M37.6 577.6V641H63.2" fill="none" stroke="#222" stroke-width="0.9"/><text x="32.3" y="642.75" font-size="4.95" fill="#3a3a3a" text-anchor="end" stroke="#3a3a3a" stroke-width="0.18">0%</text><text x="32.3" y="627.08" font-size="4.95" fill="#3a3a3a" text-anchor="end" stroke="#3a3a3a" stroke-width="0.18">25%</text><text x="32.3" y="611.4" font-size="4.95" fill="#3a3a3a" text-anchor="end" stroke="#3a3a3a" stroke-width="0.18">50%</text><text x="32.3" y="595.72" font-size="4.95" fill="#3a3a3a" text-anchor="end" stroke="#3a3a3a" stroke-width="0.18">75%</text><text x="32.3" y="580.05" font-size="4.95" fill="#3a3a3a" text-anchor="end" stroke="#3a3a3a" stroke-width="0.18">100%</text><path d="M34.7 641H37.6M34.7 625.33H37.6M34.7 609.65H37.6M34.7 593.97H37.6M34.7 578.3H37.6M43.4 641V643M54.55 641V643" stroke="#222" stroke-width="0.6" fill="none"/><text x="43.4" y="650.4" font-size="5.4" fill="#333" text-anchor="middle" stroke="#333" stroke-width="0.18">CT</text><text x="54.55" y="650.4" font-size="5.4" fill="#333" text-anchor="middle" stroke="#333" stroke-width="0.18">MO</text><text x="13.3" y="609.65" font-size="5.4" fill="#222" text-anchor="middle" transform="rotate(-90 13.3 609.65)" stroke="#222" stroke-width="0.18">Fraction (%)</text><rect x="202" y="627.9" width="8.6" height="13.1" fill="#26a9e0"/><rect x="202" y="606.26" width="8.6" height="21.63" fill="#38ac44"/><rect x="202" y="578.3" width="8.6" height="27.96" fill="#cc0c30"/><rect x="212.4" y="625.83" width="9.3" height="15.17" fill="#26a9e0"/><rect x="212.4" y="602.13" width="9.3" height="23.7" fill="#38ac44"/><rect x="212.4" y="578.3" width="9.3" height="23.83" fill="#cc0c30"/><path d="M200.5 577.6V641H225.8" fill="none" stroke="#222" stroke-width="0.9"/><text x="195.2" y="642.75" font-size="4.95" fill="#3a3a3a" text-anchor="end" stroke="#3a3a3a" stroke-width="0.18">0%</text><text x="195.2" y="627.08" font-size="4.95" fill="#3a3a3a" text-anchor="end" stroke="#3a3a3a" stroke-width="0.18">25%</text><text x="195.2" y="611.4" font-size="4.95" fill="#3a3a3a" text-anchor="end" stroke="#3a3a3a" stroke-width="0.18">50%</text><text x="195.2" y="595.72" font-size="4.95" fill="#3a3a3a" text-anchor="end" stroke="#3a3a3a" stroke-width="0.18">75%</text><text x="195.2" y="580.05" font-size="4.95" fill="#3a3a3a" text-anchor="end" stroke="#3a3a3a" stroke-width="0.18">100%</text><path d="M197.6 641H200.5M197.6 625.33H200.5M197.6 609.65H200.5M197.6 593.97H200.5M197.6 578.3H200.5M206.3 641V643M217.05 641V643" stroke="#222" stroke-width="0.6" fill="none"/><text x="206.3" y="650.4" font-size="5.4" fill="#333" text-anchor="middle" stroke="#333" stroke-width="0.18">CT</text><text x="217.05" y="650.4" font-size="5.4" fill="#333" text-anchor="middle" stroke="#333" stroke-width="0.18">MO</text><text x="176.2" y="609.65" font-size="5.4" fill="#222" text-anchor="middle" transform="rotate(-90 176.2 609.65)" stroke="#222" stroke-width="0.18">Fraction (%)</text><rect x="368" y="631.41" width="9.7" height="9.59" fill="#26a9e0"/><rect x="368" y="620.06" width="9.7" height="11.35" fill="#38ac44"/><rect x="368" y="578.3" width="9.7" height="41.76" fill="#cc0c30"/><rect x="379.4" y="634.1" width="9.6" height="6.9" fill="#26a9e0"/><rect x="379.4" y="630.97" width="9.6" height="3.13" fill="#38ac44"/><rect x="379.4" y="578.3" width="9.6" height="52.67" fill="#cc0c30"/><path d="M367.3 577.6V641H392.9" fill="none" stroke="#222" stroke-width="0.9"/><text x="362" y="642.75" font-size="4.95" fill="#3a3a3a" text-anchor="end" stroke="#3a3a3a" stroke-width="0.18">0%</text><text x="362" y="627.08" font-size="4.95" fill="#3a3a3a" text-anchor="end" stroke="#3a3a3a" stroke-width="0.18">25%</text><text x="362" y="611.4" font-size="4.95" fill="#3a3a3a" text-anchor="end" stroke="#3a3a3a" stroke-width="0.18">50%</text><text x="362" y="595.72" font-size="4.95" fill="#3a3a3a" text-anchor="end" stroke="#3a3a3a" stroke-width="0.18">75%</text><text x="362" y="580.05" font-size="4.95" fill="#3a3a3a" text-anchor="end" stroke="#3a3a3a" stroke-width="0.18">100%</text><path d="M364.4 641H367.3M364.4 625.33H367.3M364.4 609.65H367.3M364.4 593.97H367.3M364.4 578.3H367.3M372.85 641V643M384.2 641V643" stroke="#222" stroke-width="0.6" fill="none"/><text x="375.35" y="646.5" font-size="5.4" fill="#333" text-anchor="end" transform="rotate(-45 375.35 646.5)" stroke="#333" stroke-width="0.18">Lean</text><text x="386.7" y="646.5" font-size="5.4" fill="#333" text-anchor="end" transform="rotate(-45 386.7 646.5)" stroke="#333" stroke-width="0.18">Obese</text><text x="343" y="609.65" font-size="5.4" fill="#222" text-anchor="middle" transform="rotate(-90 343 609.65)" stroke="#222" stroke-width="0.18">Fraction (%)</text><path d="M84.8 592.5 L84.8 592.5 85.8 592.4 86.7 591.9 86.8 591.7 87.4 590.5 87.8 589.4 88.2 587.7 88.5 585.8 88.7 584.5 88.9 583.6 89.7 579.4 89.7 579 90.4 577.4 90.7 577.6 90.8 577.7 91 578.3 91.1 578.8 91.7 581.4 91.9 582.3 92.6 586 92.7 586.2 92.9 586.9 93 587.4 93.4 588.4 93.7 588.9 94.1 589.5 94.7 590 94.8 590 95.3 590.3 95.7 590.5 96.4 590.9 96.6 591 96.6 591 97.5 591.4 97.6 591.5 98.5 591.7 98.6 591.8 99.6 591.9 99.7 591.9 100.4 592 100.6 592 101.6 592 102.2 592.1 102.6 592.1 103.6 592.2 104.1 592.2 104.5 592.2 105.5 592.3 106 592.3 106.5 592.4 107.5 592.4 107.8 592.4 108.5 592.5 109.5 592.5 109.7 592.5 110.5 592.5 111.4 592.5 112.4 592.5 113.4 592.5 114.4 592.5 115.4 592.5 116.4 592.5 117.4 592.5 118.4 592.5 119.3 592.5 120.3 592.5 121.3 592.5 122.3 592.5 123.3 592.5 124.3 592.5 125.3 592.5 126.3 592.5 127.2 592.5 128.2 592.5 129.2 592.5 130.2 592.5 131.2 592.5 132.2 592.5 133.2 592.5 134.2 592.5 135.1 592.5 136.1 592.5 137.1 592.5 138.1 592.5 139.1 592.5 140.1 592.5 141.1 592.5 142.1 592.5 143 592.5 144 592.5 145 592.5 146 592.5 147 592.5 148 592.5 149 592.5 149.9 592.5 150.9 592.5 151.9 592.5 152.9 592.5 153.9 592.5 L153.9 592.5Z" fill="#26a9e0"/><path d="M84.8 592.5 85.8 592.4 86.7 591.9 86.8 591.7 87.4 590.5 87.8 589.4 88.2 587.7 88.5 585.8 88.7 584.5 88.9 583.6 89.7 579.4 89.7 579 90.4 577.4 90.7 577.6 90.8 577.7 91 578.3 91.1 578.8 91.7 581.4 91.9 582.3 92.6 586 92.7 586.2 92.9 586.9 93 587.4 93.4 588.4 93.7 588.9 94.1 589.5 94.7 590 94.8 590 95.3 590.3 95.7 590.5 96.4 590.9 96.6 591 96.6 591 97.5 591.4 97.6 591.5 98.5 591.7 98.6 591.8 99.6 591.9 99.7 591.9 100.4 592 100.6 592 101.6 592 102.2 592.1 102.6 592.1 103.6 592.2 104.1 592.2 104.5 592.2 105.5 592.3 106 592.3 106.5 592.4 107.5 592.4 107.8 592.4 108.5 592.5 109.5 592.5 109.7 592.5 110.5 592.5 111.4 592.5 112.4 592.5 113.4 592.5 114.4 592.5 115.4 592.5 116.4 592.5 117.4 592.5 118.4 592.5 119.3 592.5 120.3 592.5 121.3 592.5 122.3 592.5 123.3 592.5 124.3 592.5 125.3 592.5 126.3 592.5 127.2 592.5 128.2 592.5 129.2 592.5 130.2 592.5 131.2 592.5 132.2 592.5 133.2 592.5 134.2 592.5 135.1 592.5 136.1 592.5 137.1 592.5 138.1 592.5 139.1 592.5 140.1 592.5 141.1 592.5 142.1 592.5 143 592.5 144 592.5 145 592.5 146 592.5 147 592.5 148 592.5 149 592.5 149.9 592.5 150.9 592.5 151.9 592.5 152.9 592.5 153.9 592.5" fill="none" stroke="#3a3a3a" stroke-width="0.45"/><path d="M84.8 603.2 L84.8 603.2 85.8 603.1 86.7 602.6 86.8 602.5 87.4 601.3 87.8 600.3 88.2 598.7 88.5 596.8 88.7 595.6 88.9 594.7 89.7 590.8 89.7 590.5 89.8 590.3 90.4 589 90.7 589.2 91 590 91.1 590.4 91.7 592.9 91.9 593.9 92.3 595.8 92.6 597.4 92.7 597.7 93.4 599.7 93.5 600 93.7 600.3 94.1 600.8 94.7 601.1 94.8 601.1 95.7 601.4 96 601.5 96.6 601.7 97.2 601.9 97.6 602 97.9 602.1 98.5 602.3 98.6 602.4 99.6 602.6 99.7 602.6 100.6 602.7 101 602.7 101.6 602.8 101.6 602.8 102.6 602.8 103.5 602.8 103.6 602.8 104.5 602.9 105.3 603 105.5 603 106.5 603 107.2 603.1 107.5 603.1 108.5 603.1 109.1 603.1 109.5 603.2 110.5 603.2 110.9 603.2 111.4 603.2 112.4 603.2 113.4 603.2 114.4 603.2 115.4 603.2 116.4 603.2 117.4 603.2 118.4 603.2 119.3 603.2 120.3 603.2 121.3 603.2 122.3 603.2 123.3 603.2 124.3 603.2 125.3 603.2 126.3 603.2 127.2 603.2 128.2 603.2 129.2 603.2 130.2 603.2 131.2 603.2 132.2 603.2 133.2 603.2 134.2 603.2 135.1 603.2 136.1 603.2 137.1 603.2 138.1 603.2 139.1 603.2 140.1 603.2 141.1 603.2 142.1 603.2 143 603.2 144 603.2 145 603.2 146 603.2 147 603.2 148 603.2 149 603.2 149.9 603.2 150.9 603.2 151.9 603.2 152.9 603.2 153.9 603.2 L153.9 603.2Z" fill="#26a9e0"/><path d="M84.8 603.2 85.8 603.1 86.7 602.6 86.8 602.5 87.4 601.3 87.8 600.3 88.2 598.7 88.5 596.8 88.7 595.6 88.9 594.7 89.7 590.8 89.7 590.5 89.8 590.3 90.4 589 90.7 589.2 91 590 91.1 590.4 91.7 592.9 91.9 593.9 92.3 595.8 92.6 597.4 92.7 597.7 93.4 599.7 93.5 600 93.7 600.3 94.1 600.8 94.7 601.1 94.8 601.1 95.7 601.4 96 601.5 96.6 601.7 97.2 601.9 97.6 602 97.9 602.1 98.5 602.3 98.6 602.4 99.6 602.6 99.7 602.6 100.6 602.7 101 602.7 101.6 602.8 101.6 602.8 102.6 602.8 103.5 602.8 103.6 602.8 104.5 602.9 105.3 603 105.5 603 106.5 603 107.2 603.1 107.5 603.1 108.5 603.1 109.1 603.1 109.5 603.2 110.5 603.2 110.9 603.2 111.4 603.2 112.4 603.2 113.4 603.2 114.4 603.2 115.4 603.2 116.4 603.2 117.4 603.2 118.4 603.2 119.3 603.2 120.3 603.2 121.3 603.2 122.3 603.2 123.3 603.2 124.3 603.2 125.3 603.2 126.3 603.2 127.2 603.2 128.2 603.2 129.2 603.2 130.2 603.2 131.2 603.2 132.2 603.2 133.2 603.2 134.2 603.2 135.1 603.2 136.1 603.2 137.1 603.2 138.1 603.2 139.1 603.2 140.1 603.2 141.1 603.2 142.1 603.2 143 603.2 144 603.2 145 603.2 146 603.2 147 603.2 148 603.2 149 603.2 149.9 603.2 150.9 603.2 151.9 603.2 152.9 603.2 153.9 603.2" fill="none" stroke="#3a3a3a" stroke-width="0.45"/><path d="M84.8 621 L84.8 621 85.8 620.9 86.7 620.4 86.8 620.3 87.4 619.1 87.8 618 88.2 616.4 88.5 614.5 88.7 613.3 88.9 612.4 89.7 608.4 89.7 608.1 90.4 606.6 90.7 606.8 90.8 606.8 91.1 607.9 91.7 610.5 91.9 611.4 92.6 615 92.7 615.2 93 616.4 93.4 617.4 93.7 618 94.1 618.6 94.7 619 95.3 619.3 95.7 619.5 96.4 619.9 96.6 620 97.5 620.4 97.6 620.5 98.6 620.8 99.6 620.9 99.7 620.9 100.6 621 101.6 621 102.6 621 103.6 621 104.5 621 105.5 621 106.5 621 107.5 621 108.5 621 109.5 621 110.5 621 111.4 621 112.4 621 113.4 621 114.4 621 115.4 621 116.4 621 117.4 621 118.4 621 119.3 621 120.3 621 121.3 621 122.3 621 123.3 621 124.3 621 125.3 621 126.3 621 127.2 621 128.2 621 129.2 621 130.2 621 131.2 621 132.2 621 133.2 621 134.2 621 135.1 621 136.1 621 137.1 621 138.1 621 139.1 621 140.1 621 141.1 621 142.1 621 143 621 144 621 145 621 146 621 147 621 148 621 149 621 149.9 621 150.9 621 151.9 621 152.9 621 153.9 621 L153.9 621Z" fill="#26a9e0"/><path d="M84.8 621 85.8 620.9 86.7 620.4 86.8 620.3 87.4 619.1 87.8 618 88.2 616.4 88.5 614.5 88.7 613.3 88.9 612.4 89.7 608.4 89.7 608.1 90.4 606.6 90.7 606.8 90.8 606.8 91.1 607.9 91.7 610.5 91.9 611.4 92.6 615 92.7 615.2 93 616.4 93.4 617.4 93.7 618 94.1 618.6 94.7 619 95.3 619.3 95.7 619.5 96.4 619.9 96.6 620 97.5 620.4 97.6 620.5 98.6 620.8 99.6 620.9 99.7 620.9 100.6 621 101.6 621 102.6 621 103.6 621 104.5 621 105.5 621 106.5 621 107.5 621 108.5 621 109.5 621 110.5 621 111.4 621 112.4 621 113.4 621 114.4 621 115.4 621 116.4 621 117.4 621 118.4 621 119.3 621 120.3 621 121.3 621 122.3 621 123.3 621 124.3 621 125.3 621 126.3 621 127.2 621 128.2 621 129.2 621 130.2 621 131.2 621 132.2 621 133.2 621 134.2 621 135.1 621 136.1 621 137.1 621 138.1 621 139.1 621 140.1 621 141.1 621 142.1 621 143 621 144 621 145 621 146 621 147 621 148 621 149 621 149.9 621 150.9 621 151.9 621 152.9 621 153.9 621" fill="none" stroke="#3a3a3a" stroke-width="0.45"/><path d="M84.8 621 L84.8 621 85.8 621 86.8 621 87.8 621 88.7 621 89.7 621 90.7 621 91.6 621 91.7 621 92.7 620.9 92.9 620.9 93.7 620.9 94.1 620.9 94.7 620.8 95.4 620.7 95.7 620.7 96.3 620.6 96.6 620.6 96.6 620.6 97.6 620.5 97.9 620.5 98.6 620.5 99.1 620.5 99.6 620.5 100.4 620.5 100.6 620.5 101.6 620.5 101.6 620.5 101.9 620.5 102.6 620.4 102.9 620.4 103.6 620.3 104.1 620.3 104.5 620.2 104.7 620.2 105.5 620.1 106.5 620 107.5 619.8 107.5 619.8 108.5 619.7 109.1 619.7 109.5 619.6 110.3 619.6 110.5 619.6 111.4 619.5 111.6 619.5 112.4 619.5 113.1 619.5 113.4 619.5 114.1 619.5 114.4 619.5 115.4 619.5 115.9 619.5 116.4 619.5 116.5 619.4 117.4 619.4 118.4 619.4 118.7 619.4 119 619.4 119.3 619.4 120.3 619.4 121.3 619.4 121.5 619.4 122.3 619.5 123.3 619.6 124 619.7 124.3 619.7 124.3 619.7 125.3 619.9 126.3 620.1 126.5 620.1 127.2 620.3 128.2 620.4 129 620.5 129.2 620.6 130.2 620.7 131.2 620.8 131.5 620.8 132.2 620.9 133.2 620.9 134 620.9 134.2 620.9 135.1 621 136.1 621 137.1 621 138.1 621 139.1 621 140.1 621 141.1 621 142.1 621 143 621 144 621 145 621 146 621 147 621 148 621 149 621 149.9 621 150.9 621 151.9 621 152.9 621 153.9 621 L153.9 621Z" fill="#38ac44"/><path d="M84.8 621 85.8 621 86.8 621 87.8 621 88.7 621 89.7 621 90.7 621 91.6 621 91.7 621 92.7 620.9 92.9 620.9 93.7 620.9 94.1 620.9 94.7 620.8 95.4 620.7 95.7 620.7 96.3 620.6 96.6 620.6 96.6 620.6 97.6 620.5 97.9 620.5 98.6 620.5 99.1 620.5 99.6 620.5 100.4 620.5 100.6 620.5 101.6 620.5 101.6 620.5 101.9 620.5 102.6 620.4 102.9 620.4 103.6 620.3 104.1 620.3 104.5 620.2 104.7 620.2 105.5 620.1 106.5 620 107.5 619.8 107.5 619.8 108.5 619.7 109.1 619.7 109.5 619.6 110.3 619.6 110.5 619.6 111.4 619.5 111.6 619.5 112.4 619.5 113.1 619.5 113.4 619.5 114.1 619.5 114.4 619.5 115.4 619.5 115.9 619.5 116.4 619.5 116.5 619.4 117.4 619.4 118.4 619.4 118.7 619.4 119 619.4 119.3 619.4 120.3 619.4 121.3 619.4 121.5 619.4 122.3 619.5 123.3 619.6 124 619.7 124.3 619.7 124.3 619.7 125.3 619.9 126.3 620.1 126.5 620.1 127.2 620.3 128.2 620.4 129 620.5 129.2 620.6 130.2 620.7 131.2 620.8 131.5 620.8 132.2 620.9 133.2 620.9 134 620.9 134.2 620.9 135.1 621 136.1 621 137.1 621 138.1 621 139.1 621 140.1 621 141.1 621 142.1 621 143 621 144 621 145 621 146 621 147 621 148 621 149 621 149.9 621 150.9 621 151.9 621 152.9 621 153.9 621" fill="none" stroke="#3a3a3a" stroke-width="0.45"/><path d="M84.8 631.4 L84.8 631.4 85.8 631.3 86.7 630.8 86.8 630.7 87.4 629.6 87.8 628.6 88.2 627.1 88.5 625.4 88.7 624.3 88.9 623.4 89.7 619.7 89.7 619.4 90.4 618 90.7 618.1 90.8 618.2 91.1 619.2 91.7 621.5 91.9 622.4 92.6 625.7 92.7 625.9 93 627 93.4 627.9 93.7 628.5 94.1 629 94.7 629.4 95.3 629.7 95.7 629.9 96.4 630.3 96.6 630.4 97.5 630.8 97.6 630.9 98.6 631.2 99.6 631.3 99.7 631.3 100.6 631.4 101.6 631.4 102.6 631.4 103.6 631.4 104.5 631.4 105.5 631.4 106.5 631.4 107.5 631.4 108.5 631.4 109.5 631.4 110.5 631.4 111.4 631.4 112.4 631.4 113.4 631.4 114.4 631.4 115.4 631.4 116.4 631.4 117.4 631.4 118.4 631.4 119.3 631.4 120.3 631.4 121.3 631.4 122.3 631.4 123.3 631.4 124.3 631.4 125.3 631.4 126.3 631.4 127.2 631.4 128.2 631.4 129.2 631.4 130.2 631.4 131.2 631.4 132.2 631.4 133.2 631.4 134.2 631.4 135.1 631.4 136.1 631.4 137.1 631.4 138.1 631.4 139.1 631.4 140.1 631.4 141.1 631.4 142.1 631.4 143 631.4 144 631.4 145 631.4 146 631.4 147 631.4 148 631.4 149 631.4 149.9 631.4 150.9 631.4 151.9 631.4 152.9 631.4 153.9 631.4 L153.9 631.4Z" fill="#26a9e0"/><path d="M84.8 631.4 85.8 631.3 86.7 630.8 86.8 630.7 87.4 629.6 87.8 628.6 88.2 627.1 88.5 625.4 88.7 624.3 88.9 623.4 89.7 619.7 89.7 619.4 90.4 618 90.7 618.1 90.8 618.2 91.1 619.2 91.7 621.5 91.9 622.4 92.6 625.7 92.7 625.9 93 627 93.4 627.9 93.7 628.5 94.1 629 94.7 629.4 95.3 629.7 95.7 629.9 96.4 630.3 96.6 630.4 97.5 630.8 97.6 630.9 98.6 631.2 99.6 631.3 99.7 631.3 100.6 631.4 101.6 631.4 102.6 631.4 103.6 631.4 104.5 631.4 105.5 631.4 106.5 631.4 107.5 631.4 108.5 631.4 109.5 631.4 110.5 631.4 111.4 631.4 112.4 631.4 113.4 631.4 114.4 631.4 115.4 631.4 116.4 631.4 117.4 631.4 118.4 631.4 119.3 631.4 120.3 631.4 121.3 631.4 122.3 631.4 123.3 631.4 124.3 631.4 125.3 631.4 126.3 631.4 127.2 631.4 128.2 631.4 129.2 631.4 130.2 631.4 131.2 631.4 132.2 631.4 133.2 631.4 134.2 631.4 135.1 631.4 136.1 631.4 137.1 631.4 138.1 631.4 139.1 631.4 140.1 631.4 141.1 631.4 142.1 631.4 143 631.4 144 631.4 145 631.4 146 631.4 147 631.4 148 631.4 149 631.4 149.9 631.4 150.9 631.4 151.9 631.4 152.9 631.4 153.9 631.4" fill="none" stroke="#3a3a3a" stroke-width="0.45"/><path d="M84.8 631.4 L84.8 631.4 85.8 631.4 86.8 631.4 87.8 631.4 88.7 631.4 89.7 631.4 90.7 631.4 91.7 631.4 92.7 631.4 93.7 631.4 94.7 631.4 95.7 631.4 96.6 631.4 97.2 631.4 97.6 631.4 98.6 631.3 99.1 631.3 99.6 631.3 100.6 631.2 101 631.2 101.6 631.1 102.6 631 102.9 630.9 103.6 630.8 104.5 630.7 104.7 630.6 105.3 630.5 105.5 630.5 106.5 630.3 106.6 630.3 107.5 630.2 107.8 630.1 108.5 630 108.5 630 109.5 629.8 110.3 629.7 110.5 629.7 111.4 629.5 112.2 629.4 112.4 629.4 112.8 629.3 113.4 629.2 114.1 629.2 114.4 629.1 115.3 629.1 115.4 629.1 115.9 629.1 116.2 629.1 116.4 629.1 117.4 629.1 117.8 629.1 118.4 629.1 119.3 629 120.3 628.9 120.3 628.9 120.9 628.8 121.3 628.7 122.3 628.5 122.5 628.5 122.8 628.5 123.3 628.5 124 628.5 124.3 628.6 125.3 628.9 125.3 628.9 125.6 629 126.3 629.4 127.1 629.8 127.2 629.9 127.8 630.1 128.2 630.4 128.7 630.6 129.2 630.8 130.2 631 130.2 631.1 131.2 631.2 131.8 631.3 132.2 631.3 133.2 631.4 134.2 631.4 135.1 631.4 136.1 631.4 137.1 631.4 138.1 631.4 139.1 631.4 140.1 631.4 141.1 631.4 142.1 631.4 143 631.4 144 631.4 145 631.4 146 631.4 147 631.4 148 631.4 149 631.4 149.9 631.4 150.9 631.4 151.9 631.4 152.9 631.4 153.9 631.4 L153.9 631.4Z" fill="#38ac44"/><path d="M84.8 631.4 85.8 631.4 86.8 631.4 87.8 631.4 88.7 631.4 89.7 631.4 90.7 631.4 91.7 631.4 92.7 631.4 93.7 631.4 94.7 631.4 95.7 631.4 96.6 631.4 97.2 631.4 97.6 631.4 98.6 631.3 99.1 631.3 99.6 631.3 100.6 631.2 101 631.2 101.6 631.1 102.6 631 102.9 630.9 103.6 630.8 104.5 630.7 104.7 630.6 105.3 630.5 105.5 630.5 106.5 630.3 106.6 630.3 107.5 630.2 107.8 630.1 108.5 630 108.5 630 109.5 629.8 110.3 629.7 110.5 629.7 111.4 629.5 112.2 629.4 112.4 629.4 112.8 629.3 113.4 629.2 114.1 629.2 114.4 629.1 115.3 629.1 115.4 629.1 115.9 629.1 116.2 629.1 116.4 629.1 117.4 629.1 117.8 629.1 118.4 629.1 119.3 629 120.3 628.9 120.3 628.9 120.9 628.8 121.3 628.7 122.3 628.5 122.5 628.5 122.8 628.5 123.3 628.5 124 628.5 124.3 628.6 125.3 628.9 125.3 628.9 125.6 629 126.3 629.4 127.1 629.8 127.2 629.9 127.8 630.1 128.2 630.4 128.7 630.6 129.2 630.8 130.2 631 130.2 631.1 131.2 631.2 131.8 631.3 132.2 631.3 133.2 631.4 134.2 631.4 135.1 631.4 136.1 631.4 137.1 631.4 138.1 631.4 139.1 631.4 140.1 631.4 141.1 631.4 142.1 631.4 143 631.4 144 631.4 145 631.4 146 631.4 147 631.4 148 631.4 149 631.4 149.9 631.4 150.9 631.4 151.9 631.4 152.9 631.4 153.9 631.4" fill="none" stroke="#3a3a3a" stroke-width="0.45"/><path d="M82.5 576V633.7H153.9" fill="none" stroke="#222" stroke-width="0.9"/><text x="77.3" y="594.3" font-size="5.2" fill="#333" text-anchor="end" stroke="#333" stroke-width="0.18">MO</text><text x="77.3" y="605" font-size="5.2" fill="#333" text-anchor="end" stroke="#333" stroke-width="0.18">CT</text><text x="77.3" y="622.8" font-size="5.2" fill="#333" text-anchor="end" stroke="#333" stroke-width="0.18">MO</text><text x="77.3" y="633.2" font-size="5.2" fill="#333" text-anchor="end" stroke="#333" stroke-width="0.18">CT</text><path d="M90.4 633.7V635.7M102.85 633.7V635.7M115.3 633.7V635.7M127.75 633.7V635.7M140.2 633.7V635.7M152.65 633.7V635.7M80.1 592.5H82.5M80.1 603.2H82.5M80.1 621H82.5M80.1 631.4H82.5" stroke="#222" stroke-width="0.6" fill="none"/><text x="90.4" y="643.7" font-size="5" fill="#444" text-anchor="middle" stroke="#444" stroke-width="0.18">0</text><text x="102.85" y="643.7" font-size="5" fill="#444" text-anchor="middle" stroke="#444" stroke-width="0.18">1</text><text x="115.3" y="643.7" font-size="5" fill="#444" text-anchor="middle" stroke="#444" stroke-width="0.18">2</text><text x="127.75" y="643.7" font-size="5" fill="#444" text-anchor="middle" stroke="#444" stroke-width="0.18">3</text><text x="140.2" y="643.7" font-size="5" fill="#444" text-anchor="middle" stroke="#444" stroke-width="0.18">4</text><text x="152.65" y="643.7" font-size="5" fill="#444" text-anchor="middle" stroke="#444" stroke-width="0.18">5</text><text x="118.5" y="652.6" font-size="6.4" fill="#333" text-anchor="middle" stroke="#333" stroke-width="0.18" textLength="22.5" lengthAdjust="spacingAndGlyphs">Expression</text><text x="136.6" y="586.2" font-size="4.9" fill="#333" stroke="#333" stroke-width="0.18">Pcna</text><text x="136.6" y="611.8" font-size="4.9" fill="#333" stroke="#333" stroke-width="0.18">MKI67</text><path d="M248.6 594.5 L248.6 594.5 249.6 594.4 250.6 594 250.7 593.9 251.3 592.7 251.6 591.8 252 590.3 252.7 586.6 253.3 583 253.7 581.8 254 581.5 254.7 583 254.7 583.3 255.3 586.6 255.8 589 256 590.3 256.7 592.7 256.8 593 257.3 593.9 257.8 594.3 258.8 594.5 259.9 594.5 260.9 594.5 261.9 594.5 263 594.5 264 594.5 265 594.5 266 594.5 267.1 594.5 268.1 594.5 269.1 594.5 270.2 594.5 271.2 594.5 272.2 594.5 273.2 594.5 274.3 594.5 275.3 594.5 276.3 594.5 277.4 594.5 278.4 594.5 279.4 594.5 280.4 594.5 281.5 594.5 282.5 594.5 283.5 594.5 284.6 594.5 285.6 594.5 286.6 594.5 287.6 594.5 288.7 594.5 289.7 594.5 290.7 594.5 291.8 594.5 292.8 594.5 293.8 594.5 294.8 594.5 295.9 594.5 296.9 594.5 297.9 594.5 299 594.5 300 594.5 301 594.5 302 594.5 303.1 594.5 304.1 594.5 305.1 594.5 306.2 594.5 307.2 594.5 308.2 594.5 309.2 594.5 310.3 594.5 311.3 594.5 312.3 594.5 313.4 594.5 314.4 594.5 315.4 594.5 316.4 594.5 317.5 594.5 318.5 594.5 319.5 594.5 320.6 594.5 L320.6 594.5Z" fill="#cc0c30"/><path d="M248.6 594.5 249.6 594.4 250.6 594 250.7 593.9 251.3 592.7 251.6 591.8 252 590.3 252.7 586.6 253.3 583 253.7 581.8 254 581.5 254.7 583 254.7 583.3 255.3 586.6 255.8 589 256 590.3 256.7 592.7 256.8 593 257.3 593.9 257.8 594.3 258.8 594.5 259.9 594.5 260.9 594.5 261.9 594.5 263 594.5 264 594.5 265 594.5 266 594.5 267.1 594.5 268.1 594.5 269.1 594.5 270.2 594.5 271.2 594.5 272.2 594.5 273.2 594.5 274.3 594.5 275.3 594.5 276.3 594.5 277.4 594.5 278.4 594.5 279.4 594.5 280.4 594.5 281.5 594.5 282.5 594.5 283.5 594.5 284.6 594.5 285.6 594.5 286.6 594.5 287.6 594.5 288.7 594.5 289.7 594.5 290.7 594.5 291.8 594.5 292.8 594.5 293.8 594.5 294.8 594.5 295.9 594.5 296.9 594.5 297.9 594.5 299 594.5 300 594.5 301 594.5 302 594.5 303.1 594.5 304.1 594.5 305.1 594.5 306.2 594.5 307.2 594.5 308.2 594.5 309.2 594.5 310.3 594.5 311.3 594.5 312.3 594.5 313.4 594.5 314.4 594.5 315.4 594.5 316.4 594.5 317.5 594.5 318.5 594.5 319.5 594.5 320.6 594.5" fill="none" stroke="#3a3a3a" stroke-width="0.45"/><path d="M248.6 594.5 L248.6 594.5 249.6 594.4 250.4 594.2 250.6 594 251.1 593.5 251.6 592.5 251.8 592.1 252.5 590 252.7 589.6 253.3 587.9 253.7 587.2 254 587 254.7 587.9 255.5 590 255.8 590.9 256.2 592.1 256.8 593.3 256.9 593.5 257.6 594.2 257.8 594.3 258.8 594.5 259.9 594.5 260.9 594.5 261.9 594.5 263 594.5 264 594.5 265 594.5 266 594.5 267.1 594.5 268.1 594.5 269.1 594.5 270.2 594.5 271.2 594.5 272.2 594.5 273.2 594.5 274.3 594.5 275.3 594.5 276.3 594.5 277.4 594.5 278.4 594.5 279.4 594.5 280.4 594.5 281.5 594.5 282.5 594.5 283.5 594.5 284.6 594.5 285.6 594.5 286.6 594.5 287.6 594.5 288.7 594.5 289.7 594.5 290.7 594.5 291.8 594.5 292.8 594.5 293.8 594.5 294.8 594.5 295.9 594.5 296.9 594.5 297.9 594.5 299 594.5 300 594.5 301 594.5 302 594.5 303.1 594.5 304.1 594.5 305.1 594.5 306.2 594.5 307.2 594.5 308.2 594.5 309.2 594.5 310.3 594.5 311.3 594.5 312.3 594.5 313.4 594.5 314.4 594.5 315.4 594.5 316.4 594.5 317.5 594.5 318.5 594.5 319.5 594.5 320.6 594.5 L320.6 594.5Z" fill="#38ac44"/><path d="M248.6 594.5 249.6 594.4 250.4 594.2 250.6 594 251.1 593.5 251.6 592.5 251.8 592.1 252.5 590 252.7 589.6 253.3 587.9 253.7 587.2 254 587 254.7 587.9 255.5 590 255.8 590.9 256.2 592.1 256.8 593.3 256.9 593.5 257.6 594.2 257.8 594.3 258.8 594.5 259.9 594.5 260.9 594.5 261.9 594.5 263 594.5 264 594.5 265 594.5 266 594.5 267.1 594.5 268.1 594.5 269.1 594.5 270.2 594.5 271.2 594.5 272.2 594.5 273.2 594.5 274.3 594.5 275.3 594.5 276.3 594.5 277.4 594.5 278.4 594.5 279.4 594.5 280.4 594.5 281.5 594.5 282.5 594.5 283.5 594.5 284.6 594.5 285.6 594.5 286.6 594.5 287.6 594.5 288.7 594.5 289.7 594.5 290.7 594.5 291.8 594.5 292.8 594.5 293.8 594.5 294.8 594.5 295.9 594.5 296.9 594.5 297.9 594.5 299 594.5 300 594.5 301 594.5 302 594.5 303.1 594.5 304.1 594.5 305.1 594.5 306.2 594.5 307.2 594.5 308.2 594.5 309.2 594.5 310.3 594.5 311.3 594.5 312.3 594.5 313.4 594.5 314.4 594.5 315.4 594.5 316.4 594.5 317.5 594.5 318.5 594.5 319.5 594.5 320.6 594.5" fill="none" stroke="#3a3a3a" stroke-width="0.45"/><path d="M248.6 594.5 L248.6 594.5 249.6 594.5 250.6 594.5 251.6 594.5 252.7 594.5 253.7 594.5 254.7 594.5 255.8 594.5 256.8 594.5 257.3 594.5 257.8 594.4 258.8 594.4 259.9 594.3 260.4 594.2 260.9 594.1 261.9 593.9 261.9 593.9 263 593.7 263.4 593.7 264 593.6 264.9 593.5 265 593.5 266 593.5 266.1 593.5 266.4 593.5 267.1 593.5 267.9 593.6 268.1 593.6 268.5 593.5 269.1 593.5 269.4 593.5 270.2 593.3 270.9 593.1 271.2 593.1 272.2 592.7 272.5 592.6 273.2 592.2 273.4 592.2 274.3 591.8 275.3 591.3 275.8 591.1 276.3 591 277.4 590.8 278.2 590.7 278.4 590.7 279.4 590.8 280.4 591.1 280.6 591.1 281.5 591.5 282.5 591.9 283 592.2 283.5 592.4 284.6 592.9 285.5 593.3 285.6 593.3 286.6 593.7 287.6 593.9 287.9 594 288.7 594.1 289.7 594.3 290.3 594.3 290.7 594.4 291.8 594.4 292.8 594.5 293.8 594.5 294.8 594.5 295.9 594.5 296.9 594.5 297.9 594.5 299 594.5 300 594.5 301 594.5 302 594.5 303.1 594.5 304.1 594.5 305.1 594.5 306.2 594.5 307.2 594.5 308.2 594.5 309.2 594.5 310.3 594.5 311.3 594.5 312.3 594.5 313.4 594.5 314.4 594.5 315.4 594.5 316.4 594.5 317.5 594.5 318.5 594.5 319.5 594.5 320.6 594.5 L320.6 594.5Z" fill="#26a9e0"/><path d="M248.6 594.5 249.6 594.5 250.6 594.5 251.6 594.5 252.7 594.5 253.7 594.5 254.7 594.5 255.8 594.5 256.8 594.5 257.3 594.5 257.8 594.4 258.8 594.4 259.9 594.3 260.4 594.2 260.9 594.1 261.9 593.9 261.9 593.9 263 593.7 263.4 593.7 264 593.6 264.9 593.5 265 593.5 266 593.5 266.1 593.5 266.4 593.5 267.1 593.5 267.9 593.6 268.1 593.6 268.5 593.5 269.1 593.5 269.4 593.5 270.2 593.3 270.9 593.1 271.2 593.1 272.2 592.7 272.5 592.6 273.2 592.2 273.4 592.2 274.3 591.8 275.3 591.3 275.8 591.1 276.3 591 277.4 590.8 278.2 590.7 278.4 590.7 279.4 590.8 280.4 591.1 280.6 591.1 281.5 591.5 282.5 591.9 283 592.2 283.5 592.4 284.6 592.9 285.5 593.3 285.6 593.3 286.6 593.7 287.6 593.9 287.9 594 288.7 594.1 289.7 594.3 290.3 594.3 290.7 594.4 291.8 594.4 292.8 594.5 293.8 594.5 294.8 594.5 295.9 594.5 296.9 594.5 297.9 594.5 299 594.5 300 594.5 301 594.5 302 594.5 303.1 594.5 304.1 594.5 305.1 594.5 306.2 594.5 307.2 594.5 308.2 594.5 309.2 594.5 310.3 594.5 311.3 594.5 312.3 594.5 313.4 594.5 314.4 594.5 315.4 594.5 316.4 594.5 317.5 594.5 318.5 594.5 319.5 594.5 320.6 594.5" fill="none" stroke="#3a3a3a" stroke-width="0.45"/><path d="M248.6 607.8 L248.6 607.8 249.6 607.7 250.6 607.3 250.7 607.2 251.3 606 251.6 605.1 252 603.6 252.7 599.9 253.3 596.3 253.7 595.1 254 594.8 254.7 596.3 254.7 596.6 255.3 599.9 255.8 602.3 256 603.6 256.7 606 256.8 606.3 257.3 607.2 257.8 607.6 258.8 607.8 259.9 607.8 260.9 607.8 261.9 607.8 263 607.8 264 607.8 265 607.8 266 607.8 267.1 607.8 268.1 607.8 269.1 607.8 270.2 607.8 271.2 607.8 272.2 607.8 273.2 607.8 274.3 607.8 275.3 607.8 276.3 607.8 277.4 607.8 278.4 607.8 279.4 607.8 280.4 607.8 281.5 607.8 282.5 607.8 283.5 607.8 284.6 607.8 285.6 607.8 286.6 607.8 287.6 607.8 288.7 607.8 289.7 607.8 290.7 607.8 291.8 607.8 292.8 607.8 293.8 607.8 294.8 607.8 295.9 607.8 296.9 607.8 297.9 607.8 299 607.8 300 607.8 301 607.8 302 607.8 303.1 607.8 304.1 607.8 305.1 607.8 306.2 607.8 307.2 607.8 308.2 607.8 309.2 607.8 310.3 607.8 311.3 607.8 312.3 607.8 313.4 607.8 314.4 607.8 315.4 607.8 316.4 607.8 317.5 607.8 318.5 607.8 319.5 607.8 320.6 607.8 L320.6 607.8Z" fill="#cc0c30"/><path d="M248.6 607.8 249.6 607.7 250.6 607.3 250.7 607.2 251.3 606 251.6 605.1 252 603.6 252.7 599.9 253.3 596.3 253.7 595.1 254 594.8 254.7 596.3 254.7 596.6 255.3 599.9 255.8 602.3 256 603.6 256.7 606 256.8 606.3 257.3 607.2 257.8 607.6 258.8 607.8 259.9 607.8 260.9 607.8 261.9 607.8 263 607.8 264 607.8 265 607.8 266 607.8 267.1 607.8 268.1 607.8 269.1 607.8 270.2 607.8 271.2 607.8 272.2 607.8 273.2 607.8 274.3 607.8 275.3 607.8 276.3 607.8 277.4 607.8 278.4 607.8 279.4 607.8 280.4 607.8 281.5 607.8 282.5 607.8 283.5 607.8 284.6 607.8 285.6 607.8 286.6 607.8 287.6 607.8 288.7 607.8 289.7 607.8 290.7 607.8 291.8 607.8 292.8 607.8 293.8 607.8 294.8 607.8 295.9 607.8 296.9 607.8 297.9 607.8 299 607.8 300 607.8 301 607.8 302 607.8 303.1 607.8 304.1 607.8 305.1 607.8 306.2 607.8 307.2 607.8 308.2 607.8 309.2 607.8 310.3 607.8 311.3 607.8 312.3 607.8 313.4 607.8 314.4 607.8 315.4 607.8 316.4 607.8 317.5 607.8 318.5 607.8 319.5 607.8 320.6 607.8" fill="none" stroke="#3a3a3a" stroke-width="0.45"/><path d="M248.6 607.8 L248.6 607.8 249.6 607.7 250.4 607.4 250.6 607.3 251.1 606.7 251.6 605.7 251.8 605.2 252.5 602.9 252.7 602.5 253.3 600.7 253.7 600 254 599.8 254.7 600.7 255.5 602.9 255.8 603.9 256.2 605.2 256.8 606.5 256.9 606.7 257.6 607.4 257.8 607.5 258.8 607.8 259.9 607.8 260.9 607.8 261.9 607.8 263 607.8 264 607.8 265 607.8 266 607.8 267.1 607.8 268.1 607.8 269.1 607.8 270.2 607.8 271.2 607.8 272.2 607.8 273.2 607.8 274.3 607.8 275.3 607.8 276.3 607.8 277.4 607.8 278.4 607.8 279.4 607.8 280.4 607.8 281.5 607.8 282.5 607.8 283.5 607.8 284.6 607.8 285.6 607.8 286.6 607.8 287.6 607.8 288.7 607.8 289.7 607.8 290.7 607.8 291.8 607.8 292.8 607.8 293.8 607.8 294.8 607.8 295.9 607.8 296.9 607.8 297.9 607.8 299 607.8 300 607.8 301 607.8 302 607.8 303.1 607.8 304.1 607.8 305.1 607.8 306.2 607.8 307.2 607.8 308.2 607.8 309.2 607.8 310.3 607.8 311.3 607.8 312.3 607.8 313.4 607.8 314.4 607.8 315.4 607.8 316.4 607.8 317.5 607.8 318.5 607.8 319.5 607.8 320.6 607.8 L320.6 607.8Z" fill="#38ac44"/><path d="M248.6 607.8 249.6 607.7 250.4 607.4 250.6 607.3 251.1 606.7 251.6 605.7 251.8 605.2 252.5 602.9 252.7 602.5 253.3 600.7 253.7 600 254 599.8 254.7 600.7 255.5 602.9 255.8 603.9 256.2 605.2 256.8 606.5 256.9 606.7 257.6 607.4 257.8 607.5 258.8 607.8 259.9 607.8 260.9 607.8 261.9 607.8 263 607.8 264 607.8 265 607.8 266 607.8 267.1 607.8 268.1 607.8 269.1 607.8 270.2 607.8 271.2 607.8 272.2 607.8 273.2 607.8 274.3 607.8 275.3 607.8 276.3 607.8 277.4 607.8 278.4 607.8 279.4 607.8 280.4 607.8 281.5 607.8 282.5 607.8 283.5 607.8 284.6 607.8 285.6 607.8 286.6 607.8 287.6 607.8 288.7 607.8 289.7 607.8 290.7 607.8 291.8 607.8 292.8 607.8 293.8 607.8 294.8 607.8 295.9 607.8 296.9 607.8 297.9 607.8 299 607.8 300 607.8 301 607.8 302 607.8 303.1 607.8 304.1 607.8 305.1 607.8 306.2 607.8 307.2 607.8 308.2 607.8 309.2 607.8 310.3 607.8 311.3 607.8 312.3 607.8 313.4 607.8 314.4 607.8 315.4 607.8 316.4 607.8 317.5 607.8 318.5 607.8 319.5 607.8 320.6 607.8" fill="none" stroke="#3a3a3a" stroke-width="0.45"/><path d="M248.6 607.8 L248.6 607.8 249.6 607.8 250.6 607.8 251.6 607.8 252.7 607.8 253.7 607.8 254.7 607.8 255.8 607.8 256.8 607.8 257.3 607.8 257.8 607.7 258.8 607.7 259.9 607.6 260.4 607.5 260.9 607.5 261.9 607.3 261.9 607.3 263 607.1 263.4 607.1 264 607 264.9 606.9 265 606.9 266 606.9 266.1 606.9 266.4 606.9 267.1 606.9 267.9 607 268.1 607 268.5 607 269.1 606.9 269.4 606.9 270.2 606.8 270.9 606.6 271.2 606.5 272.2 606.2 272.5 606.1 273.2 605.8 273.4 605.7 274.3 605.3 275.3 605 275.8 604.8 276.3 604.6 277.4 604.5 278.2 604.4 278.4 604.4 279.4 604.5 280.4 604.7 280.6 604.8 281.5 605.1 282.5 605.5 283 605.7 283.5 605.9 284.6 606.4 285.5 606.7 285.6 606.7 286.6 607 287.6 607.3 287.9 607.3 288.7 607.5 289.7 607.6 290.3 607.7 290.7 607.7 291.8 607.7 292.8 607.8 293.8 607.8 294.8 607.8 295.9 607.8 296.9 607.8 297.9 607.8 299 607.8 300 607.8 301 607.8 302 607.8 303.1 607.8 304.1 607.8 305.1 607.8 306.2 607.8 307.2 607.8 308.2 607.8 309.2 607.8 310.3 607.8 311.3 607.8 312.3 607.8 313.4 607.8 314.4 607.8 315.4 607.8 316.4 607.8 317.5 607.8 318.5 607.8 319.5 607.8 320.6 607.8 L320.6 607.8Z" fill="#26a9e0"/><path d="M248.6 607.8 249.6 607.8 250.6 607.8 251.6 607.8 252.7 607.8 253.7 607.8 254.7 607.8 255.8 607.8 256.8 607.8 257.3 607.8 257.8 607.7 258.8 607.7 259.9 607.6 260.4 607.5 260.9 607.5 261.9 607.3 261.9 607.3 263 607.1 263.4 607.1 264 607 264.9 606.9 265 606.9 266 606.9 266.1 606.9 266.4 606.9 267.1 606.9 267.9 607 268.1 607 268.5 607 269.1 606.9 269.4 606.9 270.2 606.8 270.9 606.6 271.2 606.5 272.2 606.2 272.5 606.1 273.2 605.8 273.4 605.7 274.3 605.3 275.3 605 275.8 604.8 276.3 604.6 277.4 604.5 278.2 604.4 278.4 604.4 279.4 604.5 280.4 604.7 280.6 604.8 281.5 605.1 282.5 605.5 283 605.7 283.5 605.9 284.6 606.4 285.5 606.7 285.6 606.7 286.6 607 287.6 607.3 287.9 607.3 288.7 607.5 289.7 607.6 290.3 607.7 290.7 607.7 291.8 607.7 292.8 607.8 293.8 607.8 294.8 607.8 295.9 607.8 296.9 607.8 297.9 607.8 299 607.8 300 607.8 301 607.8 302 607.8 303.1 607.8 304.1 607.8 305.1 607.8 306.2 607.8 307.2 607.8 308.2 607.8 309.2 607.8 310.3 607.8 311.3 607.8 312.3 607.8 313.4 607.8 314.4 607.8 315.4 607.8 316.4 607.8 317.5 607.8 318.5 607.8 319.5 607.8 320.6 607.8" fill="none" stroke="#3a3a3a" stroke-width="0.45"/><path d="M248.6 619.8 L248.6 619.8 249.6 619.8 250.4 619.6 250.6 619.6 251.1 619.3 251.6 618.8 251.8 618.6 252.5 617.6 252.7 617.4 253.3 616.6 253.7 616.3 254 616.2 254.7 616.6 255.5 617.6 255.8 618.1 256.2 618.6 256.8 619.2 256.9 619.3 257.6 619.6 257.8 619.7 258.8 619.8 259.9 619.8 260.9 619.8 261.9 619.7 261.9 619.7 263 619.6 263.2 619.5 264 619.3 264.5 619.1 265 618.9 265.9 618.5 266 618.4 267.1 617.9 267.2 617.8 267.9 617.6 268.1 617.6 268.5 617.5 269.1 617.6 269.7 617.7 269.9 617.7 270.2 617.8 271.2 618.2 271.5 618.4 272.2 618.6 272.5 618.7 273.2 618.8 273.4 618.8 273.8 618.9 274.3 618.9 275.2 618.9 275.3 618.9 276.3 618.9 277 618.9 277.4 618.9 278.4 619 278.8 619 279.4 619.1 280.4 619.2 280.6 619.3 281.5 619.4 282.4 619.5 282.5 619.5 283.5 619.6 284.2 619.7 284.6 619.7 285.6 619.7 286.1 619.8 286.6 619.8 287.6 619.8 288.7 619.8 289.7 619.8 290.7 619.8 291.8 619.8 292.8 619.8 293.8 619.8 294.8 619.8 295.9 619.8 296.9 619.8 297.9 619.8 299 619.8 300 619.8 301 619.8 302 619.8 303.1 619.8 304.1 619.8 305.1 619.8 306.2 619.8 307.2 619.8 308.2 619.8 309.2 619.8 310.3 619.8 311.3 619.8 312.3 619.8 313.4 619.8 314.4 619.8 315.4 619.8 316.4 619.8 317.5 619.8 318.5 619.8 319.5 619.8 320.6 619.8 L320.6 619.8Z" fill="#cc0c30"/><path d="M248.6 619.8 249.6 619.8 250.4 619.6 250.6 619.6 251.1 619.3 251.6 618.8 251.8 618.6 252.5 617.6 252.7 617.4 253.3 616.6 253.7 616.3 254 616.2 254.7 616.6 255.5 617.6 255.8 618.1 256.2 618.6 256.8 619.2 256.9 619.3 257.6 619.6 257.8 619.7 258.8 619.8 259.9 619.8 260.9 619.8 261.9 619.7 261.9 619.7 263 619.6 263.2 619.5 264 619.3 264.5 619.1 265 618.9 265.9 618.5 266 618.4 267.1 617.9 267.2 617.8 267.9 617.6 268.1 617.6 268.5 617.5 269.1 617.6 269.7 617.7 269.9 617.7 270.2 617.8 271.2 618.2 271.5 618.4 272.2 618.6 272.5 618.7 273.2 618.8 273.4 618.8 273.8 618.9 274.3 618.9 275.2 618.9 275.3 618.9 276.3 618.9 277 618.9 277.4 618.9 278.4 619 278.8 619 279.4 619.1 280.4 619.2 280.6 619.3 281.5 619.4 282.4 619.5 282.5 619.5 283.5 619.6 284.2 619.7 284.6 619.7 285.6 619.7 286.1 619.8 286.6 619.8 287.6 619.8 288.7 619.8 289.7 619.8 290.7 619.8 291.8 619.8 292.8 619.8 293.8 619.8 294.8 619.8 295.9 619.8 296.9 619.8 297.9 619.8 299 619.8 300 619.8 301 619.8 302 619.8 303.1 619.8 304.1 619.8 305.1 619.8 306.2 619.8 307.2 619.8 308.2 619.8 309.2 619.8 310.3 619.8 311.3 619.8 312.3 619.8 313.4 619.8 314.4 619.8 315.4 619.8 316.4 619.8 317.5 619.8 318.5 619.8 319.5 619.8 320.6 619.8" fill="none" stroke="#3a3a3a" stroke-width="0.45"/><path d="M248.6 619.8 L248.6 619.8 249.6 619.8 250.6 619.8 251.6 619.8 252.7 619.8 253.7 619.8 254.7 619.8 255.8 619.8 256.8 619.8 257.8 619.8 258.8 619.8 259.9 619.8 260.9 619.8 261.9 619.8 263 619.8 264 619.8 265 619.8 266 619.8 267.1 619.8 268.1 619.7 268.5 619.7 269.1 619.7 270.2 619.6 270.9 619.5 271.2 619.5 272.1 619.4 272.2 619.4 273.2 619.2 273.4 619.2 274.3 619 275.3 618.7 275.8 618.6 276.3 618.4 277.4 618.1 278.2 617.8 278.4 617.8 279.4 617.5 280.4 617.2 280.6 617.1 281.5 616.9 282.5 616.7 283 616.6 283.5 616.5 284.6 616.3 285.5 616.2 285.6 616.2 286.6 616.1 286.7 616.1 287.6 616 287.9 616 288.7 616 289.7 616 290.3 616 290.7 616.1 291.8 616.2 292.7 616.3 292.8 616.4 293.8 616.6 293.9 616.6 294.8 616.8 295.9 617.1 296.9 617.4 297.6 617.6 297.9 617.7 299 618 300 618.3 301 618.6 301.2 618.6 302 618.8 303.1 619 304.1 619.2 304.8 619.3 305.1 619.4 306.2 619.5 307.2 619.6 308.2 619.6 308.4 619.6 309.2 619.7 310.3 619.7 311.3 619.7 312.3 619.8 313.4 619.8 314.4 619.8 315.4 619.8 316.4 619.8 317.5 619.8 318.5 619.8 319.5 619.8 320.6 619.8 L320.6 619.8Z" fill="#26a9e0"/><path d="M248.6 619.8 249.6 619.8 250.6 619.8 251.6 619.8 252.7 619.8 253.7 619.8 254.7 619.8 255.8 619.8 256.8 619.8 257.8 619.8 258.8 619.8 259.9 619.8 260.9 619.8 261.9 619.8 263 619.8 264 619.8 265 619.8 266 619.8 267.1 619.8 268.1 619.7 268.5 619.7 269.1 619.7 270.2 619.6 270.9 619.5 271.2 619.5 272.1 619.4 272.2 619.4 273.2 619.2 273.4 619.2 274.3 619 275.3 618.7 275.8 618.6 276.3 618.4 277.4 618.1 278.2 617.8 278.4 617.8 279.4 617.5 280.4 617.2 280.6 617.1 281.5 616.9 282.5 616.7 283 616.6 283.5 616.5 284.6 616.3 285.5 616.2 285.6 616.2 286.6 616.1 286.7 616.1 287.6 616 287.9 616 288.7 616 289.7 616 290.3 616 290.7 616.1 291.8 616.2 292.7 616.3 292.8 616.4 293.8 616.6 293.9 616.6 294.8 616.8 295.9 617.1 296.9 617.4 297.6 617.6 297.9 617.7 299 618 300 618.3 301 618.6 301.2 618.6 302 618.8 303.1 619 304.1 619.2 304.8 619.3 305.1 619.4 306.2 619.5 307.2 619.6 308.2 619.6 308.4 619.6 309.2 619.7 310.3 619.7 311.3 619.7 312.3 619.8 313.4 619.8 314.4 619.8 315.4 619.8 316.4 619.8 317.5 619.8 318.5 619.8 319.5 619.8 320.6 619.8" fill="none" stroke="#3a3a3a" stroke-width="0.45"/><path d="M248.6 619.8 L248.6 619.8 249.6 619.8 250.6 619.8 251.6 619.8 252.7 619.8 253.7 619.8 254.7 619.8 255.8 619.8 256.8 619.8 257.8 619.8 258.8 619.8 259.9 619.8 260.9 619.8 261.9 619.8 263 619.8 264 619.8 265 619.8 266 619.8 267.1 619.8 268.1 619.8 269.1 619.8 270.2 619.8 271.2 619.8 272.2 619.8 273.2 619.8 274.3 619.8 275.3 619.8 276.3 619.8 277.4 619.8 278.4 619.8 279.4 619.8 280.4 619.8 281.5 619.8 282.5 619.8 283.5 619.8 284.6 619.8 285.6 619.8 286.6 619.8 287.6 619.7 288.5 619.7 288.7 619.7 289.7 619.5 290.3 619.4 290.7 619.3 291.8 619 292.1 618.8 292.8 618.5 293.8 618 293.9 618 294.8 617.5 295.7 617.2 295.9 617.1 296.9 616.8 297.6 616.8 297.9 616.8 299 617 299.4 617.2 300 617.4 301 617.9 301.2 618 302 618.4 303 618.8 303.1 618.9 304.1 619.2 304.8 619.4 305.1 619.5 306.2 619.6 306.6 619.7 307.2 619.7 308.2 619.8 309.2 619.8 310.3 619.8 311.3 619.8 312.3 619.8 313.4 619.8 314.4 619.8 315.4 619.8 316.4 619.8 317.5 619.8 318.5 619.8 319.5 619.8 320.6 619.8 L320.6 619.8Z" fill="#38ac44"/><path d="M248.6 619.8 249.6 619.8 250.6 619.8 251.6 619.8 252.7 619.8 253.7 619.8 254.7 619.8 255.8 619.8 256.8 619.8 257.8 619.8 258.8 619.8 259.9 619.8 260.9 619.8 261.9 619.8 263 619.8 264 619.8 265 619.8 266 619.8 267.1 619.8 268.1 619.8 269.1 619.8 270.2 619.8 271.2 619.8 272.2 619.8 273.2 619.8 274.3 619.8 275.3 619.8 276.3 619.8 277.4 619.8 278.4 619.8 279.4 619.8 280.4 619.8 281.5 619.8 282.5 619.8 283.5 619.8 284.6 619.8 285.6 619.8 286.6 619.8 287.6 619.7 288.5 619.7 288.7 619.7 289.7 619.5 290.3 619.4 290.7 619.3 291.8 619 292.1 618.8 292.8 618.5 293.8 618 293.9 618 294.8 617.5 295.7 617.2 295.9 617.1 296.9 616.8 297.6 616.8 297.9 616.8 299 617 299.4 617.2 300 617.4 301 617.9 301.2 618 302 618.4 303 618.8 303.1 618.9 304.1 619.2 304.8 619.4 305.1 619.5 306.2 619.6 306.6 619.7 307.2 619.7 308.2 619.8 309.2 619.8 310.3 619.8 311.3 619.8 312.3 619.8 313.4 619.8 314.4 619.8 315.4 619.8 316.4 619.8 317.5 619.8 318.5 619.8 319.5 619.8 320.6 619.8" fill="none" stroke="#3a3a3a" stroke-width="0.45"/><path d="M248.6 630.9 L248.6 630.9 249.6 630.9 250.4 630.7 250.6 630.6 251.1 630.4 251.6 629.8 251.8 629.6 252.5 628.5 252.7 628.3 253.3 627.4 253.7 627 254 626.9 254.7 627.4 255.5 628.5 255.8 629 256.2 629.6 256.8 630.3 256.9 630.4 257.6 630.7 257.8 630.8 258.8 630.9 259.9 630.9 260.9 630.9 261.9 630.8 262.5 630.8 263 630.7 263.7 630.5 264 630.4 264.9 630 265 629.9 266 629.2 266.1 629.2 267.1 628.6 267.3 628.4 268.1 628.1 268.5 628.1 269.1 628.2 269.7 628.4 270.2 628.7 270.9 629.2 271.2 629.4 272.1 630 272.2 630 273.2 630.5 273.4 630.5 274.3 630.7 274.6 630.8 275.3 630.8 276.3 630.9 277.4 630.9 278.4 630.9 279.4 630.9 280.4 630.9 281.5 630.9 282.5 630.9 283.5 630.9 284.6 630.9 285.6 630.9 286.6 630.9 287.6 630.9 288.7 630.9 289.7 630.9 290.7 630.9 291.8 630.9 292.8 630.9 293.8 630.9 294.8 630.9 295.9 630.9 296.9 630.9 297.9 630.9 299 630.9 300 630.9 301 630.9 302 630.9 303.1 630.9 304.1 630.9 305.1 630.9 306.2 630.9 307.2 630.9 308.2 630.9 309.2 630.9 310.3 630.9 311.3 630.9 312.3 630.9 313.4 630.9 314.4 630.9 315.4 630.9 316.4 630.9 317.5 630.9 318.5 630.9 319.5 630.9 320.6 630.9 L320.6 630.9Z" fill="#cc0c30"/><path d="M248.6 630.9 249.6 630.9 250.4 630.7 250.6 630.6 251.1 630.4 251.6 629.8 251.8 629.6 252.5 628.5 252.7 628.3 253.3 627.4 253.7 627 254 626.9 254.7 627.4 255.5 628.5 255.8 629 256.2 629.6 256.8 630.3 256.9 630.4 257.6 630.7 257.8 630.8 258.8 630.9 259.9 630.9 260.9 630.9 261.9 630.8 262.5 630.8 263 630.7 263.7 630.5 264 630.4 264.9 630 265 629.9 266 629.2 266.1 629.2 267.1 628.6 267.3 628.4 268.1 628.1 268.5 628.1 269.1 628.2 269.7 628.4 270.2 628.7 270.9 629.2 271.2 629.4 272.1 630 272.2 630 273.2 630.5 273.4 630.5 274.3 630.7 274.6 630.8 275.3 630.8 276.3 630.9 277.4 630.9 278.4 630.9 279.4 630.9 280.4 630.9 281.5 630.9 282.5 630.9 283.5 630.9 284.6 630.9 285.6 630.9 286.6 630.9 287.6 630.9 288.7 630.9 289.7 630.9 290.7 630.9 291.8 630.9 292.8 630.9 293.8 630.9 294.8 630.9 295.9 630.9 296.9 630.9 297.9 630.9 299 630.9 300 630.9 301 630.9 302 630.9 303.1 630.9 304.1 630.9 305.1 630.9 306.2 630.9 307.2 630.9 308.2 630.9 309.2 630.9 310.3 630.9 311.3 630.9 312.3 630.9 313.4 630.9 314.4 630.9 315.4 630.9 316.4 630.9 317.5 630.9 318.5 630.9 319.5 630.9 320.6 630.9" fill="none" stroke="#3a3a3a" stroke-width="0.45"/><path d="M248.6 630.9 L248.6 630.9 249.6 630.9 250.6 630.9 251.6 630.9 252.7 630.9 253.7 630.9 254.7 630.9 255.8 630.9 256.8 630.9 257.8 630.9 258.8 630.9 259.9 630.9 260.9 630.9 261.9 630.9 263 630.9 264 630.9 265 630.8 266 630.8 266.1 630.8 267.1 630.8 268.1 630.7 268.5 630.6 269.1 630.6 269.7 630.5 270.2 630.4 270.9 630.2 271.2 630.2 272.2 630 273.2 629.7 273.4 629.6 274.3 629.4 275.3 629 275.8 628.9 276.3 628.7 277 628.5 277.4 628.4 278.2 628.2 278.4 628.1 279.4 627.9 280.4 627.7 280.6 627.6 281.5 627.5 282.5 627.4 283 627.3 283.5 627.3 284.2 627.2 284.6 627.2 285.5 627.2 285.6 627.2 286.6 627.2 287.6 627.2 287.9 627.2 288.7 627.3 289.7 627.4 290.3 627.5 290.7 627.6 291.5 627.8 291.8 627.8 292.8 628.1 293.8 628.4 294.8 628.7 295.1 628.8 295.9 629 296.9 629.3 297.9 629.6 298.8 629.8 299 629.8 300 630 301 630.2 302 630.4 302.4 630.4 303.1 630.5 304.1 630.6 305.1 630.7 306 630.7 306.2 630.8 307.2 630.8 308.2 630.8 309.2 630.9 310.3 630.9 311.3 630.9 312.3 630.9 313.4 630.9 314.4 630.9 315.4 630.9 316.4 630.9 317.5 630.9 318.5 630.9 319.5 630.9 320.6 630.9 L320.6 630.9Z" fill="#26a9e0"/><path d="M248.6 630.9 249.6 630.9 250.6 630.9 251.6 630.9 252.7 630.9 253.7 630.9 254.7 630.9 255.8 630.9 256.8 630.9 257.8 630.9 258.8 630.9 259.9 630.9 260.9 630.9 261.9 630.9 263 630.9 264 630.9 265 630.8 266 630.8 266.1 630.8 267.1 630.8 268.1 630.7 268.5 630.6 269.1 630.6 269.7 630.5 270.2 630.4 270.9 630.2 271.2 630.2 272.2 630 273.2 629.7 273.4 629.6 274.3 629.4 275.3 629 275.8 628.9 276.3 628.7 277 628.5 277.4 628.4 278.2 628.2 278.4 628.1 279.4 627.9 280.4 627.7 280.6 627.6 281.5 627.5 282.5 627.4 283 627.3 283.5 627.3 284.2 627.2 284.6 627.2 285.5 627.2 285.6 627.2 286.6 627.2 287.6 627.2 287.9 627.2 288.7 627.3 289.7 627.4 290.3 627.5 290.7 627.6 291.5 627.8 291.8 627.8 292.8 628.1 293.8 628.4 294.8 628.7 295.1 628.8 295.9 629 296.9 629.3 297.9 629.6 298.8 629.8 299 629.8 300 630 301 630.2 302 630.4 302.4 630.4 303.1 630.5 304.1 630.6 305.1 630.7 306 630.7 306.2 630.8 307.2 630.8 308.2 630.8 309.2 630.9 310.3 630.9 311.3 630.9 312.3 630.9 313.4 630.9 314.4 630.9 315.4 630.9 316.4 630.9 317.5 630.9 318.5 630.9 319.5 630.9 320.6 630.9" fill="none" stroke="#3a3a3a" stroke-width="0.45"/><path d="M248.6 630.9 L248.6 630.9 249.6 630.9 250.6 630.9 251.6 630.9 252.7 630.9 253.7 630.9 254.7 630.9 255.8 630.9 256.8 630.9 257.8 630.9 258.8 630.9 259.9 630.9 260.9 630.9 261.9 630.9 263 630.9 264 630.9 265 630.9 266 630.9 267.1 630.9 268.1 630.9 269.1 630.9 270.2 630.9 271.2 630.9 272.2 630.9 273.2 630.9 274.3 630.9 275.3 630.9 276.3 630.9 277.4 630.9 278.4 630.9 279.4 630.9 280.4 630.9 281.5 630.9 282.5 630.8 283.5 630.8 283.9 630.7 284.6 630.7 285.6 630.5 285.9 630.4 286.6 630.2 287.6 629.9 287.9 629.7 288.7 629.4 289.7 628.8 289.9 628.7 290.7 628.3 291.8 627.8 291.9 627.7 292.8 627.4 293.8 627.3 293.9 627.3 294.8 627.4 295.9 627.7 295.9 627.7 296.9 628.2 297.9 628.7 299 629.3 299.9 629.7 300 629.8 301 630.2 301.9 630.4 302 630.4 303.1 630.6 303.9 630.7 304.1 630.8 305.1 630.8 306.2 630.9 307.2 630.9 308.2 630.9 309.2 630.9 310.3 630.9 311.3 630.9 312.3 630.9 313.4 630.9 314.4 630.9 315.4 630.9 316.4 630.9 317.5 630.9 318.5 630.9 319.5 630.9 320.6 630.9 L320.6 630.9Z" fill="#38ac44"/><path d="M248.6 630.9 249.6 630.9 250.6 630.9 251.6 630.9 252.7 630.9 253.7 630.9 254.7 630.9 255.8 630.9 256.8 630.9 257.8 630.9 258.8 630.9 259.9 630.9 260.9 630.9 261.9 630.9 263 630.9 264 630.9 265 630.9 266 630.9 267.1 630.9 268.1 630.9 269.1 630.9 270.2 630.9 271.2 630.9 272.2 630.9 273.2 630.9 274.3 630.9 275.3 630.9 276.3 630.9 277.4 630.9 278.4 630.9 279.4 630.9 280.4 630.9 281.5 630.9 282.5 630.8 283.5 630.8 283.9 630.7 284.6 630.7 285.6 630.5 285.9 630.4 286.6 630.2 287.6 629.9 287.9 629.7 288.7 629.4 289.7 628.8 289.9 628.7 290.7 628.3 291.8 627.8 291.9 627.7 292.8 627.4 293.8 627.3 293.9 627.3 294.8 627.4 295.9 627.7 295.9 627.7 296.9 628.2 297.9 628.7 299 629.3 299.9 629.7 300 629.8 301 630.2 301.9 630.4 302 630.4 303.1 630.6 303.9 630.7 304.1 630.8 305.1 630.8 306.2 630.9 307.2 630.9 308.2 630.9 309.2 630.9 310.3 630.9 311.3 630.9 312.3 630.9 313.4 630.9 314.4 630.9 315.4 630.9 316.4 630.9 317.5 630.9 318.5 630.9 319.5 630.9 320.6 630.9" fill="none" stroke="#3a3a3a" stroke-width="0.45"/><path d="M245.7 576V633.7H322.3" fill="none" stroke="#222" stroke-width="0.9"/><text x="240.5" y="596.3" font-size="5.2" fill="#333" text-anchor="end" stroke="#333" stroke-width="0.18">MO</text><text x="240.5" y="609.6" font-size="5.2" fill="#333" text-anchor="end" stroke="#333" stroke-width="0.18">CT</text><text x="240.5" y="621.6" font-size="5.2" fill="#333" text-anchor="end" stroke="#333" stroke-width="0.18">MO</text><text x="240.5" y="632.7" font-size="5.2" fill="#333" text-anchor="end" stroke="#333" stroke-width="0.18">CT</text><path d="M254 633.7V635.7M278.2 633.7V635.7M302.4 633.7V635.7M243.3 594.5H245.7M243.3 607.8H245.7M243.3 619.8H245.7M243.3 630.9H245.7" stroke="#222" stroke-width="0.6" fill="none"/><text x="254" y="643.7" font-size="5" fill="#444" text-anchor="middle" stroke="#444" stroke-width="0.18">0</text><text x="278.2" y="643.7" font-size="5" fill="#444" text-anchor="middle" stroke="#444" stroke-width="0.18">2</text><text x="302.4" y="643.7" font-size="5" fill="#444" text-anchor="middle" stroke="#444" stroke-width="0.18">4</text><text x="284.2" y="652.6" font-size="6.4" fill="#333" text-anchor="middle" stroke="#333" stroke-width="0.18" textLength="22.7" lengthAdjust="spacingAndGlyphs">Expression</text><text x="302.8" y="587" font-size="4.9" fill="#333" stroke="#333" stroke-width="0.18">Pcna</text><text x="302.3" y="613.8" font-size="4.9" fill="#333" stroke="#333" stroke-width="0.18">MKI67</text><path d="M420.6 592.5 L420.6 592.5 421.5 592.4 422.3 591.9 422.3 591.7 422.9 590.5 423.2 589.5 423.6 587.8 424.1 584.6 424.2 583.7 424.9 579.7 424.9 579.4 425.5 578 425.8 578.3 426.1 579.6 426.6 582.1 426.6 582.5 426.8 583.6 427.4 587.6 427.5 587.8 427.7 588.6 428.1 590.2 428.4 590.8 428.7 591.3 429.2 591.6 429.3 591.6 429.8 591.6 430.1 591.6 430.9 591.5 430.9 591.5 431.8 591.4 432 591.4 432.5 591.4 432.6 591.4 433.1 591.4 433.5 591.4 434.2 591.4 434.4 591.4 435.2 591.3 435.2 591.3 435.8 591.2 436.1 591.2 436.3 591.1 436.9 591.1 437.4 591.1 437.8 591.1 438.6 591.2 439 591.3 439.5 591.4 440.4 591.6 440.6 591.7 441.2 591.8 442.1 592 442.3 592 442.9 592.2 443.8 592.3 443.9 592.3 444.7 592.4 445.5 592.4 445.5 592.4 446.4 592.5 447.2 592.5 448.1 592.5 448.9 592.5 449.8 592.5 450.7 592.5 451.5 592.5 452.4 592.5 453.2 592.5 454.1 592.5 454.9 592.5 455.8 592.5 456.7 592.5 457.5 592.5 458.4 592.5 459.2 592.5 460.1 592.5 461 592.5 461.8 592.5 462.7 592.5 463.5 592.5 464.4 592.5 465.2 592.5 466.1 592.5 467 592.5 467.8 592.5 468.7 592.5 469.5 592.5 470.4 592.5 471.2 592.5 472.1 592.5 473 592.5 473.8 592.5 474.7 592.5 475.5 592.5 476.4 592.5 477.3 592.5 478.1 592.5 479 592.5 479.8 592.5 480.7 592.5 L480.7 592.5Z" fill="#26a9e0"/><path d="M420.6 592.5 421.5 592.4 422.3 591.9 422.3 591.7 422.9 590.5 423.2 589.5 423.6 587.8 424.1 584.6 424.2 583.7 424.9 579.7 424.9 579.4 425.5 578 425.8 578.3 426.1 579.6 426.6 582.1 426.6 582.5 426.8 583.6 427.4 587.6 427.5 587.8 427.7 588.6 428.1 590.2 428.4 590.8 428.7 591.3 429.2 591.6 429.3 591.6 429.8 591.6 430.1 591.6 430.9 591.5 430.9 591.5 431.8 591.4 432 591.4 432.5 591.4 432.6 591.4 433.1 591.4 433.5 591.4 434.2 591.4 434.4 591.4 435.2 591.3 435.2 591.3 435.8 591.2 436.1 591.2 436.3 591.1 436.9 591.1 437.4 591.1 437.8 591.1 438.6 591.2 439 591.3 439.5 591.4 440.4 591.6 440.6 591.7 441.2 591.8 442.1 592 442.3 592 442.9 592.2 443.8 592.3 443.9 592.3 444.7 592.4 445.5 592.4 445.5 592.4 446.4 592.5 447.2 592.5 448.1 592.5 448.9 592.5 449.8 592.5 450.7 592.5 451.5 592.5 452.4 592.5 453.2 592.5 454.1 592.5 454.9 592.5 455.8 592.5 456.7 592.5 457.5 592.5 458.4 592.5 459.2 592.5 460.1 592.5 461 592.5 461.8 592.5 462.7 592.5 463.5 592.5 464.4 592.5 465.2 592.5 466.1 592.5 467 592.5 467.8 592.5 468.7 592.5 469.5 592.5 470.4 592.5 471.2 592.5 472.1 592.5 473 592.5 473.8 592.5 474.7 592.5 475.5 592.5 476.4 592.5 477.3 592.5 478.1 592.5 479 592.5 479.8 592.5 480.7 592.5" fill="none" stroke="#3a3a3a" stroke-width="0.45"/><path d="M420.6 592.5 L420.6 592.5 421.5 592.5 422.3 592.5 423.2 592.5 424.1 592.3 424.3 591.8 424.5 590.3 424.8 587.3 424.9 584.6 425 582.8 425.3 578.4 425.5 576.5 425.7 578.4 425.8 578.9 426 582.8 426.2 587.3 426.5 590.3 426.6 591.4 426.7 591.8 427.5 592.5 428.4 592.5 429.2 592.5 430.1 592.5 430.9 592.5 431.8 592.5 432.6 592.5 433.5 592.5 434.4 592.5 435.2 592.5 436.1 592.5 436.9 592.5 437.8 592.5 438.6 592.5 439.5 592.5 440.4 592.5 441.2 592.5 442.1 592.5 442.9 592.5 443.8 592.5 444.7 592.5 445.5 592.5 446.4 592.5 447.2 592.5 448.1 592.5 448.9 592.5 449.8 592.5 450.7 592.5 451.5 592.5 452.4 592.5 453.2 592.5 454.1 592.5 454.9 592.5 455.8 592.5 456.7 592.5 457.5 592.5 458.4 592.5 459.2 592.5 460.1 592.5 461 592.5 461.8 592.5 462.7 592.5 463.5 592.5 464.4 592.5 465.2 592.5 466.1 592.5 467 592.5 467.8 592.5 468.7 592.5 469.5 592.5 470.4 592.5 471.2 592.5 472.1 592.5 473 592.5 473.8 592.5 474.7 592.5 475.5 592.5 476.4 592.5 477.3 592.5 478.1 592.5 479 592.5 479.8 592.5 480.7 592.5 L480.7 592.5Z" fill="#cc0c30"/><path d="M420.6 592.5 421.5 592.5 422.3 592.5 423.2 592.5 424.1 592.3 424.3 591.8 424.5 590.3 424.8 587.3 424.9 584.6 425 582.8 425.3 578.4 425.5 576.5 425.7 578.4 425.8 578.9 426 582.8 426.2 587.3 426.5 590.3 426.6 591.4 426.7 591.8 427.5 592.5 428.4 592.5 429.2 592.5 430.1 592.5 430.9 592.5 431.8 592.5 432.6 592.5 433.5 592.5 434.4 592.5 435.2 592.5 436.1 592.5 436.9 592.5 437.8 592.5 438.6 592.5 439.5 592.5 440.4 592.5 441.2 592.5 442.1 592.5 442.9 592.5 443.8 592.5 444.7 592.5 445.5 592.5 446.4 592.5 447.2 592.5 448.1 592.5 448.9 592.5 449.8 592.5 450.7 592.5 451.5 592.5 452.4 592.5 453.2 592.5 454.1 592.5 454.9 592.5 455.8 592.5 456.7 592.5 457.5 592.5 458.4 592.5 459.2 592.5 460.1 592.5 461 592.5 461.8 592.5 462.7 592.5 463.5 592.5 464.4 592.5 465.2 592.5 466.1 592.5 467 592.5 467.8 592.5 468.7 592.5 469.5 592.5 470.4 592.5 471.2 592.5 472.1 592.5 473 592.5 473.8 592.5 474.7 592.5 475.5 592.5 476.4 592.5 477.3 592.5 478.1 592.5 479 592.5 479.8 592.5 480.7 592.5" fill="none" stroke="#3a3a3a" stroke-width="0.45"/><path d="M420.6 603.2 L420.6 603.2 421.5 603.1 422.3 602.6 422.3 602.5 422.9 601.3 423.2 600.3 423.6 598.7 424.1 595.6 424.2 594.7 424.9 590.8 424.9 590.5 425.5 589.2 425.8 589.5 426.1 590.8 426.6 593.2 426.6 593.5 426.8 594.6 427.4 598.4 427.5 598.7 427.7 599.4 428.1 601 428.4 601.5 428.7 602.1 429.2 602.3 429.8 602.4 430.1 602.4 430.4 602.3 430.9 602.3 430.9 602.3 431.8 602.2 432 602.2 432.6 602.2 433.1 602.2 433.5 602.2 433.6 602.2 434.2 602.2 434.4 602.1 435.2 601.9 435.2 601.9 436.1 601.7 436.3 601.6 436.9 601.5 436.9 601.5 437.8 601.3 438.5 601.3 438.6 601.3 439.5 601.4 440.1 601.5 440.4 601.6 441.2 601.9 441.7 602 442.1 602.2 442.9 602.5 443.4 602.6 443.8 602.7 444.7 602.9 445 602.9 445.5 603 446.4 603.1 446.6 603.1 447.2 603.1 448.1 603.2 448.9 603.2 449.8 603.2 450.7 603.2 451.5 603.2 452.4 603.2 453.2 603.2 454.1 603.2 454.9 603.2 455.8 603.2 456.7 603.2 457.5 603.2 458.4 603.2 459.2 603.2 460.1 603.2 461 603.2 461.8 603.2 462.7 603.2 463.5 603.2 464.4 603.2 465.2 603.2 466.1 603.2 467 603.2 467.8 603.2 468.7 603.2 469.5 603.2 470.4 603.2 471.2 603.2 472.1 603.2 473 603.2 473.8 603.2 474.7 603.2 475.5 603.2 476.4 603.2 477.3 603.2 478.1 603.2 479 603.2 479.8 603.2 480.7 603.2 L480.7 603.2Z" fill="#26a9e0"/><path d="M420.6 603.2 421.5 603.1 422.3 602.6 422.3 602.5 422.9 601.3 423.2 600.3 423.6 598.7 424.1 595.6 424.2 594.7 424.9 590.8 424.9 590.5 425.5 589.2 425.8 589.5 426.1 590.8 426.6 593.2 426.6 593.5 426.8 594.6 427.4 598.4 427.5 598.7 427.7 599.4 428.1 601 428.4 601.5 428.7 602.1 429.2 602.3 429.8 602.4 430.1 602.4 430.4 602.3 430.9 602.3 430.9 602.3 431.8 602.2 432 602.2 432.6 602.2 433.1 602.2 433.5 602.2 433.6 602.2 434.2 602.2 434.4 602.1 435.2 601.9 435.2 601.9 436.1 601.7 436.3 601.6 436.9 601.5 436.9 601.5 437.8 601.3 438.5 601.3 438.6 601.3 439.5 601.4 440.1 601.5 440.4 601.6 441.2 601.9 441.7 602 442.1 602.2 442.9 602.5 443.4 602.6 443.8 602.7 444.7 602.9 445 602.9 445.5 603 446.4 603.1 446.6 603.1 447.2 603.1 448.1 603.2 448.9 603.2 449.8 603.2 450.7 603.2 451.5 603.2 452.4 603.2 453.2 603.2 454.1 603.2 454.9 603.2 455.8 603.2 456.7 603.2 457.5 603.2 458.4 603.2 459.2 603.2 460.1 603.2 461 603.2 461.8 603.2 462.7 603.2 463.5 603.2 464.4 603.2 465.2 603.2 466.1 603.2 467 603.2 467.8 603.2 468.7 603.2 469.5 603.2 470.4 603.2 471.2 603.2 472.1 603.2 473 603.2 473.8 603.2 474.7 603.2 475.5 603.2 476.4 603.2 477.3 603.2 478.1 603.2 479 603.2 479.8 603.2 480.7 603.2" fill="none" stroke="#3a3a3a" stroke-width="0.45"/><path d="M420.6 603.2 L420.6 603.2 421.5 603.2 422.3 603.2 423.2 603.2 424.1 603 424.3 602.6 424.5 601.2 424.8 598.5 424.9 596.1 425 594.4 425.3 590.4 425.5 588.7 425.7 590.4 425.8 590.9 426 594.4 426.2 598.5 426.5 601.2 426.6 602.2 426.7 602.6 427.5 603.2 428.4 603.2 429.2 603.2 430.1 603.2 430.9 603.2 431.8 603.2 432.6 603.2 433.5 603.2 434.4 603.2 435.2 603.2 436.1 603.2 436.9 603.2 437.8 603.2 438.6 603.2 439.5 603.2 440.4 603.2 441.2 603.2 442.1 603.2 442.9 603.2 443.8 603.2 444.7 603.2 445.5 603.2 446.4 603.2 447.2 603.2 448.1 603.2 448.9 603.2 449.8 603.2 450.7 603.2 451.5 603.2 452.4 603.2 453.2 603.2 454.1 603.2 454.9 603.2 455.8 603.2 456.7 603.2 457.5 603.2 458.4 603.2 459.2 603.2 460.1 603.2 461 603.2 461.8 603.2 462.7 603.2 463.5 603.2 464.4 603.2 465.2 603.2 466.1 603.2 467 603.2 467.8 603.2 468.7 603.2 469.5 603.2 470.4 603.2 471.2 603.2 472.1 603.2 473 603.2 473.8 603.2 474.7 603.2 475.5 603.2 476.4 603.2 477.3 603.2 478.1 603.2 479 603.2 479.8 603.2 480.7 603.2 L480.7 603.2Z" fill="#cc0c30"/><path d="M420.6 603.2 421.5 603.2 422.3 603.2 423.2 603.2 424.1 603 424.3 602.6 424.5 601.2 424.8 598.5 424.9 596.1 425 594.4 425.3 590.4 425.5 588.7 425.7 590.4 425.8 590.9 426 594.4 426.2 598.5 426.5 601.2 426.6 602.2 426.7 602.6 427.5 603.2 428.4 603.2 429.2 603.2 430.1 603.2 430.9 603.2 431.8 603.2 432.6 603.2 433.5 603.2 434.4 603.2 435.2 603.2 436.1 603.2 436.9 603.2 437.8 603.2 438.6 603.2 439.5 603.2 440.4 603.2 441.2 603.2 442.1 603.2 442.9 603.2 443.8 603.2 444.7 603.2 445.5 603.2 446.4 603.2 447.2 603.2 448.1 603.2 448.9 603.2 449.8 603.2 450.7 603.2 451.5 603.2 452.4 603.2 453.2 603.2 454.1 603.2 454.9 603.2 455.8 603.2 456.7 603.2 457.5 603.2 458.4 603.2 459.2 603.2 460.1 603.2 461 603.2 461.8 603.2 462.7 603.2 463.5 603.2 464.4 603.2 465.2 603.2 466.1 603.2 467 603.2 467.8 603.2 468.7 603.2 469.5 603.2 470.4 603.2 471.2 603.2 472.1 603.2 473 603.2 473.8 603.2 474.7 603.2 475.5 603.2 476.4 603.2 477.3 603.2 478.1 603.2 479 603.2 479.8 603.2 480.7 603.2" fill="none" stroke="#3a3a3a" stroke-width="0.45"/><path d="M420.6 621 L420.6 621 421.5 620.9 422.3 620.4 422.3 620.3 422.9 619.2 423.2 618.2 423.6 616.6 424.1 613.7 424.2 612.8 424.9 609.1 424.9 608.8 425.5 607.5 425.8 607.8 426.1 609 426.6 611.4 426.6 611.7 426.8 612.7 427.4 616.4 427.5 616.6 427.7 617.4 428.1 618.8 428.4 619.4 428.7 619.9 429.2 620.2 429.8 620.2 430.1 620.2 430.9 620.2 430.9 620.2 431.8 620.3 432 620.3 432.6 620.4 433.1 620.5 433.5 620.6 434.2 620.7 434.4 620.8 435.2 620.9 435.2 620.9 436.1 621 436.3 621 436.9 621 437.8 621 438.6 621 439.5 621 440.4 621 441.2 621 442.1 621 442.9 621 443.8 621 444.7 621 445.5 621 446.4 621 447.2 621 448.1 621 448.9 621 449.8 621 450.7 621 451.5 621 452.4 621 453.2 621 454.1 621 454.9 621 455.8 621 456.7 621 457.5 621 458.4 621 459.2 621 460.1 621 461 621 461.8 621 462.7 621 463.5 621 464.4 621 465.2 621 466.1 621 467 621 467.8 621 468.7 621 469.5 621 470.4 621 471.2 621 472.1 621 473 621 473.8 621 474.7 621 475.5 621 476.4 621 477.3 621 478.1 621 479 621 479.8 621 480.7 621 L480.7 621Z" fill="#26a9e0"/><path d="M420.6 621 421.5 620.9 422.3 620.4 422.3 620.3 422.9 619.2 423.2 618.2 423.6 616.6 424.1 613.7 424.2 612.8 424.9 609.1 424.9 608.8 425.5 607.5 425.8 607.8 426.1 609 426.6 611.4 426.6 611.7 426.8 612.7 427.4 616.4 427.5 616.6 427.7 617.4 428.1 618.8 428.4 619.4 428.7 619.9 429.2 620.2 429.8 620.2 430.1 620.2 430.9 620.2 430.9 620.2 431.8 620.3 432 620.3 432.6 620.4 433.1 620.5 433.5 620.6 434.2 620.7 434.4 620.8 435.2 620.9 435.2 620.9 436.1 621 436.3 621 436.9 621 437.8 621 438.6 621 439.5 621 440.4 621 441.2 621 442.1 621 442.9 621 443.8 621 444.7 621 445.5 621 446.4 621 447.2 621 448.1 621 448.9 621 449.8 621 450.7 621 451.5 621 452.4 621 453.2 621 454.1 621 454.9 621 455.8 621 456.7 621 457.5 621 458.4 621 459.2 621 460.1 621 461 621 461.8 621 462.7 621 463.5 621 464.4 621 465.2 621 466.1 621 467 621 467.8 621 468.7 621 469.5 621 470.4 621 471.2 621 472.1 621 473 621 473.8 621 474.7 621 475.5 621 476.4 621 477.3 621 478.1 621 479 621 479.8 621 480.7 621" fill="none" stroke="#3a3a3a" stroke-width="0.45"/><path d="M420.6 621 L420.6 621 421.5 621 422.3 621 423.2 621 424.1 621 424.9 621 425.8 621 426.6 621 427.5 621 428.4 621 429.2 621 430.1 621 430.9 620.9 431.8 620.9 432.5 620.9 432.6 620.9 433.5 620.8 434.4 620.7 435.2 620.6 435.2 620.6 436.1 620.5 436.9 620.3 437.8 620.1 437.9 620.1 438.6 619.9 439.5 619.7 440.4 619.4 440.6 619.3 441.2 619.1 442.1 618.8 442.9 618.6 443.4 618.5 443.8 618.4 443.9 618.3 444.7 618.2 445.5 618.1 446.1 618 446.4 618 447.2 617.9 448.1 617.9 448.2 617.9 448.8 617.9 448.9 618 449.8 618 450.4 618.1 450.7 618.1 451.5 618.2 451.5 618.2 452.4 618.3 452.6 618.3 453.2 618.4 454.1 618.6 454.2 618.6 454.7 618.7 454.9 618.8 455.8 619 456.7 619.2 456.9 619.3 457.5 619.5 458.4 619.7 459 619.9 459.2 620 459.6 620.1 460.1 620.2 461 620.4 461.2 620.5 461.8 620.6 462.7 620.7 463.4 620.8 463.5 620.8 464.4 620.9 465.2 620.9 465.5 620.9 466.1 620.9 467 621 467.8 621 468.7 621 469.5 621 470.4 621 471.2 621 472.1 621 473 621 473.8 621 474.7 621 475.5 621 476.4 621 477.3 621 478.1 621 479 621 479.8 621 480.7 621 L480.7 621Z" fill="#38ac44"/><path d="M420.6 621 421.5 621 422.3 621 423.2 621 424.1 621 424.9 621 425.8 621 426.6 621 427.5 621 428.4 621 429.2 621 430.1 621 430.9 620.9 431.8 620.9 432.5 620.9 432.6 620.9 433.5 620.8 434.4 620.7 435.2 620.6 435.2 620.6 436.1 620.5 436.9 620.3 437.8 620.1 437.9 620.1 438.6 619.9 439.5 619.7 440.4 619.4 440.6 619.3 441.2 619.1 442.1 618.8 442.9 618.6 443.4 618.5 443.8 618.4 443.9 618.3 444.7 618.2 445.5 618.1 446.1 618 446.4 618 447.2 617.9 448.1 617.9 448.2 617.9 448.8 617.9 448.9 618 449.8 618 450.4 618.1 450.7 618.1 451.5 618.2 451.5 618.2 452.4 618.3 452.6 618.3 453.2 618.4 454.1 618.6 454.2 618.6 454.7 618.7 454.9 618.8 455.8 619 456.7 619.2 456.9 619.3 457.5 619.5 458.4 619.7 459 619.9 459.2 620 459.6 620.1 460.1 620.2 461 620.4 461.2 620.5 461.8 620.6 462.7 620.7 463.4 620.8 463.5 620.8 464.4 620.9 465.2 620.9 465.5 620.9 466.1 620.9 467 621 467.8 621 468.7 621 469.5 621 470.4 621 471.2 621 472.1 621 473 621 473.8 621 474.7 621 475.5 621 476.4 621 477.3 621 478.1 621 479 621 479.8 621 480.7 621" fill="none" stroke="#3a3a3a" stroke-width="0.45"/><path d="M420.6 621 L420.6 621 421.5 621 422.3 621 423.2 621 424.1 620.8 424.3 620.3 424.5 618.9 424.8 616 424.9 613.4 425 611.6 425.3 607.3 425.5 605.5 425.7 607.3 425.8 607.8 426 611.6 426.2 616 426.5 618.9 426.6 620 426.7 620.3 427.5 621 428.4 621 429.2 621 430.1 621 430.9 621 431.8 621 432.6 621 433.5 621 434.4 621 435.2 621 436.1 621 436.9 621 437.8 621 438.6 621 439.5 621 440.4 621 441.2 621 442.1 621 442.9 621 443.8 621 444.7 621 445.5 621 446.4 621 447.2 621 448.1 621 448.9 621 449.8 621 450.7 621 451.5 621 452.4 621 453.2 621 454.1 621 454.9 621 455.8 621 456.7 621 457.5 621 458.4 621 459.2 621 460.1 621 461 621 461.8 621 462.7 621 463.5 621 464.4 621 465.2 621 466.1 621 467 621 467.8 621 468.7 621 469.5 621 470.4 621 471.2 621 472.1 621 473 621 473.8 621 474.7 621 475.5 621 476.4 621 477.3 621 478.1 621 479 621 479.8 621 480.7 621 L480.7 621Z" fill="#cc0c30"/><path d="M420.6 621 421.5 621 422.3 621 423.2 621 424.1 620.8 424.3 620.3 424.5 618.9 424.8 616 424.9 613.4 425 611.6 425.3 607.3 425.5 605.5 425.7 607.3 425.8 607.8 426 611.6 426.2 616 426.5 618.9 426.6 620 426.7 620.3 427.5 621 428.4 621 429.2 621 430.1 621 430.9 621 431.8 621 432.6 621 433.5 621 434.4 621 435.2 621 436.1 621 436.9 621 437.8 621 438.6 621 439.5 621 440.4 621 441.2 621 442.1 621 442.9 621 443.8 621 444.7 621 445.5 621 446.4 621 447.2 621 448.1 621 448.9 621 449.8 621 450.7 621 451.5 621 452.4 621 453.2 621 454.1 621 454.9 621 455.8 621 456.7 621 457.5 621 458.4 621 459.2 621 460.1 621 461 621 461.8 621 462.7 621 463.5 621 464.4 621 465.2 621 466.1 621 467 621 467.8 621 468.7 621 469.5 621 470.4 621 471.2 621 472.1 621 473 621 473.8 621 474.7 621 475.5 621 476.4 621 477.3 621 478.1 621 479 621 479.8 621 480.7 621" fill="none" stroke="#3a3a3a" stroke-width="0.45"/><path d="M420.6 631.4 L420.6 631.4 421.5 631.3 422.3 630.8 422.3 630.7 422.9 629.6 423.2 628.7 423.6 627.2 424.1 624.4 424.2 623.5 424.9 619.9 424.9 619.6 425.5 618.4 425.8 618.6 426.1 619.9 426.6 622.1 426.6 622.4 426.8 623.4 427.4 627 427.5 627.2 427.7 627.9 428.1 629.3 428.4 629.8 428.7 630.3 429.2 630.6 429.8 630.6 430.1 630.6 430.9 630.5 430.9 630.5 431.8 630.6 432 630.6 432.6 630.7 433.1 630.7 433.5 630.8 434.2 630.8 434.4 630.8 435.2 630.8 435.2 630.8 436.1 630.8 436.3 630.7 436.9 630.6 437.4 630.5 437.8 630.5 438.6 630.3 439.5 630.2 439.6 630.2 440.4 630.1 441.2 630 441.7 630 442.1 630 442.9 630.1 443.8 630.2 443.9 630.2 444.7 630.3 445.5 630.4 446.1 630.6 446.4 630.6 447.2 630.8 448.1 630.9 448.2 630.9 448.9 631.1 449.8 631.2 450.4 631.2 450.7 631.2 451.5 631.3 452.4 631.3 452.6 631.3 453.2 631.4 454.1 631.4 454.9 631.4 455.8 631.4 456.7 631.4 457.5 631.4 458.4 631.4 459.2 631.4 460.1 631.4 461 631.4 461.8 631.4 462.7 631.4 463.5 631.4 464.4 631.4 465.2 631.4 466.1 631.4 467 631.4 467.8 631.4 468.7 631.4 469.5 631.4 470.4 631.4 471.2 631.4 472.1 631.4 473 631.4 473.8 631.4 474.7 631.4 475.5 631.4 476.4 631.4 477.3 631.4 478.1 631.4 479 631.4 479.8 631.4 480.7 631.4 L480.7 631.4Z" fill="#26a9e0"/><path d="M420.6 631.4 421.5 631.3 422.3 630.8 422.3 630.7 422.9 629.6 423.2 628.7 423.6 627.2 424.1 624.4 424.2 623.5 424.9 619.9 424.9 619.6 425.5 618.4 425.8 618.6 426.1 619.9 426.6 622.1 426.6 622.4 426.8 623.4 427.4 627 427.5 627.2 427.7 627.9 428.1 629.3 428.4 629.8 428.7 630.3 429.2 630.6 429.8 630.6 430.1 630.6 430.9 630.5 430.9 630.5 431.8 630.6 432 630.6 432.6 630.7 433.1 630.7 433.5 630.8 434.2 630.8 434.4 630.8 435.2 630.8 435.2 630.8 436.1 630.8 436.3 630.7 436.9 630.6 437.4 630.5 437.8 630.5 438.6 630.3 439.5 630.2 439.6 630.2 440.4 630.1 441.2 630 441.7 630 442.1 630 442.9 630.1 443.8 630.2 443.9 630.2 444.7 630.3 445.5 630.4 446.1 630.6 446.4 630.6 447.2 630.8 448.1 630.9 448.2 630.9 448.9 631.1 449.8 631.2 450.4 631.2 450.7 631.2 451.5 631.3 452.4 631.3 452.6 631.3 453.2 631.4 454.1 631.4 454.9 631.4 455.8 631.4 456.7 631.4 457.5 631.4 458.4 631.4 459.2 631.4 460.1 631.4 461 631.4 461.8 631.4 462.7 631.4 463.5 631.4 464.4 631.4 465.2 631.4 466.1 631.4 467 631.4 467.8 631.4 468.7 631.4 469.5 631.4 470.4 631.4 471.2 631.4 472.1 631.4 473 631.4 473.8 631.4 474.7 631.4 475.5 631.4 476.4 631.4 477.3 631.4 478.1 631.4 479 631.4 479.8 631.4 480.7 631.4" fill="none" stroke="#3a3a3a" stroke-width="0.45"/><path d="M420.6 631.4 L420.6 631.4 421.5 631.4 422.3 631.4 423.2 631.4 424.1 631.4 424.9 631.4 425.8 631.4 426.6 631.4 427.5 631.4 428.4 631.4 429.2 631.3 430.1 631.3 430.9 631.3 430.9 631.3 431.8 631.2 432.6 631.2 433.5 631.1 434.2 631 434.4 631 435.2 630.9 436.1 630.8 436.9 630.6 437.4 630.6 437.8 630.5 438.6 630.3 439.5 630.1 440.4 629.9 440.6 629.8 441.2 629.7 442.1 629.5 442.9 629.3 443.8 629.1 443.9 629.1 444.7 628.9 445.5 628.8 446.4 628.7 447.1 628.6 447.2 628.6 448.1 628.6 448.9 628.6 449.8 628.7 450.4 628.7 450.7 628.7 451.5 628.8 452.4 628.9 453.2 629 453.6 629.1 454.1 629.2 454.9 629.3 455.8 629.4 456.7 629.5 456.9 629.5 457.5 629.6 458.4 629.7 459.2 629.8 460.1 629.8 460.1 629.8 461 629.9 461.8 630 462.7 630.1 463.4 630.2 463.5 630.2 464.4 630.4 465.2 630.5 466.1 630.6 466.6 630.6 467 630.7 467.8 630.8 468.7 630.9 469.5 631 469.9 631 470.4 631.1 471.2 631.1 472.1 631.2 473 631.2 473.1 631.2 473.8 631.3 474.7 631.3 475.5 631.3 476.4 631.3 476.4 631.3 477.3 631.4 478.1 631.4 479 631.4 479.8 631.4 480.7 631.4 L480.7 631.4Z" fill="#38ac44"/><path d="M420.6 631.4 421.5 631.4 422.3 631.4 423.2 631.4 424.1 631.4 424.9 631.4 425.8 631.4 426.6 631.4 427.5 631.4 428.4 631.4 429.2 631.3 430.1 631.3 430.9 631.3 430.9 631.3 431.8 631.2 432.6 631.2 433.5 631.1 434.2 631 434.4 631 435.2 630.9 436.1 630.8 436.9 630.6 437.4 630.6 437.8 630.5 438.6 630.3 439.5 630.1 440.4 629.9 440.6 629.8 441.2 629.7 442.1 629.5 442.9 629.3 443.8 629.1 443.9 629.1 444.7 628.9 445.5 628.8 446.4 628.7 447.1 628.6 447.2 628.6 448.1 628.6 448.9 628.6 449.8 628.7 450.4 628.7 450.7 628.7 451.5 628.8 452.4 628.9 453.2 629 453.6 629.1 454.1 629.2 454.9 629.3 455.8 629.4 456.7 629.5 456.9 629.5 457.5 629.6 458.4 629.7 459.2 629.8 460.1 629.8 460.1 629.8 461 629.9 461.8 630 462.7 630.1 463.4 630.2 463.5 630.2 464.4 630.4 465.2 630.5 466.1 630.6 466.6 630.6 467 630.7 467.8 630.8 468.7 630.9 469.5 631 469.9 631 470.4 631.1 471.2 631.1 472.1 631.2 473 631.2 473.1 631.2 473.8 631.3 474.7 631.3 475.5 631.3 476.4 631.3 476.4 631.3 477.3 631.4 478.1 631.4 479 631.4 479.8 631.4 480.7 631.4" fill="none" stroke="#3a3a3a" stroke-width="0.45"/><path d="M420.6 631.4 L420.6 631.4 421.5 631.4 422.3 631.4 423.2 631.4 424.1 631.2 424.3 630.8 424.5 629.5 424.8 626.9 424.9 624.5 425 622.9 425.3 619 425.5 617.4 425.7 619 425.8 619.5 426 622.9 426.2 626.9 426.5 629.5 426.6 630.5 426.7 630.8 427.5 631.4 428.4 631.4 429.2 631.4 430.1 631.4 430.9 631.4 431.8 631.4 432.6 631.4 433.5 631.4 434.4 631.4 435.2 631.4 436.1 631.4 436.9 631.4 437.8 631.4 438.6 631.4 439.5 631.4 440.4 631.4 441.2 631.4 442.1 631.4 442.9 631.4 443.8 631.4 444.7 631.4 445.5 631.4 446.4 631.4 447.2 631.4 448.1 631.4 448.9 631.4 449.8 631.4 450.7 631.4 451.5 631.4 452.4 631.4 453.2 631.4 454.1 631.4 454.9 631.4 455.8 631.4 456.7 631.4 457.5 631.4 458.4 631.4 459.2 631.4 460.1 631.4 461 631.4 461.8 631.4 462.7 631.4 463.5 631.4 464.4 631.4 465.2 631.4 466.1 631.4 467 631.4 467.8 631.4 468.7 631.4 469.5 631.4 470.4 631.4 471.2 631.4 472.1 631.4 473 631.4 473.8 631.4 474.7 631.4 475.5 631.4 476.4 631.4 477.3 631.4 478.1 631.4 479 631.4 479.8 631.4 480.7 631.4 L480.7 631.4Z" fill="#cc0c30"/><path d="M420.6 631.4 421.5 631.4 422.3 631.4 423.2 631.4 424.1 631.2 424.3 630.8 424.5 629.5 424.8 626.9 424.9 624.5 425 622.9 425.3 619 425.5 617.4 425.7 619 425.8 619.5 426 622.9 426.2 626.9 426.5 629.5 426.6 630.5 426.7 630.8 427.5 631.4 428.4 631.4 429.2 631.4 430.1 631.4 430.9 631.4 431.8 631.4 432.6 631.4 433.5 631.4 434.4 631.4 435.2 631.4 436.1 631.4 436.9 631.4 437.8 631.4 438.6 631.4 439.5 631.4 440.4 631.4 441.2 631.4 442.1 631.4 442.9 631.4 443.8 631.4 444.7 631.4 445.5 631.4 446.4 631.4 447.2 631.4 448.1 631.4 448.9 631.4 449.8 631.4 450.7 631.4 451.5 631.4 452.4 631.4 453.2 631.4 454.1 631.4 454.9 631.4 455.8 631.4 456.7 631.4 457.5 631.4 458.4 631.4 459.2 631.4 460.1 631.4 461 631.4 461.8 631.4 462.7 631.4 463.5 631.4 464.4 631.4 465.2 631.4 466.1 631.4 467 631.4 467.8 631.4 468.7 631.4 469.5 631.4 470.4 631.4 471.2 631.4 472.1 631.4 473 631.4 473.8 631.4 474.7 631.4 475.5 631.4 476.4 631.4 477.3 631.4 478.1 631.4 479 631.4 479.8 631.4 480.7 631.4" fill="none" stroke="#3a3a3a" stroke-width="0.45"/><path d="M417.6 576V633.7H479.8" fill="none" stroke="#222" stroke-width="0.9"/><text x="412.4" y="594.3" font-size="5.2" fill="#333" text-anchor="end" stroke="#333" stroke-width="0.18">Obese</text><text x="412.4" y="605" font-size="5.2" fill="#333" text-anchor="end" stroke="#333" stroke-width="0.18">Lean</text><text x="412.4" y="622.8" font-size="5.2" fill="#333" text-anchor="end" stroke="#333" stroke-width="0.18">Obese</text><text x="412.4" y="633.2" font-size="5.2" fill="#333" text-anchor="end" stroke="#333" stroke-width="0.18">Lean</text><path d="M425.5 633.7V635.7M436.32 633.7V635.7M447.14 633.7V635.7M457.96 633.7V635.7M468.78 633.7V635.7M479.6 633.7V635.7M415.2 592.5H417.6M415.2 603.2H417.6M415.2 621H417.6M415.2 631.4H417.6" stroke="#222" stroke-width="0.6" fill="none"/><text x="425.5" y="643.7" font-size="5" fill="#444" text-anchor="middle" stroke="#444" stroke-width="0.18">0</text><text x="436.32" y="643.7" font-size="5" fill="#444" text-anchor="middle" stroke="#444" stroke-width="0.18">1</text><text x="447.14" y="643.7" font-size="5" fill="#444" text-anchor="middle" stroke="#444" stroke-width="0.18">2</text><text x="457.96" y="643.7" font-size="5" fill="#444" text-anchor="middle" stroke="#444" stroke-width="0.18">3</text><text x="468.78" y="643.7" font-size="5" fill="#444" text-anchor="middle" stroke="#444" stroke-width="0.18">4</text><text x="479.6" y="643.7" font-size="5" fill="#444" text-anchor="middle" stroke="#444" stroke-width="0.18">5</text><text x="449.3" y="652.6" font-size="6.4" fill="#333" text-anchor="middle" stroke="#333" stroke-width="0.18" textLength="23.7" lengthAdjust="spacingAndGlyphs">Expression</text><text x="462.5" y="586.2" font-size="4.9" fill="#333" stroke="#333" stroke-width="0.18">PCNA</text><text x="462.5" y="615.8" font-size="4.9" fill="#333" stroke="#333" stroke-width="0.18">MKI67</text><text x="490" y="508.7" font-size="5" fill="#333" stroke="#333" stroke-width="0.18">Celltype</text><rect x="490.1" y="512.9" width="5.5" height="5.4" fill="#164b8e"/><text x="497.9" y="517.3" font-size="5" fill="#333" stroke="#333" stroke-width="0.18">BFU-E</text><rect x="490.1" y="521.7" width="5.5" height="5.4" fill="#3c7cb8"/><text x="497.9" y="526.1" font-size="5" fill="#333" stroke="#333" stroke-width="0.18">CFU-E</text><rect x="490.1" y="530.4" width="5.5" height="5.4" fill="#33a541"/><text x="497.9" y="534.8" font-size="5" fill="#333" stroke="#333" stroke-width="0.18">ProE</text><rect x="490.1" y="539.2" width="5.5" height="5.4" fill="#bc6b28"/><text x="497.9" y="543.6" font-size="5" fill="#333" stroke="#333" stroke-width="0.18">BasoE</text><rect x="490.1" y="548" width="5.5" height="5.4" fill="#cc0c30"/><text x="497.9" y="552.4" font-size="5" fill="#333" stroke="#333" stroke-width="0.18">PolyE</text><rect x="490.1" y="556.7" width="5.5" height="5.4" fill="#f5bedb"/><text x="497.9" y="561.1" font-size="5" fill="#333" stroke="#333" stroke-width="0.18">OrthoE</text><rect x="490.1" y="565.5" width="5.5" height="5.4" fill="#26a9e0"/><text x="497.9" y="569.9" font-size="5" fill="#333" stroke="#333" stroke-width="0.18">Retic</text><text x="489.9" y="594" font-size="5" fill="#333" stroke="#333" stroke-width="0.18">Phase</text><rect x="489.9" y="597.8" width="5.8" height="5.4" fill="#cc0c30"/><text x="497.9" y="602.2" font-size="5" fill="#333" stroke="#333" stroke-width="0.18">G1</text><rect x="489.9" y="606.3" width="5.8" height="5.4" fill="#38ac44"/><text x="497.9" y="610.7" font-size="5" fill="#333" stroke="#333" stroke-width="0.18">G2M</text><rect x="489.9" y="614.6" width="5.8" height="5.4" fill="#26a9e0"/><text x="497.9" y="619" font-size="5" fill="#333" stroke="#333" stroke-width="0.18">S</text>
</svg>
</body></html>
